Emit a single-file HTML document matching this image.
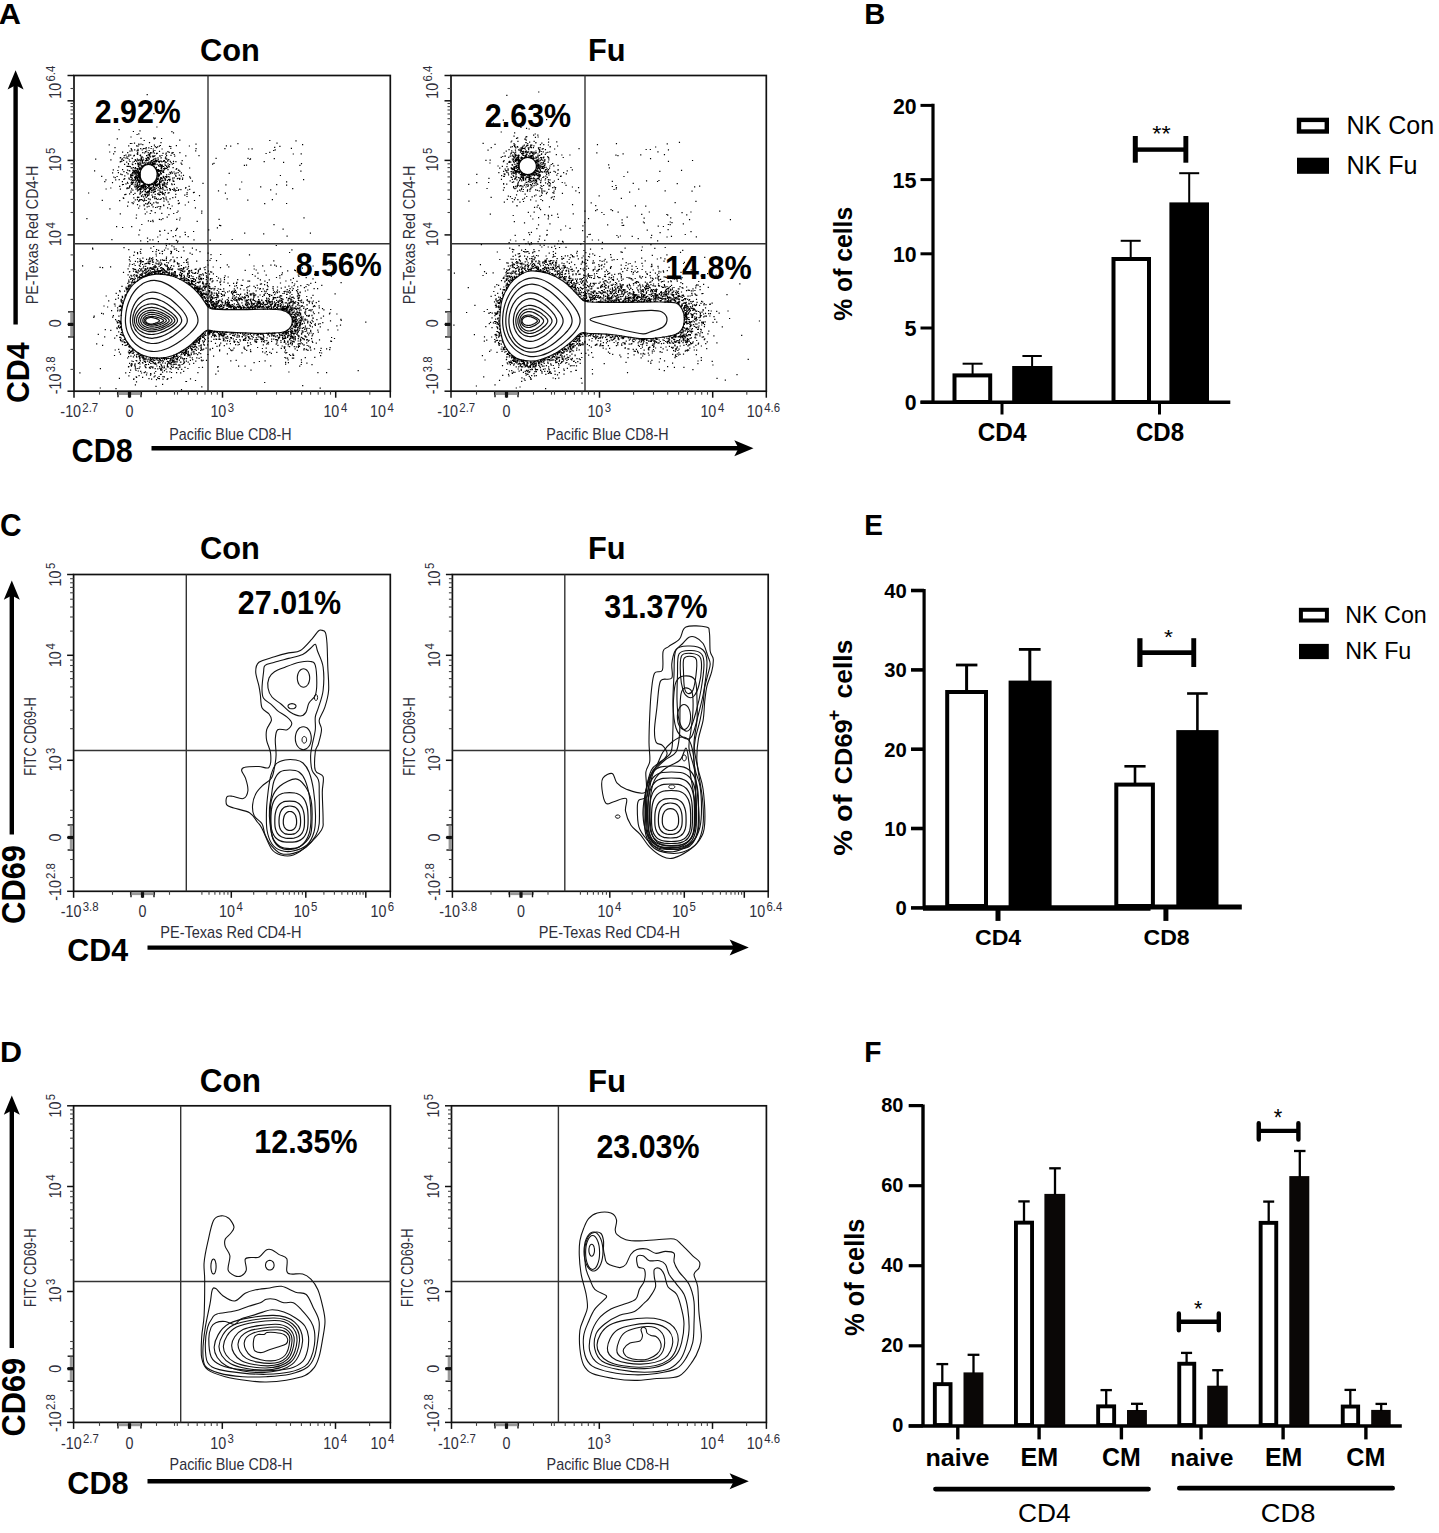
<!DOCTYPE html>
<html><head><meta charset="utf-8"><style>
html,body{margin:0;padding:0;background:#fff;}
svg{display:block;font-family:"Liberation Sans", sans-serif;}
</style></head><body>
<svg width="1439" height="1533" viewBox="0 0 1439 1533">
<rect width="1439" height="1533" fill="#fff"/>
<text x="-1.36" y="23.9" font-size="29.94" font-weight="bold" fill="#000" textLength="22.17" lengthAdjust="spacingAndGlyphs">A</text>
<text x="864.16" y="24" font-size="30.09" font-weight="bold" fill="#000" textLength="20.96" lengthAdjust="spacingAndGlyphs">B</text>
<text x="0.02" y="535.5" font-size="30.51" font-weight="bold" fill="#000" textLength="21.59" lengthAdjust="spacingAndGlyphs">C</text>
<text x="864.23" y="535.4" font-size="29.8" font-weight="bold" fill="#000" textLength="18.67" lengthAdjust="spacingAndGlyphs">E</text>
<text x="0.06" y="1061.7" font-size="29.94" font-weight="bold" fill="#000" textLength="22.02" lengthAdjust="spacingAndGlyphs">D</text>
<text x="864.21" y="1061.7" font-size="29.94" font-weight="bold" fill="#000" textLength="17.22" lengthAdjust="spacingAndGlyphs">F</text>
<text x="200.04" y="60.59" font-size="31.92" font-weight="bold" fill="#000" textLength="59.87" lengthAdjust="spacingAndGlyphs">Con</text>
<text x="587.94" y="60.69" font-size="31.53" font-weight="bold" fill="#000" textLength="37.59" lengthAdjust="spacingAndGlyphs">Fu</text>
<text x="200.04" y="559.09" font-size="31.5" font-weight="bold" fill="#000" textLength="59.87" lengthAdjust="spacingAndGlyphs">Con</text>
<text x="587.94" y="559.29" font-size="31.67" font-weight="bold" fill="#000" textLength="37.59" lengthAdjust="spacingAndGlyphs">Fu</text>
<text x="199.81" y="1091.88" font-size="32.34" font-weight="bold" fill="#000" textLength="61.14" lengthAdjust="spacingAndGlyphs">Con</text>
<text x="587.91" y="1091.69" font-size="31.67" font-weight="bold" fill="#000" textLength="38.15" lengthAdjust="spacingAndGlyphs">Fu</text>
<line x1="15.6" y1="324.5" x2="15.6" y2="84.3" stroke="#000" stroke-width="4.4" stroke-linecap="butt"/>
<path d="M15.6 70.3L23.6 89.5L15.6 85.3L7.6 89.5L15.6 70.3Z" fill="#000"/>
<line x1="151.5" y1="448.2" x2="739.5" y2="448.2" stroke="#000" stroke-width="4.4" stroke-linecap="butt"/>
<path d="M753.5 448.2L734.3 440.2L738.5 448.2L734.3 456.2Z" fill="#000"/>
<line x1="11.8" y1="834.5" x2="11.8" y2="594.5" stroke="#000" stroke-width="4.4" stroke-linecap="butt"/>
<path d="M11.8 580.5L19.8 599.7L11.8 595.5L3.8 599.7L11.8 580.5Z" fill="#000"/>
<line x1="147.5" y1="947.6" x2="734.8" y2="947.6" stroke="#000" stroke-width="4.4" stroke-linecap="butt"/>
<path d="M748.8 947.6L729.6 939.6L733.8 947.6L729.6 955.6Z" fill="#000"/>
<line x1="11.8" y1="1348" x2="11.8" y2="1109.5" stroke="#000" stroke-width="4.4" stroke-linecap="butt"/>
<path d="M11.8 1095.5L19.8 1114.7L11.8 1110.5L3.8 1114.7L11.8 1095.5Z" fill="#000"/>
<line x1="147.5" y1="1481.2" x2="734.8" y2="1481.2" stroke="#000" stroke-width="4.4" stroke-linecap="butt"/>
<path d="M748.8 1481.2L729.6 1473.2L733.8 1481.2L729.6 1489.2Z" fill="#000"/>
<text x="29.19" y="403.04" font-size="31.71" font-weight="bold" fill="#000" textLength="60.71" lengthAdjust="spacingAndGlyphs" transform="rotate(-90 29.19 403.04)">CD4</text>
<text x="25.48" y="923.87" font-size="32.63" font-weight="bold" fill="#000" textLength="78.91" lengthAdjust="spacingAndGlyphs" transform="rotate(-90 25.48 923.87)">CD69</text>
<text x="25.48" y="1436.46" font-size="32.63" font-weight="bold" fill="#000" textLength="78.6" lengthAdjust="spacingAndGlyphs" transform="rotate(-90 25.48 1436.46)">CD69</text>
<text x="71.54" y="461.88" font-size="32.34" font-weight="bold" fill="#000" textLength="61.4" lengthAdjust="spacingAndGlyphs">CD8</text>
<text x="67.35" y="960.89" font-size="32.06" font-weight="bold" fill="#000" textLength="60.81" lengthAdjust="spacingAndGlyphs">CD4</text>
<text x="67.34" y="1494.09" font-size="31.92" font-weight="bold" fill="#000" textLength="61.3" lengthAdjust="spacingAndGlyphs">CD8</text>
<rect x="74" y="75.5" width="316.3" height="315.7" fill="none" stroke="#111" stroke-width="1.7"/>
<line x1="208" y1="75.5" x2="208" y2="391.2" stroke="#333" stroke-width="1.4" stroke-linecap="butt"/>
<line x1="74" y1="243.7" x2="390.3" y2="243.7" stroke="#333" stroke-width="1.4" stroke-linecap="butt"/>
<line x1="129.5" y1="391.2" x2="129.5" y2="397.7" stroke="#111" stroke-width="1.5" stroke-linecap="butt"/>
<line x1="222.5" y1="391.2" x2="222.5" y2="397.7" stroke="#111" stroke-width="1.5" stroke-linecap="butt"/>
<line x1="335.7" y1="391.2" x2="335.7" y2="397.7" stroke="#111" stroke-width="1.5" stroke-linecap="butt"/>
<line x1="74" y1="391.2" x2="74" y2="397.7" stroke="#111" stroke-width="1.5" stroke-linecap="butt"/>
<line x1="390.3" y1="391.2" x2="390.3" y2="397.7" stroke="#111" stroke-width="1.5" stroke-linecap="butt"/>
<line x1="177.5" y1="391.2" x2="177.5" y2="394.7" stroke="#444" stroke-width="1.1" stroke-linecap="butt"/>
<line x1="188.4" y1="391.2" x2="188.4" y2="394.7" stroke="#444" stroke-width="1.1" stroke-linecap="butt"/>
<line x1="197.4" y1="391.2" x2="197.4" y2="394.7" stroke="#444" stroke-width="1.1" stroke-linecap="butt"/>
<line x1="205" y1="391.2" x2="205" y2="394.7" stroke="#444" stroke-width="1.1" stroke-linecap="butt"/>
<line x1="211.5" y1="391.2" x2="211.5" y2="394.7" stroke="#444" stroke-width="1.1" stroke-linecap="butt"/>
<line x1="217.3" y1="391.2" x2="217.3" y2="394.7" stroke="#444" stroke-width="1.1" stroke-linecap="butt"/>
<line x1="256.6" y1="391.2" x2="256.6" y2="394.7" stroke="#444" stroke-width="1.1" stroke-linecap="butt"/>
<line x1="276.5" y1="391.2" x2="276.5" y2="394.7" stroke="#444" stroke-width="1.1" stroke-linecap="butt"/>
<line x1="290.7" y1="391.2" x2="290.7" y2="394.7" stroke="#444" stroke-width="1.1" stroke-linecap="butt"/>
<line x1="301.6" y1="391.2" x2="301.6" y2="394.7" stroke="#444" stroke-width="1.1" stroke-linecap="butt"/>
<line x1="310.6" y1="391.2" x2="310.6" y2="394.7" stroke="#444" stroke-width="1.1" stroke-linecap="butt"/>
<line x1="318.2" y1="391.2" x2="318.2" y2="394.7" stroke="#444" stroke-width="1.1" stroke-linecap="butt"/>
<line x1="324.7" y1="391.2" x2="324.7" y2="394.7" stroke="#444" stroke-width="1.1" stroke-linecap="butt"/>
<line x1="330.5" y1="391.2" x2="330.5" y2="394.7" stroke="#444" stroke-width="1.1" stroke-linecap="butt"/>
<line x1="369.8" y1="391.2" x2="369.8" y2="394.7" stroke="#444" stroke-width="1.1" stroke-linecap="butt"/>
<line x1="117.5" y1="391.2" x2="117.5" y2="394.7" stroke="#444" stroke-width="1.1" stroke-linecap="butt"/>
<line x1="141.5" y1="391.2" x2="141.5" y2="394.7" stroke="#444" stroke-width="1.1" stroke-linecap="butt"/>
<line x1="99.5" y1="391.2" x2="99.5" y2="394.7" stroke="#444" stroke-width="1.1" stroke-linecap="butt"/>
<line x1="156.5" y1="391.2" x2="156.5" y2="394.7" stroke="#444" stroke-width="1.1" stroke-linecap="butt"/>
<line x1="174.5" y1="391.2" x2="174.5" y2="394.7" stroke="#444" stroke-width="1.1" stroke-linecap="butt"/>
<line x1="67.5" y1="100.8" x2="74" y2="100.8" stroke="#111" stroke-width="1.5" stroke-linecap="butt"/>
<line x1="67.5" y1="160.4" x2="74" y2="160.4" stroke="#111" stroke-width="1.5" stroke-linecap="butt"/>
<line x1="67.5" y1="234.9" x2="74" y2="234.9" stroke="#111" stroke-width="1.5" stroke-linecap="butt"/>
<line x1="67.5" y1="324.4" x2="74" y2="324.4" stroke="#111" stroke-width="1.5" stroke-linecap="butt"/>
<line x1="67.5" y1="75.5" x2="74" y2="75.5" stroke="#111" stroke-width="1.5" stroke-linecap="butt"/>
<line x1="67.5" y1="391.2" x2="74" y2="391.2" stroke="#111" stroke-width="1.5" stroke-linecap="butt"/>
<line x1="70.5" y1="142.5" x2="74" y2="142.5" stroke="#444" stroke-width="1.1" stroke-linecap="butt"/>
<line x1="70.5" y1="132" x2="74" y2="132" stroke="#444" stroke-width="1.1" stroke-linecap="butt"/>
<line x1="70.5" y1="124.5" x2="74" y2="124.5" stroke="#444" stroke-width="1.1" stroke-linecap="butt"/>
<line x1="70.5" y1="118.7" x2="74" y2="118.7" stroke="#444" stroke-width="1.1" stroke-linecap="butt"/>
<line x1="70.5" y1="114" x2="74" y2="114" stroke="#444" stroke-width="1.1" stroke-linecap="butt"/>
<line x1="70.5" y1="110" x2="74" y2="110" stroke="#444" stroke-width="1.1" stroke-linecap="butt"/>
<line x1="70.5" y1="106.6" x2="74" y2="106.6" stroke="#444" stroke-width="1.1" stroke-linecap="butt"/>
<line x1="70.5" y1="103.5" x2="74" y2="103.5" stroke="#444" stroke-width="1.1" stroke-linecap="butt"/>
<line x1="70.5" y1="212.5" x2="74" y2="212.5" stroke="#444" stroke-width="1.1" stroke-linecap="butt"/>
<line x1="70.5" y1="199.4" x2="74" y2="199.4" stroke="#444" stroke-width="1.1" stroke-linecap="butt"/>
<line x1="70.5" y1="190" x2="74" y2="190" stroke="#444" stroke-width="1.1" stroke-linecap="butt"/>
<line x1="70.5" y1="182.8" x2="74" y2="182.8" stroke="#444" stroke-width="1.1" stroke-linecap="butt"/>
<line x1="70.5" y1="176.9" x2="74" y2="176.9" stroke="#444" stroke-width="1.1" stroke-linecap="butt"/>
<line x1="70.5" y1="171.9" x2="74" y2="171.9" stroke="#444" stroke-width="1.1" stroke-linecap="butt"/>
<line x1="70.5" y1="167.6" x2="74" y2="167.6" stroke="#444" stroke-width="1.1" stroke-linecap="butt"/>
<line x1="70.5" y1="163.8" x2="74" y2="163.8" stroke="#444" stroke-width="1.1" stroke-linecap="butt"/>
<line x1="70.5" y1="254.9" x2="74" y2="254.9" stroke="#444" stroke-width="1.1" stroke-linecap="butt"/>
<line x1="70.5" y1="269.9" x2="74" y2="269.9" stroke="#444" stroke-width="1.1" stroke-linecap="butt"/>
<line x1="70.5" y1="299.4" x2="74" y2="299.4" stroke="#444" stroke-width="1.1" stroke-linecap="butt"/>
<line x1="70.5" y1="349.4" x2="74" y2="349.4" stroke="#444" stroke-width="1.1" stroke-linecap="butt"/>
<line x1="70.5" y1="369.4" x2="74" y2="369.4" stroke="#444" stroke-width="1.1" stroke-linecap="butt"/>
<line x1="70.5" y1="88.5" x2="74" y2="88.5" stroke="#444" stroke-width="1.1" stroke-linecap="butt"/>
<line x1="118" y1="391.2" x2="118" y2="397.2" stroke="#111" stroke-width="1.4" stroke-linecap="butt"/>
<line x1="141" y1="391.2" x2="141" y2="397.2" stroke="#111" stroke-width="1.4" stroke-linecap="butt"/>
<rect x="118.5" y="392" width="22" height="3" fill="#999" stroke="none" stroke-width="0"/>
<rect x="127.9" y="392" width="3.2" height="5.5" fill="#111" stroke="none" stroke-width="0"/>
<line x1="68" y1="311.9" x2="74" y2="311.9" stroke="#111" stroke-width="1.4" stroke-linecap="butt"/>
<line x1="68" y1="336.9" x2="74" y2="336.9" stroke="#111" stroke-width="1.4" stroke-linecap="butt"/>
<rect x="70.2" y="312.4" width="3" height="24" fill="#999" stroke="none" stroke-width="0"/>
<rect x="68" y="322.8" width="5.5" height="3.2" fill="#111" stroke="none" stroke-width="0"/>
<g transform="translate(61 417.2)" fill="#2e2e3a"><text x="-0.64" y="0" font-size="16.64" textLength="20.69" lengthAdjust="spacingAndGlyphs">-10</text><text x="21.32" y="-5.7" font-size="13.26" textLength="15.85" lengthAdjust="spacingAndGlyphs">2.7</text></g>
<g transform="translate(126.08 417.2)" fill="#2e2e3a"><text x="-0.56" y="0" font-size="16.64" textLength="7.96" lengthAdjust="spacingAndGlyphs">0</text></g>
<g transform="translate(211.46 417.2)" fill="#2e2e3a"><text x="-1.09" y="0" font-size="16.64" textLength="15.92" lengthAdjust="spacingAndGlyphs">10</text><text x="16.24" y="-5.7" font-size="13.26" textLength="6.34" lengthAdjust="spacingAndGlyphs">3</text></g>
<g transform="translate(324.49 417.2)" fill="#2e2e3a"><text x="-1.09" y="0" font-size="16.64" textLength="15.92" lengthAdjust="spacingAndGlyphs">10</text><text x="16.41" y="-5.7" font-size="13.26" textLength="6.34" lengthAdjust="spacingAndGlyphs">4</text></g>
<g transform="translate(371 417.2)" fill="#2e2e3a"><text x="-1.09" y="0" font-size="16.64" textLength="15.92" lengthAdjust="spacingAndGlyphs">10</text><text x="16.41" y="-5.7" font-size="13.26" textLength="6.34" lengthAdjust="spacingAndGlyphs">4</text></g>
<g transform="translate(61.15 97.6) rotate(-90)" fill="#2e2e3a"><text x="-1.09" y="0" font-size="16.64" textLength="15.92" lengthAdjust="spacingAndGlyphs">10</text><text x="16.09" y="-5.7" font-size="13.26" textLength="15.85" lengthAdjust="spacingAndGlyphs">6.4</text></g>
<g transform="translate(61.15 170.24) rotate(-90)" fill="#2e2e3a"><text x="-1.09" y="0" font-size="16.64" textLength="15.92" lengthAdjust="spacingAndGlyphs">10</text><text x="16.21" y="-5.7" font-size="13.26" textLength="6.34" lengthAdjust="spacingAndGlyphs">5</text></g>
<g transform="translate(61.15 244.91) rotate(-90)" fill="#2e2e3a"><text x="-1.09" y="0" font-size="16.64" textLength="15.92" lengthAdjust="spacingAndGlyphs">10</text><text x="16.41" y="-5.7" font-size="13.26" textLength="6.34" lengthAdjust="spacingAndGlyphs">4</text></g>
<g transform="translate(61.15 326.7) rotate(-90)" fill="#2e2e3a"><text x="-0.56" y="0" font-size="16.64" textLength="7.96" lengthAdjust="spacingAndGlyphs">0</text></g>
<g transform="translate(61.15 393.7) rotate(-90)" fill="#2e2e3a"><text x="-0.64" y="0" font-size="16.64" textLength="20.69" lengthAdjust="spacingAndGlyphs">-10</text><text x="21.46" y="-5.7" font-size="13.26" textLength="15.85" lengthAdjust="spacingAndGlyphs">3.8</text></g>
<text x="169.3" y="439.5" font-size="17" fill="#2e2e3a" textLength="122.3" lengthAdjust="spacingAndGlyphs">Pacific Blue CD8-H</text>
<text x="37.6" y="304.2" font-size="17" fill="#2e2e3a" textLength="138.6" lengthAdjust="spacingAndGlyphs" transform="rotate(-90 37.6 304.2)">PE-Texas Red CD4-H</text>
<rect x="451" y="75.5" width="315.3" height="315.7" fill="none" stroke="#111" stroke-width="1.7"/>
<line x1="585" y1="75.5" x2="585" y2="391.2" stroke="#333" stroke-width="1.4" stroke-linecap="butt"/>
<line x1="451" y1="243.7" x2="766.3" y2="243.7" stroke="#333" stroke-width="1.4" stroke-linecap="butt"/>
<line x1="506.5" y1="391.2" x2="506.5" y2="397.7" stroke="#111" stroke-width="1.5" stroke-linecap="butt"/>
<line x1="599.5" y1="391.2" x2="599.5" y2="397.7" stroke="#111" stroke-width="1.5" stroke-linecap="butt"/>
<line x1="712.7" y1="391.2" x2="712.7" y2="397.7" stroke="#111" stroke-width="1.5" stroke-linecap="butt"/>
<line x1="451" y1="391.2" x2="451" y2="397.7" stroke="#111" stroke-width="1.5" stroke-linecap="butt"/>
<line x1="766.3" y1="391.2" x2="766.3" y2="397.7" stroke="#111" stroke-width="1.5" stroke-linecap="butt"/>
<line x1="554.5" y1="391.2" x2="554.5" y2="394.7" stroke="#444" stroke-width="1.1" stroke-linecap="butt"/>
<line x1="565.4" y1="391.2" x2="565.4" y2="394.7" stroke="#444" stroke-width="1.1" stroke-linecap="butt"/>
<line x1="574.4" y1="391.2" x2="574.4" y2="394.7" stroke="#444" stroke-width="1.1" stroke-linecap="butt"/>
<line x1="582" y1="391.2" x2="582" y2="394.7" stroke="#444" stroke-width="1.1" stroke-linecap="butt"/>
<line x1="588.5" y1="391.2" x2="588.5" y2="394.7" stroke="#444" stroke-width="1.1" stroke-linecap="butt"/>
<line x1="594.3" y1="391.2" x2="594.3" y2="394.7" stroke="#444" stroke-width="1.1" stroke-linecap="butt"/>
<line x1="633.6" y1="391.2" x2="633.6" y2="394.7" stroke="#444" stroke-width="1.1" stroke-linecap="butt"/>
<line x1="653.5" y1="391.2" x2="653.5" y2="394.7" stroke="#444" stroke-width="1.1" stroke-linecap="butt"/>
<line x1="667.7" y1="391.2" x2="667.7" y2="394.7" stroke="#444" stroke-width="1.1" stroke-linecap="butt"/>
<line x1="678.6" y1="391.2" x2="678.6" y2="394.7" stroke="#444" stroke-width="1.1" stroke-linecap="butt"/>
<line x1="687.6" y1="391.2" x2="687.6" y2="394.7" stroke="#444" stroke-width="1.1" stroke-linecap="butt"/>
<line x1="695.2" y1="391.2" x2="695.2" y2="394.7" stroke="#444" stroke-width="1.1" stroke-linecap="butt"/>
<line x1="701.7" y1="391.2" x2="701.7" y2="394.7" stroke="#444" stroke-width="1.1" stroke-linecap="butt"/>
<line x1="707.5" y1="391.2" x2="707.5" y2="394.7" stroke="#444" stroke-width="1.1" stroke-linecap="butt"/>
<line x1="746.8" y1="391.2" x2="746.8" y2="394.7" stroke="#444" stroke-width="1.1" stroke-linecap="butt"/>
<line x1="494.5" y1="391.2" x2="494.5" y2="394.7" stroke="#444" stroke-width="1.1" stroke-linecap="butt"/>
<line x1="518.5" y1="391.2" x2="518.5" y2="394.7" stroke="#444" stroke-width="1.1" stroke-linecap="butt"/>
<line x1="476.5" y1="391.2" x2="476.5" y2="394.7" stroke="#444" stroke-width="1.1" stroke-linecap="butt"/>
<line x1="533.5" y1="391.2" x2="533.5" y2="394.7" stroke="#444" stroke-width="1.1" stroke-linecap="butt"/>
<line x1="551.5" y1="391.2" x2="551.5" y2="394.7" stroke="#444" stroke-width="1.1" stroke-linecap="butt"/>
<line x1="444.5" y1="100.8" x2="451" y2="100.8" stroke="#111" stroke-width="1.5" stroke-linecap="butt"/>
<line x1="444.5" y1="160.4" x2="451" y2="160.4" stroke="#111" stroke-width="1.5" stroke-linecap="butt"/>
<line x1="444.5" y1="234.9" x2="451" y2="234.9" stroke="#111" stroke-width="1.5" stroke-linecap="butt"/>
<line x1="444.5" y1="324.4" x2="451" y2="324.4" stroke="#111" stroke-width="1.5" stroke-linecap="butt"/>
<line x1="444.5" y1="75.5" x2="451" y2="75.5" stroke="#111" stroke-width="1.5" stroke-linecap="butt"/>
<line x1="444.5" y1="391.2" x2="451" y2="391.2" stroke="#111" stroke-width="1.5" stroke-linecap="butt"/>
<line x1="447.5" y1="142.5" x2="451" y2="142.5" stroke="#444" stroke-width="1.1" stroke-linecap="butt"/>
<line x1="447.5" y1="132" x2="451" y2="132" stroke="#444" stroke-width="1.1" stroke-linecap="butt"/>
<line x1="447.5" y1="124.5" x2="451" y2="124.5" stroke="#444" stroke-width="1.1" stroke-linecap="butt"/>
<line x1="447.5" y1="118.7" x2="451" y2="118.7" stroke="#444" stroke-width="1.1" stroke-linecap="butt"/>
<line x1="447.5" y1="114" x2="451" y2="114" stroke="#444" stroke-width="1.1" stroke-linecap="butt"/>
<line x1="447.5" y1="110" x2="451" y2="110" stroke="#444" stroke-width="1.1" stroke-linecap="butt"/>
<line x1="447.5" y1="106.6" x2="451" y2="106.6" stroke="#444" stroke-width="1.1" stroke-linecap="butt"/>
<line x1="447.5" y1="103.5" x2="451" y2="103.5" stroke="#444" stroke-width="1.1" stroke-linecap="butt"/>
<line x1="447.5" y1="212.5" x2="451" y2="212.5" stroke="#444" stroke-width="1.1" stroke-linecap="butt"/>
<line x1="447.5" y1="199.4" x2="451" y2="199.4" stroke="#444" stroke-width="1.1" stroke-linecap="butt"/>
<line x1="447.5" y1="190" x2="451" y2="190" stroke="#444" stroke-width="1.1" stroke-linecap="butt"/>
<line x1="447.5" y1="182.8" x2="451" y2="182.8" stroke="#444" stroke-width="1.1" stroke-linecap="butt"/>
<line x1="447.5" y1="176.9" x2="451" y2="176.9" stroke="#444" stroke-width="1.1" stroke-linecap="butt"/>
<line x1="447.5" y1="171.9" x2="451" y2="171.9" stroke="#444" stroke-width="1.1" stroke-linecap="butt"/>
<line x1="447.5" y1="167.6" x2="451" y2="167.6" stroke="#444" stroke-width="1.1" stroke-linecap="butt"/>
<line x1="447.5" y1="163.8" x2="451" y2="163.8" stroke="#444" stroke-width="1.1" stroke-linecap="butt"/>
<line x1="447.5" y1="254.9" x2="451" y2="254.9" stroke="#444" stroke-width="1.1" stroke-linecap="butt"/>
<line x1="447.5" y1="269.9" x2="451" y2="269.9" stroke="#444" stroke-width="1.1" stroke-linecap="butt"/>
<line x1="447.5" y1="299.4" x2="451" y2="299.4" stroke="#444" stroke-width="1.1" stroke-linecap="butt"/>
<line x1="447.5" y1="349.4" x2="451" y2="349.4" stroke="#444" stroke-width="1.1" stroke-linecap="butt"/>
<line x1="447.5" y1="369.4" x2="451" y2="369.4" stroke="#444" stroke-width="1.1" stroke-linecap="butt"/>
<line x1="447.5" y1="88.5" x2="451" y2="88.5" stroke="#444" stroke-width="1.1" stroke-linecap="butt"/>
<line x1="495" y1="391.2" x2="495" y2="397.2" stroke="#111" stroke-width="1.4" stroke-linecap="butt"/>
<line x1="518" y1="391.2" x2="518" y2="397.2" stroke="#111" stroke-width="1.4" stroke-linecap="butt"/>
<rect x="495.5" y="392" width="22" height="3" fill="#999" stroke="none" stroke-width="0"/>
<rect x="504.9" y="392" width="3.2" height="5.5" fill="#111" stroke="none" stroke-width="0"/>
<line x1="445" y1="311.9" x2="451" y2="311.9" stroke="#111" stroke-width="1.4" stroke-linecap="butt"/>
<line x1="445" y1="336.9" x2="451" y2="336.9" stroke="#111" stroke-width="1.4" stroke-linecap="butt"/>
<rect x="447.2" y="312.4" width="3" height="24" fill="#999" stroke="none" stroke-width="0"/>
<rect x="445" y="322.8" width="5.5" height="3.2" fill="#111" stroke="none" stroke-width="0"/>
<g transform="translate(438 417.2)" fill="#2e2e3a"><text x="-0.64" y="0" font-size="16.64" textLength="20.69" lengthAdjust="spacingAndGlyphs">-10</text><text x="21.32" y="-5.7" font-size="13.26" textLength="15.85" lengthAdjust="spacingAndGlyphs">2.7</text></g>
<g transform="translate(503.08 417.2)" fill="#2e2e3a"><text x="-0.56" y="0" font-size="16.64" textLength="7.96" lengthAdjust="spacingAndGlyphs">0</text></g>
<g transform="translate(588.46 417.2)" fill="#2e2e3a"><text x="-1.09" y="0" font-size="16.64" textLength="15.92" lengthAdjust="spacingAndGlyphs">10</text><text x="16.24" y="-5.7" font-size="13.26" textLength="6.34" lengthAdjust="spacingAndGlyphs">3</text></g>
<g transform="translate(701.49 417.2)" fill="#2e2e3a"><text x="-1.09" y="0" font-size="16.64" textLength="15.92" lengthAdjust="spacingAndGlyphs">10</text><text x="16.41" y="-5.7" font-size="13.26" textLength="6.34" lengthAdjust="spacingAndGlyphs">4</text></g>
<g transform="translate(747.8 417.2)" fill="#2e2e3a"><text x="-1.09" y="0" font-size="16.64" textLength="15.92" lengthAdjust="spacingAndGlyphs">10</text><text x="16.41" y="-5.7" font-size="13.26" textLength="15.85" lengthAdjust="spacingAndGlyphs">4.6</text></g>
<g transform="translate(438.15 97.6) rotate(-90)" fill="#2e2e3a"><text x="-1.09" y="0" font-size="16.64" textLength="15.92" lengthAdjust="spacingAndGlyphs">10</text><text x="16.09" y="-5.7" font-size="13.26" textLength="15.85" lengthAdjust="spacingAndGlyphs">6.4</text></g>
<g transform="translate(438.15 170.24) rotate(-90)" fill="#2e2e3a"><text x="-1.09" y="0" font-size="16.64" textLength="15.92" lengthAdjust="spacingAndGlyphs">10</text><text x="16.21" y="-5.7" font-size="13.26" textLength="6.34" lengthAdjust="spacingAndGlyphs">5</text></g>
<g transform="translate(438.15 244.91) rotate(-90)" fill="#2e2e3a"><text x="-1.09" y="0" font-size="16.64" textLength="15.92" lengthAdjust="spacingAndGlyphs">10</text><text x="16.41" y="-5.7" font-size="13.26" textLength="6.34" lengthAdjust="spacingAndGlyphs">4</text></g>
<g transform="translate(438.15 326.7) rotate(-90)" fill="#2e2e3a"><text x="-0.56" y="0" font-size="16.64" textLength="7.96" lengthAdjust="spacingAndGlyphs">0</text></g>
<g transform="translate(438.15 393.7) rotate(-90)" fill="#2e2e3a"><text x="-0.64" y="0" font-size="16.64" textLength="20.69" lengthAdjust="spacingAndGlyphs">-10</text><text x="21.46" y="-5.7" font-size="13.26" textLength="15.85" lengthAdjust="spacingAndGlyphs">3.8</text></g>
<text x="546.3" y="439.5" font-size="17" fill="#2e2e3a" textLength="122.3" lengthAdjust="spacingAndGlyphs">Pacific Blue CD8-H</text>
<text x="414.6" y="304.2" font-size="17" fill="#2e2e3a" textLength="138.6" lengthAdjust="spacingAndGlyphs" transform="rotate(-90 414.6 304.2)">PE-Texas Red CD4-H</text>
<rect x="73.6" y="574.5" width="316.7" height="316.8" fill="none" stroke="#111" stroke-width="1.7"/>
<line x1="186.3" y1="574.5" x2="186.3" y2="891.3" stroke="#333" stroke-width="1.4" stroke-linecap="butt"/>
<line x1="73.6" y1="750.5" x2="390.3" y2="750.5" stroke="#333" stroke-width="1.4" stroke-linecap="butt"/>
<line x1="142.5" y1="891.3" x2="142.5" y2="897.8" stroke="#111" stroke-width="1.5" stroke-linecap="butt"/>
<line x1="231.3" y1="891.3" x2="231.3" y2="897.8" stroke="#111" stroke-width="1.5" stroke-linecap="butt"/>
<line x1="305.8" y1="891.3" x2="305.8" y2="897.8" stroke="#111" stroke-width="1.5" stroke-linecap="butt"/>
<line x1="365.8" y1="891.3" x2="365.8" y2="897.8" stroke="#111" stroke-width="1.5" stroke-linecap="butt"/>
<line x1="73.6" y1="891.3" x2="73.6" y2="897.8" stroke="#111" stroke-width="1.5" stroke-linecap="butt"/>
<line x1="390.3" y1="891.3" x2="390.3" y2="897.8" stroke="#111" stroke-width="1.5" stroke-linecap="butt"/>
<line x1="253.7" y1="891.3" x2="253.7" y2="894.8" stroke="#444" stroke-width="1.1" stroke-linecap="butt"/>
<line x1="266.8" y1="891.3" x2="266.8" y2="894.8" stroke="#444" stroke-width="1.1" stroke-linecap="butt"/>
<line x1="276.2" y1="891.3" x2="276.2" y2="894.8" stroke="#444" stroke-width="1.1" stroke-linecap="butt"/>
<line x1="283.4" y1="891.3" x2="283.4" y2="894.8" stroke="#444" stroke-width="1.1" stroke-linecap="butt"/>
<line x1="289.3" y1="891.3" x2="289.3" y2="894.8" stroke="#444" stroke-width="1.1" stroke-linecap="butt"/>
<line x1="294.3" y1="891.3" x2="294.3" y2="894.8" stroke="#444" stroke-width="1.1" stroke-linecap="butt"/>
<line x1="298.6" y1="891.3" x2="298.6" y2="894.8" stroke="#444" stroke-width="1.1" stroke-linecap="butt"/>
<line x1="302.4" y1="891.3" x2="302.4" y2="894.8" stroke="#444" stroke-width="1.1" stroke-linecap="butt"/>
<line x1="323.9" y1="891.3" x2="323.9" y2="894.8" stroke="#444" stroke-width="1.1" stroke-linecap="butt"/>
<line x1="334.4" y1="891.3" x2="334.4" y2="894.8" stroke="#444" stroke-width="1.1" stroke-linecap="butt"/>
<line x1="341.9" y1="891.3" x2="341.9" y2="894.8" stroke="#444" stroke-width="1.1" stroke-linecap="butt"/>
<line x1="347.7" y1="891.3" x2="347.7" y2="894.8" stroke="#444" stroke-width="1.1" stroke-linecap="butt"/>
<line x1="352.5" y1="891.3" x2="352.5" y2="894.8" stroke="#444" stroke-width="1.1" stroke-linecap="butt"/>
<line x1="356.5" y1="891.3" x2="356.5" y2="894.8" stroke="#444" stroke-width="1.1" stroke-linecap="butt"/>
<line x1="360" y1="891.3" x2="360" y2="894.8" stroke="#444" stroke-width="1.1" stroke-linecap="butt"/>
<line x1="363.1" y1="891.3" x2="363.1" y2="894.8" stroke="#444" stroke-width="1.1" stroke-linecap="butt"/>
<line x1="201.9" y1="891.3" x2="201.9" y2="894.8" stroke="#444" stroke-width="1.1" stroke-linecap="butt"/>
<line x1="209" y1="891.3" x2="209" y2="894.8" stroke="#444" stroke-width="1.1" stroke-linecap="butt"/>
<line x1="214.9" y1="891.3" x2="214.9" y2="894.8" stroke="#444" stroke-width="1.1" stroke-linecap="butt"/>
<line x1="219.8" y1="891.3" x2="219.8" y2="894.8" stroke="#444" stroke-width="1.1" stroke-linecap="butt"/>
<line x1="224.1" y1="891.3" x2="224.1" y2="894.8" stroke="#444" stroke-width="1.1" stroke-linecap="butt"/>
<line x1="227.9" y1="891.3" x2="227.9" y2="894.8" stroke="#444" stroke-width="1.1" stroke-linecap="butt"/>
<line x1="130.5" y1="891.3" x2="130.5" y2="894.8" stroke="#444" stroke-width="1.1" stroke-linecap="butt"/>
<line x1="154.5" y1="891.3" x2="154.5" y2="894.8" stroke="#444" stroke-width="1.1" stroke-linecap="butt"/>
<line x1="112.5" y1="891.3" x2="112.5" y2="894.8" stroke="#444" stroke-width="1.1" stroke-linecap="butt"/>
<line x1="169.5" y1="891.3" x2="169.5" y2="894.8" stroke="#444" stroke-width="1.1" stroke-linecap="butt"/>
<line x1="67.1" y1="655.3" x2="73.6" y2="655.3" stroke="#111" stroke-width="1.5" stroke-linecap="butt"/>
<line x1="67.1" y1="760.3" x2="73.6" y2="760.3" stroke="#111" stroke-width="1.5" stroke-linecap="butt"/>
<line x1="67.1" y1="837.5" x2="73.6" y2="837.5" stroke="#111" stroke-width="1.5" stroke-linecap="butt"/>
<line x1="67.1" y1="574.5" x2="73.6" y2="574.5" stroke="#111" stroke-width="1.5" stroke-linecap="butt"/>
<line x1="67.1" y1="891.3" x2="73.6" y2="891.3" stroke="#111" stroke-width="1.5" stroke-linecap="butt"/>
<line x1="70.1" y1="631.1" x2="73.6" y2="631.1" stroke="#444" stroke-width="1.1" stroke-linecap="butt"/>
<line x1="70.1" y1="617" x2="73.6" y2="617" stroke="#444" stroke-width="1.1" stroke-linecap="butt"/>
<line x1="70.1" y1="607" x2="73.6" y2="607" stroke="#444" stroke-width="1.1" stroke-linecap="butt"/>
<line x1="70.1" y1="599.2" x2="73.6" y2="599.2" stroke="#444" stroke-width="1.1" stroke-linecap="butt"/>
<line x1="70.1" y1="592.8" x2="73.6" y2="592.8" stroke="#444" stroke-width="1.1" stroke-linecap="butt"/>
<line x1="70.1" y1="587.4" x2="73.6" y2="587.4" stroke="#444" stroke-width="1.1" stroke-linecap="butt"/>
<line x1="70.1" y1="582.8" x2="73.6" y2="582.8" stroke="#444" stroke-width="1.1" stroke-linecap="butt"/>
<line x1="70.1" y1="578.7" x2="73.6" y2="578.7" stroke="#444" stroke-width="1.1" stroke-linecap="butt"/>
<line x1="70.1" y1="728.7" x2="73.6" y2="728.7" stroke="#444" stroke-width="1.1" stroke-linecap="butt"/>
<line x1="70.1" y1="710.2" x2="73.6" y2="710.2" stroke="#444" stroke-width="1.1" stroke-linecap="butt"/>
<line x1="70.1" y1="697.1" x2="73.6" y2="697.1" stroke="#444" stroke-width="1.1" stroke-linecap="butt"/>
<line x1="70.1" y1="686.9" x2="73.6" y2="686.9" stroke="#444" stroke-width="1.1" stroke-linecap="butt"/>
<line x1="70.1" y1="678.6" x2="73.6" y2="678.6" stroke="#444" stroke-width="1.1" stroke-linecap="butt"/>
<line x1="70.1" y1="671.6" x2="73.6" y2="671.6" stroke="#444" stroke-width="1.1" stroke-linecap="butt"/>
<line x1="70.1" y1="665.5" x2="73.6" y2="665.5" stroke="#444" stroke-width="1.1" stroke-linecap="butt"/>
<line x1="70.1" y1="660.1" x2="73.6" y2="660.1" stroke="#444" stroke-width="1.1" stroke-linecap="butt"/>
<line x1="70.1" y1="790.3" x2="73.6" y2="790.3" stroke="#444" stroke-width="1.1" stroke-linecap="butt"/>
<line x1="70.1" y1="810.3" x2="73.6" y2="810.3" stroke="#444" stroke-width="1.1" stroke-linecap="butt"/>
<line x1="70.1" y1="817.5" x2="73.6" y2="817.5" stroke="#444" stroke-width="1.1" stroke-linecap="butt"/>
<line x1="70.1" y1="859.5" x2="73.6" y2="859.5" stroke="#444" stroke-width="1.1" stroke-linecap="butt"/>
<line x1="70.1" y1="877.5" x2="73.6" y2="877.5" stroke="#444" stroke-width="1.1" stroke-linecap="butt"/>
<line x1="131" y1="891.3" x2="131" y2="897.3" stroke="#111" stroke-width="1.4" stroke-linecap="butt"/>
<line x1="154" y1="891.3" x2="154" y2="897.3" stroke="#111" stroke-width="1.4" stroke-linecap="butt"/>
<rect x="131.5" y="892.1" width="22" height="3" fill="#999" stroke="none" stroke-width="0"/>
<rect x="140.9" y="892.1" width="3.2" height="5.5" fill="#111" stroke="none" stroke-width="0"/>
<line x1="67.6" y1="825" x2="73.6" y2="825" stroke="#111" stroke-width="1.4" stroke-linecap="butt"/>
<line x1="67.6" y1="850" x2="73.6" y2="850" stroke="#111" stroke-width="1.4" stroke-linecap="butt"/>
<rect x="69.8" y="825.5" width="3" height="24" fill="#999" stroke="none" stroke-width="0"/>
<rect x="67.6" y="835.9" width="5.5" height="3.2" fill="#111" stroke="none" stroke-width="0"/>
<g transform="translate(61.3 916.7)" fill="#2e2e3a"><text x="-0.64" y="0" font-size="16.64" textLength="20.69" lengthAdjust="spacingAndGlyphs">-10</text><text x="21.46" y="-5.7" font-size="13.26" textLength="15.85" lengthAdjust="spacingAndGlyphs">3.8</text></g>
<g transform="translate(139.08 916.7)" fill="#2e2e3a"><text x="-0.56" y="0" font-size="16.64" textLength="7.96" lengthAdjust="spacingAndGlyphs">0</text></g>
<g transform="translate(220.09 916.7)" fill="#2e2e3a"><text x="-1.09" y="0" font-size="16.64" textLength="15.92" lengthAdjust="spacingAndGlyphs">10</text><text x="16.41" y="-5.7" font-size="13.26" textLength="6.34" lengthAdjust="spacingAndGlyphs">4</text></g>
<g transform="translate(294.76 916.7)" fill="#2e2e3a"><text x="-1.09" y="0" font-size="16.64" textLength="15.92" lengthAdjust="spacingAndGlyphs">10</text><text x="16.21" y="-5.7" font-size="13.26" textLength="6.34" lengthAdjust="spacingAndGlyphs">5</text></g>
<g transform="translate(371.7 916.7)" fill="#2e2e3a"><text x="-1.09" y="0" font-size="16.64" textLength="15.92" lengthAdjust="spacingAndGlyphs">10</text><text x="16.09" y="-5.7" font-size="13.26" textLength="6.34" lengthAdjust="spacingAndGlyphs">6</text></g>
<g transform="translate(60.75 585.3) rotate(-90)" fill="#2e2e3a"><text x="-1.09" y="0" font-size="16.64" textLength="15.92" lengthAdjust="spacingAndGlyphs">10</text><text x="16.21" y="-5.7" font-size="13.26" textLength="6.34" lengthAdjust="spacingAndGlyphs">5</text></g>
<g transform="translate(60.75 666.01) rotate(-90)" fill="#2e2e3a"><text x="-1.09" y="0" font-size="16.64" textLength="15.92" lengthAdjust="spacingAndGlyphs">10</text><text x="16.41" y="-5.7" font-size="13.26" textLength="6.34" lengthAdjust="spacingAndGlyphs">4</text></g>
<g transform="translate(60.75 770.14) rotate(-90)" fill="#2e2e3a"><text x="-1.09" y="0" font-size="16.64" textLength="15.92" lengthAdjust="spacingAndGlyphs">10</text><text x="16.24" y="-5.7" font-size="13.26" textLength="6.34" lengthAdjust="spacingAndGlyphs">3</text></g>
<g transform="translate(60.75 841) rotate(-90)" fill="#2e2e3a"><text x="-0.56" y="0" font-size="16.64" textLength="7.96" lengthAdjust="spacingAndGlyphs">0</text></g>
<g transform="translate(60.75 900.2) rotate(-90)" fill="#2e2e3a"><text x="-0.64" y="0" font-size="16.64" textLength="20.69" lengthAdjust="spacingAndGlyphs">-10</text><text x="21.32" y="-5.7" font-size="13.26" textLength="15.85" lengthAdjust="spacingAndGlyphs">2.8</text></g>
<text x="160.3" y="938" font-size="17" fill="#2e2e3a" textLength="141.2" lengthAdjust="spacingAndGlyphs">PE-Texas Red CD4-H</text>
<text x="36.2" y="775.8" font-size="17" fill="#2e2e3a" textLength="78.5" lengthAdjust="spacingAndGlyphs" transform="rotate(-90 36.2 775.8)">FITC CD69-H</text>
<rect x="452.4" y="574.5" width="315.8" height="316.8" fill="none" stroke="#111" stroke-width="1.7"/>
<line x1="564.8" y1="574.5" x2="564.8" y2="891.3" stroke="#333" stroke-width="1.4" stroke-linecap="butt"/>
<line x1="452.4" y1="750.5" x2="768.2" y2="750.5" stroke="#333" stroke-width="1.4" stroke-linecap="butt"/>
<line x1="521" y1="891.3" x2="521" y2="897.8" stroke="#111" stroke-width="1.5" stroke-linecap="butt"/>
<line x1="609.8" y1="891.3" x2="609.8" y2="897.8" stroke="#111" stroke-width="1.5" stroke-linecap="butt"/>
<line x1="684.3" y1="891.3" x2="684.3" y2="897.8" stroke="#111" stroke-width="1.5" stroke-linecap="butt"/>
<line x1="744.3" y1="891.3" x2="744.3" y2="897.8" stroke="#111" stroke-width="1.5" stroke-linecap="butt"/>
<line x1="452.4" y1="891.3" x2="452.4" y2="897.8" stroke="#111" stroke-width="1.5" stroke-linecap="butt"/>
<line x1="768.2" y1="891.3" x2="768.2" y2="897.8" stroke="#111" stroke-width="1.5" stroke-linecap="butt"/>
<line x1="632.2" y1="891.3" x2="632.2" y2="894.8" stroke="#444" stroke-width="1.1" stroke-linecap="butt"/>
<line x1="645.3" y1="891.3" x2="645.3" y2="894.8" stroke="#444" stroke-width="1.1" stroke-linecap="butt"/>
<line x1="654.7" y1="891.3" x2="654.7" y2="894.8" stroke="#444" stroke-width="1.1" stroke-linecap="butt"/>
<line x1="661.9" y1="891.3" x2="661.9" y2="894.8" stroke="#444" stroke-width="1.1" stroke-linecap="butt"/>
<line x1="667.8" y1="891.3" x2="667.8" y2="894.8" stroke="#444" stroke-width="1.1" stroke-linecap="butt"/>
<line x1="672.8" y1="891.3" x2="672.8" y2="894.8" stroke="#444" stroke-width="1.1" stroke-linecap="butt"/>
<line x1="677.1" y1="891.3" x2="677.1" y2="894.8" stroke="#444" stroke-width="1.1" stroke-linecap="butt"/>
<line x1="680.9" y1="891.3" x2="680.9" y2="894.8" stroke="#444" stroke-width="1.1" stroke-linecap="butt"/>
<line x1="702.4" y1="891.3" x2="702.4" y2="894.8" stroke="#444" stroke-width="1.1" stroke-linecap="butt"/>
<line x1="712.9" y1="891.3" x2="712.9" y2="894.8" stroke="#444" stroke-width="1.1" stroke-linecap="butt"/>
<line x1="720.4" y1="891.3" x2="720.4" y2="894.8" stroke="#444" stroke-width="1.1" stroke-linecap="butt"/>
<line x1="726.2" y1="891.3" x2="726.2" y2="894.8" stroke="#444" stroke-width="1.1" stroke-linecap="butt"/>
<line x1="731" y1="891.3" x2="731" y2="894.8" stroke="#444" stroke-width="1.1" stroke-linecap="butt"/>
<line x1="735" y1="891.3" x2="735" y2="894.8" stroke="#444" stroke-width="1.1" stroke-linecap="butt"/>
<line x1="738.5" y1="891.3" x2="738.5" y2="894.8" stroke="#444" stroke-width="1.1" stroke-linecap="butt"/>
<line x1="741.6" y1="891.3" x2="741.6" y2="894.8" stroke="#444" stroke-width="1.1" stroke-linecap="butt"/>
<line x1="580.4" y1="891.3" x2="580.4" y2="894.8" stroke="#444" stroke-width="1.1" stroke-linecap="butt"/>
<line x1="587.5" y1="891.3" x2="587.5" y2="894.8" stroke="#444" stroke-width="1.1" stroke-linecap="butt"/>
<line x1="593.4" y1="891.3" x2="593.4" y2="894.8" stroke="#444" stroke-width="1.1" stroke-linecap="butt"/>
<line x1="598.3" y1="891.3" x2="598.3" y2="894.8" stroke="#444" stroke-width="1.1" stroke-linecap="butt"/>
<line x1="602.6" y1="891.3" x2="602.6" y2="894.8" stroke="#444" stroke-width="1.1" stroke-linecap="butt"/>
<line x1="606.4" y1="891.3" x2="606.4" y2="894.8" stroke="#444" stroke-width="1.1" stroke-linecap="butt"/>
<line x1="509" y1="891.3" x2="509" y2="894.8" stroke="#444" stroke-width="1.1" stroke-linecap="butt"/>
<line x1="533" y1="891.3" x2="533" y2="894.8" stroke="#444" stroke-width="1.1" stroke-linecap="butt"/>
<line x1="491" y1="891.3" x2="491" y2="894.8" stroke="#444" stroke-width="1.1" stroke-linecap="butt"/>
<line x1="548" y1="891.3" x2="548" y2="894.8" stroke="#444" stroke-width="1.1" stroke-linecap="butt"/>
<line x1="445.9" y1="655.3" x2="452.4" y2="655.3" stroke="#111" stroke-width="1.5" stroke-linecap="butt"/>
<line x1="445.9" y1="760.3" x2="452.4" y2="760.3" stroke="#111" stroke-width="1.5" stroke-linecap="butt"/>
<line x1="445.9" y1="837.5" x2="452.4" y2="837.5" stroke="#111" stroke-width="1.5" stroke-linecap="butt"/>
<line x1="445.9" y1="574.5" x2="452.4" y2="574.5" stroke="#111" stroke-width="1.5" stroke-linecap="butt"/>
<line x1="445.9" y1="891.3" x2="452.4" y2="891.3" stroke="#111" stroke-width="1.5" stroke-linecap="butt"/>
<line x1="448.9" y1="631.1" x2="452.4" y2="631.1" stroke="#444" stroke-width="1.1" stroke-linecap="butt"/>
<line x1="448.9" y1="617" x2="452.4" y2="617" stroke="#444" stroke-width="1.1" stroke-linecap="butt"/>
<line x1="448.9" y1="607" x2="452.4" y2="607" stroke="#444" stroke-width="1.1" stroke-linecap="butt"/>
<line x1="448.9" y1="599.2" x2="452.4" y2="599.2" stroke="#444" stroke-width="1.1" stroke-linecap="butt"/>
<line x1="448.9" y1="592.8" x2="452.4" y2="592.8" stroke="#444" stroke-width="1.1" stroke-linecap="butt"/>
<line x1="448.9" y1="587.4" x2="452.4" y2="587.4" stroke="#444" stroke-width="1.1" stroke-linecap="butt"/>
<line x1="448.9" y1="582.8" x2="452.4" y2="582.8" stroke="#444" stroke-width="1.1" stroke-linecap="butt"/>
<line x1="448.9" y1="578.7" x2="452.4" y2="578.7" stroke="#444" stroke-width="1.1" stroke-linecap="butt"/>
<line x1="448.9" y1="728.7" x2="452.4" y2="728.7" stroke="#444" stroke-width="1.1" stroke-linecap="butt"/>
<line x1="448.9" y1="710.2" x2="452.4" y2="710.2" stroke="#444" stroke-width="1.1" stroke-linecap="butt"/>
<line x1="448.9" y1="697.1" x2="452.4" y2="697.1" stroke="#444" stroke-width="1.1" stroke-linecap="butt"/>
<line x1="448.9" y1="686.9" x2="452.4" y2="686.9" stroke="#444" stroke-width="1.1" stroke-linecap="butt"/>
<line x1="448.9" y1="678.6" x2="452.4" y2="678.6" stroke="#444" stroke-width="1.1" stroke-linecap="butt"/>
<line x1="448.9" y1="671.6" x2="452.4" y2="671.6" stroke="#444" stroke-width="1.1" stroke-linecap="butt"/>
<line x1="448.9" y1="665.5" x2="452.4" y2="665.5" stroke="#444" stroke-width="1.1" stroke-linecap="butt"/>
<line x1="448.9" y1="660.1" x2="452.4" y2="660.1" stroke="#444" stroke-width="1.1" stroke-linecap="butt"/>
<line x1="448.9" y1="790.3" x2="452.4" y2="790.3" stroke="#444" stroke-width="1.1" stroke-linecap="butt"/>
<line x1="448.9" y1="810.3" x2="452.4" y2="810.3" stroke="#444" stroke-width="1.1" stroke-linecap="butt"/>
<line x1="448.9" y1="817.5" x2="452.4" y2="817.5" stroke="#444" stroke-width="1.1" stroke-linecap="butt"/>
<line x1="448.9" y1="859.5" x2="452.4" y2="859.5" stroke="#444" stroke-width="1.1" stroke-linecap="butt"/>
<line x1="448.9" y1="877.5" x2="452.4" y2="877.5" stroke="#444" stroke-width="1.1" stroke-linecap="butt"/>
<line x1="509.5" y1="891.3" x2="509.5" y2="897.3" stroke="#111" stroke-width="1.4" stroke-linecap="butt"/>
<line x1="532.5" y1="891.3" x2="532.5" y2="897.3" stroke="#111" stroke-width="1.4" stroke-linecap="butt"/>
<rect x="510" y="892.1" width="22" height="3" fill="#999" stroke="none" stroke-width="0"/>
<rect x="519.4" y="892.1" width="3.2" height="5.5" fill="#111" stroke="none" stroke-width="0"/>
<line x1="446.4" y1="825" x2="452.4" y2="825" stroke="#111" stroke-width="1.4" stroke-linecap="butt"/>
<line x1="446.4" y1="850" x2="452.4" y2="850" stroke="#111" stroke-width="1.4" stroke-linecap="butt"/>
<rect x="448.6" y="825.5" width="3" height="24" fill="#999" stroke="none" stroke-width="0"/>
<rect x="446.4" y="835.9" width="5.5" height="3.2" fill="#111" stroke="none" stroke-width="0"/>
<g transform="translate(439.8 916.7)" fill="#2e2e3a"><text x="-0.64" y="0" font-size="16.64" textLength="20.69" lengthAdjust="spacingAndGlyphs">-10</text><text x="21.46" y="-5.7" font-size="13.26" textLength="15.85" lengthAdjust="spacingAndGlyphs">3.8</text></g>
<g transform="translate(517.58 916.7)" fill="#2e2e3a"><text x="-0.56" y="0" font-size="16.64" textLength="7.96" lengthAdjust="spacingAndGlyphs">0</text></g>
<g transform="translate(598.59 916.7)" fill="#2e2e3a"><text x="-1.09" y="0" font-size="16.64" textLength="15.92" lengthAdjust="spacingAndGlyphs">10</text><text x="16.41" y="-5.7" font-size="13.26" textLength="6.34" lengthAdjust="spacingAndGlyphs">4</text></g>
<g transform="translate(673.26 916.7)" fill="#2e2e3a"><text x="-1.09" y="0" font-size="16.64" textLength="15.92" lengthAdjust="spacingAndGlyphs">10</text><text x="16.21" y="-5.7" font-size="13.26" textLength="6.34" lengthAdjust="spacingAndGlyphs">5</text></g>
<g transform="translate(750.4 916.7)" fill="#2e2e3a"><text x="-1.09" y="0" font-size="16.64" textLength="15.92" lengthAdjust="spacingAndGlyphs">10</text><text x="16.09" y="-5.7" font-size="13.26" textLength="15.85" lengthAdjust="spacingAndGlyphs">6.4</text></g>
<g transform="translate(439.55 585.3) rotate(-90)" fill="#2e2e3a"><text x="-1.09" y="0" font-size="16.64" textLength="15.92" lengthAdjust="spacingAndGlyphs">10</text><text x="16.21" y="-5.7" font-size="13.26" textLength="6.34" lengthAdjust="spacingAndGlyphs">5</text></g>
<g transform="translate(439.55 666.01) rotate(-90)" fill="#2e2e3a"><text x="-1.09" y="0" font-size="16.64" textLength="15.92" lengthAdjust="spacingAndGlyphs">10</text><text x="16.41" y="-5.7" font-size="13.26" textLength="6.34" lengthAdjust="spacingAndGlyphs">4</text></g>
<g transform="translate(439.55 770.14) rotate(-90)" fill="#2e2e3a"><text x="-1.09" y="0" font-size="16.64" textLength="15.92" lengthAdjust="spacingAndGlyphs">10</text><text x="16.24" y="-5.7" font-size="13.26" textLength="6.34" lengthAdjust="spacingAndGlyphs">3</text></g>
<g transform="translate(439.55 841) rotate(-90)" fill="#2e2e3a"><text x="-0.56" y="0" font-size="16.64" textLength="7.96" lengthAdjust="spacingAndGlyphs">0</text></g>
<g transform="translate(439.55 900.2) rotate(-90)" fill="#2e2e3a"><text x="-0.64" y="0" font-size="16.64" textLength="20.69" lengthAdjust="spacingAndGlyphs">-10</text><text x="21.32" y="-5.7" font-size="13.26" textLength="15.85" lengthAdjust="spacingAndGlyphs">2.8</text></g>
<text x="538.8" y="938" font-size="17" fill="#2e2e3a" textLength="141.2" lengthAdjust="spacingAndGlyphs">PE-Texas Red CD4-H</text>
<text x="414.7" y="775.8" font-size="17" fill="#2e2e3a" textLength="78.5" lengthAdjust="spacingAndGlyphs" transform="rotate(-90 414.7 775.8)">FITC CD69-H</text>
<rect x="73.6" y="1105.8" width="316.8" height="316.6" fill="none" stroke="#111" stroke-width="1.7"/>
<line x1="180.7" y1="1105.8" x2="180.7" y2="1422.4" stroke="#333" stroke-width="1.4" stroke-linecap="butt"/>
<line x1="73.6" y1="1281.5" x2="390.4" y2="1281.5" stroke="#333" stroke-width="1.4" stroke-linecap="butt"/>
<line x1="129.5" y1="1422.4" x2="129.5" y2="1428.9" stroke="#111" stroke-width="1.5" stroke-linecap="butt"/>
<line x1="222.3" y1="1422.4" x2="222.3" y2="1428.9" stroke="#111" stroke-width="1.5" stroke-linecap="butt"/>
<line x1="335.5" y1="1422.4" x2="335.5" y2="1428.9" stroke="#111" stroke-width="1.5" stroke-linecap="butt"/>
<line x1="73.6" y1="1422.4" x2="73.6" y2="1428.9" stroke="#111" stroke-width="1.5" stroke-linecap="butt"/>
<line x1="390.4" y1="1422.4" x2="390.4" y2="1428.9" stroke="#111" stroke-width="1.5" stroke-linecap="butt"/>
<line x1="177.3" y1="1422.4" x2="177.3" y2="1425.9" stroke="#444" stroke-width="1.1" stroke-linecap="butt"/>
<line x1="188.2" y1="1422.4" x2="188.2" y2="1425.9" stroke="#444" stroke-width="1.1" stroke-linecap="butt"/>
<line x1="197.2" y1="1422.4" x2="197.2" y2="1425.9" stroke="#444" stroke-width="1.1" stroke-linecap="butt"/>
<line x1="204.8" y1="1422.4" x2="204.8" y2="1425.9" stroke="#444" stroke-width="1.1" stroke-linecap="butt"/>
<line x1="211.3" y1="1422.4" x2="211.3" y2="1425.9" stroke="#444" stroke-width="1.1" stroke-linecap="butt"/>
<line x1="217.1" y1="1422.4" x2="217.1" y2="1425.9" stroke="#444" stroke-width="1.1" stroke-linecap="butt"/>
<line x1="256.4" y1="1422.4" x2="256.4" y2="1425.9" stroke="#444" stroke-width="1.1" stroke-linecap="butt"/>
<line x1="276.3" y1="1422.4" x2="276.3" y2="1425.9" stroke="#444" stroke-width="1.1" stroke-linecap="butt"/>
<line x1="290.5" y1="1422.4" x2="290.5" y2="1425.9" stroke="#444" stroke-width="1.1" stroke-linecap="butt"/>
<line x1="301.4" y1="1422.4" x2="301.4" y2="1425.9" stroke="#444" stroke-width="1.1" stroke-linecap="butt"/>
<line x1="310.4" y1="1422.4" x2="310.4" y2="1425.9" stroke="#444" stroke-width="1.1" stroke-linecap="butt"/>
<line x1="318" y1="1422.4" x2="318" y2="1425.9" stroke="#444" stroke-width="1.1" stroke-linecap="butt"/>
<line x1="324.5" y1="1422.4" x2="324.5" y2="1425.9" stroke="#444" stroke-width="1.1" stroke-linecap="butt"/>
<line x1="330.3" y1="1422.4" x2="330.3" y2="1425.9" stroke="#444" stroke-width="1.1" stroke-linecap="butt"/>
<line x1="369.6" y1="1422.4" x2="369.6" y2="1425.9" stroke="#444" stroke-width="1.1" stroke-linecap="butt"/>
<line x1="117.5" y1="1422.4" x2="117.5" y2="1425.9" stroke="#444" stroke-width="1.1" stroke-linecap="butt"/>
<line x1="141.5" y1="1422.4" x2="141.5" y2="1425.9" stroke="#444" stroke-width="1.1" stroke-linecap="butt"/>
<line x1="99.5" y1="1422.4" x2="99.5" y2="1425.9" stroke="#444" stroke-width="1.1" stroke-linecap="butt"/>
<line x1="156.5" y1="1422.4" x2="156.5" y2="1425.9" stroke="#444" stroke-width="1.1" stroke-linecap="butt"/>
<line x1="174.5" y1="1422.4" x2="174.5" y2="1425.9" stroke="#444" stroke-width="1.1" stroke-linecap="butt"/>
<line x1="67.1" y1="1186.5" x2="73.6" y2="1186.5" stroke="#111" stroke-width="1.5" stroke-linecap="butt"/>
<line x1="67.1" y1="1291.5" x2="73.6" y2="1291.5" stroke="#111" stroke-width="1.5" stroke-linecap="butt"/>
<line x1="67.1" y1="1368.7" x2="73.6" y2="1368.7" stroke="#111" stroke-width="1.5" stroke-linecap="butt"/>
<line x1="67.1" y1="1105.8" x2="73.6" y2="1105.8" stroke="#111" stroke-width="1.5" stroke-linecap="butt"/>
<line x1="67.1" y1="1422.4" x2="73.6" y2="1422.4" stroke="#111" stroke-width="1.5" stroke-linecap="butt"/>
<line x1="70.1" y1="1162.3" x2="73.6" y2="1162.3" stroke="#444" stroke-width="1.1" stroke-linecap="butt"/>
<line x1="70.1" y1="1148.2" x2="73.6" y2="1148.2" stroke="#444" stroke-width="1.1" stroke-linecap="butt"/>
<line x1="70.1" y1="1138.2" x2="73.6" y2="1138.2" stroke="#444" stroke-width="1.1" stroke-linecap="butt"/>
<line x1="70.1" y1="1130.4" x2="73.6" y2="1130.4" stroke="#444" stroke-width="1.1" stroke-linecap="butt"/>
<line x1="70.1" y1="1124" x2="73.6" y2="1124" stroke="#444" stroke-width="1.1" stroke-linecap="butt"/>
<line x1="70.1" y1="1118.6" x2="73.6" y2="1118.6" stroke="#444" stroke-width="1.1" stroke-linecap="butt"/>
<line x1="70.1" y1="1114" x2="73.6" y2="1114" stroke="#444" stroke-width="1.1" stroke-linecap="butt"/>
<line x1="70.1" y1="1109.9" x2="73.6" y2="1109.9" stroke="#444" stroke-width="1.1" stroke-linecap="butt"/>
<line x1="70.1" y1="1259.9" x2="73.6" y2="1259.9" stroke="#444" stroke-width="1.1" stroke-linecap="butt"/>
<line x1="70.1" y1="1241.4" x2="73.6" y2="1241.4" stroke="#444" stroke-width="1.1" stroke-linecap="butt"/>
<line x1="70.1" y1="1228.3" x2="73.6" y2="1228.3" stroke="#444" stroke-width="1.1" stroke-linecap="butt"/>
<line x1="70.1" y1="1218.1" x2="73.6" y2="1218.1" stroke="#444" stroke-width="1.1" stroke-linecap="butt"/>
<line x1="70.1" y1="1209.8" x2="73.6" y2="1209.8" stroke="#444" stroke-width="1.1" stroke-linecap="butt"/>
<line x1="70.1" y1="1202.8" x2="73.6" y2="1202.8" stroke="#444" stroke-width="1.1" stroke-linecap="butt"/>
<line x1="70.1" y1="1196.7" x2="73.6" y2="1196.7" stroke="#444" stroke-width="1.1" stroke-linecap="butt"/>
<line x1="70.1" y1="1191.3" x2="73.6" y2="1191.3" stroke="#444" stroke-width="1.1" stroke-linecap="butt"/>
<line x1="70.1" y1="1321.5" x2="73.6" y2="1321.5" stroke="#444" stroke-width="1.1" stroke-linecap="butt"/>
<line x1="70.1" y1="1341.5" x2="73.6" y2="1341.5" stroke="#444" stroke-width="1.1" stroke-linecap="butt"/>
<line x1="70.1" y1="1348.7" x2="73.6" y2="1348.7" stroke="#444" stroke-width="1.1" stroke-linecap="butt"/>
<line x1="70.1" y1="1390.7" x2="73.6" y2="1390.7" stroke="#444" stroke-width="1.1" stroke-linecap="butt"/>
<line x1="70.1" y1="1408.7" x2="73.6" y2="1408.7" stroke="#444" stroke-width="1.1" stroke-linecap="butt"/>
<line x1="118" y1="1422.4" x2="118" y2="1428.4" stroke="#111" stroke-width="1.4" stroke-linecap="butt"/>
<line x1="141" y1="1422.4" x2="141" y2="1428.4" stroke="#111" stroke-width="1.4" stroke-linecap="butt"/>
<rect x="118.5" y="1423.2" width="22" height="3" fill="#999" stroke="none" stroke-width="0"/>
<rect x="127.9" y="1423.2" width="3.2" height="5.5" fill="#111" stroke="none" stroke-width="0"/>
<line x1="67.6" y1="1356.2" x2="73.6" y2="1356.2" stroke="#111" stroke-width="1.4" stroke-linecap="butt"/>
<line x1="67.6" y1="1381.2" x2="73.6" y2="1381.2" stroke="#111" stroke-width="1.4" stroke-linecap="butt"/>
<rect x="69.8" y="1356.7" width="3" height="24" fill="#999" stroke="none" stroke-width="0"/>
<rect x="67.6" y="1367.1" width="5.5" height="3.2" fill="#111" stroke="none" stroke-width="0"/>
<g transform="translate(61.6 1448.6)" fill="#2e2e3a"><text x="-0.64" y="0" font-size="16.64" textLength="20.69" lengthAdjust="spacingAndGlyphs">-10</text><text x="21.32" y="-5.7" font-size="13.26" textLength="15.85" lengthAdjust="spacingAndGlyphs">2.7</text></g>
<g transform="translate(126.08 1448.6)" fill="#2e2e3a"><text x="-0.56" y="0" font-size="16.64" textLength="7.96" lengthAdjust="spacingAndGlyphs">0</text></g>
<g transform="translate(211.26 1448.6)" fill="#2e2e3a"><text x="-1.09" y="0" font-size="16.64" textLength="15.92" lengthAdjust="spacingAndGlyphs">10</text><text x="16.24" y="-5.7" font-size="13.26" textLength="6.34" lengthAdjust="spacingAndGlyphs">3</text></g>
<g transform="translate(324.29 1448.6)" fill="#2e2e3a"><text x="-1.09" y="0" font-size="16.64" textLength="15.92" lengthAdjust="spacingAndGlyphs">10</text><text x="16.41" y="-5.7" font-size="13.26" textLength="6.34" lengthAdjust="spacingAndGlyphs">4</text></g>
<g transform="translate(371.7 1448.6)" fill="#2e2e3a"><text x="-1.09" y="0" font-size="16.64" textLength="15.92" lengthAdjust="spacingAndGlyphs">10</text><text x="16.41" y="-5.7" font-size="13.26" textLength="6.34" lengthAdjust="spacingAndGlyphs">4</text></g>
<g transform="translate(60.75 1116.5) rotate(-90)" fill="#2e2e3a"><text x="-1.09" y="0" font-size="16.64" textLength="15.92" lengthAdjust="spacingAndGlyphs">10</text><text x="16.21" y="-5.7" font-size="13.26" textLength="6.34" lengthAdjust="spacingAndGlyphs">5</text></g>
<g transform="translate(60.75 1197.21) rotate(-90)" fill="#2e2e3a"><text x="-1.09" y="0" font-size="16.64" textLength="15.92" lengthAdjust="spacingAndGlyphs">10</text><text x="16.41" y="-5.7" font-size="13.26" textLength="6.34" lengthAdjust="spacingAndGlyphs">4</text></g>
<g transform="translate(60.75 1301.34) rotate(-90)" fill="#2e2e3a"><text x="-1.09" y="0" font-size="16.64" textLength="15.92" lengthAdjust="spacingAndGlyphs">10</text><text x="16.24" y="-5.7" font-size="13.26" textLength="6.34" lengthAdjust="spacingAndGlyphs">3</text></g>
<g transform="translate(60.75 1372.2) rotate(-90)" fill="#2e2e3a"><text x="-0.56" y="0" font-size="16.64" textLength="7.96" lengthAdjust="spacingAndGlyphs">0</text></g>
<g transform="translate(60.75 1431.4) rotate(-90)" fill="#2e2e3a"><text x="-0.64" y="0" font-size="16.64" textLength="20.69" lengthAdjust="spacingAndGlyphs">-10</text><text x="21.32" y="-5.7" font-size="13.26" textLength="15.85" lengthAdjust="spacingAndGlyphs">2.8</text></g>
<text x="169.6" y="1470.3" font-size="17" fill="#2e2e3a" textLength="122.7" lengthAdjust="spacingAndGlyphs">Pacific Blue CD8-H</text>
<text x="36.2" y="1307" font-size="17" fill="#2e2e3a" textLength="78.5" lengthAdjust="spacingAndGlyphs" transform="rotate(-90 36.2 1307)">FITC CD69-H</text>
<rect x="451.5" y="1105.8" width="314.9" height="316.6" fill="none" stroke="#111" stroke-width="1.7"/>
<line x1="558.4" y1="1105.8" x2="558.4" y2="1422.4" stroke="#333" stroke-width="1.4" stroke-linecap="butt"/>
<line x1="451.5" y1="1281.5" x2="766.4" y2="1281.5" stroke="#333" stroke-width="1.4" stroke-linecap="butt"/>
<line x1="506.5" y1="1422.4" x2="506.5" y2="1428.9" stroke="#111" stroke-width="1.5" stroke-linecap="butt"/>
<line x1="599.3" y1="1422.4" x2="599.3" y2="1428.9" stroke="#111" stroke-width="1.5" stroke-linecap="butt"/>
<line x1="712.5" y1="1422.4" x2="712.5" y2="1428.9" stroke="#111" stroke-width="1.5" stroke-linecap="butt"/>
<line x1="451.5" y1="1422.4" x2="451.5" y2="1428.9" stroke="#111" stroke-width="1.5" stroke-linecap="butt"/>
<line x1="766.4" y1="1422.4" x2="766.4" y2="1428.9" stroke="#111" stroke-width="1.5" stroke-linecap="butt"/>
<line x1="554.3" y1="1422.4" x2="554.3" y2="1425.9" stroke="#444" stroke-width="1.1" stroke-linecap="butt"/>
<line x1="565.2" y1="1422.4" x2="565.2" y2="1425.9" stroke="#444" stroke-width="1.1" stroke-linecap="butt"/>
<line x1="574.2" y1="1422.4" x2="574.2" y2="1425.9" stroke="#444" stroke-width="1.1" stroke-linecap="butt"/>
<line x1="581.8" y1="1422.4" x2="581.8" y2="1425.9" stroke="#444" stroke-width="1.1" stroke-linecap="butt"/>
<line x1="588.3" y1="1422.4" x2="588.3" y2="1425.9" stroke="#444" stroke-width="1.1" stroke-linecap="butt"/>
<line x1="594.1" y1="1422.4" x2="594.1" y2="1425.9" stroke="#444" stroke-width="1.1" stroke-linecap="butt"/>
<line x1="633.4" y1="1422.4" x2="633.4" y2="1425.9" stroke="#444" stroke-width="1.1" stroke-linecap="butt"/>
<line x1="653.3" y1="1422.4" x2="653.3" y2="1425.9" stroke="#444" stroke-width="1.1" stroke-linecap="butt"/>
<line x1="667.5" y1="1422.4" x2="667.5" y2="1425.9" stroke="#444" stroke-width="1.1" stroke-linecap="butt"/>
<line x1="678.4" y1="1422.4" x2="678.4" y2="1425.9" stroke="#444" stroke-width="1.1" stroke-linecap="butt"/>
<line x1="687.4" y1="1422.4" x2="687.4" y2="1425.9" stroke="#444" stroke-width="1.1" stroke-linecap="butt"/>
<line x1="695" y1="1422.4" x2="695" y2="1425.9" stroke="#444" stroke-width="1.1" stroke-linecap="butt"/>
<line x1="701.5" y1="1422.4" x2="701.5" y2="1425.9" stroke="#444" stroke-width="1.1" stroke-linecap="butt"/>
<line x1="707.3" y1="1422.4" x2="707.3" y2="1425.9" stroke="#444" stroke-width="1.1" stroke-linecap="butt"/>
<line x1="746.6" y1="1422.4" x2="746.6" y2="1425.9" stroke="#444" stroke-width="1.1" stroke-linecap="butt"/>
<line x1="494.5" y1="1422.4" x2="494.5" y2="1425.9" stroke="#444" stroke-width="1.1" stroke-linecap="butt"/>
<line x1="518.5" y1="1422.4" x2="518.5" y2="1425.9" stroke="#444" stroke-width="1.1" stroke-linecap="butt"/>
<line x1="476.5" y1="1422.4" x2="476.5" y2="1425.9" stroke="#444" stroke-width="1.1" stroke-linecap="butt"/>
<line x1="533.5" y1="1422.4" x2="533.5" y2="1425.9" stroke="#444" stroke-width="1.1" stroke-linecap="butt"/>
<line x1="551.5" y1="1422.4" x2="551.5" y2="1425.9" stroke="#444" stroke-width="1.1" stroke-linecap="butt"/>
<line x1="445" y1="1186.5" x2="451.5" y2="1186.5" stroke="#111" stroke-width="1.5" stroke-linecap="butt"/>
<line x1="445" y1="1291.5" x2="451.5" y2="1291.5" stroke="#111" stroke-width="1.5" stroke-linecap="butt"/>
<line x1="445" y1="1368.7" x2="451.5" y2="1368.7" stroke="#111" stroke-width="1.5" stroke-linecap="butt"/>
<line x1="445" y1="1105.8" x2="451.5" y2="1105.8" stroke="#111" stroke-width="1.5" stroke-linecap="butt"/>
<line x1="445" y1="1422.4" x2="451.5" y2="1422.4" stroke="#111" stroke-width="1.5" stroke-linecap="butt"/>
<line x1="448" y1="1162.3" x2="451.5" y2="1162.3" stroke="#444" stroke-width="1.1" stroke-linecap="butt"/>
<line x1="448" y1="1148.2" x2="451.5" y2="1148.2" stroke="#444" stroke-width="1.1" stroke-linecap="butt"/>
<line x1="448" y1="1138.2" x2="451.5" y2="1138.2" stroke="#444" stroke-width="1.1" stroke-linecap="butt"/>
<line x1="448" y1="1130.4" x2="451.5" y2="1130.4" stroke="#444" stroke-width="1.1" stroke-linecap="butt"/>
<line x1="448" y1="1124" x2="451.5" y2="1124" stroke="#444" stroke-width="1.1" stroke-linecap="butt"/>
<line x1="448" y1="1118.6" x2="451.5" y2="1118.6" stroke="#444" stroke-width="1.1" stroke-linecap="butt"/>
<line x1="448" y1="1114" x2="451.5" y2="1114" stroke="#444" stroke-width="1.1" stroke-linecap="butt"/>
<line x1="448" y1="1109.9" x2="451.5" y2="1109.9" stroke="#444" stroke-width="1.1" stroke-linecap="butt"/>
<line x1="448" y1="1259.9" x2="451.5" y2="1259.9" stroke="#444" stroke-width="1.1" stroke-linecap="butt"/>
<line x1="448" y1="1241.4" x2="451.5" y2="1241.4" stroke="#444" stroke-width="1.1" stroke-linecap="butt"/>
<line x1="448" y1="1228.3" x2="451.5" y2="1228.3" stroke="#444" stroke-width="1.1" stroke-linecap="butt"/>
<line x1="448" y1="1218.1" x2="451.5" y2="1218.1" stroke="#444" stroke-width="1.1" stroke-linecap="butt"/>
<line x1="448" y1="1209.8" x2="451.5" y2="1209.8" stroke="#444" stroke-width="1.1" stroke-linecap="butt"/>
<line x1="448" y1="1202.8" x2="451.5" y2="1202.8" stroke="#444" stroke-width="1.1" stroke-linecap="butt"/>
<line x1="448" y1="1196.7" x2="451.5" y2="1196.7" stroke="#444" stroke-width="1.1" stroke-linecap="butt"/>
<line x1="448" y1="1191.3" x2="451.5" y2="1191.3" stroke="#444" stroke-width="1.1" stroke-linecap="butt"/>
<line x1="448" y1="1321.5" x2="451.5" y2="1321.5" stroke="#444" stroke-width="1.1" stroke-linecap="butt"/>
<line x1="448" y1="1341.5" x2="451.5" y2="1341.5" stroke="#444" stroke-width="1.1" stroke-linecap="butt"/>
<line x1="448" y1="1348.7" x2="451.5" y2="1348.7" stroke="#444" stroke-width="1.1" stroke-linecap="butt"/>
<line x1="448" y1="1390.7" x2="451.5" y2="1390.7" stroke="#444" stroke-width="1.1" stroke-linecap="butt"/>
<line x1="448" y1="1408.7" x2="451.5" y2="1408.7" stroke="#444" stroke-width="1.1" stroke-linecap="butt"/>
<line x1="495" y1="1422.4" x2="495" y2="1428.4" stroke="#111" stroke-width="1.4" stroke-linecap="butt"/>
<line x1="518" y1="1422.4" x2="518" y2="1428.4" stroke="#111" stroke-width="1.4" stroke-linecap="butt"/>
<rect x="495.5" y="1423.2" width="22" height="3" fill="#999" stroke="none" stroke-width="0"/>
<rect x="504.9" y="1423.2" width="3.2" height="5.5" fill="#111" stroke="none" stroke-width="0"/>
<line x1="445.5" y1="1356.2" x2="451.5" y2="1356.2" stroke="#111" stroke-width="1.4" stroke-linecap="butt"/>
<line x1="445.5" y1="1381.2" x2="451.5" y2="1381.2" stroke="#111" stroke-width="1.4" stroke-linecap="butt"/>
<rect x="447.7" y="1356.7" width="3" height="24" fill="#999" stroke="none" stroke-width="0"/>
<rect x="445.5" y="1367.1" width="5.5" height="3.2" fill="#111" stroke="none" stroke-width="0"/>
<g transform="translate(438.6 1448.6)" fill="#2e2e3a"><text x="-0.64" y="0" font-size="16.64" textLength="20.69" lengthAdjust="spacingAndGlyphs">-10</text><text x="21.32" y="-5.7" font-size="13.26" textLength="15.85" lengthAdjust="spacingAndGlyphs">2.7</text></g>
<g transform="translate(503.08 1448.6)" fill="#2e2e3a"><text x="-0.56" y="0" font-size="16.64" textLength="7.96" lengthAdjust="spacingAndGlyphs">0</text></g>
<g transform="translate(588.26 1448.6)" fill="#2e2e3a"><text x="-1.09" y="0" font-size="16.64" textLength="15.92" lengthAdjust="spacingAndGlyphs">10</text><text x="16.24" y="-5.7" font-size="13.26" textLength="6.34" lengthAdjust="spacingAndGlyphs">3</text></g>
<g transform="translate(701.29 1448.6)" fill="#2e2e3a"><text x="-1.09" y="0" font-size="16.64" textLength="15.92" lengthAdjust="spacingAndGlyphs">10</text><text x="16.41" y="-5.7" font-size="13.26" textLength="6.34" lengthAdjust="spacingAndGlyphs">4</text></g>
<g transform="translate(747.8 1448.6)" fill="#2e2e3a"><text x="-1.09" y="0" font-size="16.64" textLength="15.92" lengthAdjust="spacingAndGlyphs">10</text><text x="16.41" y="-5.7" font-size="13.26" textLength="15.85" lengthAdjust="spacingAndGlyphs">4.6</text></g>
<g transform="translate(438.65 1116.5) rotate(-90)" fill="#2e2e3a"><text x="-1.09" y="0" font-size="16.64" textLength="15.92" lengthAdjust="spacingAndGlyphs">10</text><text x="16.21" y="-5.7" font-size="13.26" textLength="6.34" lengthAdjust="spacingAndGlyphs">5</text></g>
<g transform="translate(438.65 1197.21) rotate(-90)" fill="#2e2e3a"><text x="-1.09" y="0" font-size="16.64" textLength="15.92" lengthAdjust="spacingAndGlyphs">10</text><text x="16.41" y="-5.7" font-size="13.26" textLength="6.34" lengthAdjust="spacingAndGlyphs">4</text></g>
<g transform="translate(438.65 1301.34) rotate(-90)" fill="#2e2e3a"><text x="-1.09" y="0" font-size="16.64" textLength="15.92" lengthAdjust="spacingAndGlyphs">10</text><text x="16.24" y="-5.7" font-size="13.26" textLength="6.34" lengthAdjust="spacingAndGlyphs">3</text></g>
<g transform="translate(438.65 1372.2) rotate(-90)" fill="#2e2e3a"><text x="-0.56" y="0" font-size="16.64" textLength="7.96" lengthAdjust="spacingAndGlyphs">0</text></g>
<g transform="translate(438.65 1431.4) rotate(-90)" fill="#2e2e3a"><text x="-0.64" y="0" font-size="16.64" textLength="20.69" lengthAdjust="spacingAndGlyphs">-10</text><text x="21.32" y="-5.7" font-size="13.26" textLength="15.85" lengthAdjust="spacingAndGlyphs">2.8</text></g>
<text x="546.6" y="1470.3" font-size="17" fill="#2e2e3a" textLength="122.7" lengthAdjust="spacingAndGlyphs">Pacific Blue CD8-H</text>
<text x="413.2" y="1307" font-size="17" fill="#2e2e3a" textLength="78.5" lengthAdjust="spacingAndGlyphs" transform="rotate(-90 413.2 1307)">FITC CD69-H</text>
<path d="M121 320.4C121.1 315.1 121.8 307.6 123.5 302C125.2 296.4 127.8 291.1 131 287C134.2 282.9 138.8 279.6 143 277.5C147.2 275.4 151.2 274.4 156 274.2C160.8 273.9 166.7 274.4 172 276C177.3 277.6 183.5 281 188 284C192.5 287 196.1 290.8 199 294C201.9 297.2 203.3 300.5 205.5 303C207.7 305.5 206.2 307.7 212 308.8C217.8 309.9 231.2 309.5 240 309.6C248.8 309.7 258.2 309.1 265 309.2C271.8 309.3 276.9 309.2 281 310C285.1 310.8 287.6 312.1 289.5 314C291.4 315.9 292.4 318.9 292.4 321.3C292.4 323.7 291.4 326.6 289.5 328.5C287.6 330.4 286.8 331.7 281 332.5C275.2 333.3 263.8 333.4 255 333.3C246.2 333.2 235 332.6 228 332.2C221 331.8 216.6 331.3 213 331C209.4 330.7 208.8 329.5 206.5 330.5C204.2 331.5 202.1 334.2 199 337C195.9 339.8 192.3 343.9 188 347C183.7 350.1 178 353.6 173 355.5C168 357.4 163.2 358.3 158 358.2C152.8 358.1 146.7 357 142 355C137.3 353 133.2 349.5 130 346C126.8 342.5 124.5 338.3 123 334C121.5 329.7 120.9 325.7 121 320.4Z" fill="none" stroke="#111" stroke-width="1.2" stroke-linejoin="round"/>
<path d="M198 320.6C198 321.7 197.8 322.5 197.5 323.5C197.1 324.5 196.6 325.6 195.9 326.6C195.2 327.7 194.3 328.8 193.3 330C192.2 331.1 191 332.3 189.7 333.6C188.3 334.8 186.8 336.1 185.2 337.4C183.6 338.7 181.9 340.1 180 341.3C178.2 342.6 176.2 343.9 174.2 345C172.2 346.2 170.1 347.3 167.9 348.2C165.7 349.1 163.5 349.9 161.3 350.5C159 351 156.3 351.4 154.4 351.5C152.5 351.6 151.4 351.4 149.9 351.1C148.4 350.9 146.9 350.5 145.5 350C144 349.5 142.6 348.9 141.3 348.1C139.9 347.4 138.6 346.5 137.4 345.6C136.1 344.7 135 343.6 133.9 342.4C132.8 341.3 131.8 340.1 130.9 338.8C130.1 337.5 129.3 336.1 128.6 334.6C127.9 333.2 127.3 331.7 126.8 330.1C126.4 328.6 126 327 125.8 325.4C125.5 323.8 125.4 322.5 125.4 320.6C125.4 318.7 125.5 316.4 125.8 314.3C126 312.2 126.4 310.1 126.8 308.1C127.3 306.1 127.9 304.2 128.6 302.3C129.3 300.4 130.1 298.6 130.9 296.9C131.8 295.2 132.8 293.6 133.9 292.1C135 290.6 136.1 289.2 137.4 288C138.6 286.8 139.9 285.6 141.3 284.7C142.6 283.7 144 282.9 145.5 282.3C146.9 281.6 148.4 281.1 149.9 280.8C151.4 280.5 152.5 280.2 154.4 280.3C156.3 280.4 159 280.9 161.3 281.6C163.5 282.3 165.7 283.4 167.9 284.6C170.1 285.8 172.2 287.3 174.2 288.8C176.2 290.2 178.2 291.9 180 293.6C181.9 295.2 183.6 297 185.2 298.7C186.8 300.3 188.3 302 189.7 303.7C191 305.3 192.2 306.9 193.3 308.4C194.3 309.9 195.2 311.3 195.9 312.7C196.6 314.1 197.1 315.5 197.5 316.8C197.8 318.1 198 319.5 198 320.6Z" fill="none" stroke="#111" stroke-width="1.2" stroke-linejoin="round"/>
<path d="M187.3 320.6C187.3 321.4 187.2 322 186.9 322.8C186.6 323.5 186.2 324.3 185.6 325.1C185.1 325.9 184.4 326.7 183.6 327.5C182.8 328.4 181.8 329.3 180.8 330.2C179.7 331.1 178.5 332.1 177.3 333.1C176 334 174.6 335 173.2 336C171.8 336.9 170.2 337.8 168.6 338.7C167 339.5 165.4 340.4 163.7 341C162 341.7 160.2 342.3 158.5 342.8C156.7 343.2 154.6 343.4 153.1 343.5C151.6 343.6 150.7 343.4 149.5 343.2C148.4 343 147.2 342.7 146.1 342.4C144.9 342 143.8 341.5 142.7 341C141.7 340.5 140.7 339.8 139.7 339.1C138.7 338.4 137.8 337.6 137 336.8C136.1 335.9 135.4 335 134.7 334.1C134 333.1 133.3 332.1 132.8 331C132.2 329.9 131.8 328.8 131.4 327.7C131 326.5 130.8 325.4 130.6 324.2C130.4 323 130.3 321.9 130.3 320.6C130.3 319.3 130.4 317.6 130.6 316.1C130.8 314.7 131 313.2 131.4 311.8C131.8 310.4 132.2 309 132.8 307.7C133.3 306.3 134 305.1 134.7 303.8C135.4 302.6 136.1 301.5 137 300.4C137.8 299.4 138.7 298.4 139.7 297.5C140.7 296.7 141.7 295.9 142.7 295.2C143.8 294.5 144.9 294 146.1 293.5C147.2 293 148.4 292.7 149.5 292.5C150.7 292.2 151.6 292 153.1 292.1C154.6 292.2 156.7 292.5 158.5 293C160.2 293.5 162 294.3 163.7 295.2C165.4 296 167 297 168.6 298.1C170.2 299.1 171.8 300.3 173.2 301.5C174.6 302.7 176 303.9 177.3 305.1C178.5 306.3 179.7 307.5 180.8 308.6C181.8 309.8 182.8 310.9 183.6 312C184.4 313 185.1 314.1 185.6 315C186.2 316 186.6 317 186.9 317.9C187.2 318.8 187.3 319.8 187.3 320.6Z" fill="none" stroke="#111" stroke-width="1.2" stroke-linejoin="round"/>
<path d="M181.7 320.6C181.7 321.2 181.6 321.7 181.3 322.3C181.1 322.9 180.7 323.4 180.3 324.1C179.8 324.7 179.2 325.3 178.5 326C177.8 326.6 177 327.3 176.1 328C175.2 328.8 174.2 329.5 173.1 330.2C172 331 170.8 331.7 169.6 332.5C168.3 333.2 167 333.9 165.6 334.6C164.3 335.2 162.8 335.9 161.4 336.4C159.9 336.9 158.4 337.4 156.9 337.7C155.4 338 153.6 338.2 152.3 338.3C151 338.4 150.2 338.2 149.2 338.1C148.2 337.9 147.2 337.7 146.2 337.4C145.3 337.1 144.3 336.8 143.4 336.4C142.5 336 141.6 335.5 140.8 334.9C140 334.4 139.2 333.8 138.4 333.1C137.7 332.5 137 331.8 136.4 331C135.8 330.3 135.3 329.5 134.8 328.6C134.4 327.8 134 326.9 133.7 326.1C133.3 325.2 133.1 324.3 132.9 323.4C132.8 322.5 132.7 321.6 132.7 320.6C132.7 319.6 132.8 318.3 132.9 317.1C133.1 316 133.3 314.8 133.7 313.7C134 312.6 134.4 311.6 134.8 310.5C135.3 309.5 135.8 308.5 136.4 307.6C137 306.6 137.7 305.7 138.4 304.9C139.2 304.1 140 303.3 140.8 302.6C141.6 302 142.5 301.3 143.4 300.8C144.3 300.3 145.3 299.8 146.2 299.5C147.2 299.1 148.2 298.9 149.2 298.7C150.2 298.5 151 298.3 152.3 298.4C153.6 298.5 155.4 298.7 156.9 299.1C158.4 299.5 159.9 300.1 161.4 300.8C162.8 301.4 164.3 302.2 165.6 303.1C167 303.9 168.3 304.8 169.6 305.7C170.8 306.6 172 307.6 173.1 308.5C174.2 309.4 175.2 310.4 176.1 311.3C177 312.2 177.8 313 178.5 313.9C179.2 314.7 179.8 315.5 180.3 316.3C180.7 317 181.1 317.8 181.3 318.5C181.6 319.2 181.7 320 181.7 320.6Z" fill="none" stroke="#111" stroke-width="1.2" stroke-linejoin="round"/>
<path d="M177.5 320.6C177.5 321.1 177.4 321.5 177.2 321.9C177 322.4 176.7 322.8 176.2 323.3C175.8 323.8 175.3 324.3 174.7 324.8C174.1 325.3 173.4 325.9 172.6 326.4C171.8 327 170.9 327.6 169.9 328.2C169 328.8 168 329.4 166.9 329.9C165.8 330.5 164.6 331.1 163.4 331.6C162.2 332.1 161 332.6 159.7 333C158.4 333.4 157.1 333.8 155.7 334C154.4 334.3 152.8 334.5 151.7 334.5C150.6 334.5 149.9 334.4 149 334.3C148.1 334.2 147.2 334 146.4 333.8C145.5 333.6 144.7 333.3 143.9 333C143.1 332.7 142.3 332.3 141.6 331.8C140.9 331.4 140.2 330.9 139.5 330.4C138.9 329.9 138.3 329.4 137.8 328.8C137.3 328.2 136.8 327.6 136.4 326.9C136 326.3 135.6 325.6 135.3 324.9C135.1 324.2 134.9 323.5 134.7 322.8C134.6 322.1 134.5 321.4 134.5 320.6C134.5 319.8 134.6 318.8 134.7 318C134.9 317.1 135.1 316.3 135.3 315.4C135.6 314.6 136 313.8 136.4 313C136.8 312.2 137.3 311.5 137.8 310.8C138.3 310.1 138.9 309.4 139.5 308.8C140.2 308.2 140.9 307.6 141.6 307.1C142.3 306.6 143.1 306.1 143.9 305.7C144.7 305.3 145.5 305 146.4 304.7C147.2 304.4 148.1 304.2 149 304.1C149.9 304 150.6 303.8 151.7 303.9C152.8 304 154.4 304.1 155.7 304.4C157.1 304.7 158.4 305.2 159.7 305.7C161 306.2 162.2 306.8 163.4 307.4C164.6 308 165.8 308.7 166.9 309.4C168 310.1 169 310.8 169.9 311.5C170.9 312.2 171.8 312.9 172.6 313.6C173.4 314.3 174.1 314.9 174.7 315.5C175.3 316.2 175.8 316.8 176.2 317.3C176.7 317.9 177 318.5 177.2 319C177.4 319.6 177.5 320.1 177.5 320.6Z" fill="none" stroke="#111" stroke-width="1.2" stroke-linejoin="round"/>
<path d="M174.8 320.6C174.8 321 174.7 321.3 174.5 321.7C174.3 322 174 322.4 173.7 322.8C173.3 323.1 172.8 323.5 172.3 324C171.8 324.4 171.1 324.8 170.4 325.3C169.7 325.7 168.9 326.2 168.1 326.6C167.2 327.1 166.3 327.6 165.3 328C164.4 328.5 163.3 329 162.3 329.4C161.2 329.8 160.1 330.2 158.9 330.5C157.8 330.8 156.6 331.1 155.4 331.3C154.2 331.5 152.8 331.7 151.8 331.7C150.8 331.7 150.2 331.7 149.4 331.6C148.6 331.5 147.8 331.3 147.1 331.2C146.3 331 145.6 330.8 144.9 330.5C144.2 330.2 143.5 329.9 142.8 329.6C142.2 329.2 141.6 328.9 141 328.4C140.4 328 139.9 327.6 139.4 327.1C139 326.7 138.5 326.2 138.2 325.6C137.8 325.1 137.5 324.6 137.2 324C137 323.5 136.8 322.9 136.7 322.3C136.6 321.8 136.5 321.2 136.5 320.6C136.5 320 136.6 319.2 136.7 318.5C136.8 317.9 137 317.2 137.2 316.5C137.5 315.9 137.8 315.2 138.2 314.6C138.5 314 139 313.4 139.4 312.8C139.9 312.3 140.4 311.8 141 311.3C141.6 310.8 142.2 310.3 142.8 309.9C143.5 309.5 144.2 309.2 144.9 308.8C145.6 308.5 146.3 308.3 147.1 308C147.8 307.8 148.6 307.7 149.4 307.6C150.2 307.5 150.8 307.4 151.8 307.4C152.8 307.4 154.2 307.6 155.4 307.8C156.6 308.1 157.8 308.4 158.9 308.8C160.1 309.2 161.2 309.7 162.3 310.2C163.3 310.7 164.4 311.2 165.3 311.7C166.3 312.3 167.2 312.9 168.1 313.4C168.9 314 169.7 314.5 170.4 315.1C171.1 315.6 171.8 316.1 172.3 316.6C172.8 317.1 173.3 317.6 173.7 318C174 318.5 174.3 318.9 174.5 319.3C174.7 319.8 174.8 320.2 174.8 320.6Z" fill="none" stroke="#111" stroke-width="1.2" stroke-linejoin="round"/>
<path d="M172 320.6C172 320.9 171.9 321.2 171.8 321.5C171.6 321.8 171.3 322.1 171 322.4C170.7 322.8 170.3 323.1 169.8 323.4C169.3 323.8 168.8 324.2 168.2 324.6C167.6 324.9 166.9 325.3 166.1 325.7C165.4 326.1 164.6 326.5 163.7 326.9C162.9 327.3 162 327.7 161.1 328C160.1 328.4 159.1 328.7 158.2 329C157.2 329.3 156.1 329.5 155.1 329.7C154.1 329.9 152.8 330 152 330C151.1 330 150.6 330 149.9 329.9C149.2 329.8 148.5 329.7 147.8 329.5C147.2 329.4 146.5 329.2 145.9 329C145.3 328.8 144.7 328.5 144.1 328.2C143.5 327.9 143 327.6 142.5 327.2C142 326.9 141.6 326.5 141.2 326.1C140.7 325.7 140.4 325.3 140.1 324.9C139.7 324.4 139.5 324 139.3 323.5C139 323 138.9 322.6 138.8 322.1C138.7 321.6 138.6 321.1 138.6 320.6C138.6 320.1 138.7 319.5 138.8 319C138.9 318.4 139 317.9 139.3 317.4C139.5 316.9 139.7 316.4 140.1 315.9C140.4 315.4 140.7 314.9 141.2 314.5C141.6 314 142 313.6 142.5 313.2C143 312.9 143.5 312.5 144.1 312.2C144.7 311.9 145.3 311.6 145.9 311.3C146.5 311.1 147.2 310.9 147.8 310.7C148.5 310.5 149.2 310.4 149.9 310.3C150.6 310.2 151.1 310.2 152 310.2C152.8 310.2 154.1 310.4 155.1 310.5C156.1 310.7 157.2 311 158.2 311.3C159.1 311.6 160.1 312 161.1 312.4C162 312.8 162.9 313.2 163.7 313.6C164.6 314.1 165.4 314.5 166.1 314.9C166.9 315.4 167.6 315.8 168.2 316.2C168.8 316.6 169.3 317.1 169.8 317.4C170.3 317.8 170.7 318.2 171 318.6C171.3 318.9 171.6 319.3 171.8 319.6C171.9 319.9 172 320.3 172 320.6Z" fill="none" stroke="#111" stroke-width="1.2" stroke-linejoin="round"/>
<path d="M169.2 320.6C169.2 320.9 169.1 321.1 169 321.3C168.8 321.6 168.6 321.8 168.4 322.1C168.1 322.3 167.7 322.6 167.3 322.9C166.9 323.2 166.5 323.5 165.9 323.8C165.4 324.1 164.8 324.4 164.2 324.7C163.6 325.1 162.9 325.4 162.2 325.7C161.4 326 160.7 326.3 159.9 326.6C159.1 326.9 158.2 327.2 157.4 327.4C156.5 327.6 155.7 327.8 154.8 328C153.9 328.1 152.8 328.2 152.1 328.2C151.4 328.2 150.9 328.2 150.3 328.1C149.7 328 149.1 328 148.6 327.8C148 327.7 147.5 327.6 146.9 327.4C146.4 327.2 145.9 327 145.4 326.7C144.9 326.5 144.5 326.3 144 326C143.6 325.7 143.2 325.4 142.9 325.1C142.5 324.7 142.2 324.4 141.9 324.1C141.7 323.7 141.4 323.3 141.3 322.9C141.1 322.6 140.9 322.2 140.8 321.8C140.7 321.4 140.7 321 140.7 320.6C140.7 320.2 140.7 319.7 140.8 319.3C140.9 318.9 141.1 318.4 141.3 318C141.4 317.6 141.7 317.2 141.9 316.8C142.2 316.4 142.5 316.1 142.9 315.7C143.2 315.4 143.6 315 144 314.7C144.5 314.4 144.9 314.1 145.4 313.9C145.9 313.6 146.4 313.4 146.9 313.2C147.5 313 148 312.8 148.6 312.7C149.1 312.6 149.7 312.5 150.3 312.4C150.9 312.3 151.4 312.3 152.1 312.3C152.8 312.3 153.9 312.4 154.8 312.6C155.7 312.7 156.5 312.9 157.4 313.2C158.2 313.4 159.1 313.7 159.9 314C160.7 314.3 161.4 314.7 162.2 315C162.9 315.4 163.6 315.7 164.2 316.1C164.8 316.4 165.4 316.8 165.9 317.1C166.5 317.4 166.9 317.8 167.3 318.1C167.7 318.4 168.1 318.7 168.4 319C168.6 319.3 168.8 319.5 169 319.8C169.1 320.1 169.2 320.3 169.2 320.6Z" fill="none" stroke="#111" stroke-width="1.2" stroke-linejoin="round"/>
<path d="M166.4 320.6C166.4 320.8 166.3 321 166.2 321.1C166.1 321.3 165.9 321.5 165.7 321.7C165.5 321.9 165.2 322.1 164.9 322.3C164.5 322.5 164.1 322.7 163.7 323C163.3 323.2 162.8 323.4 162.3 323.7C161.7 323.9 161.2 324.1 160.6 324.4C160 324.6 159.3 324.8 158.7 325C158 325.2 157.3 325.4 156.6 325.6C155.9 325.8 155.2 325.9 154.5 326C153.7 326.1 152.9 326.2 152.2 326.2C151.6 326.2 151.2 326.2 150.8 326.1C150.3 326.1 149.8 326 149.3 325.9C148.9 325.8 148.4 325.7 148 325.6C147.5 325.5 147.1 325.3 146.7 325.1C146.3 325 145.9 324.8 145.6 324.6C145.2 324.4 144.9 324.1 144.6 323.9C144.3 323.7 144.1 323.4 143.8 323.1C143.6 322.9 143.4 322.6 143.3 322.3C143.1 322.1 143 321.8 142.9 321.5C142.8 321.2 142.8 320.9 142.8 320.6C142.8 320.3 142.8 319.9 142.9 319.6C143 319.3 143.1 319 143.3 318.7C143.4 318.3 143.6 318 143.8 317.7C144.1 317.4 144.3 317.2 144.6 316.9C144.9 316.6 145.2 316.4 145.6 316.1C145.9 315.9 146.3 315.7 146.7 315.5C147.1 315.3 147.5 315.1 148 315C148.4 314.8 148.9 314.7 149.3 314.6C149.8 314.5 150.3 314.4 150.8 314.4C151.2 314.3 151.6 314.3 152.2 314.3C152.9 314.3 153.7 314.4 154.5 314.5C155.2 314.6 155.9 314.8 156.6 315C157.3 315.2 158 315.4 158.7 315.6C159.3 315.9 160 316.1 160.6 316.4C161.2 316.6 161.7 316.9 162.3 317.2C162.8 317.4 163.3 317.7 163.7 318C164.1 318.2 164.5 318.5 164.9 318.7C165.2 318.9 165.5 319.2 165.7 319.4C165.9 319.6 166.1 319.8 166.2 320C166.3 320.2 166.4 320.4 166.4 320.6Z" fill="none" stroke="#111" stroke-width="1.2" stroke-linejoin="round"/>
<path d="M163.6 320.6C163.6 320.7 163.6 320.9 163.5 321C163.4 321.1 163.2 321.3 163 321.4C162.8 321.6 162.6 321.7 162.3 321.9C162.1 322 161.7 322.2 161.4 322.4C161 322.5 160.6 322.7 160.2 322.9C159.8 323.1 159.3 323.2 158.8 323.4C158.3 323.6 157.8 323.8 157.2 323.9C156.7 324.1 156.1 324.2 155.6 324.4C155 324.5 154.4 324.6 153.8 324.7C153.2 324.7 152.5 324.8 152 324.8C151.5 324.8 151.1 324.8 150.7 324.7C150.3 324.7 149.9 324.7 149.6 324.6C149.2 324.5 148.8 324.4 148.4 324.3C148.1 324.2 147.7 324.1 147.4 324C147.1 323.9 146.8 323.7 146.5 323.6C146.2 323.4 145.9 323.2 145.7 323.1C145.4 322.9 145.2 322.7 145 322.5C144.9 322.3 144.7 322.1 144.6 321.9C144.5 321.7 144.4 321.5 144.3 321.3C144.2 321 144.2 320.8 144.2 320.6C144.2 320.4 144.2 320.2 144.3 319.9C144.4 319.7 144.5 319.5 144.6 319.3C144.7 319.1 144.9 318.9 145 318.7C145.2 318.5 145.4 318.3 145.7 318.1C145.9 318 146.2 317.8 146.5 317.6C146.8 317.5 147.1 317.3 147.4 317.2C147.7 317.1 148.1 317 148.4 316.9C148.8 316.8 149.2 316.7 149.6 316.6C149.9 316.5 150.3 316.5 150.7 316.5C151.1 316.4 151.5 316.4 152 316.4C152.5 316.4 153.2 316.5 153.8 316.5C154.4 316.6 155 316.7 155.6 316.8C156.1 317 156.7 317.1 157.2 317.3C157.8 317.4 158.3 317.6 158.8 317.8C159.3 318 159.8 318.1 160.2 318.3C160.6 318.5 161 318.7 161.4 318.8C161.7 319 162.1 319.2 162.3 319.3C162.6 319.5 162.8 319.6 163 319.8C163.2 319.9 163.4 320.1 163.5 320.2C163.6 320.3 163.6 320.5 163.6 320.6Z" fill="none" stroke="#111" stroke-width="1.2" stroke-linejoin="round"/>
<path d="M159.5 320.6C159.5 320.7 159.5 320.8 159.4 320.9C159.3 321 159.2 321.2 159.1 321.3C159 321.4 158.8 321.5 158.6 321.7C158.4 321.8 158.2 321.9 157.9 322.1C157.7 322.2 157.4 322.4 157.1 322.5C156.7 322.7 156.4 322.8 156.1 322.9C155.7 323.1 155.3 323.2 154.9 323.4C154.6 323.5 154.2 323.6 153.7 323.7C153.3 323.8 152.9 323.9 152.5 324C152 324 151.5 324.1 151.2 324.1C150.8 324.1 150.6 324.1 150.3 324.1C150 324 149.7 324 149.4 323.9C149.2 323.9 148.9 323.8 148.6 323.7C148.4 323.6 148.1 323.5 147.9 323.4C147.7 323.3 147.4 323.2 147.2 323.1C147 322.9 146.8 322.8 146.7 322.7C146.5 322.5 146.3 322.4 146.2 322.2C146.1 322 146 321.9 145.9 321.7C145.8 321.5 145.7 321.3 145.7 321.1C145.6 321 145.6 320.8 145.6 320.6C145.6 320.4 145.6 320.3 145.7 320.1C145.7 320 145.8 319.8 145.9 319.6C146 319.5 146.1 319.3 146.2 319.2C146.3 319 146.5 318.9 146.7 318.8C146.8 318.6 147 318.5 147.2 318.4C147.4 318.3 147.7 318.2 147.9 318.1C148.1 318 148.4 317.9 148.6 317.8C148.9 317.8 149.2 317.7 149.4 317.7C149.7 317.6 150 317.6 150.3 317.5C150.6 317.5 150.8 317.5 151.2 317.5C151.5 317.5 152 317.5 152.5 317.6C152.9 317.7 153.3 317.7 153.7 317.8C154.2 317.9 154.6 318 154.9 318.2C155.3 318.3 155.7 318.4 156.1 318.5C156.4 318.6 156.7 318.8 157.1 318.9C157.4 319 157.7 319.2 157.9 319.3C158.2 319.4 158.4 319.5 158.6 319.7C158.8 319.8 159 319.9 159.1 320C159.2 320.1 159.3 320.2 159.4 320.3C159.5 320.4 159.5 320.5 159.5 320.6Z" fill="none" stroke="#111" stroke-width="1.2" stroke-linejoin="round"/>
<path d="M157.2 174.5C157.2 175.6 157.1 176.7 156.8 177.7C156.5 178.7 156.1 179.6 155.6 180.5C155 181.3 154.4 182.1 153.7 182.8C152.9 183.4 152.1 183.9 151.3 184.2C150.4 184.5 149.5 184.7 148.6 184.7C147.7 184.7 146.8 184.5 145.9 184.2C145.1 183.9 144.3 183.4 143.5 182.8C142.8 182.1 142.2 181.3 141.6 180.5C141.1 179.6 140.7 178.7 140.4 177.7C140.1 176.7 140 175.6 140 174.5C140 173.4 140.1 172.3 140.4 171.3C140.7 170.3 141.1 169.4 141.6 168.5C142.2 167.7 142.8 166.9 143.5 166.2C144.3 165.6 145.1 165.1 145.9 164.8C146.8 164.5 147.7 164.3 148.6 164.3C149.5 164.3 150.4 164.5 151.3 164.8C152.1 165.1 152.9 165.6 153.7 166.2C154.4 166.9 155 167.7 155.6 168.5C156.1 169.4 156.5 170.3 156.8 171.3C157.1 172.3 157.2 173.4 157.2 174.5Z" fill="none" stroke="#111" stroke-width="1.3" stroke-linejoin="round"/>
<path d="M218.9 332.1h1.2m-64.7 26.9h1.2m-28.4-78.9h1.2m62.8-7h1.2m2.8 74.5h1.2m-3.8-62.5h1.2m57.4 14.8h1.2m44.5-1.2h1.2m-147.5-30.1h1.2m58.8 25.2h1.2m75.4 13.2h1.2m-2.1-3.2h1.2m-69.3 41.1h1.2m-50 12.1h1.2m99.2-52.9h1.2m19.1 31.4h1.2m-74.9-30.2h1.2m55.3-3.5h1.2m-108.9-39.3h1.2m75.5 78h1.2m-60.2 21.6h1.2m19.3-75h1.2m14.4-8.1h1.2m91.2 42.6h1.2m-87.2-17.5h1.2m67.1 35.9h1.2m-2.6-23.3h1.2m36.4 24.6h1.2m-117.5-33.8h1.2m1.2 24.9h1.2m76.9-30.5h1.2m-177.9 25.6h1.2m109.5 14h1.2m-78.7-72h1.2m96.6 39.6h1.2m18.6-0.6h1.2m-82.1-35.2h1.2m103.3 53.1h1.2m-28.2 25.2h1.2m-9.7-78.5h1.2m21.9 34.6h1.2m-28-13.5h1.2m-52.7 40.5h1.2m101.3-3.2h1.2m-86.5-49.3h1.2m-37.6 68.1h1.2m24.5-53.3h1.2m-11.4-6.5h1.2m102.8 41.7h1.2m-36.2 1.1h1.2m-115.6 29h1.2m-13.2-88.4h1.2m148.7 36.4h1.2m1.3 16.9h1.2m-93.7 21.7h1.2m-43.6-78.1h1.2m24.5 81.6h1.2m-25.5 8.1h1.2m9.7 2h1.2m7-87.8h1.2m21.8 62.1h1.2m-58-73.2h1.2m-2.1 102.2h1.2m31.3-6.1h1.2m98.2-57.2h1.2m-104.3 55.3h1.2m11.5 3.3h1.2m0.9-83.6h1.2m101.6 28.5h1.2m-74.6 3h1.2m12.5 0.4h1.2m64.1 21.5h1.2m-12.2-20.9h1.2m0.7 22h1.2m-162.3-42.2h1.2m131.8 12.3h1.2m-109.7-43.1h1.2m148.8 105.5h1.2m-53.5-61h1.2m-56.2-21.8h1.2m-66.2 94.1h1.2m138.6-73.9h1.2m-29.2-7.9h1.2m25.9 14.2h1.2m-119.6-49.2h1.2m48.5 93.6h1.2m-38.4-83h1.2m68 35.3h1.2m54.5 3.7h1.2m-50 36.4h1.2m-55 7.3h1.2m-57.3-83.4h1.2m134.7 68.1h1.2m22-47.3h1.2m-97 56.4h1.2m6.6-3.9h1.2m-26.6 19.4h1.2m107.2-15.6h1.2m1.1-10.6h1.2m-26.5-35.4h1.2m-130.8-22.9h1.2m121.6 31.5h1.2m-50.4 27.4h1.2m56.1-31.4h1.2m46 18.2h1.2m-88.7-40.2h1.2m62.8 64.6h1.2m-126 31.4h1.2m125-16.2h1.2m13.5-39.6h1.2m-51.1-13.5h1.2m42.5 10.7h1.2m-92.5-22.7h1.2m83.8 8.4h1.2m-76.7 2.3h1.2m93.1 31.8h1.2m-153.2-66.4h1.2m126.4 28h1.2m-61.2 2.7h1.2m64.7-3.4h1.2m5.4 30.1h1.2m3.9-10.5h1.2m-15.1-39.3h1.2m-105 83.5h1.2m114.9-56.1h1.2m-52.9-3h1.2m-34.1 50.7h1.2m75-47h1.2m-121.6-65.1h1.2m136.7 55.7h1.2m-115.4 52.4h1.2m113-12.5h1.2m-186.4 2h1.2m174.6-43.5h1.2m-184.6 57.4h1.2m66 13.9h1.2m64.9-23.6h1.2m-129.8-23.8h1.2m102.3 9.9h1.2m-10.6-27.9h1.2m-13.3 40.9h1.2m-2.6-62.8h1.2m120.1 36h1.2m-141.5-40.3h1.2m100.3 56h1.2m6.3-35.1h1.2m-42.3 46.8h1.2m-23.1-42.8h1.2m-26.2-91.5h1.2m-26.9 37.7h1.2m-20.4 23h1.2m63.5 33.6h1.2m50.1 3.7h1.2m-64.7-4h1.2m83.8 9.3h1.2m-112.4 36.2h1.2m93.9-44.8h1.2m52.1 31.6h1.2m-38.1-28.8h1.2m44.6 16.4h1.2m-87-21.7h1.2m40 26.7h1.2m-125.6 36.5h1.2m-47.7-27.6h1.2m80.7-55.6h1.2m-62.7-11.4h1.2m150.4 39.2h1.2m-51.4-5.4h1.2m-115.6-27.2h1.2m142.3 26.3h1.2m-81.9-17.4h1.2m51.4 12.7h1.2m41.9 42.1h1.2m-197.9-26.2h1.2m129.9-23.2h1.2m52.1 11.5h1.2m-31.5 35.9h1.2m5.8-34.8h1.2m-71.5 61.8h1.2m115.8-49.3h1.2m-130.2 41.2h1.2m86.1-53.5h1.2m26.7 29.9h1.2m-83.3-50.7h1.2m110.6 87.8h1.2m-27.1-63.9h1.2m-114.8 56.3h1.2m81.1-27.4h1.2m26.5-31.4h1.2m-113.8 57.9h1.2m-18.3-93h1.2m64.6 8.4h1.2m72.7 67.7h1.2m-99.5-58.9h1.2m73.6 45.3h1.2m17 21.7h1.2m-48.2-47.3h1.2m50 17.3h1.2m-19 8.9h1.2m-42.7 0.9h1.2m-18.7-67.6h1.2m-4.3 35.8h1.2m55.8 2.4h1.2m-66.2-19.3h1.2m5.3 18.4h1.2m-73.8-43.3h1.2m152.4 52.9h1.2m-12.8 22.8h1.2m0.8-5.2h1.2m-90.7 6.7h1.2m104.9-31.9h1.2m-162.2-48.7h1.2m-39.4 78.6h1.2m141.9-41.4h1.2m65.7-21.1h1.2m-155.9 88.3h1.2m126.9-30.3h1.2m-51.9-25.8h1.2m81.7 20.3h1.2m-160.1-58.8h1.2m52.2 20.7h1.2m96 26.7h1.2m-22.7-23.2h1.2m-74.9 39.8h1.2m68.1 2.3h1.2m-87.8 2.6h1.2m22.7 3.7h1.2m-6.1-44.7h1.2m-14.8-7.6h1.2m82.1 22.9h1.2m-26.4 26.9h1.2m-80.6-70.5h1.2m-17.4 97.3h1.2m110.7-73h1.2m-118.3-21.3h1.2m78.8 26.8h1.2m-47.2-8.7h1.2m43 18.1h1.2m-52.1-31.2h1.2m-40.3-14.5h1.2m54.7 70h1.2m-66-55.7h1.2m109.6 33.9h1.2m-45.5-4.3h1.2m76.3 45.2h1.2m-57.1-64.5h1.2m-34 5.8h1.2m60.9 14.5h1.2m1.6-14.5h1.2m-104.3 69.4h1.2m73.8-53.1h1.2m7.7-8h1.2m-101.2-38.2h1.2m101.4 47.9h1.2m-62.1 44.8h1.2m32.2 12.9h1.2m-0.6-78.4h1.2m-90.8 67.9h1.2m86.2-51.5h1.2m9 31.8h1.2m48-31.2h1.2m-44.9-12.9h1.2m-1.6 45.5h1.2m-48.3 24.5h1.2m-65.1-56.6h1.2m143-15.2h1.2m-85.3-18.4h1.2m119.9 61.2h1.2m-171.9-54.8h1.2m70.8-5.3h1.2m-7.7 76.5h1.2m-76.4-12.2h1.2m190.2-3.1h1.2m-179.6-71.2h1.2m57.1 19.9h1.2m59.9 15.1h1.2m-51.2 34.7h1.2m88.3-21.5h1.2m-147.7 62.8h1.2m61.1-41.6h1.2m46.7 8.6h1.2m-100.3-72.4h1.2m124.3 37.4h1.2m-33.3 37.7h1.2m84.7-18.7h1.2m-38.6 4.4h1.2m-81.5 5.3h1.2m-44-95.2h1.2m32.1 90.6h1.2m1.8-33.8h1.2m-38 64.8h1.2m15.7-81.4h1.2m1.3-0.9h1.2m-0.7 81.5h1.2m-11-9.9h1.2m56.7-44.6h1.2m62.3 1.9h1.2m-168.9 50.1h1.2m67.3-54.3h1.2m99.6 6.1h1.2m-26.8-5.4h1.2m-51-21.7h1.2m-15.2 51.4h1.2m116.1-20.7h1.2m-181.8-47.2h1.2m125.1 43h1.2m11 10.8h1.2m-125 42.5h1.2m16.4-80.3h1.2m-63.4 62.3h1.2m14.9 17.4h1.2m9.8-95.6h1.2m137.8 57.4h1.2m-134.9-59.9h1.2m-41.6 31h1.2m146.5-3.8h1.2m23.1 22.5h1.2m6.4 8.7h1.2m-88.3-20.1h1.2m23.7 4.6h1.2m-5.5 30.3h1.2m27-48.5h1.2m34.6-18.4h1.2m-65.2 35.6h1.2m14.9 36.5h1.2m-140.1-42h1.2m188 13.9h1.2m-12.5-4.4h1.2m-77.8-23.3h1.2m-79.5-10.8h1.2m-4.7 13.1h1.2m110.4 16.1h1.2m-93.3-37.6h1.2m40.3 12.7h1.2m42.3 13.9h1.2m-57.5 64.7h1.2m8.9-99.2h1.2m-49.6 12.9h1.2m28.8 85.7h1.2m-31.7-100h1.2m170.3 70h1.2m-59.8-33.5h1.2m-132.9 30.6h1.2m129.1 12.4h1.2m40.5-5.3h1.2m-88.8 2.5h1.2m50.3-1.5h1.2m-42.2-29.9h1.2m-14.4-14.6h1.2m-38.4-20.6h1.2m68.6 64.7h1.2m-67 33.5h1.2m101.1-59.9h1.2m-79.8-23h1.2m-69.9 21.4h1.2m36.2-52h1.2m98.5 54.1h1.2m-135.6 38.1h1.2m22.5-71.9h1.2m142 13.4h1.2m-18.6 4.9h1.2m-57.3 41.8h1.2m-99.8-5.5h1.2m46.9-55.4h1.2m-26.3 3.3h1.2m99.1 31.1h1.2m51.6 17.9h1.2m-126.9 43.2h1.2m74.2-28h1.2m-38.6-35.8h1.2m68.2 4h1.2m-94.7-40.7h1.2m44.5 38.4h1.2m17.6 31.5h1.2m2-31.2h1.2m-26.2-2h1.2m77.3 31.8h1.2m-134.9-61.1h1.2m52.3 0.6h1.2m58 62.9h1.2m-78-36.2h1.2m-45.7 76.7h1.2m130.5-61.7h1.2m-51-18.7h1.2m-12.1 49.3h1.2m56.5-48.3h1.2m-106-17.1h1.2m-50.6-30.2h1.2m17 19.2h1.2m30.3 77.3h1.2m62.4-47.8h1.2m34.6 31.3h1.2m-147.6-57.8h1.2m34.6 0.7h1.2m64.2 33.2h1.2m41.2 0.2h1.2m3 32.4h1.2m-119.2 20.2h1.2m25.1-111.6h1.2m-75.1 51h1.2m42.7-40.4h1.2m-6.2 2.7h1.2m47.7 35h1.2m77.5 12.9h1.2m-189.7 57.6h1.2m105.6-87.4h1.2m63.1 27.4h1.2m-43.4-4.2h1.2m-100.8 41.4h1.2m85.3-39.1h1.2m-49.8-36.8h1.2m138.4 35.1h1.2m-52.4-3.1h1.2m-135.5 28h1.2m86.1-42.9h1.2m54.3 55h1.2m34.2-18.2h1.2m-7.7-45.5h1.2m0.6 54.9h1.2m-138.7-64.9h1.2m44.9 25.6h1.2m0.6 4.2h1.2m-23.2-29.5h1.2m26.2 33.8h1.2m-10.5-6.8h1.2m91.4 46.2h1.2m2-12.4h1.2m12 2.1h1.2m-172.8 44.1h1.2m156.4-62.5h1.2m-39.3-13.4h1.2m-2.5 4.9h1.2m-118.3 53.4h1.2m77.1-79.8h1.2m69.8 34.3h1.2m-142.5-39.1h1.2m19.7 0h1.2m-11.2 103.1h1.2m133.2-56.3h1.2m-98.8-32h1.2m-54.5-23.7h1.2m-7.6 10.6h1.2m-7.5 77.8h1.2m140.2-47.9h1.2m-16.3 32.7h1.2m39.9-17.8h1.2m-5.6-18.4h1.2m-153.8-49.9h1.2m159.8 50.7h1.2m-180.1-4.7h1.2m47.7 80h1.2m68-88.8h1.2m50.7 54.8h1.2m-41.4-36.5h1.2m13.4 37.1h1.2m-122.5 22.9h1.2m-13.1-88h1.2m88.1 28.7h1.2m11.6-7.7h1.2m63.3 43.8h1.2m-10.5-44.3h1.2m-80.4 5.5h1.2m-17 37h1.2m-35.9-74.4h1.2m8.6 1.3h1.2m123 61.8h1.2m-46.7-21.9h1.2m-73.5-33.4h1.2m93 58.1h1.2m32.5 24.1h1.2m-146.7 3.4h1.2m68.4-58.7h1.2m67.6 19.4h1.2m-8.5 12.6h1.2m-22-31.8h1.2m-23.3 5.4h1.2m-128.5 15.3h1.2m-25.2 20.6h1.2m117.2-57.2h1.2m-11.3-17h1.2m78 72.7h1.2m20.9 7h1.2m-74-56.9h1.2m34.4 40.7h1.2m42.4 9.3h1.2m-181.3-62.1h1.2m139.1 52.7h1.2m-80.5 11.6h1.2m97.1-8.1h1.2m-87.5-33.6h1.2m2.7 1.8h1.2m-28.1-33.4h1.2m-48.4 113.4h1.2m-0.8-113.2h1.2m22.5 87.1h1.2m-4.5-85.4h1.2m146.4 47.8h1.2m-68.8 39.2h1.2m-100.6-3.2h1.2m56.9-14.7h1.2m-74.9-40.8h1.2m98.4 32.7h1.2m-24.4 20.3h1.2m42.6-45.8h1.2m56.4 5h1.2m-76.5-6.2h1.2m35.6-5.4h1.2m-16.8 5.4h1.2m-56.8-22.9h1.2m-40.9 77.7h1.2m62.3-53.7h1.2m89-5.8h1.2m-26.6 3.5h1.2m-88.1 42.2h1.2m0-67.5h1.2m40.6 27.3h1.2m36.4 33h1.2m-150.3-44.9h1.2m53.9-33.1h1.2m-4.8-16.5h1.2m27.9 48h1.2m125.8 52.7h1.2m-132.8-4.8h1.2m14.6-7.5h1.2m-38.3 26.6h1.2m116.3-77.9h1.2m-20.3 9h1.2m-38.1 5.5h1.2m-48.2-14.4h1.2m23.7-7.6h1.2m-45.9-4h1.2m-24.6 91.8h1.2m28.4-95.1h1.2m-18.8-1.1h1.2m136.5 72.9h1.2m-131.6 37.6h1.2m130.4-67.7h1.2m-133.3 50.5h1.2m-75.9-113.3h1.2m132.2 86.4h1.2m-12.7-3.1h1.2m-30.6 22.6h1.2m-35.3 9.5h1.2m-2-90.1h1.2m110 33.4h1.2m58 43.7h1.2m-23.8-19.5h1.2m-14 2.8h1.2m9.2-12.3h1.2m-12.2 20h1.2m4-28.2h1.2m-24.4-15.2h1.2m-127.5-37.1h1.2m150.7 67.2h1.2m-100.5 19h1.2m117.3-23.7h1.2m-67.4 9.9h1.2m45.3-8.2h1.2m-2.1-45.4h1.2m-152.8 76.4h1.2m-7.2-2.7h1.2m168.9-50.9h1.2m-60.8 5.7h1.2m-45.8-19.6h1.2m-61.8 65h1.2m85.6-51.7h1.2m-52.7-35.8h1.2m-41.1 112.7h1.2m4.9-12.1h1.2m126.7-63.4h1.2m-29.5-7.6h1.2m-32.8-30.8h1.2m-14.2 16.7h1.2m-69.2 7.1h1.2m26.6 71.5h1.2m-27.9-85.5h1.2m21.9-2.7h1.2m-7.3 87.7h1.2m25.2-108.2h1.2m157 98h1.2m-53.4-62.6h1.2m-79.3 2.3h1.2m11.4-10.6h1.2m-75.8 75.5h1.2m4.1 3.6h1.2m21.9-86.7h1.2m132.4 24.3h1.2m-106.8-7.3h1.2m22.1 5.9h1.2m-26.1-39.6h1.2m6 27.7h1.2m17.6 89.1h1.2m-19.2-93.2h1.2m85.2 19.7h1.2m-73.7 35h1.2m72.3-27.1h1.2m8 17.9h1.2m-104-38.9h1.2m100 46.8h1.2m0.8 1.9h1.2m-116 17.6h1.2m110.8-26.9h1.2m-93.9-44.9h1.2m-33.6 83.9h1.2m53.2-74.2h1.2m-36.4-22.4h1.2m-28.2 94.4h1.2m-6.2-101.3h1.2m123.6 39.2h1.2m-94.8-24.1h1.2m28.7 34.2h1.2m-18 36.9h1.2m-34.8-70.9h1.2m-17.8 98.7h1.2m142.1-61.2h1.2m-72.8-13.2h1.2m-61.3 68.6h1.2m129.7-58.9h1.2m-70.2-26.7h1.2m52.3 58.1h1.2m-153.4-45.4h1.2m172.4 31.5h1.2m-45-50.1h1.2m54-43h1.2m-112.1 55h1.2m-16.8-16.4h1.2m22.4 32.3h1.2m-2.3-10.3h1.2m-77.4-32.7h1.2m0.8 92h1.2m128.5-52.6h1.2m-20.4 33.5h1.2m-108.5-72.6h1.2m117.3 46h1.2m56 25.6h1.2m-104.1-55h1.2m7.2 54.1h1.2m-44 26.1h1.2m109.5-16.8h1.2m-36.9-32h1.2m45.9-3.1h1.2m21.7-5h1.2m-204.3-2h1.2m34.7 67.6h1.2m28-14.4h1.2m-37.7-79.3h1.2m48.4 70.3h1.2m100.5-35h1.2m-18.4-7.5h1.2m-113.6 68.2h1.2m-3.4-10.9h1.2m-36.8-68.4h1.2m105.1 51.2h1.2m37.7-51h1.2m-80.7 61.2h1.2m91.9-40.5h1.2m-140.8-35.4h1.2m23.6 84.8h1.2m110.7-49.6h1.2m-134.7-42.8h1.2m9.7 90.6h1.2m-46.5-65.1h1.2m156.2 42.9h1.2m-83.3-53.6h1.2m-46.9-9.1h1.2m-4.2-1.8h1.2m99.5 67.8h1.2m4.7-48.5h1.2m-83.3-18.9h1.2m-2.8-0.2h1.2m57.1 61.6h1.2m-17.1-32.8h1.2m35.8 65.4h1.2m0.4-15.7h1.2m52.5-24.5h1.2m-70.1-33h1.2m-33.5 46.8h1.2m50.5-32.4h1.2m-101.6 53.2h1.2m84.8-60.6h1.2m-0.3-12h1.2m-77.2 77.5h1.2m56.4-26.1h1.2m3.1-4.5h1.2m0.7-30.9h1.2m51.1-13.8h1.2m-101.6-13.6h1.2m-57.6 50.2h1.2m35.7 51.2h1.2m57.6-73h1.2m36.4 1.3h1.2m-73.4 48.1h1.2m113.8-20h1.2m-58.7-34.4h1.2m10 6.2h1.2m20.1-1.7h1.2m-74.5-16.1h1.2m66.5 59.8h1.2m-72.2-2h1.2m72.9-66.3h1.2m-26.5 28h1.2m-43.6-29.4h1.2m-10.7 2.9h1.2m40.5 51.6h1.2m0.6 11.7h1.2m8.4-4.2h1.2m58.9-20.2h1.2m-120.8 33h1.2m102.6-43h1.2m-122.4-35.9h1.2m31.7 83h1.2m107.3-56h1.2m2.1-22.5h1.2m-141.2-21.6h1.2m-35.1 111.2h1.2m136.9-32.4h1.2m-65.7-0.7h1.2m25.4 9h1.2m44.4 2.6h1.2m5.6-30.8h1.2m-192.8-48.7h1.2m210.9 34.7h1.2m-9 21.1h1.2m-149.3-51.5h1.2m-19.3 82.5h1.2m11.3-81h1.2m145 51.2h1.2m-59.4 18.1h1.2m64.5-54.9h1.2m-90.8 16.6h1.2m5.2 31.5h1.2m56-26.6h1.2m-70.9 25.9h1.2m-69.5-71.2h1.2m71.6 3.2h1.2m57.1 40.3h1.2m-43.9-40.5h1.2m45.9 30.7h1.2m-116.2 72.1h1.2m56.9-68.4h1.2m71.3 7.6h1.2m17.1 16.3h1.2m-53.8-17.8h1.2m-118.8-30.7h1.2m1-52.1h1.2m183.6 124.4h1.2m-130.5-7.8h1.2m-83.3-35.1h1.2m179.5 16.1h1.2m-147.1 37.9h1.2m125.4-52.6h1.2m19.4 0.8h1.2m12.6 2.7h1.2m-47.4 29.6h1.2m-86.2 26.8h1.2m-39.1-12.2h1.2m150.8-52.8h1.2m-37.3 4.2h1.2m21.9 34.1h1.2m-78.7-65.5h1.2m-94-8.3h1.2m82.9 18.4h1.2m-57.4-15.1h1.2m178.8 54h1.2m-118.5-49.3h1.2m20.5 20.8h1.2m-34-42.4h1.2m42.4 46.4h1.2m-64.1-46h1.2m34.6 50.7h1.2m-76.1-22.2h1.2m125.6 21.9h1.2m34.7-1.4h1.2m13.2-17.4h1.2m-1.4 49.6h1.2m-134.8-60.6h1.2m74.3 25.9h1.2m-80.9 58.6h1.2m105.6-53.8h1.2m-76.4-11.1h1.2m-27.5 70.6h1.2m89.5-63.1h1.2m29.7 26.7h1.2m-162.9 42.4h1.2m99.1-78.2h1.2m-114.9 10.9h1.2m118.6 33.8h1.2m-46.8-49.1h1.2m-3.2 61.7h1.2m-29.8-83.3h1.2m86.1 38.3h1.2m-137.5 24.1h1.2m72.9 24.6h1.2m-48.6 5.2h1.2m5.8-110.2h1.2m160.3 78.7h1.2m14.5 2.9h1.2m-169.6 38.4h1.2m18.2-102.2h1.2m75.1 21.7h1.2m3.8-3.6h1.2m-40.7-3.1h1.2m31.6 23.1h1.2m-57.1-12.4h1.2m-32.9-19h1.2m3.7 91.5h1.2m38.9-105.7h1.2m-60.8 10.5h1.2m66.3 31.7h1.2m34.2 3.3h1.2m-104.9 59.5h1.2m-12.1-6.4h1.2m91.5-52.5h1.2m-52.2-33.9h1.2m23.6 8.9h1.2m-40.2-40.3h1.2m20.5 107.3h1.2m73.4-7.6h1.2m-83.3 50.7h1.2m-53.5-101h1.2m130-8.9h1.2m-123.3-2.4h1.2m145.8 25.4h1.2m-21.9-18.1h1.2m-97.8-35.7h1.2m50.6 60.4h1.2m-75.7 49.5h1.2m35.2-80h1.2m126.4 54.2h1.2m-112.5 7.2h1.2m33.8-49.2h1.2m14.1 43.3h1.2m-42.4-57.4h1.2m-63.1-8.3h1.2m77.9 76.9h1.2m-64.6-81h1.2m91.7 70.2h1.2m-70.7-55.5h1.2m22.8 26.8h1.2m84.6 19.7h1.2m-47.8-32.6h1.2m-99.7 85.5h1.2m161.1-80.9h1.2m-123.8-26.6h1.2m82.4 29.9h1.2m-56.5 3.1h1.2m79.7-1.6h1.2m-88.5 29.4h1.2m60-36.6h1.2m-120.4 66h1.2m26.1 4.6h1.2m-4-108.4h1.2m-32.4 18.1h1.2m135.8 17.8h1.2m-58.7 9.7h1.2m-95.7 44.8h1.2m21.4-85.9h1.2m-25.5 91.6h1.2m89.9-19.8h1.2m-26 46.6h1.2m-0.4-40h1.2m14.3-40.8h1.2m-50.2-27.7h1.2m133.8 17.7h1.2m-147.7-17.1h1.2m144.6 54.8h1.2m-131.1-62.2h1.2m74.4 68.1h1.2m50.3 13.4h1.2m-80.6-12.2h1.2m-16.5 4h1.2m90.8-1.5h1.2m-97.7-63.5h1.2m91.9 37.8h1.2m-137.8-52.8h1.2m125.8 43.9h1.2m5.1 33.5h1.2m-6.5 1.4h1.2m-19.3-53.5h1.2m-107.5-11.5h1.2m107.2 30.7h1.2m-54.1 5.5h1.2m9.7-7.6h1.2m-77.3 61.4h1.2m2-100.3h1.2m25.7 14.9h1.2m30 24.5h1.2m27.4 32.7h1.2m-109 10.5h1.2m170 0.9h1.2m-116.4 7.8h1.2m95.8-47h1.2m-11.1-1h1.2m-3.4 2h1.2m-41.3-7h1.2m-53.9 67.7h1.2m80.9-28.5h1.2m-84.3-64.5h1.2m-54.7 25.8h1.2m128.4 6.5h1.2m27 26.2h1.2m-3.8-67.3h1.2m-142.4 12.4h1.2m36.4 88.9h1.2m44.3-58.1h1.2m-79.5 50.6h1.2m75.4-65h1.2m-6.3 10.2h1.2m-25.2 50.8h1.2m45.2-20.4h1.2m-67.1-67.1h1.2m-50.6 52h1.2m81.4-24h1.2m58 37.3h1.2m-81-54.5h1.2m-19.1 83.5h1.2m-21.6-88.2h1.2m78.6 60.6h1.2m72.6-15h1.2m-125.4-44.9h1.2m90.4 33.9h1.2m12.4-17.6h1.2m23.9 28.2h1.2m3.5-23.3h1.2m-18 42.4h1.2m-50.5-40.9h1.2m7.7-43.1h1.2m-102.2 8.6h1.2m142.1 50.6h1.2m-65.3-22.1h1.2m-85.6 68h1.2m-6.6-79.7h1.2m6.6-13.9h1.2m0.8 8.9h1.2m150.9 37.3h1.2m-172.2 54h1.2m118.1-30.1h1.2m-38.3-5.3h1.2m-56.2 55.2h1.2m47.9-92.1h1.2m-12.6-15h1.2m-73.4 50.4h1.2m88.3-34.5h1.2m-28.9-48h1.2m-44.5 27.9h1.2m-15.1 13.5h1.2m69.8 53.6h1.2m21.1 3.8h1.2m26.8-38.4h1.2m4.8-7.5h1.2m-126.1 66.7h1.2m85.7-58.6h1.2m-3.1 24.5h1.2m2.8-1.1h1.2m45.6-36.5h1.2m29.8 42.9h1.2m-16.3-41.8h1.2m-35.3 7.6h1.2m43.4 25.8h1.2m-28.3-27.2h1.2m15.7-19.4h1.2m-103.8 73h1.2m60-19h1.2m-88 30h1.2m-30.6-63.6h1.2m176.7 16.4h1.2m-50.6 16h1.2m7.4-28.9h1.2m-127.9 44h1.2m30.1-90.6h1.2m-48.9 60.8h1.2m65.4 42.5h1.2m-12.7-5.7h1.2m141.1-52.3h1.2m-19.3 13.3h1.2m-21.7 17.9h1.2m-82.9-96.9h1.2m4.3 100.4h1.2m-71.4-80.7h1.2m72.8 77.7h1.2m32-51.7h1.2m-83.6 91.3h1.2m77.2-70.2h1.2m-28.9 27.3h1.2m-65.3-72.6h1.2m63.5 37.1h1.2m10.7-8h1.2m44.6 11.6h1.2m26.3 53.4h1.2m-92.2-14.1h1.2m94.3-10.8h1.2m-28.9-37.1h1.2m-57.6 8.1h1.2m-33.2-37.8h1.2m-58.3 38.9h1.2m110.2 36.2h1.2m-100.3-64.4h1.2m122.8 62.4h1.2m-110.2 24.9h1.2m-32.5-51.8h1.2m163.9-10.6h1.2m-83-3.5h1.2m90.6 45.2h1.2m-93.6-47.5h1.2m-3.3-21.6h1.2m-46.2 87.9h1.2m59.3-70h1.2m69.9 1.4h1.2m-97.4 63.4h1.2m-69.8-17.4h1.2m142.1-33.8h1.2m-23.6-4.9h1.2m-0.4 54.2h1.2m25.5-58.2h1.2m16.5 37.2h1.2m-95.7-48.9h1.2m-31.9 85.4h1.2m81.6-78.3h1.2m-8 10.1h1.2m17.7 40.9h1.2m62.4 11.6h1.2m-191.9-64.1h1.2m97.8 13.2h1.2m-19.5-10.8h1.2m-12.2-8h1.2m15.6 60.5h1.2m-76.9 15.2h1.2m95.3-50.9h1.2m-56.8 65.1h1.2m48.3-67.5h1.2m-17 31.4h1.2m-31.9 34.7h1.2m99-63.2h1.2m-81.5-15.1h1.2m-3.8 1.5h1.2m108.1 52.6h1.2m-109.5 13.8h1.2m-29.7 6h1.2m42.5-86.3h1.2m74 77.5h1.2m-84.1-84.1h1.2m44.1 21.6h1.2m-113.9-19.5h1.2m146.3 70.5h1.2m-29.9-43.2h1.2m23.2 33.4h1.2m-70.7 37.3h1.2m-8.5-33.1h1.2m-106.3-27.2h1.2m76.8-39.5h1.2m-61.2 58.2h1.2m67.1-51.6h1.2m-48.3-7.9h1.2m113.9 14.9h1.2m-172-69.3h1.2m65.7 50.6h1.2m25.1 9.8h1.2m21.4 58.4h1.2m-69.4-85.3h1.2m112.9 55.7h1.2m14.3-0.4h1.2m-120.1-38.1h1.2m85.9 37.3h1.2m-5.9 29.7h1.2m-50.5 21.1h1.2m-26.8-106h1.2m-1.8 16.4h1.2m136.5 25.2h1.2m-150.3-52.2h1.2m124.7 66.7h1.2m-80.6-38.2h1.2m49.6 33.7h1.2m35.5 32.8h1.2m21.8-15.7h1.2m-192.7-24.2h1.2m46.1-27.1h1.2m-15.8-34h1.2m41.5 118.1h1.2m50.5-47.2h1.2m-30.9-15.5h1.2m74.4 47.7h1.2m-8.8-42.5h1.2m11.9 36.3h1.2m-113.7 29.3h1.2m-16.7-2.1h1.2m0.8-85.7h1.2m141.7 45h1.2m-173.4 32.1h1.2m117.8-53.7h1.2m-45 38.1h1.2m28.9-28.4h1.2m-5.3 31.2h1.2m-50.9 24.5h1.2m-6.2-84.9h1.2m76.1 60.1h1.2m-90.8-67.9h1.2m53.9 22.4h1.2m-27.4-4.4h1.2m-60.7-18.7h1.2m6.4 86.7h1.2m-8.4 1.5h1.2m51.9-4.9h1.2m35.1-56.9h1.2m-59.9-24.5h1.2m74.9 38.4h1.2m4.4 27h1.2m20.7-32.9h1.2m-55.4 2.4h1.2m6.9-11h1.2m-55.6 84.8h1.2m43.3-47h1.2m87.8 7.3h1.2m-22-38.5h1.2m0.2-0.8h1.2m-160.3 6.5h1.2m143.8 0h1.2m-91.8 65.9h1.2m122.4-80.6h1.2m-3.1 43.8h1.2m-41.7-34.5h1.2m1.4-12.8h1.2m25.5-52.5h1.2m1.3 69.3h1.2m-110 49.6h1.2m113.7-39h1.2m-92.6 21h1.2m-20.3 18h1.2m36.3-18.8h1.2m-15.2-45.5h1.2m35.6 14.1h1.2m-54.9-32.5h1.2m-18-0.6h1.2m38.4 36.6h1.2m90.8 7.4h1.2m-40.4-30.4h1.2m-73-5h1.2m-10.2-18h1.2m92.9 4.4h1.2m10.2 78.2h1.2m-23.6-43.2h1.2m23.9 7h1.2m0.6 15.5h1.2m-4.4 17.4h1.2m-141.9-83.7h1.2m-19.2 19.1h1.2m100.4 19.8h1.2m61.5 46.8h1.2m-49.4 8.1h1.2m-6.2-18.5h1.2m55.5 10.6h1.2m-92-71.7h1.2m37.3 35.1h1.2m-4-17.1h1.2m51.3 10.5h1.2m-137.1-28h1.2m19.2 3.9h1.2m3.5-6h1.2m-43.9 1.9h1.2m127.1-7.3h1.2m-107.4-2.2h1.2m153.1 59.7h1.2m-163.9-60.6h1.2m141.1 61.9h1.2m-135.5-56.4h1.2m48.9 38.6h1.2m-74 58.4h1.2m107.4-98.5h1.2m37.4 41.1h1.2m-151-36.2h1.2m52.4 15.9h1.2m-53 72.3h1.2m38.2-108.2h1.2m-70.3 53.3h1.2m39.7-30.6h1.2m125.5 64.1h1.2m-38.9-3.2h1.2m12.7-32.2h1.2m-94.6-37.2h1.2m-39.4 77.3h1.2m48.1 25.3h1.2m19-89.9h1.2m27.3 63.1h1.2m-27.2 4.9h1.2m98.3-9.7h1.2m-139.7-104.7h1.2m100.2 72.7h1.2m-107.5 64.5h1.2m1.5-98h1.2m14 94.2h1.2m99.3-66h1.2m25.1 8.8h1.2m-161.4-39.1h1.2m42.1 82.4h1.2m-48 25.9h1.2m192.7-111.8h1.2m-208.8 79.7h1.2m27-76.1h1.2m-23.5 17.3h1.2m158.2 55.8h1.2m-84.9 0h1.2m-6.5-49.6h1.2m46.7 3.3h1.2m52.2-2.7h1.2m-10.6 44h1.2m-115.6 19.8h1.2m103.1-51.2h1.2m-136.8-28.9h1.2m3-3.8h1.2m37.9 80.6h1.2m-14.9-81.6h1.2m127.1 59.4h1.2m-13.5 12.7h1.2m-92.8 23.8h1.2m82.3-32h1.2m-38.6 13.8h1.2m-130.3 39.3h1.2m75.8-111.9h1.2m56.1 23.6h1.2m-103.9-31.7h1.2m99.2 12.6h1.2m-112.5 79.7h1.2m100.9-54.2h1.2m-58.9 50.3h1.2m0.4-4.3h1.2m-46.1-79.7h1.2m128.1 31.4h1.2m19.6 32.4h1.2m-138.9 20.6h1.2m121.3-8.2h1.2m-110.5-88.8h1.2m-2.4-9h1.2m-17.2 106.6h1.2m145.1-36.4h1.2m-80.4-14.9h1.2m-82.7-23.5h1.2m4.5-2.4h1.2m138.3 62.1h1.2m14.6-25.6h1.2m6.9 7h1.2m-54.9-31.9h1.2m-127.9 42h1.2m180.8 3.8h1.2m-44.3-32h1.2m44.5 5.8h1.2m-47-10.5h1.2m-47.4 4.6h1.2m-20.4-27.6h1.2m-36.4 100h1.2m125-26.4h1.2m-109.6 3.6h1.2m102-55.7h1.2m8-13.8h1.2m-156.3-30.8h1.2m32.5 11h1.2m133.8 57.1h1.2m-123-47.6h1.2m-14.4-7.8h1.2m37.2 18.3h1.2m-25.4-13h1.2m103.3 61.1h1.2m-163.3 7.2h1.2m189.7-35.3h1.2m-23.4 14.7h1.2m-112.4-45.7h1.2m130.6 31.2h1.2m-152.2-46.8h1.2m143.5 40.7h1.2m-56.9 3.6h1.2m51.3 45.7h1.2m-13.6-17.8h1.2m-16.4-86.5h1.2m-31.4 56.6h1.2m-33.9 31.9h1.2m116.1 7.1h1.2m-133.3-58.7h1.2m73.7 10.2h1.2m-18.5 13.7h1.2m-123.1-26.6h1.2m15 95.5h1.2m121-72.1h1.2m-58.6-5.6h1.2m32.5 39.4h1.2m-68.8-71.4h1.2m37.8 41h1.2m-73.8-32.3h1.2m93.3 11.3h1.2m-80.3 75.8h1.2m63.3-56.4h1.2m-95.2-35.7h1.2m77.3 38.3h1.2m68.1-2.6h1.2m-90.8-18.8h1.2m-43.7-17.1h1.2m-30.1 58.4h1.2m66.9 20.8h1.2m-17.3 13.9h1.2m19-12.6h1.2m-1.2 10.2h1.2m60.3-90.7h1.2m52.4 21h1.2m-163 77.6h1.2m64.3-66.9h1.2m49.3 7h1.2m-66.9 39.1h1.2m42.4-7.3h1.2m-45.9 2.7h1.2m101.6-48.9h1.2m-68.7 13.9h1.2m61 21.8h1.2m-18.6-24h1.2m-13.6-1.9h1.2m-115.6-32.8h1.2m46.6 70.3h1.2m21.6-33.5h1.2m53.5-46.3h1.2m22.8 62.9h1.2m-0.1 13.2h1.2m-22.8-1.3h1.2m-116.7-62.1h1.2m120.3 59.2h1.2m-7.8 7h1.2m-88.9-68.1h1.2m63.7 25.6h1.2m-133.2 37.4h1.2m138.9 5.3h1.2m-41.8-6.1h1.2m62.4 4h1.2m-104.6-61.3h1.2m36.8 74.3h1.2m-73.8 8.6h1.2m119.3-16.2h1.2m2.3-9.5h1.2m-122.8 34h1.2m88-1.5h1.2m61.4-48.7h1.2m-112.3 39.7h1.2m39.9-56.8h1.2m73.8-22.7h1.2m-133.1 86.8h1.2m-32-88.2h1.2m151.3 47h1.2m-126.5 36.9h1.2m42.4-53.9h1.2m-20.1-17.4h1.2m76.7 8.5h1.2m-46.4 6h1.2m26 3.3h1.2m-127.9-24.8h1.2m3.6 0.4h1.2m83.7 20.6h1.2m61.8-14.7h1.2m-24 46.4h1.2m-95.2-84.4h1.2m-14.7 110.9h1.2m159.9-40.8h1.2m-155.6-83.3h1.2m114.4 70.1h1.2m28.2 78.6h1.2m-133.9-124.8h1.2m-50.1 79.4h1.2m28.8 33.7h1.2m-17.1-108.5h1.2m48.2 89.8h1.2m64.5-20.8h1.2m35-27.6h1.2m-176.9 23.4h1.2m160.2-28.6h1.2m-24.1 2.7h1.2m-119.9 65.8h1.2m42.5-14.4h1.2m30.3-71.9h1.2m-53.7-12h1.2m128.2 35.8h1.2m-104.7-37.9h1.2m113.1 34h1.2m-8.7 3h1.2m29.7 12.8h1.2m-18.6 2.5h1.2m-160.1-52.3h1.2m28.8-2.5h1.2m8.2-30.5h1.2m83.9 124.1h1.2m-32.7-53.3h1.2m-70.5-36.6h1.2m38.3 73.7h1.2m89.6-74.6h1.2m-127.3-0.2h1.2m31 83.7h1.2m25.3-54h1.2m41.4 2.4h1.2m-119.9 56.8h1.2m110-52h1.2m22.7 0.8h1.2m-114.3-33.5h1.2m118.4 57.1h1.2m-146.2-59.6h1.2m-19.5 75.6h1.2m120.3-48.1h1.2m44.1 19.8h1.2m5.7-2.1h1.2m-146.3-43.1h1.2m76.2 16.7h1.2m-47.6-7h1.2m30.5-28.9h1.2m16.8 45.2h1.2m16.9 35.5h1.2m7.1-26.2h1.2m-145.9 30.6h1.2m138-36h1.2m-96.4 73.3h1.2m20.3 4.6h1.2m-22.2-107.6h1.2m10.8 85.5h1.2m62.3-51.9h1.2m-27.5-9.4h1.2m-44.4-22.5h1.2m142.4 73.3h1.2m-186 23.6h1.2m163.1-36.5h1.2m-175-30h1.2m94.1 2.3h1.2m-84.8 52.7h1.2m51-81.1h1.2m102.7 32.2h1.2m-136.8-42.6h1.2m56.3 26.3h1.2m76.6 9.4h1.2m-133.2-37.6h1.2m44.4 24.4h1.2m71 43.7h1.2m-68.5-35.5h1.2m-16.4 45.9h1.2m21.2-44.2h1.2m-101.2 13.7h1.2m88.2-25.6h1.2m2.7-12.4h1.2m-24-15.1h1.2m-70.4 75.7h1.2m97.3-32h1.2m-64.6-48.3h1.2m97.1 48.8h1.2m43.5-2.5h1.2m-16.2 0.3h1.2m-9.3-1.3h1.2m-110.3-43.1h1.2m110.6 43.9h1.2m-137.1 52.6h1.2m131.1-50.1h1.2m-38.8 0.9h1.2m-31.6-32.8h1.2m98.7 48.1h1.2m-100.5 37.4h1.2m-40 12h1.2m78.3-35.4h1.2m76.9 51.4h1.2m-35.7-79.5h1.2m5.7 29.5h1.2m-109.8-60.6h1.2m-2.6 1.4h1.2m43 29.6h1.2m-109.3 40.9h1.2m39.2 9.5h1.2m49.7-98.6h1.2m-69.7 112.7h1.2m66.8-66.5h1.2m37.4-4.1h1.2m70.2 37.4h1.2m-142.1-88.3h1.2m39.8-26.1h1.2m11 125.2h1.2m-91.3-81.7h1.2m113.3 1.1h1.2m-105.1-9.5h1.2m50.2 88.7h1.2m89.2-41.3h1.2m-167.7-19.6h1.2m100.1 14.9h1.2m-43.1 46.3h1.2m-53.8 5.6h1.2m52.9 0.5h1.2m128.1-25.5h1.2m-130.6-55.1h1.2m30.3 30.7h1.2m-18.3-14.8h1.2m40.8 3.2h1.2m-110.6 73h1.2m116.6-74.1h1.2m52.5 70.2h1.2m-95.1-74.9h1.2m74.1 24.3h1.2m-150.6 44.1h1.2m55.2-7.5h1.2m-76-26.5h1.2m108.7-15.8h1.2m25.5-1.4h1.2m-140.9 17.4h1.2m177.6 8h1.2m-69.7-28.7h1.2m-32.1 55.7h1.2m-43.2-87.1h1.2m-5.1 88.9h1.2m-7.3-95.7h1.2m138.9 93.5h1.2m-93.4-12.6h1.2m112.7-5h1.2m-41.3-6.6h1.2m-17.3-38.7h1.2m-93.3-22.6h1.2m28.8 79.3h1.2m62.6-14.8h1.2m-61.9-55.2h1.2m78.9 52.7h1.2m19.8-21.2h1.2m-179.3-8.8h1.2m127.6 31h1.2m69.8-21.3h1.2m-196 7.3h1.2m99.8 12.9h1.2m13-26h1.2m-46.5-30.6h1.2m73.2 59.4h1.2m-118.9-66.5h1.2m150.6-3.3h1.2m-82.7 30.7h1.2m30.6-10.9h1.2m-75.6-73.2h1.2m68.9 126.7h1.2m-63.2-61.4h1.2m-6.3-28.3h1.2m117.5 72.5h1.2m-2.5-24.6h1.2m0.1 29h1.2m-140.1 30.8h1.2m138.8-48.9h1.2m-103 37.3h1.2m-12.8 12.3h1.2m99.1-49h1.2m14.2-1.1h1.2m-160.9-37.4h1.2m92 29.4h1.2m-5.9-9h1.2m70.2 26.8h1.2m-101.3 34.2h1.2m-66.3-77.1h1.2m23.5 86.9h1.2m-21.2-9.4h1.2m93.2-46.5h1.2m-60.4 48.7h1.2m10.1-75.8h1.2m115 37.1h1.2m-97 18.6h1.2m-37.5-60.4h1.2m159.7 38.1h1.2m-71.1-18h1.2m-101.2-24.5h1.2m131.5 47.9h1.2m12.9-13.6h1.2m-99-18.6h1.2m90.7 23.9h1.2m-9.7 9.6h1.2m-38.8-11.1h1.2m26.3-35.7h1.2m4.3 69.4h1.2m-91-4.4h1.2m43.4-32.6h1.2m-58.8-24.9h1.2m118 59.2h1.2m-94.6-50.9h1.2m-13.7 60.3h1.2m-6.4-67.4h1.2m72.7 56.3h1.2m32.3-9.9h1.2m-146.5 34.9h1.2m147.7-14.3h1.2m-108.1-66.3h1.2m8.8 1.4h1.2m-89.2 22.7h1.2m170.4 1.1h1.2m-138.4-61h1.2m93.3 50.6h1.2m46 11.1h1.2m-6.9-4.5h1.2m-162.6-17.1h1.2m0.2-22.5h1.2m2.6 92.7h1.2m161-43.6h1.2m-166.5 39.2h1.2m128.8-18.3h1.2m29-2.5h1.2m1.5-30.5h1.2m-120.1-52h1.2m130 62.7h1.2m5.2 24.2h1.2m-121.6-65.4h1.2m-36.6 93.5h1.2m7.6-6.3h1.2m126.9-41.1h1.2m-138.2-62.6h1.2m119.7 87.1h1.2m-83.9-67.7h1.2m95.4 64.9h1.2m-100.7-62.6h1.2m-53 2.4h1.2m113.1 15.3h1.2m2.7 13.8h1.2m-26 42.7h1.2m-25.5-120.2h1.2m35.3 40.5h1.2m-110.8-0.7h1.2m154.4 28.4h1.2m-15.4 9.4h1.2m-66.9-18.5h1.2m37.1-2.9h1.2m-82.5 75.6h1.2m107.1-61.2h1.2m-127.6 68h1.2m134.2-59.5h1.2m-49.3 32.9h1.2m-1.1-39.7h1.2m56.5 22.8h1.2m-85.2 16.5h1.2m2.9-9.6h1.2m85.4 1h1.2m6.2-29.9h1.2m-136.8-30h1.2m37.6 75.4h1.2m-2.3-43.6h1.2m88.4 1.5h1.2m-29.4-6.8h1.2m-136.4-37.6h1.2m-11.3 96.2h1.2m14.5-90.1h1.2m162.5 60.4h1.2m-27.2 6.5h1.2m-70.9-41h1.2m-49.9-24.9h1.2m-24.5-3.5h1.2m177.1 23.3h1.2m-30.7 11.5h1.2m11.5 15h1.2m13.5-32.8h1.2m-106.6 19.6h1.2m-74.6-25.5h1.2m54.9 70h1.2m94.3-0.5h1.2m-83.7-58.5h1.2m27.3 16.3h1.2m-29.8-36.8h1.2m92.4 48.9h1.2m-42.7-13.2h1.2m-42.4 36.7h1.2m78.4-21h1.2m-85.5-26.1h1.2m93.5 38.5h1.2m-187.6-21.3h1.2m189 12.7h1.2m-30.2-12.9h1.2m-125 48.9h1.2m130.6-67.6h1.2m-89.9 45.2h1.2m4.5-49.2h1.2m-35.7-11.8h1.2m-93.2 98.1h1.2m126.8-18.4h1.2m84.8-40h1.2m-60.8 27.8h1.2m-47.8-83.5h1.2m57.9 50.6h1.2m-45.4 31.5h1.2m-81.5-44.6h1.2m5.3-46.7h1.2m163.3 68h1.2m-47-17h1.2m-62.7 51.4h1.2m-56.4 13h1.2m176.7-18.8h1.2m-88.8-37.6h1.2m11.7 26.4h1.2m58.9-49.3h1.2m-19.9 22.8h1.2m6.2 30.9h1.2m-32-36.2h1.2m-51.4 83.7h1.2m21.4-109.3h1.2m-5 7.1h1.2m-64.5 75.5h1.2m51-58.8h1.2m-0.2-22.7h1.2m-5.3-2.8h1.2m83 62.3h1.2m-119.2-69.3h1.2m110 69.7h1.2m5.1-50h1.2m-10 59.7h1.2m-153.5-61h1.2m28.9-15.5h1.2m143.4 36.7h1.2m-60.7 39.9h1.2m32.2-51.1h1.2m-78.5-28.4h1.2m-2 70.2h1.2m-89.1-28.5h1.2m78.8-30.1h1.2m-49.5-4.1h1.2m138.4 60.5h1.2m-64.5-27.7h1.2m37.2-30.8h1.2m-115.9 77.7h1.2m146.6-15.4h1.2m-64.8-32h1.2m-18.5 40.4h1.2m2.5-9.7h1.2m65.9-32.6h1.2m-122-35.9h1.2m60.6 31.2h1.2m-20.6-19.2h1.2m-78.1 90h1.2m173.7-55.2h1.2m-135.7-74.1h1.2m-42.1 99.1h1.2m167.3-3.6h1.2m-120.3 20.9h1.2m-0.1 8h1.2m-10.5-8.7h1.2m8.9-130h1.2m-29.6 45h1.2m46.5 67.6h1.2m12.1-9.7h1.2m-22.2-68.1h1.2m72.4 77.5h1.2m-52.8 8.2h1.2m-77.6 29.5h1.2m82-84h1.2m-37 56.3h1.2m102.7-43.1h1.2m-144.1-33.8h1.2m130.5 23.9h1.2m-26.8 4h1.2m-88.9 71.7h1.2m-36.6-78.1h1.2m111.4-16.5h1.2m-45 67.8h1.2m-12.8 10.6h1.2m74.2-23.2h1.2m-100.8-73.9h1.2m11.7 97.8h1.2m68.2-25.5h1.2m42.5-41.8h1.2m-148.7 85.8h1.2m158.9-68.2h1.2m-45.3-1.8h1.2m-155.5 27h1.2m75.5 22.5h1.2m81.3-49h1.2m39.4 36.3h1.2m-1.8-52.2h1.2m-115.8-22.1h1.2m-63.6 84.4h1.2m95.1-47.8h1.2m-68-66.5h1.2m154.2 51.1h1.2m-162.8 66.3h1.2m33.7-91h1.2m113.1 65.5h1.2m1.3-8.8h1.2m10.8 10.2h1.2m-84.8-27h1.2m-67.3 62.6h1.2m45.7-80.5h1.2m-2.2-4.2h1.2m58.7 22.4h1.2m-75.5-33.6h1.2m0.2 74.9h1.2m65.7-44.8h1.2m6.3 2.2h1.2m-164.7 8.1h1.2m149.7-38.8h1.2m-92.7 96h1.2m118.9-62.2h1.2m-72.8-17.6h1.2m78.2 81.3h1.2m-95.5-82.9h1.2m74 63.3h1.2m-59.7-56h1.2m-6.7 39h1.2m-17.5 28.7h1.2m90.3-21.7h1.2m-96.1-64.1h1.2m114 59.1h1.2m-94.6-3.6h1.2m-74.3 31.4h1.2m32.2-2.1h1.2m-22.5 9.9h1.2m90-65.6h1.2m-8.3-0.7h1.2m-66.9 56.4h1.2m102-19.1h1.2m8.6-6.7h1.2m22.1-3.1h1.2m-182.5-10.3h1.2m52.3-48.1h1.2m11.4-15.3h1.2m-34.7 11.2h1.2m91.2 66.8h1.2m-69.1-75.7h1.2m-34.4 109.7h1.2m50.3-99.6h1.2m-48.7-11h1.2m93.5 18.2h1.2m-39.5 6h1.2m-52.8 71.7h1.2m53.9-104.6h1.2m-91.9 69.2h1.2m151.2-27.6h1.2m-0.1-29.6h1.2m-86.7 85.9h1.2m96.2-17.8h1.2m7.9-83.5h1.2m-173.4 87.5h1.2m92.5-35.7h1.2m21.3 7.3h1.2m-87-41.1h1.2m3.3 90.3h1.2m138.5-37h1.2m-173.3 14.2h1.2m50.1 21.2h1.2m33.3-58.5h1.2m82.7 27.3h1.2m-48.6-28.5h1.2m-121.4 45.9h1.2m0.6-55.4h1.2m133.8 47h1.2m-30.6-1.4h1.2m42.1 0.7h1.2m-139 34.9h1.2m113.1-35h1.2m52.6-14.3h1.2m-95.8-19.7h1.2m-63-39.7h1.2m134.2 87h1.2m-80.9-50.2h1.2m17.9 39.5h1.2m-78.6 28.5h1.2m87-56.2h1.2m16.1-1.3h1.2m35.2 37.2h1.2m-149.5-82.9h1.2m179 62.2h1.2m-24.8-33h1.2m10.5 10.7h1.2m-129 60.9h1.2m-25-112.6h1.2m34.6-1.5h1.2m106.7 93h1.2m-180.2-41.7h1.2m111.7 9h1.2m-26-2.9h1.2m11.8 3.3h1.2m-55.4-75.5h1.2m142.9 108h1.2m-94-32.3h1.2m7.8-11.1h1.2m64.1 39.7h1.2m-17.5-30.3h1.2m-55.6 30.7h1.2m-1.5-5.2h1.2m67.6-18.5h1.2m-104.1-33.7h1.2m116.8 62.3h1.2m-9.6-49.2h1.2m-81.4 72.9h1.2m-18.6-18.6h1.2m61.8-114.2h1.2m19.4 74.5h1.2m-92.6-24h1.2m6.5 7h1.2m10.5 16.3h1.2m-1.5-10.5h1.2m33.3 3.1h1.2m83 9.3h1.2m-60.3-5.1h1.2m-141.6 47.3h1.2m51.6-71.2h1.2m13.8 11.3h1.2m-22.4-27.6h1.2m116.7 53h1.2m-39.7-11.8h1.2m-53.7-7.5h1.2m-65.8-31.6h1.2m125.6 34.1h1.2m8.2 8.6h1.2m27.7 18.8h1.2m-157.1-64h1.2m57.3 34.6h1.2m58.3 9.3h1.2m33.1-7.6h1.2m-68.9 41.1h1.2m-15.1-59.2h1.2m-19.4 11h1.2m71.7 11.6h1.2m-120.2 66.9h1.2m114.3-37.8h1.2m-47.9 0.7h1.2m40.2-27.6h1.2m-80.6 51.8h1.2m94.1-83.9h1.2m3.8 58.9h1.2m-25.4-37.1h1.2m14.1 48.9h1.2m-147.7-60.4h1.2m57.4-14.1h1.2m-26.7 88.8h1.2m129.6-23h1.2m-101.8 5.7h1.2m23.7-36.8h1.2m-12.3-34.5h1.2m100.4 38.7h1.2m-21.7 1.8h1.2m-119.4-58.7h1.2m-18.7 19.6h1.2m57.5 25.9h1.2m26.6-3.9h1.2m-84.5-30.6h1.2m40.3 14.2h1.2m5.7 22.5h1.2m57.4-6h1.2m-85.3-18.9h1.2m82 63.9h1.2m54.9-31.7h1.2m-109.4-10.4h1.2m84 19.5h1.2m-109.9-43.7h1.2m126.1 51.4h1.2m-89.3 19.1h1.2m78-57.1h1.2m-123.5 74.1h1.2m-11.3-3.5h1.2m12-78.5h1.2m-1 0.3h1.2m-85.6 66.2h1.2m115-51.9h1.2m79 42.4h1.2m-7.3-22.8h1.2m-124.4-44.2h1.2m10.6 9.3h1.2m99.8 23.9h1.2m-80.5-11.5h1.2m6.5 8.8h1.2m-106.8 30.3h1.2m123.4 10.4h1.2m-63.6-70.3h1.2m7.9 85.5h1.2m2.3-86.5h1.2m131.5 49.4h1.2m-93.8-28.7h1.2m-36.8-9h1.2m84.9 25.6h1.2m35.9 44.1h1.2m-21.6-42.7h1.2m-84.2 33.8h1.2m-63.4 14.7h1.2m163.2-18.9h1.2m-147.2 32.3h1.2m-36.6-74h1.2m174.4 5.7h1.2m28.5 19.9h1.2m-151.1-45.2h1.2m108.4 26.6h1.2m-130.7-28.1h1.2m53.2 34.8h1.2m-72.3 49.8h1.2m158.3-31.1h1.2m-169.6 36.2h1.2m221.9 6.7h1.2m-60.2-72.8h1.2m-98-2.1h1.2m57.1 41.6h1.2m34-12.2h1.2m-51.2 12.5h1.2m-38.9-52h1.2m101.4 64.6h1.2m-44.2-15.3h1.2m-139.2-52.9h1.2m4.4 86.8h1.2m94-34.8h1.2m-57.8 28.9h1.2m54.7-28.7h1.2m-44.6 19.1h1.2m45.1-59.8h1.2m65.8 15.5h1.2m-103.4-18.3h1.2m-66.6 59.6h1.2m-14 1.8h1.2m51.3-106.2h1.2m14.3 101.6h1.2m92.5-38.2h1.2m-163.4 6.9h1.2m86-16.3h1.2m-61.6-24.8h1.2m144.3 57.5h1.2m-171.5-9.1h1.2m166.4-31.3h1.2m1.7 41.6h1.2m-141.4-61h1.2m114.8 81.8h1.2m18.7-60.2h1.2m-19.8 48h1.2m-104.8 16.1h1.2m-27.7 4.9h1.2m140.9-65.4h1.2m-129.6-24.4h1.2m79.3 61.7h1.2m-90.6-63.6h1.2m8.6 91.2h1.2m150.6-26.9h1.2m-25.7-32.4h1.2m-135.4-29.1h1.2m-25.8 35.7h1.2m186.3 30.1h1.2m-175.4-59h1.2m20.5 98.3h1.2m-7.8-118h1.2m84.2 30.8h1.2m35.5 42h1.2m-59.1-27.6h1.2m-51.1 59.2h1.2m88.6-79.7h1.2m-90.6-22h1.2m118.7 45.2h1.2m-45-2.2h1.2m-105.9-35.1h1.2m148.7 71.6h1.2m12-38.2h1.2m-14.7 58.5h1.2m-112.6-104h1.2m48.6 79.2h1.2m4.6-32.1h1.2m-46 45.4h1.2m-45.3-103.2h1.2m81.4 55.9h1.2m-74.2-34.5h1.2m21.3 86.8h1.2m53.2-3.8h1.2m-40.1-71.3h1.2m-35.2 90.6h1.2m113.8-71.1h1.2m-100.8 58.7h1.2m85.6-55.6h1.2m-59.4 34.7h1.2m50.1-0.8h1.2m-111.8 16.1h1.2m158-23.3h1.2m-57.4-35h1.2m25.3 3.8h1.2m32.2 30.2h1.2m-18.4 11.3h1.2m-75.5-70.2h1.2m-16.2 13.7h1.2m100.9 44h1.2m-46.7-20.2h1.2m-86.6 62.5h1.2m131-74.8h1.2m-159.8 63.7h1.2m88.8-17.1h1.2m0.8-45.3h1.2m30.9-27.4h1.2m29.8 30.8h1.2m-117.3 58.4h1.2m-14.1-103.1h1.2m136.2 88h1.2m-103.4-56.3h1.2m-47.8-17.8h1.2m43.8 10.6h1.2m-49.7 78.1h1.2m122.2-56.5h1.2m-45.4 57.6h1.2m55.6-2.6h1.2m-62.8-49h1.2m84.9 0.5h1.2m-93.5-2h1.2m19.7-1h1.2m-85.8-55h1.2m127.9 35.5h1.2m-42.4 10.7h1.2m-100.5-24.9h1.2m47.8 90.4h1.2m118.3-29.8h1.2m-133.1-57.8h1.2m78.6 63.7h1.2m7.3-43.1h1.2m-33.8 3.8h1.2m-14.5 7.7h1.2m-38.4-27.2h1.2m102.7 57.5h1.2m-158.1-67.1h1.2m134.5 28.6h1.2m-127.8 77.6h1.2m149.1-67.6h1.2m-54.8-2.9h1.2m-97.8-30.2h1.2m6.4 90.2h1.2m46.5-80.4h1.2m4 0.7h1.2m106.4-3.7h1.2m-98.6-9.6h1.2m-59.6-8.5h1.2m27.8 10.1h1.2m135.4 80.2h1.2m-190.4 10.5h1.2m164.9-61.3h1.2m-34.6-9.4h1.2m-87.1 74.1h1.2m95.2-36.4h1.2m-111-62.5h1.2m75.8 29h1.2m7.3 39.2h1.2m-104.9-79.4h1.2m21.7 10.1h1.2m15.9 81.2h1.2m124.2 14h1.2m-82.6-14.8h1.2m69.6-30.1h1.2m-57.2-15.8h1.2m-124.7 2.7h1.2m94.1-9.9h1.2m-28 63.6h1.2m-31.2-95.1h1.2m39.7 84.6h1.2m105.5 0.6h1.2m-120.6-70.3h1.2m65.9 14.7h1.2m-90.2 64.1h1.2m1.6-86.8h1.2m-11.6-0.5h1.2m-2.9 0.1h1.2m79.2 63.3h1.2m-84.4-68.2h1.2m141.7 49.1h1.2m10.6-0.7h1.2m-93.5-13.5h1.2m83.7 4.6h1.2m-12.2 25.6h1.2m-89.6-48.3h1.2m37.7 23.8h1.2m-30.1-2.6h1.2m-31.5-31.3h1.2m79 74.9h1.2m-59.4-80.8h1.2m-83.4 18.7h1.2m178.2 73.5h1.2m-49.2-64.9h1.2m-25.7 10.6h1.2m-33.9-36.5h1.2m0.3 4.2h1.2m29.3 3.7h1.2m-22.9 83.3h1.2m-34-2.1h1.2m-36.6 12.8h1.2m79-68.9h1.2m-10.6-10.4h1.2m-24.2 58.1h1.2m83.4 16.1h1.2m12.4-59.2h1.2m-7 31.9h1.2m-105.3-62.9h1.2m113.4 55.6h1.2m-53.5-31.8h1.2m2.2 9.9h1.2m-128.6 7.7h1.2m7.5-9h1.2m23.4-32.1h1.2m190.6 54h1.2m-185.3-63h1.2m44.6 25.2h1.2m100.8 70.2h1.2m-47.7-54.2h1.2m39 19.5h1.2m-84.3-45.9h1.2m-63.2-14.2h1.2m87.7 38.8h1.2m-30.7-14.5h1.2m14.5 45.9h1.2m-26.2-51.9h1.2m-4.4 3.4h1.2m52 4.5h1.2m47.5 33.7h1.2m-51.9-46.5h1.2m40.3 58.5h1.2m-25.2-38.9h1.2m-118.1-37.3h1.2m185.1 30.6h1.2m-133.8 40.1h1.2m-2.4 13.1h1.2m37.8-6.2h1.2m53.5-26h1.2m-89.5-10.4h1.2m-71-33.3h1.2m-8.4 0.5h1.2m131.2 66.8h1.2m10.8-4.6h1.2m-122.3 33.1h1.2m145-40.9h1.2m-65.8 9.8h1.2m75.8 2.8h1.2m-194.4-12h1.2m156.1 12.9h1.2m-9.4-30.5h1.2m-145.7 31h1.2m86.4-39.8h1.2m-94.2 7.6h1.2m185.3 36.9h1.2m-12.2-23.4h1.2m-43.3-15h1.2m42.1 11.8h1.2m3.1-14.4h1.2m-138.7 70.6h1.2m126.5-71.4h1.2m-126 64.8h1.2m85.3-34.3h1.2m-116.6-51.1h1.2m128.8 11h1.2m-38.3 44.6h1.2m-52.6 16.3h1.2m-37-101h1.2m156.4 47.1h1.2m-0.1 46h1.2m-207.9-97.2h1.2m209 69.8h1.2m17.4 34h1.2m-117.7-63.2h1.2m-45.3 74.6h1.2m-31.1-86.1h1.2m106.8 20h1.2m60.9 44.5h1.2m-115.9 38.7h1.2m56.7-42.5h1.2m-85.9 20.5h1.2m58.3-23.2h1.2m44.5-55.1h1.2m-32.8 27.9h1.2m-47.2-33h1.2m23.1 12.8h1.2m61.1 17.5h1.2m13.3 56.3h1.2m-54.8-21h1.2m-105.3 9.6h1.2m102.7-53.1h1.2m-54.4-40.8h1.2m-41.7 5.2h1.2m72.8 40.2h1.2m68.4 45.5h1.2m-79.7-53.4h1.2m-33.7-19.7h1.2m83.6 31.1h1.2m-101.4 56.7h1.2m48.1-61.1h1.2m-5.5 58.5h1.2m-64.7-83.2h1.2m96 27.4h1.2m-30.4-2.8h1.2m-80 44.6h1.2m72.1-58.2h1.2m-50.6-23.7h1.2m37.1 14.1h1.2m42.4 13.6h1.2m-61.2 64.2h1.2m119.6-30.5h1.2m-23.2-28.1h1.2m16.3 31.2h1.2m-176.5-9.4h1.2m67.8-41.8h1.2m39 27.4h1.2m-94 58.8h1.2m119.2-58.8h1.2m17 3.8h1.2m23.3 5.1h1.2m-110.9-79.5h1.2m5.3 116h1.2m-31.1 15.8h1.2m-48-16.4h1.2m31.3-75.1h1.2m-18.4 11.2h1.2m150.4 12.8h1.2m27.4 31.5h1.2m-64.1-25.3h1.2m-64.4 53.5h1.2m126.2-43h1.2m-62.2-20.4h1.2m-5.2 7.6h1.2m-9.4 1.4h1.2m-70.9-34.2h1.2m23.6 84.1h1.2m107.3-25.8h1.2m-122.8-57.4h1.2m-21.5 2.1h1.2m-22-42.8h1.2m157.4 44.8h1.2m-37.3 31.8h1.2m-66.6-18.7h1.2m-6.4 61.5h1.2m62.3-10.1h1.2m-49.4-38h1.2m-29.4-37.5h1.2m-57.3 33.6h1.2m175.8 27.6h1.2m-110.3 53.6h1.2m99.3-76.5h1.2m1.3 14.7h1.2m-126.4 49.8h1.2m51.4-57.3h1.2m82.8 26.4h1.2m-135.1-76.3h1.2m-43.1 87.2h1.2m85.7-7.6h1.2m31.9-30h1.2m-33.9-9.8h1.2m-8 34.7h1.2m-81.6-68.1h1.2m107.9 31.9h1.2m-81.1-56.3h1.2m-0.6 21.9h1.2m-14.1 12.4h1.2m27.4 86h1.2m85.2-24.1h1.2m-54.7 7h1.2m92-59.1h1.2m-95.9 62.5h1.2m91.2-45.2h1.2m-8.7 5.7h1.2m-164.4 34.7h1.2m162.9-32.9h1.2m-34.4-7.4h1.2m-59-10.5h1.2m105.1 52.9h1.2m-71.7-44.4h1.2m-21.6-8h1.2m-75.4 64.2h1.2m-22.6-51.1h1.2m90.6-4.7h1.2m60.8 7.6h1.2m-96 55.7h1.2m109.5-54.9h1.2m-67.2 25.1h1.2m52.3-33.5h1.2m-84.5-14.7h1.2m58.3 75.9h1.2m-20.8-71.6h1.2m-64.5 73.9h1.2m64.5-82.6h1.2m-5.1 13.8h1.2m-79.7-22.2h1.2m-31.7-26.4h1.2m16 26.4h1.2m-18.1 68.7h1.2m146.4-40.7h1.2m1.5-4.5h1.2m-125.5 60.8h1.2m-30.9-17.7h1.2m165.3-31.4h1.2m-126.4-38.9h1.2m-1.2 0.1h1.2m8.2-39.7h1.2m107.2 78.2h1.2m-187.1 8.5h1.2m76.1 45.1h1.2m47.4-12.7h1.2m10.6-16.6h1.2m72.1-20.4h1.2m-185-12.8h1.2m151.6 8.9h1.2m-76.7-38h1.2m42.3 37.2h1.2m2 27.7h1.2m54.6 4.5h1.2m-14.1-31.5h1.2m-130-42.4h1.2m51.8 36.2h1.2m-3.4 30.8h1.2m-15 20.3h1.2m-41.4-90.5h1.2m156.3 49h1.2m-25.3-14h1.2m-86.7-12.2h1.2m-14.7 60.9h1.2m-18.7 13.7h1.2m88.8-26.1h1.2m-1.4 17.4h1.2m28.1-57.4h1.2m-79 8.7h1.2m67.4 5.8h1.2m-164.2-18.4h1.2m8.7 72.8h1.2m171.6-95.3h1.2m-108.4 1.2h1.2m28.1 26.3h1.2m-11.4-2.4h1.2m35 56.6h1.2m1.3-40.4h1.2m-89.7 61.3h1.2m-21.9-104.4h1.2m-15.9 86h1.2m-9.8-30.9h1.2m219.5-1h1.2m-60.8-24.6h1.2m-132-27.8h1.2m124.5 41.3h1.2m-47.1-3.2h1.2m-58.2 54.4h1.2m92.6-77.8h1.2m-68.4 54.2h1.2m1.8-46.5h1.2m30 5.3h1.2m56.5 6.1h1.2m-161.5-19.8h1.2m67-30.3h1.2m-68.6 30.1h1.2m19.7 78.1h1.2m57.6-54.1h1.2m74.6 26.7h1.2m-94 12.2h1.2m-67.9 21.8h1.2m152.7-65.4h1.2m-18.7 51.9h1.2m23.3 1.7h1.2m-102.5 7.4h1.2m12.5-67.6h1.2m-35.3 64h1.2m127.3-11.6h1.2m-51.7-50.9h1.2m-77.6-22.2h1.2m55.5 58.3h1.2m93.8 16.2h1.2m-116.1-44.6h1.2m-58-29.6h1.2m26.2-54.8h1.2m114 108.7h1.2m-42.2-33.8h1.2m-106.1-22h1.2m109.8 62.9h1.2m-45.5-54.2h1.2m9.5 58.2h1.2m-3.1-32.7h1.2m-34.4-26.7h1.2m104.3 54.8h1.2m-142.6-62.4h1.2m139 33.4h1.2m-110.2-25h1.2m78.5 55.1h1.2m-38.4-3h1.2m67.2-2.7h1.2m-88.5-34.7h1.2m84.3 26.1h1.2m-59.5-12h1.2m-65.4 49.7h1.2m90.2-58.8h1.2m-55.5-39.7h1.2m87.8 61.1h1.2m-177.8-10.8h1.2m37.9-47.6h1.2m-57.5 4.4h1.2m164.6 38.4h1.2m28.1-19.2h1.2m-105.1-7.5h1.2m-87.4 27.7h1.2m108.6-3.3h1.2m45 38h1.2m-141.3-69.4h1.2m21.5-3.3h1.2m56 73.9h1.2m11.5-34h1.2m73 0.4h1.2m21.8 8.9h1.2m-22.6-4.2h1.2m-125.7 51.9h1.2m29.2-77.1h1.2m-59.5 73.9h1.2m74.1-54.7h1.2m-91.6 31.5h1.2m166.4-25.2h1.2m-38.6-13.7h1.2m-41.8 5.2h1.2m68.7 27.3h1.2m-122.1 43.5h1.2m-32.7-25.2h1.2m55.2-71.4h1.2m21.6 27.4h1.2m-71.2 63.9h1.2m80.9-68.7h1.2m74.1 12.6h1.2m-100.6-45.2h1.2m38.9 37.6h1.2m66.4 42.1h1.2m-81.1-43.9h1.2m138.1 16.3h1.2m-81.6 10.3h1.2m1.6-25.1h1.2m17.8-22.8h1.2m-87.7 5h1.2m-93.5 62.5h1.2m34.8 15.3h1.2m52.6-66.5h1.2m93.6-5.4h1.2m-161.6 63.5h1.2m132.8-64.5h1.2m-71.9 13h1.2m-63-39.6h1.2m-19.2 7.7h1.2m176.1 25.5h1.2m-122.3 56.9h1.2m62.8-15.6h1.2m-59.2-52.7h1.2m-45.1-17.4h1.2m138 85.9h1.2m-30.1-53.4h1.2m-66.5-29.7h1.2m-24.7 83.4h1.2m-36.1-88.2h1.2m31.8-8.4h1.2m30.2 71.1h1.2m-13.2 10.5h1.2m98.2-9.9h1.2m-48.4 5.1h1.2m-123.3-3h1.2m21.6-63.7h1.2m18.9-0.5h1.2m-17.1-81.9h1.2m153.2 129.8h1.2m-45.3 14.2h1.2m-55.8-60.2h1.2m77 35.5h1.2m-74.6-54.2h1.2m25.1 80.5h1.2m-102 19.7h1.2m68.2-53.3h1.2m88.4 30.2h1.2m-92.2 7h1.2m-3.4-43.3h1.2m-70.7 55.8h1.2m13.7-76.2h1.2m53.9 6.8h1.2m-64-22.7h1.2m56.8 28.5h1.2m89 47.8h1.2m-136 27.3h1.2m136.3-61.6h1.2m-15.3 51.2h1.2m-158.6 26.1h1.2m159.8-82.7h1.2m-111.8 62.8h1.2m-43.5-67.1h1.2m133.8 15.4h1.2m-58.9-18.6h1.2m12 9.5h1.2m-99.1-6h1.2m173.5 28.2h1.2m-94.9 25.4h1.2m12-13.3h1.2m-26.2-55.5h1.2m110 37.8h1.2m-54.9-26.7h1.2m-58.3-4h1.2m-29-19.6h1.2m140.1 38.3h1.2m-109.7 39.8h1.2m126.6-33.5h1.2m-40.5 25.4h1.2m-146.6-55.2h1.2m86 54h1.2m70.2-16h1.2m0.7-21.6h1.2m-130.9-27.4h1.2m117.9 3h1.2m2 38.9h1.2m-103.4 38.6h1.2m102.5-58h1.2m-22 13.7h1.2m-117.6-31h1.2m136.2 68.9h1.2m-127.4-96.3h1.2m56.3 45.8h1.2m25.5 60.1h1.2m48.8-38.1h1.2m-98.6-30.6h1.2m108 20.8h1.2m-173.6 60.4h1.2m-4.7 17.9h1.2m150.6-50.4h1.2m18.5-71.8h1.2m-117.9 94.9h1.2m26.1-53.7h1.2m35.6 7.3h1.2m30.7-1.4h1.2m35.4 3h1.2m-164.3-39.2h1.2m95.5 64h1.2m-45.8 0.7h1.2m48.9-28.5h1.2m-45.5 27.4h1.2m77.3-1.6h1.2m-27 20.7h1.2m-143.3-2.9h1.2m35.3-102.4h1.2m-2.6 22.8h1.2m126.8 71.2h1.2m-93.8-65.3h1.2m3.5 68.5h1.2m104.7-19.1h1.2m-43.6-39.5h1.2m-91.6 72h1.2m83.9-92.7h1.2m-0.5 73.8h1.2m25.6-3.8h1.2m14.7-26.8h1.2m-93.4-13.8h1.2m1 41h1.2m17.4-50.2h1.2m-58.8 73.9h1.2m94-58.6h1.2m-133.2-112.6h1.2m-1.8 167.5h1.2m-20.3-46.2h1.2m38.9-103.6h1.2m9.4 63.2h1.2m109 31.2h1.2m-58.3-6.1h1.2m-91.5-12.4h1.2m60.4 61.7h1.2m55.1-50.2h1.2m-122.2-18.6h1.2m114.8 59.7h1.2m-37.5-4.2h1.2m71-27.8h1.2m-10.4 4.5h1.2m-67.4-6.6h1.2m83.2 27.6h1.2m-140.3 39.5h1.2m115.7-73.3h1.2m-115.7-29.1h1.2m-29.4 26.5h1.2m163 15.6h1.2m-132.8 58.8h1.2m101.7-59.8h1.2m23.7 30.6h1.2m-56.4-97.8h1.2m47.4 93.1h1.2m13.6-13.5h1.2m-26.6-14.6h1.2m-66.4-11.1h1.2m87.4 62h1.2m-40-14.6h1.2m-114.1 15.4h1.2m146.5-16.5h1.2m-153.9-67.2h1.2m-5.7-8h1.2m50.5 98.2h1.2m83.2-28.1h1.2m-133.6 25.9h1.2m62.7-73.8h1.2m50 19.7h1.2m-126.6-11.6h1.2m168.4 32.3h1.2m-16.9 8.8h1.2m-135.5 35.9h1.2m-26.4-66.4h1.2m72.3 36.9h1.2m112.9-20.5h1.2m-145.4-49.6h1.2m86.6 29.6h1.2m-31.4-8.2h1.2m18.9-8.2h1.2m63 24.5h1.2m-131.3-38.1h1.2m90.5 30.4h1.2m15.3 5.8h1.2m-86.9 64.7h1.2m-30.7-14.3h1.2m97.1-68.6h1.2m-97-38.5h1.2m121.9 82h1.2m-38-48h1.2m-29 5.7h1.2m-2 13.5h1.2m-80-40.9h1.2m57.2 30.5h1.2m43.7 9.5h1.2m42 22.6h1.2m-80-31.3h1.2m73.4 37.1h1.2m-39.9 3h1.2m-37.6 11.3h1.2m-55.7-94.8h1.2m120.7 41.7h1.2m-84 42.6h1.2m-25.6-107.4h1.2m84.2 76.1h1.2m51.6 21h1.2m-83.4-19.4h1.2m53.1 24.4h1.2m-43.3-33h1.2m-27.1 36.6h1.2m63.8 6.4h1.2m-83.2 26.9h1.2m-56.7-104h1.2m29.4 93.6h1.2m-74.8-51h1.2m176.4-3.3h1.2m-130-40.5h1.2m109.3 82.6h1.2m-5.5-43.5h1.2m42.6 37.3h1.2m-93.7-98.4h1.2m-51.1 119.7h1.2m-21.9-2.6h1.2m47.2-5.5h1.2m-4.7-72.4h1.2m106.6 58.3h1.2m-0.4-40.6h1.2m-8.4 36.3h1.2m-54.4-35.6h1.2m52.5 5.1h1.2m-0.6 6.4h1.2m-117.2-35.5h1.2m48.5 59h1.2m-13.1-38.9h1.2m83.8 28.4h1.2m-51 24.8h1.2m-6.8-52.6h1.2m-39.4 44.7h1.2m27.8 9.1h1.2m-76.1 15.4h1.2m131.1-53.7h1.2m-78.3-21.7h1.2m16.7 52.2h1.2m58.4-29.6h1.2m-140.9 50.3h1.2m54.9-64.4h1.2m-67-19.7h1.2m23.1 92.7h1.2m68.5-78.2h1.2m61.5 19.4h1.2m-133-38.6h1.2m125 71.6h1.2m-80.3-51.9h1.2m-48.4-18.3h1.2m144.6 67.3h1.2m-59.1 1.7h1.2m-102.4 17.2h1.2m51.3-66.4h1.2m-62.2-32.9h1.2m171.2 5.3h1.2m-56.1 68.9h1.2m15.3-40.2h1.2m0.3 49.5h1.2m-41.2-4.7h1.2m34.3-0.3h1.2m-73.7 4.2h1.2m-34-84.7h1.2m-5 100.1h1.2m88.4-19.7h1.2m-105.1-68.5h1.2m110 66.4h1.2m-23.1 0h1.2m-95.1 20.7h1.2m43.1-76.9h1.2m10.8-11.3h1.2m-13.3 99h1.2m112-47.3h1.2m-27.6-14.7h1.2m-100.7-33.3h1.2m-26.5 1.7h1.2m50 61.2h1.2m116.4-23.2h1.2m-3.6 30.2h1.2m9.1 29.5h1.2m-54.8-84.3h1.2m-79.7 0h1.2m86.9 21.8h1.2m6.8 33.2h1.2m-158.6 18.2h1.2m0.5 4.3h1.2m107.5-68h1.2m-103.7-36.6h1.2m150.9 27.4h1.2m-40.5 8.7h1.2m-14.4 11.1h1.2m-0.4 0.1h1.2m-86.8-41.7h1.2m132.5-14.3h1.2m-101 102.8h1.2m91.4-46.5h1.2m-68.3-4.6h1.2m-4.6-5h1.2m-33.4 57.3h1.2m-50-0.3h1.2m84.2-62.7h1.2m-19-2.5h1.2m-28.2-25.4h1.2m168.4 17h1.2m-133.7 48.9h1.2m-40.9 31.1h1.2m24.6-17.9h1.2m-32.2 13.2h1.2m31.8-96.7h1.2m-42.8 114.7h1.2m-37.4-53.2h1.2m51 46.4h1.2m131.6-30.3h1.2m-25.1-37.4h1.2m-75.9 38.2h1.2m16.1-6.4h1.2m-40.6-64.2h1.2m95.5 9h1.2m-74 3.9h1.2m40 63.7h1.2m-37.4-14.6h1.2m51.4 51.5h1.2m32.4-36h1.2m-68.7-38.6h1.2m18.7-8.4h1.2m27.9-23.9h1.2m-64.6 27.5h1.2m-23.3 49.9h1.2m46.2-53.6h1.2m-58.1-28.2h1.2m69.2 70.4h1.2m-34.7-39.8h1.2m-93.7-15.6h1.2m89.7 53.2h1.2m51.8-52.8h1.2m-6.7 2.7h1.2m-2.2 12.3h1.2m-39.8-18.4h1.2m61.9 48.6h1.2m-70.8-35.3h1.2m-101.7 44h1.2m36.4-90.2h1.2m103.4 54.9h1.2m-134.7-48h1.2m27.9 15.5h1.2m9.7 91h1.2m39.9-32.7h1.2m-71.5-53.3h1.2m74.4 23.7h1.2m58.5 2.3h1.2m-45.4 29.4h1.2m59.2-35.7h1.2m-16.7-19.9h1.2m-42.2 20.6h1.2m-73.9 62.4h1.2m-63.7 27.5h1.2m54.9-132h1.2m149.3 63.9h1.2m-140.4 43.9h1.2m16.8-14h1.2m33.8-6.7h1.2m12.8-42.9h1.2m-119.1 35.5h1.2m77.7-52.1h1.2m78.9 14.3h1.2m-48.9 6.1h1.2m-16 27.8h1.2m-42.9 40.7h1.2m128.2-51.2h1.2m-45.4 18.1h1.2m28.8-47.5h1.2m-15.9 43.2h1.2m-15.2-38.2h1.2m-43.8 38.6h1.2m-69.2-61.2h1.2m37.1-7.2h1.2m103.1 29h1.2m-172.9 2h1.2m188.3 23.3h1.2m-171.9-46.1h1.2m26-2.5h1.2m-36.4 12.1h1.2m53.7 74.3h1.2m52.9-54.4h1.2m29.8 1.5h1.2m-69.8 44.2h1.2m-10-1.8h1.2m105.8-36h1.2m-59.7-14h1.2m44.4 54.5h1.2m-78-22.6h1.2m-10.2-62.3h1.2m58.1 93.2h1.2m-46.3-53.9h1.2m-5.7 25h1.2m-76.1-63.3h1.2m10.2-5.8h1.2m16.7 6h1.2m158.1 46.7h1.2m-122.6-26.3h1.2m50.6 6.1h1.2m-74.5 62.1h1.2m-30.2 21.1h1.2m49.8-81.8h1.2m89 4.4h1.2m-16.1-0.2h1.2m18.2 48.7h1.2m-7.6-16h1.2m-42.5-53.2h1.2m36 71.4h1.2m-158.6-80.5h1.2m132.6 16.8h1.2m19.9 46.5h1.2m-6.3-29.1h1.2m-79.4-26.6h1.2m106.7 36.8h1.2m-63.6-15.6h1.2m49.3 12h1.2m-6.2 20.1h1.2m-7.3 25.3h1.2m-138.1-83.2h1.2m-5.6 1.1h1.2m90.8 7.4h1.2m-29.6 54.7h1.2m41.6 32h1.2m-23.5-63.5h1.2m-73.1 59.3h1.2m157.4-42.2h1.2m-137.5 29.3h1.2m121.8-33h1.2m4.8-4.3h1.2m-50.4-8.7h1.2m37.1-35.1h1.2m-110.5-9.9h1.2m51.9 37.3h1.2m-43.2-23.1h1.2m19 61.7h1.2m6.4 0.4h1.2m27.8-37h1.2m40-20h1.2m-27.2 24.7h1.2m-68.8-20h1.2m87.7-3.4h1.2m-59.2 6.1h1.2m-52.4-10.4h1.2m11.1-5.7h1.2m-64.6 92.2h1.2m166.5-69.3h1.2m-111.7-13.1h1.2m30.5 18.5h1.2m-68.5 59.2h1.2m45.9-22.1h1.2m35-1h1.2m-38.9-57.5h1.2m0.6 13.9h1.2m23.2 7.7h1.2m56.1 6.8h1.2m-32-2.2h1.2m41.8 27.6h1.2m-171.5-42.2h1.2m101.6 14.9h1.2m77 30.7h1.2m15-51.5h1.2m-178.7 76h1.2m147.4-7.1h1.2m-106-86.1h1.2m2.3 2.2h1.2m67.5 36.6h1.2m54.8-4.2h1.2m-173.2 69.9h1.2m57.9-94h1.2m95.9 60.6h1.2m-90.2-2.4h1.2m26.7-1h1.2m-32.5-2.5h1.2m47.6-29.7h1.2m-51.7-18.6h1.2m8.1 21.4h1.2m65.9 31.9h1.2m-96.3 16.1h1.2m20.6-70.6h1.2m30.4 23.8h1.2m-48.3-22.5h1.2m-46.6 73.9h1.2m72.6-67.5h1.2m-68.9-21.7h1.2m129.3 68.7h1.2m9.8-29.2h1.2m-12-3.2h1.2m-7.3-9h1.2m50.8-20.9h1.2m-30.2 29.4h1.2m-4.2 22.8h1.2m-111.9 20.1h1.2m-58.1 15.1h1.2m166-87.3h1.2m-63.2 18.1h1.2m59.3 1.7h1.2m-41 51.4h1.2m-96.4-93.8h1.2m125.9 49.1h1.2m-27.4 32.2h1.2m-109.1 29.1h1.2m137.9-48.9h1.2m-84.7-12h1.2m59.4 32.8h1.2m-99.6-99.3h1.2m-24.5 34.3h1.2m51.6 78.9h1.2m-43.7-76h1.2m94.4 59.7h1.2m34-21.7h1.2m-79.2-31.1h1.2m-57.4-10.8h1.2m123.2 65.5h1.2m-104.4 32.7h1.2m-2.2-14h1.2m88.6-13.6h1.2m-108.6-145.6h1.2m125.1 143.3h1.2m-66.2-33.6h1.2m71 12.8h1.2m-1.4 19h1.2m40.6 2h1.2m-20.9 18.9h1.2m-78.4-24.3h1.2m-92.5 24.8h1.2m62.7-26.6h1.2m61.9-22.1h1.2m-148.4 35.9h1.2m42.6 26.7h1.2m50.8-65.1h1.2m64.2-14.7h1.2m-68.7 8.2h1.2m-22.2 43.1h1.2m66.2-68.1h1.2m20.9 58.4h1.2m-42.1-24.1h1.2m-114.8 43h1.2m82.7-43.7h1.2m-73.7 52.9h1.2m117.2-52.5h1.2m76.1 10.1h1.2m-94.6-15h1.2m-49.6 54h1.2m7.7-26.4h1.2m-91.6-20.9h1.2m73.8-32.5h1.2m12.5 13.5h1.2m19.8-27.2h1.2m66.6 84.1h1.2m-95.9-70.2h1.2m-35.4-7.2h1.2m127.8 68.4h1.2m17.7-51.2h1.2m-66.6 10.8h1.2m79.6 14.3h1.2m-117-9.5h1.2m-3.8-1h1.2m93.1 22.8h1.2m-16.4-19.2h1.2m-42.8 1.1h1.2m19.7 28.2h1.2m-98.6-66.3h1.2m-52.1 45.4h1.2m-1.9 8.6h1.2m23.4-48.1h1.2m98.8 25.1h1.2m-40.9-28.2h1.2m-3.1 26.3h1.2m-14.3-14.5h1.2m-12.1-10.1h1.2m-6-13.1h1.2m-31.3 9.1h1.2m54.7 21.2h1.2m-71-12.1h1.2m160.1 51.4h1.2m-149-54.6h1.2m78.8 57.3h1.2m0.4-24.2h1.2m-20.3-12.4h1.2m-50.9-36.1h1.2m134.9 40.5h1.2m0.9 37.2h1.2m-179.5-10.7h1.2m109.1 4.6h1.2m-87.1-57.2h1.2m20.1 109h1.2m142.7-55.1h1.2m-10.4-16.9h1.2m11.7 35.6h1.2m-69.1-11.3h1.2m24.8-2.8h1.2m-13.4-43h1.2m-13.8 44.4h1.2m-82.9-67.6h1.2m136.2 62.4h1.2m-0.7 36.1h1.2m-30-64.3h1.2m-139.4 47.3h1.2m154.2 10.8h1.2m-105.5-9.4h1.2m-3.3-81.8h1.2m-31.3 5.8h1.2m142.2 28.9h1.2m-7.7-4.8h1.2m10.8 24.7h1.2m3 6.1h1.2m-66.3-23.3h1.2m77.5 26.1h1.2m-70.4-24.6h1.2m-109.3-36.6h1.2m124.7 27.8h1.2m-87.3-28.8h1.2m-2.2 9.2h1.2m60.9 23.6h1.2m-67.9-27.7h1.2m33.8 4.7h1.2m-83.6 3.6h1.2m190.1 22.4h1.2m-120.5-17.9h1.2m-41.2-16.6h1.2m121.7 35.2h1.2m-47.4 2.6h1.2m-25.2 24.8h1.2m37.6-30.8h1.2m-39.6 1.1h1.2m25.3-4h1.2m18.9 2.8h1.2m-83.2-60.8h1.2m-35.9 115.9h1.2m18.6-83.9h1.2m122.1 36.1h1.2m-146-49.8h1.2m26.8 12.4h1.2m-32.7-19.3h1.2m166.7 60.6h1.2m4 8.3h1.2m-93.7-26.4h1.2m-136.8-30.3h1.2m205.3 69.3h1.2m-92.6-48.4h1.2m54.8 22.6h1.2m37.7-11.8h1.2m-152.1-20h1.2m144.8 58.3h1.2m-128.3-64.4h1.2m97.4 31.1h1.2m-108-40.7h1.2m137.5 68.7h1.2m-120.4-56.9h1.2m-42.3 11.3h1.2m74.5 9.7h1.2m101.9-21.1h1.2m-111.8 15.8h1.2m-57.3 73.9h1.2m129.7-24.1h1.2m-63.6-47h1.2m85.7 46.6h1.2m-1.7-3.6h1.2m-70.3-27.9h1.2m36-2.8h1.2m-115.1 57.1h1.2m74.2-20.5h1.2m32.3-2.9h1.2m-45.6-77.4h1.2m-99 71.1h1.2m46.4 26.9h1.2m-14.6-99h1.2m114.7 38.7h1.2m7.4-5.8h1.2m-68.3 39.8h1.2m-48-154.8h1.2m2-18.8h1.2m-1.1 9.5h1.2m28-24.1h1.2m-32.1 39.6h1.2m-25.5 2.2h1.2m-26.3-6.1h1.2m23.3-16.4h1.2m2.6 23.4h1.2m-7.8 12.7h1.2m22.7-32.1h1.2m-6.1-19.9h1.2m24.6 13.1h1.2m3.7 32h1.2m-27.4-10.3h1.2m-1.1-4.1h1.2m-7.6 4.5h1.2m-14.6-25h1.2m-12.7 29.4h1.2m30.7-48.7h1.2m26.3 47.8h1.2m-17-4.9h1.2m-10.3-11.5h1.2m-34.2-21.2h1.2m4.8 36.1h1.2m-2.4-9.9h1.2m-13.8 9.6h1.2m14.7-15.7h1.2m2.2-5.9h1.2m-4.3 6.8h1.2m26.2 14.6h1.2m-19.6 1.4h1.2m-9.1-37h1.2m-4.5 20.5h1.2m22.4-11.2h1.2m31.4 73.5h1.2m-33.8-70.3h1.2m-66.5-2.1h1.2m29-3.9h1.2m6.4 26.9h1.2m2.5-28.3h1.2m-0.7 43.4h1.2m-16.3-45h1.2m70.4 40.2h1.2m-57.8-13.8h1.2m15.5-39.7h1.2m-1.4 17.6h1.2m-21.8 38h1.2m-4.8-33h1.2m0.6-11.8h1.2m-9.3 10.7h1.2m6.8 28.4h1.2m17.9 32.5h1.2m-18.3-53.7h1.2m29.8 15h1.2m-6.6-11.1h1.2m2.5 47.1h1.2m-19-23.7h1.2m6.1-31.3h1.2m0.2 28.9h1.2m44-36.8h1.2m-76.3 23.7h1.2m40.8 6.7h1.2m-19.8 8.1h1.2m28.2-25.7h1.2m-40.2-14.2h1.2m-1.4 43.3h1.2m-8-21.9h1.2m13.4 38.1h1.2m2.4-25.5h1.2m9.5 42.9h1.2m11.3-46.6h1.2m-51.2-9.9h1.2m40.7 26.5h1.2m-10-39.4h1.2m7.4 36.6h1.2m-23-16.9h1.2m34.8-3.2h1.2m-20 16.2h1.2m6.3-17.2h1.2m-13.8-13.6h1.2m-1.5 20.3h1.2m-3.7 4.1h1.2m-17.5-19.5h1.2m1.8-22.4h1.2m20.7 38.2h1.2m-28.9-26.1h1.2m1.9 41.6h1.2m20-46.2h1.2m-19.1 9.8h1.2m-12.6 24.4h1.2m14.3-0.1h1.2m-8.6-28.2h1.2m3.3 39.9h1.2m-3.8-25.6h1.2m3 21.9h1.2m-1.2-13.6h1.2m7.1 6.7h1.2m-11.6 11.6h1.2m9.1-45.8h1.2m-3.7 33.1h1.2m-8.3-13.1h1.2m32.9-2.7h1.2m-0.6-15.8h1.2m-45.9 29.4h1.2m-9.8-24.5h1.2m33.7 27.3h1.2m8.1-19.9h1.2m-29.5 1.6h1.2m12-17.5h1.2m-8.1 44.2h1.2m15.9-19.2h1.2m-17.4 21.2h1.2m3.8-12.9h1.2m14.3-21.9h1.2m-5.1 4.7h1.2m-49.8 13.9h1.2m25.1-38.5h1.2m24.6 50.8h1.2m-35-20.2h1.2m0.9 0.9h1.2m10.6 33.6h1.2m10.6-28.7h1.2m-19.2-6.1h1.2m25.5 5.9h1.2m-8.1-19h1.2m-23.9 17.7h1.2m18.5-40.9h1.2m2.9 81.3h1.2m8.5-52.4h1.2m-20.1 46.5h1.2m11.5-26.4h1.2m-31.9-11.5h1.2m23.7 2.5h1.2m8-25.1h1.2m-5.6 12.9h1.2m3.7 34.1h1.2m-3.4-31.9h1.2m-9.1-6.8h1.2m-15.1 39.1h1.2m-37.9-11.4h1.2m30.7-16.1h1.2m-3-2.2h1.2m7.3 14.2h1.2m-0.1 1.1h1.2m12.8-5.6h1.2m-1.8-9.1h1.2m-17.6-18.7h1.2m5.1-2.1h1.2m18.9 1.8h1.2m-20.1 11.3h1.2m-11.1 27.8h1.2m-15.7 3h1.2m40.3-13.9h1.2m-19.3-21.4h1.2m2.9-7.1h1.2m-5 3.8h1.2m-1.9 35.9h1.2m3.6-53.8h1.2m-9.3 57.1h1.2m-7.9-21.3h1.2m28.3 5.9h1.2m10.1-0.3h1.2m-40.9-48.4h1.2m7.6 26.5h1.2m8.4 12.2h1.2m-19.6 14.2h1.2m23.5 46.6h1.2m-27.2-43.8h1.2m2.5-0.7h1.2m8 4.6h1.2m9.8-3h1.2m-6.2-17.6h1.2m-38.2-12.4h1.2m30.7 27h1.2m-21.4-16.5h1.2m-2.7 8.3h1.2m17.9 8.9h1.2m-12-20.6h1.2m23.7 34.4h1.2m-7.4-19.5h1.2m-21.3 9.6h1.2m15.8 2.5h1.2m-4.2-27h1.2m-10.4-3.7h1.2m5.1 34.3h1.2m-14.4-35h1.2m16.5-0.7h1.2m-2.6 45.7h1.2m-13.1-42.5h1.2m18.8 25.9h1.2m-24.8-7.7h1.2m14.9-24.7h1.2m-21.4 18h1.2m34.4-14.2h1.2m13.4 19.5h1.2m-28.2 3.8h1.2m-7.7-21.2h1.2m-20.6 31.7h1.2m7.4-29h1.2m44.1 10.5h1.2m-47-21.2h1.2m6.4 31.7h1.2m8.3-21.2h1.2m3.6 17h1.2m-6.8 9.5h1.2m18.3-58.3h1.2m-11.1 72.2h1.2m-51.1-28h1.2m37.9 19.6h1.2m24.6-7.1h1.2m-45.9-17.2h1.2m15.1 16.5h1.2m-20.4 3.7h1.2m38.6-45.9h1.2m-31.6 41.2h1.2m-4.4-4.6h1.2m-1.3 2.5h1.2m-0.3-10.1h1.2m35.8 14.9h1.2m-34.9-5h1.2m-2-30.5h1.2m19.7 18.7h1.2m-33.9-27.8h1.2m8.4 14.2h1.2m18.1 25.9h1.2m-40.1-19.2h1.2m27.3-72.2h1.2m-27.7 79.5h1.2m12.8-24.2h1.2m2.4 37.5h1.2m4.4-1h1.2m-7.7-27.4h1.2m34.2 21h1.2m-41.9 22.6h1.2m36.7-30.2h1.2m-7.1 10h1.2m-20.5-20h1.2m3.5 27.5h1.2m-5.2-2.2h1.2m-3.1 0.3h1.2m-42.5 12.3h1.2m37-10.5h1.2m32.7-5.4h1.2m-16-1.6h1.2m-40.6-21h1.2m33.1-0.3h1.2m-0.2 29.9h1.2m0.3 11.6h1.2m13.7-71.4h1.2m-12.6 41.3h1.2m11.1 24.7h1.2m-34.1-7.9h1.2m-5.8-20.7h1.2m-1-1.3h1.2m10.2 44.3h1.2m-17-29.2h1.2m36.1-16.9h1.2m-33.1 10.9h1.2m-10.2 5.5h1.2m18.7 5.2h1.2m8.8-2.5h1.2m26.5 47.3h1.2m-46.9-55.9h1.2m0.1-15.4h1.2m-4.6 7.5h1.2m3.2 20.6h1.2m-4.4-7.7h1.2m15.2-30.9h1.2m6.2 42.8h1.2m-7.6-11.9h1.2m-43.5-27.5h1.2m38.2 3h1.2m4.5 19.5h1.2m-15.3-23.4h1.2m2.6 45.8h1.2m20.8 9.8h1.2m-32.1-39.6h1.2m15.4 13h1.2m-22.7-4.7h1.2m-6.2 9.4h1.2m30.4-9.2h1.2m6.4-17.9h1.2m-9.5 32.6h1.2m-29.9-10.4h1.2m-15.9-5.3h1.2m40.2-10.7h1.2m-1.8 18.9h1.2m6.6-8h1.2m-11.6 8.6h1.2m-28-21.2h1.2m9.6 11.8h1.2m1.9 9.1h1.2m7.1 3.6h1.2m7.5-4.1h1.2m-20.5-7.1h1.2m19.9-6.4h1.2m3-12.8h1.2m-8.6-0.3h1.2m-26 13.2h1.2m6.1-3.2h1.2m-8.8 2.3h1.2m28.1-5.2h1.2m-23.6 23.6h1.2m0.3-19.8h1.2m16.4-7.2h1.2m-3.1-1.1h1.2m-18.8 8.4h1.2m19.5-12.7h1.2m17.1 47.5h1.2m-36.3-18.2h1.2m-12.6-6.2h1.2m21.7-15.3h1.2m-14.9 16.8h1.2m5.2 57.3h1.2m-14.5-53.1h1.2m50.5 2.5h1.2m-35.1 7.6h1.2m-18-7.9h1.2m53.2-19.2h1.2m-58.5 14.6h1.2m4.2-5.2h1.2m12.2-28.9h1.2m29.1 24.4h1.2m-48.8-17.1h1.2m13.9-1.5h1.2m8.2 33.3h1.2m4.9-26.7h1.2m-19.6 0h1.2m8.5 23.6h1.2m-15.9-4h1.2m-29.6-7.7h1.2m50.4 12.4h1.2m-20 4.6h1.2m-1.9-5.8h1.2m-3.5-22.4h1.2m-8.4 21.4h1.2m-3-51.5h1.2m13.9 71.2h1.2m12.4-53.7h1.2m-15.3 54.7h1.2m27-34.4h1.2m-35.1-8.1h1.2m2-0.7h1.2m-9 18.7h1.2m-8.5-35.7h1.2m23.9 41.1h1.2m-18.6-34h1.2m15.6 5.1h1.2m2 47.2h1.2m1.6-28.7h1.2m7 5.1h1.2m-19.1-18h1.2m-12.7 27.5h1.2m29.1 10.1h1.2m-47.5-0.6h1.2m16.9-31.1h1.2m24.9-15.6h1.2m17.9 44.9h1.2m-22.3-42.4h1.2m-16.9-0.5h1.2m-36.5-1.9h1.2m22.6 22.2h1.2m-11.9 14.3h1.2m26.7-19.6h1.2m12.5 20.1h1.2m-32.1 19.4h1.2m-8.5-23.8h1.2m39.1-0.4h1.2m6.7 36.1h1.2m-15.8-51.5h1.2m-9.3 2.2h1.2m16.1-16.2h1.2m-45.4-3.4h1.2m9 17.8h1.2m34.3 6.5h1.2m-15-13.5h1.2m-25 20.3h1.2m18.2-2.5h1.2m-3.5-33h1.2m0.7 37.9h1.2m-15.9-18.7h1.2m-4.5 11.5h1.2m12.8 12.7h1.2m22.4 0.4h1.2m-37.8-35h1.2m-2.8 16.6h1.2m4.5-31.6h1.2m26.6 13h1.2m-3.1 25.9h1.2m-2.4 35.2h1.2m-8.9 5h1.2m-10.9-30.8h1.2m-16.4 29.4h1.2m-26.7-30.2h1.2m27.6-10.7h1.2m60.9 35.8h1.2m-65.8-62.3h1.2m0.9 16.9h1.2m35.1 29.4h1.2m-8.7-27.4h1.2m-9.1 24.8h1.2m-7.9-43.7h1.2m4.8 24.9h1.2m-10.6 23.4h1.2m-23.3-15.6h1.2m27.4 2.3h1.2m-28.8 2.4h1.2m1.6 38.4h1.2m5.4-36.4h1.2m36.5-13.9h1.2m-23.7-16.4h1.2m-14.4 4.1h1.2m-12.5-9.1h1.2m34.6 23.4h1.2m-6.6-32.1h1.2m11.4 6.6h1.2m-38.3 33.7h1.2m1.5-6.9h1.2m12.4 31.1h1.2m-14.9-19.9h1.2m23.4 1.7h1.2m5.9 11.8h1.2m-34.7-33.1h1.2m4.3-5.3h1.2m-2.8 14.7h1.2m-1.2-3.5h1.2m5.1 12h1.2m13.7 3.4h1.2m10.7-14.3h1.2m-29.2 22.1h1.2m-11.1-19.9h1.2m18.6-17.2h1.2m-9.6-15.5h1.2m12.2 27.3h1.2m-24.9-1.4h1.2m23.6-8.9h1.2m11.6-1.3h1.2m-58.1 63.3h1.2m34.1-61.7h1.2m0.3 20.2h1.2m-5.7-0.1h1.2m10.8-19.7h1.2m27.3-19.4h1.2m-29.6 24.7h1.2m0.6 23.6h1.2m-17.7-1.8h1.2m-0.7-32.7h1.2m5.3-10.8h1.2m-4.1 54.3h1.2m7.9-41.9h1.2m10.3-6h1.2m-29 2.6h1.2m-12.7 26.3h1.2m6.3 5.3h1.2m32.7-21.9h1.2m-32.5-10.7h1.2m6.2 36.2h1.2m12.7 0.6h1.2m-15.2-9h1.2m-30 29.1h1.2m10.5-63h1.2m6.2 21.6h1.2m-4.1 13.9h1.2m8-22h1.2m-4.1-19.7h1.2m19.1 40.4h1.2m-29.5-7.3h1.2m1.5 26.8h1.2m17.6-19.1h1.2m16.7 2.8h1.2m-38-4.4h1.2m31.8 5.4h1.2m-36.7-2.6h1.2m30.8-3.4h1.2m10.3 7.2h1.2m-38.6-46.3h1.2m13.2 16.1h1.2m9.5 36.8h1.2m0-7.3h1.2m-25.2-26.6h1.2m-4.1-7.8h1.2m22.1 16.9h1.2m-25.9 4.2h1.2m-15.4-0.7h1.2m-1.4-11.4h1.2m21.5 39.7h1.2m10.7-29.7h1.2m-1.6-0.6h1.2m-6.2 15.4h1.2m13.1 12.6h1.2m-29.6-32.3h1.2m-11.6 9.7h1.2m21.4-16.7h1.2m3-0.6h1.2m23.6 27.7h1.2m-36.9 2.1h1.2m14.9-13h1.2m-33.7-22.5h1.2m-8.1 5h1.2m15.3 5.2h1.2m-4.4 13.2h1.2m4.9 6.8h1.2m-1.4-27.8h1.2m30.8-6h1.2m-33.4 12.3h1.2m3 19.6h1.2m-6.4 9.7h1.2m-2.7-23.4h1.2m45.7 34.2h1.2m-21.4-43.1h1.2m-28.5 24h1.2m16.5-1.4h1.2m0.1-13.7h1.2m-13.3 23.6h1.2m44.6-16.3h1.2m-21.5 12.4h1.2m15.6 3.8h1.2m0.3 7.8h1.2m-21.4-25.5h1.2m-11.9-4h1.2m-16.6-22.6h1.2m-7.8 34.9h1.2m-5.6-7.5h1.2m-6.4-19.2h1.2m-4.6 11.4h1.2m15.3 7.5h1.2m-21.2-47.4h1.2m34.5 68.5h1.2m-4.5-51.7h1.2m9.1 20.6h1.2m22.6 21.1h1.2m-14.5-24h1.2m21 36.3h1.2m-35.9-44.7h1.2m1.3 28.4h1.2m-15.9 11.3h1.2m-24-0.8h1.2m34.9-12.9h1.2m-4.8 2.7h1.2m4.6 13h1.2m8.2-24.4h1.2m-40.9-8.4h1.2m9.8 0.9h1.2m-6.2-31.7h1.2m12.1 57h1.2m14.2-8.6h1.2m-29.9 19.2h1.2m-11.6-38h1.2m-19.9-11.5h1.2m27.5 24.9h1.2m37.3 10.9h1.2m-39.2-18.9h1.2m14.3-23.7h1.2m1.5 19.1h1.2m-25.1 18h1.2m2.6-10.7h1.2m10.1-13.5h1.2m-11.8-5.5h1.2m11.4 9.7h1.2m9.9 6.4h1.2m7 20.1h1.2m-10.3-16.6h1.2m3.7 20.5h1.2m-26.6-19.7h1.2m-0.6 20.1h1.2m20.3-14.8h1.2m-17 22.2h1.2m-6.9-44.5h1.2m29.3 6.7h1.2m17.4 26.6h1.2m-30.3-10.1h1.2m30.6 2h1.2m-58.4-1.6h1.2m37.3 1.5h1.2m0.4 10h1.2m-52.6-19.4h1.2m22.5 19.8h1.2m28.2 21h1.2m-37.4-12.6h1.2m37.4 3.2h1.2m-22.4-27.3h1.2m-19.5-6.8h1.2m-25.9 8.6h1.2m33.8 22h1.2m1.8-36.4h1.2m-23.1 5h1.2m-1.6 11.7h1.2m38.6-6.3h1.2m-15.4-20.2h1.2m2.5 81.6h1.2m-7.2-50.9h1.2m-12.8-23.9h1.2m23.1 27.4h1.2m-4.3 18h1.2m-6.5-40.2h1.2m-7.5 21.7h1.2m-41.5 52.5h1.2m60.8-58.1h1.2m4.8-10.1h1.2m-42.7 8.7h1.2m27-24.6h1.2m-8 15.2h1.2m2.3-9.2h1.2m14.4 8.9h1.2m-20.6-19.1h1.2m-4.1 18.3h1.2m-14.7 12.8h1.2m51.4-31.5h1.2m-38.5 25.1h1.2m-6.2-11.5h1.2m-15.6 36.1h1.2m5.3-5.8h1.2m17.5-25.3h1.2m-7.8-22.7h1.2m7.9 29.9h1.2m-1.3-10.6h1.2m-11.9 17.1h1.2m6.7 10.2h1.2m-28.5 21.6h1.2m11.7-23.3h1.2m-3.8-40.7h1.2m5.1 55.9h1.2m-9.5-58.4h1.2m-11.5 13h1.2m44.2 16.8h1.2m-41-0.7h1.2m-6-17.3h1.2m31.1 7.1h1.2m-11.8 2.4h1.2m-3.3 19.7h1.2m25-26.4h1.2m-47.1 7.5h1.2m20.5-0.1h1.2m-1.2 8.6h1.2m-1.2-52.1h1.2m-13 36.3h1.2m32.1 6.8h1.2m5.2 25.1h1.2m13.5 0.4h1.2m-46.8-81.9h1.2m-2 47.8h1.2m1.1 2.3h1.2m-17 10h1.2m25.8-7.1h1.2m-25.2 24.8h1.2m51.6 16.4h1.2m-17-29.4h1.2m-14.6 8.6h1.2m-31.3-12.6h1.2m21.6 32h1.2m-1.4-31.4h1.2m4.5-14.5h1.2m-29-14.8h1.2m22.8 61.1h1.2m-12.7-19.2h1.2m-23.4 1h1.2m30.3 10.3h1.2m-42.3-60.2h1.2m8.5 18.1h1.2m16.7 37.4h1.2m-12.9 9.4h1.2m15.2-12.9h1.2m-46-9.1h1.2m43.1 20.2h1.2m10.2 5.1h1.2m-12.7-12.7h1.2m1-9.5h1.2m-17.4 8.6h1.2m21.9-9.1h1.2m-6 8.3h1.2m-30.5-34.9h1.2m2.6 0.6h1.2m28.5-11.4h1.2m-0.4 27.6h1.2m0.6 4.8h1.2m-25.4-1.7h1.2m11-22.4h1.2m10 28.7h1.2m-31.5-17.5h1.2m24.6 21.3h1.2m-9.4-28.5h1.2m9.8 25h1.2m-5.7 37.4h1.2m1.6-35.4h1.2m-5.3-2h1.2m22.9 46.3h1.2m-13.9-58.3h1.2m-16.3 20.4h1.2m-4.3-7h1.2m10.3-0.4h1.2m-4 0.5h1.2m-14.7 7.2h1.2m-6-16.5h1.2m23.1 9.9h1.2m-31.7-15.6h1.2m26.7 8.2h1.2m35.2 13.7h1.2m-62.9-49.1h1.2m22.5 18.4h1.2m-16.9 17.2h1.2m9.8 8.5h1.2m-9.3-5.1h1.2m-9.5-27.1h1.2m27.4-2h1.2m15.6-13.2h1.2m-48.7 37.9h1.2m17.4-16.4h1.2m5.1-8.4h1.2m-15.9 13.4h1.2m12.4 35.4h1.2m-10.7-46.4h1.2m20.3 8.1h1.2m-2.7 11h1.2m-10.1-1.7h1.2m-3.7 39.5h1.2m31.4-22.6h1.2m-40.8-29.9h1.2m-8.9 0.8h1.2m-19.3 20.7h1.2m29.1-18.8h1.2m-14.9 12.2h1.2m1.9-18.1h1.2m4.3 0.4h1.2m-9.6 8.7h1.2m-6.2 4.8h1.2m13.6 35.6h1.2m4.1-22.5h1.2m9.3-5h1.2m9.9-17.2h1.2m-31.4 41.9h1.2m-7.9-58.9h1.2m0.8-6.3h1.2m17.5 50.6h1.2m15.3-15.9h1.2m-17.8-7h1.2m-7.1 36.7h1.2m-66.3-9.8h1.2m75.8-13.9h1.2m-30.1-6.7h1.2m6.2 32.4h1.2m9.6-6.2h1.2m-1.2-2h1.2m-15.1-10.6h1.2m-4.1-26h1.2m22 18.5h1.2m-42.2-20.7h1.2m17.7 18.8h1.2m-7.5 13.5h1.2m29.3-19.3h1.2m-22.1 11h1.2m12.7 16.5h1.2m-25.3-34.2h1.2m35.5 28.5h1.2m-16.8-36.6h1.2m2.3 22.9h1.2m-13.9 26.7h1.2m13.8-35.2h1.2m4.9-2h1.2m-28.8-4.5h1.2m-25.6 5.9h1.2m35.1 16.3h1.2m1.2 18.3h1.2m-15.2-44.1h1.2m-20.8 12.3h1.2m36.1-12.7h1.2m6 28.6h1.2m-5.8-27.5h1.2m2.9 5.2h1.2m-3.5 19.9h1.2m-33.8-15.9h1.2m32.5 18.4h1.2m11.2 1.6h1.2m-45.9-12.1h1.2m21.3-17.5h1.2m-18.7 41.4h1.2m11.1-15.5h1.2m16.3-18h1.2m15.2 49.5h1.2m-18.2-37.4h1.2m-42-21.7h1.2m-1 25.7h1.2m33-23.8h1.2m7.5 7.9h1.2m-27.3 8.8h1.2m-9.7-0.2h1.2m-4.4 28.8h1.2m49.1 35.1h1.2m-23.9-51.5h1.2m-0.4-4.4h1.2m-15.2-28.3h1.2m-1.2 6.1h1.2m-4.4 34.2h1.2m-0.3 8.7h1.2m26.8-44.9h1.2m-37.7 14.3h1.2m24.2 6.9h1.2m2.2 12.4h1.2m2.1-18.3h1.2m-5.3-13.9h1.2m-4.9 22.5h1.2m-7.2-42.4h1.2m-7.1 42.3h1.2m27.4 21.1h1.2m-11.1-14.2h1.2m-19.5-3.3h1.2m-50.6-17.7h1.2m44.2 1.6h1.2m5.5-13.9h1.2m-23.2 20.2h1.2m-16.7-33.9h1.2m44.1 44.2h1.2m13.5-22.3h1.2m-64.5 13.2h1.2m47.2-26.8h1.2m-2 33.8h1.2m-53-10.5h1.2m44.3 30.5h1.2m-11.4-19.6h1.2m16 0.4h1.2m2.4-13.9h1.2m-1.7 7.7h1.2m-18.4 0.6h1.2m-4.7-21h1.2m-3.7 13h1.2m13.5-26.2h1.2m-8.6 10.7h1.2m-7.3 14h1.2m17.9 9.9h1.2m-3.9 28.5h1.2m-32.5-21.8h1.2m18.6-9.2h1.2m-15.4 3.8h1.2m18.3-32.2h1.2m13.8 47.9h1.2m-13.7-8.1h1.2m-13.8-12.1h1.2m19.2-21h1.2m31.2 78.4h1.2m-33-69.3h1.2m-20.8 8.4h1.2m31.6-11.2h1.2m-12.1 29.8h1.2m-3.5-14.3h1.2m-22.2-7h1.2m33.1 7.6h1.2m-22.5 40.1h1.2m-16.2-40.6h1.2m-4.8-9.3h1.2m1.8 12.1h1.2m25 0.4h1.2m-18.8-2.2h1.2m1.3 2.6h1.2m-10.6-40.6h1.2m-2.7 18.9h1.2m23.8 8.4h1.2m-32.5-8.3h1.2m30.8 12h1.2m-36.6 23.7h1.2m45.1-20.9h1.2m-9.8-34.3h1.2m-4.9 64.5h1.2m5.3-23.4h1.2m-24.1-24.1h1.2m18.6 1.3h1.2m-34.8 5.4h1.2m19.9-2.6h1.2m3.5 76h1.2m-18.1-50.6h1.2m24-28.1h1.2m34.8 60.2h1.2m-47.2-28.9h1.2m-31.7-30.7h1.2m6.4 4.6h1.2m33 21.1h1.2m9.8-26h1.2m-33.1 25.7h1.2m3.3-38.1h1.2m27.5 24.9h1.2m0.4-28.2h1.2m-19.7 33.4h1.2m-23.6-15.5h1.2m-3.7 6.7h1.2m29.4-3.8h1.2m-23.1 33h1.2m5.3-46.8h1.2m-9.2 8.1h1.2m-26.4-13.1h1.2m35.2 16.3h1.2m7.5 2.1h1.2m-0.9 21.2h1.2m1.4 2.3h1.2m14.1 11h1.2m-34.7-11.3h1.2m-0.3 2.3h1.2m9.7-21.1h1.2m-19.4-10.4h1.2m5.7 27h1.2m-8.4-26.5h1.2m36.5 33.7h1.2m-24.2 26h1.2m-23-29.2h1.2m15.5 50.5h1.2m36.9-85.7h1.2m-54.4 16.8h1.2m26.1-8.4h1.2m-15.3-12.4h1.2m-5.1 40.2h1.2m-15.1-18.2h1.2m25.5 15.2h1.2m-10.5 6.7h1.2m-7.3-36h1.2m-3.6 8.9h1.2m43.8-4.3h1.2m-55.4-11.7h1.2m28.8 32h1.2m-18.5-6h1.2m24.5 20.2h1.2m-6.1-17.8h1.2m-25-8.8h1.2m32 0.5h1.2m-14.7 26.7h1.2m-2.6-31.2h1.2m5.1 1.9h1.2m-52.3-10.3h1.2m42 6.4h1.2m-9 22.3h1.2m-4.8 6.3h1.2m18.1-39.4h1.2m-1.4 57.8h1.2m-5-23.2h1.2m-1.3-5.8h1.2m3.5-4.1h1.2m-0.2-19.4h1.2m-46.9 9.7h1.2m18.9-10.5h1.2m25.7 30.3h1.2m-6.1 18.5h1.2m-17.6-49h1.2m-1.1 30.3h1.2m10.5-8.1h1.2m-18.6-32.6h1.2m21.7 16.8h1.2m-14.4 19h1.2m-7.1 11.3h1.2m-3.8-10.2h1.2m-0.5-10.5h1.2m5.1-17.5h1.2m18.8 0.8h1.2m-34.8 21.4h1.2m-5.5 21.6h1.2m9.8-17.5h1.2m-5.9-12.7h1.2m38.4 6h1.2m-29.2 19.6h1.2m-15.5-17.5h1.2m46.8-27.3h1.2m-50.8 13.9h1.2m27 11.6h1.2m8.4 15h1.2m-12.2-17.2h1.2m-14.9-27.3h1.2m-5.3 34h1.2m11.7-22.2h1.2m-16.2 17.4h1.2m3.3 8.8h1.2m15.1-15.2h1.2m13.3 18h1.2m-41.2-5.5h1.2m15 7h1.2m-2.7 5.5h1.2m5.8-37.7h1.2m-18.3 21.6h1.2m64.7 2.9h1.2m-42-11.4h1.2m-22.8 14.2h1.2m40.8-7.9h1.2m-25.9-8.2h1.2m-15.4-4.6h1.2m-20.6-9.8h1.2m27.5 8.8h1.2m23.9 8.2h1.2m-37.7-12.8h1.2m26.2 44.6h1.2m-1.2-30.1h1.2m11.1 1.7h1.2m-51.8-20.9h1.2m35.3 62.1h1.2m-32.5-35.2h1.2m26.8-4.9h1.2m-27.9 11h1.2m4.6-1.5h1.2m4.6-0.1h1.2m0.5-29.6h1.2m-32 29.5h1.2m25.3 7.6h1.2m-8.1-15.2h1.2m24.9-16.7h1.2m-22.9 39h1.2m-3.8-12.9h1.2m-2.2-18.7h1.2m5.7-9.1h1.2m27.4 75.3h1.2m-37-49.5h1.2m14.6 21.3h1.2m4.4-8.9h1.2m-9.7-1.3h1.2m-12-40.2h1.2m0.2 25.7h1.2m20.3-4.5h1.2m4.3-16.9h1.2m5.9 17.3h1.2m-18.2-33.2h1.2m-1.9 39.8h1.2m-2.7-26h1.2m-39.7 41.3h1.2m26.6-8.3h1.2m17.5-30h1.2m-2.4 24h1.2m-16.5-30.9h1.2m27.1 55.8h1.2m-9.7-64.9h1.2m-4.8 10.6h1.2m-33.2 16h1.2m27.5 12.4h1.2m-3.8 14.2h1.2m-11.5-35.7h1.2m16.7 44.1h1.2m-18.9-54.1h1.2m-5.1 4.9h1.2m-15.1 14.8h1.2m-10.7 54h1.2m25.2-69h1.2m-28.3 0.8h1.2m24.4 4.9h1.2m13 16.6h1.2m-6.9-20.4h1.2m-30.5 12.3h1.2m31.9 18.1h1.2m-5.8 3.6h1.2m-11.5-9.4h1.2m2.4 1.6h1.2m-15.9 11.3h1.2m54.7-21h1.2m-11.6-1.8h1.2m-44.4 3.8h1.2m-27.4 30h1.2m40.7-56h1.2m0.6 10.9h1.2m-9.9 0.8h1.2m15.7 3.3h1.2m-25.9-33.4h1.2m20.7 58.4h1.2m-10.6-7.3h1.2m2.4-24h1.2m17.2 10.2h1.2m-7.5-6.5h1.2m-25.3 15.8h1.2m12.6-19.9h1.2m14.6-12.7h1.2m-19.2 16.1h1.2m4.2 15.3h1.2m-20.2 1.4h1.2m6.5-18.4h1.2m-9.3 6.3h1.2m17.6 24.7h1.2m-21.4-21.7h1.2m9.7-9.4h1.2m-11.6 22.7h1.2m-9.8-25.7h1.2m7.4 3.1h1.2m-8.1-25.9h1.2m-13 42.6h1.2m32.6 9.4h1.2m20.7 0.5h1.2m-14.9-31.7h1.2m-14.9 6.4h1.2m47.4-15.6h1.2m67.4 55.1h1.2m-13.8-54.9h1.2m-32.6 76.9h1.2m22.5-60.3h1.2m24.2-24.9h1.2m-57 22.8h1.2m78.1-9.3h1.2m-3.1-5.6h1.2m-76.5 9.9h1.2m69.3 45.2h1.2m-58.6-30.1h1.2m46.3 11.3h1.2m-51.5-38.9h1.2m48.7 48.2h1.2m23.7-40.2h1.2m1.2 25.8h1.2m-31.1-29.1h1.2m-47.7 48.3h1.2m20.3-49.8h1.2m-12-5.3h1.2m61.8 27.5h1.2m-62.3 17.9h1.2m23.2-27.4h1.2m-15.5-2.2h1.2m-26.2-10.8h1.2m21.7 51.5h1.2m34.6-37.9h1.2m-34.3-3.5h1.2m23.5-9h1.2m-10.3 3.7h1.2m-48.2 65.9h1.2m59.6-73h1.2m-6.4 0.9h1.2m10.7 34.5h1.2m-61.9 3.1h1.2m75.5-40.2h1.2m-11.1 44h1.2m2.1-47.9h1.2m4.3 22.9h1.2m-32.9-11.4h1.2m-24.5 12.8h1.2m-30.3 62.7h1.2m58.4-84.6h1.2m-7.5 46.6h1.2m0.5 9.8h1.2m-61-35.4h1.2m86.1 1.2h1.2m-53.1-7.1h1.2m-30.7 32.5h1.2m84.3 27h1.2m-24.8-42.3h1.2m-20.9 11.4h1.2m21.2 42.3h1.2m2.3-44.1h1.2m-13.8 39.5h1.2m-30.5 8.5h1.2m-4.2-51.1h1.2m31.4-23.4h1.2m-50.1 34.5h1.2m4.1-47h1.2" stroke="#000" stroke-width="1.2" fill="none"/>
<path d="M499.8 320.3C500 314.6 500.3 306.1 502 300C503.7 293.9 507 288.2 510 284C513 279.8 516.5 277.2 520 275C523.5 272.8 526.3 271.2 531 271C535.7 270.8 542.7 271.8 548 273.5C553.3 275.2 558.7 278.1 563 281C567.3 283.9 571.2 288.2 574 291C576.8 293.8 578 295.8 580 297.5C582 299.2 582.7 300.7 586 301.5C589.3 302.3 592.7 302.2 600 302.3C607.3 302.4 620 302.4 630 302.3C640 302.2 652.3 301.9 660 302C667.7 302.1 672.3 301.8 676 303C679.7 304.2 680.6 306.4 682 309C683.4 311.6 684.3 315.2 684.3 318.5C684.3 321.8 684 326.2 682 329C680 331.8 678.5 333.9 672 335.5C665.5 337.1 652.5 338.7 643 338.6C633.5 338.5 623.8 335.9 615 335C606.2 334.1 595.7 333.8 590 333.5C584.3 333.2 584.2 331.6 581 333C577.8 334.4 575.2 338.7 571 342C566.8 345.3 561 350.1 556 353C551 355.9 545.3 358.2 541 359.5C536.7 360.8 534.2 361.2 530 361C525.8 360.8 520 360.2 516 358C512 355.8 508.5 352 506 348C503.5 344 502 338.6 501 334C500 329.4 499.6 326 499.8 320.3Z" fill="none" stroke="#111" stroke-width="1.2" stroke-linejoin="round"/>
<path d="M580.1 321C580.1 322.2 579.9 323.2 579.5 324.4C579.1 325.6 578.6 326.7 577.8 328C577.1 329.2 576.1 330.5 575 331.8C573.9 333.2 572.6 334.6 571.2 336C569.8 337.4 568.2 339 566.5 340.4C564.8 341.9 562.9 343.5 560.9 344.9C559 346.4 556.9 347.9 554.7 349.2C552.6 350.5 550.3 351.8 548 352.9C545.7 353.9 543.3 354.9 540.9 355.5C538.5 356.2 535.6 356.6 533.6 356.7C531.6 356.8 530.3 356.6 528.8 356.3C527.2 356 525.6 355.5 524 355C522.5 354.4 521 353.7 519.5 352.8C518.1 352 516.7 351 515.4 349.9C514.1 348.8 512.8 347.6 511.7 346.2C510.5 344.9 509.5 343.5 508.5 342C507.6 340.5 506.7 338.9 506 337.2C505.2 335.5 504.6 333.8 504.1 332C503.6 330.3 503.2 328.4 503 326.6C502.7 324.7 502.6 323.1 502.6 321C502.6 318.9 502.7 316.5 503 314.3C503.2 312 503.6 309.8 504.1 307.7C504.6 305.5 505.2 303.4 506 301.4C506.7 299.4 507.6 297.5 508.5 295.7C509.5 293.8 510.5 292.1 511.7 290.5C512.8 288.9 514.1 287.5 515.4 286.1C516.7 284.8 518.1 283.6 519.5 282.6C521 281.6 522.5 280.7 524 280C525.6 279.3 527.2 278.8 528.8 278.4C530.3 278.1 531.6 277.8 533.6 277.9C535.6 278 538.5 278.5 540.9 279.3C543.3 280.1 545.7 281.2 548 282.5C550.3 283.8 552.6 285.3 554.7 286.9C556.9 288.5 559 290.3 560.9 292.1C562.9 293.9 564.8 295.7 566.5 297.5C568.2 299.3 569.8 301.1 571.2 302.9C572.6 304.6 573.9 306.3 575 307.9C576.1 309.6 577.1 311.1 577.8 312.6C578.6 314.1 579.1 315.5 579.5 316.9C579.9 318.3 580.1 319.8 580.1 321Z" fill="none" stroke="#111" stroke-width="1.2" stroke-linejoin="round"/>
<path d="M572.1 321C572.1 322.1 571.9 323 571.6 324C571.3 325 570.8 326 570.2 327.1C569.5 328.2 568.7 329.3 567.8 330.5C566.8 331.6 565.7 332.9 564.5 334.1C563.3 335.4 561.9 336.7 560.4 338C559 339.3 557.4 340.6 555.7 341.9C554 343.2 552.2 344.5 550.4 345.7C548.5 346.8 546.6 347.9 544.6 348.9C542.6 349.8 540.6 350.6 538.5 351.2C536.5 351.7 534 352.1 532.3 352.2C530.6 352.3 529.5 352.1 528.2 351.8C526.8 351.6 525.4 351.2 524.1 350.7C522.8 350.2 521.5 349.5 520.3 348.8C519 348.1 517.9 347.2 516.7 346.2C515.6 345.3 514.5 344.2 513.6 343.1C512.6 341.9 511.7 340.7 510.9 339.3C510.1 338 509.3 336.6 508.7 335.2C508.1 333.7 507.5 332.2 507.1 330.6C506.7 329.1 506.3 327.5 506.1 325.9C505.9 324.3 505.8 322.8 505.8 321C505.8 319.2 505.9 317.1 506.1 315.2C506.3 313.3 506.7 311.4 507.1 309.6C507.5 307.8 508.1 306 508.7 304.2C509.3 302.5 510.1 300.9 510.9 299.3C511.7 297.8 512.6 296.3 513.6 294.9C514.5 293.5 515.6 292.3 516.7 291.1C517.9 290 519 289 520.3 288.1C521.5 287.2 522.8 286.5 524.1 285.9C525.4 285.3 526.8 284.9 528.2 284.6C529.5 284.3 530.6 284 532.3 284.1C534 284.2 536.5 284.6 538.5 285.3C540.6 286 542.6 287 544.6 288.1C546.6 289.1 548.5 290.5 550.4 291.8C552.2 293.2 554 294.7 555.7 296.2C557.4 297.8 559 299.4 560.4 300.9C561.9 302.4 563.3 304 564.5 305.5C565.7 307 566.8 308.4 567.8 309.8C568.7 311.2 569.5 312.5 570.2 313.8C570.8 315.1 571.3 316.3 571.6 317.5C571.9 318.7 572.1 319.9 572.1 321Z" fill="none" stroke="#111" stroke-width="1.2" stroke-linejoin="round"/>
<path d="M563.1 321C563.1 321.9 563 322.7 562.7 323.6C562.4 324.5 562 325.4 561.5 326.3C561 327.3 560.3 328.3 559.6 329.3C558.8 330.3 557.9 331.4 556.9 332.5C555.9 333.6 554.8 334.8 553.6 335.9C552.4 337.1 551.1 338.3 549.7 339.4C548.3 340.5 546.9 341.6 545.3 342.7C543.8 343.7 542.2 344.7 540.6 345.5C539 346.3 537.3 347 535.7 347.5C534 348 532 348.3 530.6 348.4C529.2 348.5 528.3 348.3 527.2 348.1C526.1 347.8 525 347.5 523.9 347.1C522.8 346.6 521.7 346.1 520.7 345.4C519.7 344.8 518.8 344 517.8 343.2C516.9 342.3 516 341.4 515.2 340.4C514.5 339.4 513.7 338.3 513 337.1C512.4 335.9 511.8 334.7 511.3 333.4C510.7 332.2 510.3 330.8 510 329.5C509.6 328.1 509.3 326.7 509.2 325.3C509 323.9 508.9 322.4 508.9 321C508.9 319.6 509 318 509.2 316.6C509.3 315.1 509.6 313.7 510 312.3C510.3 310.9 510.7 309.5 511.3 308.2C511.8 306.9 512.4 305.6 513 304.4C513.7 303.2 514.5 302.1 515.2 301.1C516 300 516.9 299.1 517.8 298.2C518.8 297.3 519.7 296.5 520.7 295.9C521.7 295.2 522.8 294.6 523.9 294.2C525 293.7 526.1 293.4 527.2 293.1C528.3 292.9 529.2 292.7 530.6 292.8C532 292.9 534 293.2 535.7 293.7C537.3 294.2 539 295 540.6 295.8C542.2 296.7 543.8 297.7 545.3 298.7C546.9 299.8 548.3 300.9 549.7 302.1C551.1 303.2 552.4 304.5 553.6 305.6C554.8 306.8 555.9 308 556.9 309.1C557.9 310.3 558.8 311.4 559.6 312.5C560.3 313.5 561 314.5 561.5 315.5C562 316.5 562.4 317.4 562.7 318.3C563 319.2 563.1 320.1 563.1 321Z" fill="none" stroke="#111" stroke-width="1.2" stroke-linejoin="round"/>
<path d="M556.8 321C556.8 321.7 556.7 322.3 556.5 322.9C556.3 323.6 555.9 324.3 555.5 325C555.1 325.7 554.6 326.4 554 327.2C553.3 327.9 552.6 328.8 551.8 329.6C551 330.4 550.1 331.3 549.2 332.1C548.2 333 547.2 333.8 546.1 334.7C545 335.5 543.8 336.4 542.6 337.1C541.4 337.9 540.1 338.6 538.8 339.2C537.5 339.8 536.2 340.4 534.8 340.7C533.5 341.1 531.9 341.3 530.8 341.4C529.6 341.5 528.9 341.3 528 341.1C527.2 341 526.3 340.7 525.4 340.4C524.5 340.1 523.7 339.7 522.9 339.2C522.1 338.7 521.3 338.1 520.6 337.5C519.8 336.9 519.1 336.2 518.5 335.4C517.8 334.7 517.2 333.9 516.7 333C516.2 332.1 515.7 331.2 515.3 330.3C514.9 329.3 514.5 328.3 514.2 327.3C514 326.3 513.8 325.2 513.6 324.2C513.5 323.1 513.4 322.1 513.4 321C513.4 319.9 513.5 318.7 513.6 317.5C513.8 316.4 514 315.2 514.2 314.1C514.5 313 514.9 311.9 515.3 310.9C515.7 309.8 516.2 308.8 516.7 307.9C517.2 307 517.8 306.1 518.5 305.2C519.1 304.4 519.8 303.6 520.6 303C521.3 302.3 522.1 301.7 522.9 301.1C523.7 300.6 524.5 300.2 525.4 299.8C526.3 299.4 527.2 299.2 528 299C528.9 298.8 529.6 298.6 530.8 298.7C531.9 298.8 533.5 299 534.8 299.4C536.2 299.8 537.5 300.4 538.8 301.1C540.1 301.7 541.4 302.6 542.6 303.4C543.8 304.2 545 305.1 546.1 306C547.2 307 548.2 307.9 549.2 308.9C550.1 309.8 551 310.7 551.8 311.6C552.6 312.5 553.3 313.4 554 314.2C554.6 315.1 555.1 315.9 555.5 316.7C555.9 317.4 556.3 318.2 556.5 318.9C556.7 319.6 556.8 320.3 556.8 321Z" fill="none" stroke="#111" stroke-width="1.2" stroke-linejoin="round"/>
<path d="M552 321C552 321.5 551.9 322 551.7 322.5C551.6 323 551.3 323.5 550.9 324C550.6 324.6 550.1 325.1 549.6 325.7C549.1 326.3 548.5 326.9 547.9 327.6C547.2 328.2 546.4 328.8 545.6 329.5C544.8 330.1 544 330.8 543 331.5C542.1 332.1 541.1 332.8 540.1 333.3C539.1 333.9 538.1 334.5 537 334.9C535.9 335.4 534.8 335.8 533.7 336.1C532.6 336.4 531.2 336.5 530.3 336.6C529.3 336.7 528.8 336.5 528 336.4C527.3 336.3 526.5 336.1 525.8 335.8C525.1 335.6 524.4 335.3 523.7 334.9C523 334.5 522.4 334.1 521.8 333.6C521.2 333.1 520.6 332.6 520 332C519.5 331.5 519 330.8 518.6 330.2C518.1 329.5 517.7 328.8 517.4 328.1C517 327.4 516.7 326.6 516.5 325.8C516.3 325 516.1 324.2 516 323.4C515.9 322.6 515.8 321.8 515.8 321C515.8 320.2 515.9 319.4 516 318.5C516.1 317.7 516.3 316.9 516.5 316.1C516.7 315.4 517 314.6 517.4 313.9C517.7 313.1 518.1 312.4 518.6 311.8C519 311.1 519.5 310.5 520 309.9C520.6 309.3 521.2 308.8 521.8 308.3C522.4 307.8 523 307.4 523.7 307C524.4 306.6 525.1 306.3 525.8 306.1C526.5 305.8 527.3 305.6 528 305.5C528.8 305.4 529.3 305.2 530.3 305.3C531.2 305.4 532.6 305.5 533.7 305.8C534.8 306.1 535.9 306.5 537 307C538.1 307.4 539.1 308 540.1 308.6C541.1 309.2 542.1 309.8 543 310.5C544 311.1 544.8 311.8 545.6 312.4C546.4 313.1 547.2 313.8 547.9 314.4C548.5 315 549.1 315.7 549.6 316.2C550.1 316.8 550.6 317.4 550.9 317.9C551.3 318.5 551.6 319 551.7 319.5C551.9 320 552 320.5 552 321Z" fill="none" stroke="#111" stroke-width="1.2" stroke-linejoin="round"/>
<path d="M547.8 321C547.8 321.4 547.7 321.8 547.6 322.2C547.4 322.6 547.2 323 546.9 323.4C546.6 323.9 546.3 324.3 545.8 324.8C545.4 325.3 544.9 325.8 544.4 326.3C543.8 326.8 543.2 327.3 542.5 327.8C541.9 328.3 541.2 328.9 540.4 329.4C539.6 329.9 538.8 330.4 538 330.9C537.2 331.3 536.3 331.8 535.4 332.2C534.5 332.5 533.6 332.9 532.7 333.1C531.7 333.3 530.6 333.5 529.9 333.5C529.1 333.5 528.6 333.4 528 333.3C527.4 333.2 526.8 333.1 526.2 332.9C525.6 332.7 525 332.4 524.4 332.1C523.9 331.8 523.3 331.5 522.8 331.1C522.3 330.7 521.8 330.3 521.4 329.8C521 329.4 520.6 328.9 520.2 328.3C519.8 327.8 519.5 327.3 519.2 326.7C518.9 326.1 518.7 325.5 518.5 324.9C518.3 324.2 518.1 323.6 518 323C517.9 322.3 517.9 321.6 517.9 321C517.9 320.4 517.9 319.7 518 319.1C518.1 318.5 518.3 317.8 518.5 317.2C518.7 316.6 518.9 316 519.2 315.5C519.5 314.9 519.8 314.3 520.2 313.8C520.6 313.3 521 312.8 521.4 312.4C521.8 311.9 522.3 311.5 522.8 311.1C523.3 310.8 523.9 310.4 524.4 310.1C525 309.8 525.6 309.6 526.2 309.4C526.8 309.2 527.4 309 528 309C528.6 308.9 529.1 308.8 529.9 308.8C530.6 308.8 531.7 309 532.7 309.2C533.6 309.4 534.5 309.7 535.4 310.1C536.3 310.5 537.2 310.9 538 311.4C538.8 311.8 539.6 312.3 540.4 312.8C541.2 313.3 541.9 313.8 542.5 314.4C543.2 314.9 543.8 315.4 544.4 315.9C544.9 316.4 545.4 316.8 545.8 317.3C546.3 317.8 546.6 318.2 546.9 318.6C547.2 319 547.4 319.4 547.6 319.8C547.7 320.2 547.8 320.6 547.8 321Z" fill="none" stroke="#111" stroke-width="1.2" stroke-linejoin="round"/>
<path d="M543.6 321C543.6 321.3 543.5 321.6 543.4 322C543.3 322.3 543.1 322.6 542.9 322.9C542.7 323.3 542.4 323.7 542 324C541.7 324.4 541.3 324.8 540.9 325.2C540.4 325.6 539.9 326 539.4 326.4C538.9 326.9 538.3 327.3 537.7 327.7C537.1 328.1 536.4 328.5 535.8 328.9C535.1 329.3 534.4 329.6 533.7 329.9C533 330.2 532.2 330.5 531.5 330.7C530.8 330.9 529.9 331 529.3 331C528.6 331 528.3 331 527.8 330.9C527.3 330.8 526.8 330.7 526.3 330.5C525.8 330.3 525.4 330.1 524.9 329.9C524.5 329.7 524 329.4 523.6 329.1C523.2 328.8 522.9 328.4 522.5 328.1C522.1 327.7 521.8 327.3 521.5 326.9C521.2 326.5 521 326 520.7 325.5C520.5 325.1 520.3 324.6 520.2 324.1C520 323.6 519.9 323.1 519.8 322.6C519.7 322 519.7 321.5 519.7 321C519.7 320.5 519.7 320 519.8 319.5C519.9 319 520 318.6 520.2 318.1C520.3 317.6 520.5 317.2 520.7 316.7C521 316.3 521.2 315.9 521.5 315.5C521.8 315.1 522.1 314.7 522.5 314.4C522.9 314 523.2 313.7 523.6 313.4C524 313.1 524.5 312.8 524.9 312.6C525.4 312.4 525.8 312.2 526.3 312.1C526.8 311.9 527.3 311.8 527.8 311.7C528.3 311.6 528.6 311.6 529.3 311.6C529.9 311.6 530.8 311.7 531.5 311.9C532.2 312.1 533 312.3 533.7 312.6C534.4 312.9 535.1 313.2 535.8 313.6C536.4 313.9 537.1 314.3 537.7 314.7C538.3 315.1 538.9 315.5 539.4 315.9C539.9 316.3 540.4 316.7 540.9 317C541.3 317.4 541.7 317.8 542 318.2C542.4 318.5 542.7 318.8 542.9 319.2C543.1 319.5 543.3 319.8 543.4 320.1C543.5 320.4 543.6 320.7 543.6 321Z" fill="none" stroke="#111" stroke-width="1.2" stroke-linejoin="round"/>
<path d="M539.5 321C539.5 321.2 539.5 321.4 539.4 321.6C539.3 321.8 539.1 322 539 322.3C538.8 322.5 538.6 322.7 538.3 323C538 323.2 537.7 323.5 537.4 323.7C537.1 324 536.7 324.3 536.3 324.5C535.9 324.8 535.4 325.1 534.9 325.4C534.5 325.6 534 325.9 533.5 326.1C533 326.4 532.4 326.6 531.9 326.8C531.3 327 530.8 327.2 530.2 327.3C529.6 327.4 528.9 327.5 528.5 327.5C528 327.5 527.7 327.5 527.3 327.4C526.9 327.4 526.6 327.3 526.2 327.2C525.8 327.1 525.5 326.9 525.1 326.8C524.8 326.6 524.4 326.5 524.1 326.3C523.8 326.1 523.5 325.8 523.3 325.6C523 325.4 522.7 325.1 522.5 324.8C522.3 324.5 522.1 324.3 521.9 324C521.7 323.6 521.6 323.3 521.5 323C521.3 322.7 521.3 322.4 521.2 322C521.1 321.7 521.1 321.3 521.1 321C521.1 320.7 521.1 320.4 521.2 320.1C521.3 319.8 521.3 319.4 521.5 319.1C521.6 318.8 521.7 318.6 521.9 318.3C522.1 318 522.3 317.7 522.5 317.5C522.7 317.2 523 317 523.3 316.8C523.5 316.5 523.8 316.3 524.1 316.1C524.4 316 524.8 315.8 525.1 315.7C525.5 315.5 525.8 315.4 526.2 315.3C526.6 315.2 526.9 315.1 527.3 315.1C527.7 315 528 315 528.5 315C528.9 315 529.6 315.1 530.2 315.2C530.8 315.3 531.3 315.5 531.9 315.6C532.4 315.8 533 316 533.5 316.3C534 316.5 534.5 316.7 534.9 317C535.4 317.2 535.9 317.5 536.3 317.7C536.7 318 537.1 318.2 537.4 318.5C537.7 318.7 538 319 538.3 319.2C538.6 319.4 538.8 319.6 539 319.8C539.1 320 539.3 320.2 539.4 320.4C539.5 320.6 539.5 320.8 539.5 321Z" fill="none" stroke="#111" stroke-width="1.2" stroke-linejoin="round"/>
<path d="M537.4 321C537.4 321.1 537.4 321.3 537.3 321.4C537.2 321.6 537.1 321.7 537 321.9C536.8 322 536.6 322.2 536.4 322.4C536.2 322.5 535.9 322.7 535.6 322.9C535.4 323.1 535 323.3 534.7 323.5C534.4 323.6 534 323.8 533.6 324C533.2 324.2 532.8 324.4 532.4 324.6C532 324.7 531.5 324.9 531.1 325C530.6 325.2 530.1 325.3 529.7 325.4C529.2 325.4 528.6 325.5 528.2 325.5C527.8 325.5 527.6 325.5 527.3 325.4C526.9 325.4 526.6 325.4 526.3 325.3C526 325.2 525.7 325.1 525.4 325C525.2 324.9 524.9 324.8 524.6 324.6C524.4 324.5 524.1 324.3 523.9 324.2C523.7 324 523.5 323.8 523.3 323.6C523.1 323.5 522.9 323.3 522.8 323C522.6 322.8 522.5 322.6 522.4 322.4C522.3 322.2 522.2 321.9 522.2 321.7C522.1 321.5 522.1 321.2 522.1 321C522.1 320.8 522.1 320.5 522.2 320.3C522.2 320 522.3 319.8 522.4 319.6C522.5 319.4 522.6 319.1 522.8 318.9C522.9 318.7 523.1 318.5 523.3 318.3C523.5 318.1 523.7 317.9 523.9 317.7C524.1 317.6 524.4 317.4 524.6 317.3C524.9 317.1 525.2 317 525.4 316.9C525.7 316.8 526 316.7 526.3 316.6C526.6 316.6 526.9 316.5 527.3 316.5C527.6 316.4 527.8 316.4 528.2 316.4C528.6 316.4 529.2 316.5 529.7 316.6C530.1 316.6 530.6 316.8 531.1 316.9C531.5 317 532 317.2 532.4 317.4C532.8 317.5 533.2 317.7 533.6 317.9C534 318.1 534.4 318.3 534.7 318.5C535 318.7 535.4 318.9 535.6 319.1C535.9 319.3 536.2 319.4 536.4 319.6C536.6 319.8 536.8 319.9 537 320.1C537.1 320.3 537.2 320.4 537.3 320.6C537.4 320.7 537.4 320.9 537.4 321Z" fill="none" stroke="#111" stroke-width="1.2" stroke-linejoin="round"/>
<path d="M590 319.4C590 317.8 599.2 316.6 605 315.5C610.8 314.4 617.4 313.4 625 312.5C632.6 311.6 644.5 310.5 650.7 310.4C656.9 310.3 659.3 310.6 662 312C664.7 313.4 666.8 316.5 667 319C667.2 321.5 665.8 324.8 663 327C660.2 329.2 653.3 330.9 650 332C646.7 333.1 647.2 334.1 643 333.9C638.8 333.6 631.3 332 625 330.5C618.7 329 610.8 326.9 605 325C599.2 323.1 590 321 590 319.4Z" fill="none" stroke="#111" stroke-width="1.2" stroke-linejoin="round"/>
<path d="M536.4 166C536.4 166.9 536.3 167.8 536 168.7C535.7 169.5 535.3 170.3 534.7 171.1C534.2 171.8 533.5 172.4 532.8 173C532.1 173.5 531.2 173.9 530.4 174.2C529.5 174.5 528.6 174.6 527.7 174.6C526.8 174.6 525.9 174.5 525 174.2C524.2 173.9 523.3 173.5 522.6 173C521.9 172.4 521.2 171.8 520.7 171.1C520.1 170.3 519.7 169.5 519.4 168.7C519.1 167.8 519 166.9 519 166C519 165.1 519.1 164.2 519.4 163.3C519.7 162.5 520.1 161.7 520.7 160.9C521.2 160.2 521.9 159.6 522.6 159C523.3 158.5 524.2 158.1 525 157.8C525.9 157.5 526.8 157.4 527.7 157.4C528.6 157.4 529.5 157.5 530.4 157.8C531.2 158.1 532.1 158.5 532.8 159C533.5 159.6 534.2 160.2 534.7 160.9C535.3 161.7 535.7 162.5 536 163.3C536.3 164.2 536.4 165.1 536.4 166Z" fill="none" stroke="#111" stroke-width="1.3" stroke-linejoin="round"/>
<path d="M509.3 280.2h1.2m79.2 20.6h1.2m62.8 40.8h1.2m-82.3-57.5h1.2m-49.1-18.9h1.2m159.6 47.6h1.2m-144-42h1.2m53.5 25.4h1.2m40.4 43.6h1.2m-78.9 21.8h1.2m-19.5-1.7h1.2m-44.8-48.1h1.2m107.8-15.9h1.2m57.3 0.9h1.2m-67.4-31.1h1.2m-12.7 30.5h1.2m54.4-6.3h1.2m-10.2-6.8h1.2m-3.5 71.7h1.2m-12-16.3h1.2m-86.3-69.2h1.2m39.2 69.6h1.2m-72.4-55.8h1.2m29-13.7h1.2m69.6 76.2h1.2m13.3-7h1.2m57.4-46.6h1.2m-87.2 4.6h1.2m-18.8-13.7h1.2m108.3 28.3h1.2m-117.9-44.3h1.2m-60.7 13.4h1.2m97.9 56.8h1.2m63.2 2.3h1.2m-199.5 46.6h1.2m147.1-93h1.2m-7 4.1h1.2m58.5 57.9h1.2m-38.9-6.5h1.2m52.4-73.6h1.2m-153.8 96.8h1.2m130.5-35.7h1.2m-78-64.8h1.2m41.8 4.8h1.2m0.5 22.5h1.2m-1.7-7.3h1.2m16.1-23.2h1.2m27.1 19h1.2m-84.7 4.6h1.2m-21.8 7.7h1.2m68.4-33.1h1.2m5.2 17.7h1.2m-71.7-9.1h1.2m47.2 74.6h1.2m-9.9-52.4h1.2m-7.7 40.8h1.2m74.7-35.5h1.2m-70.5-8.1h1.2m67-8.4h1.2m-50.7 2.4h1.2m-78.3-7.6h1.2m36.8 16.3h1.2m-32.3 41.8h1.2m106.8-10.6h1.2m-24 15.6h1.2m21.4-19.9h1.2m-38.9-30.9h1.2m-148.3 40.8h1.2m188.8-43.4h1.2m-37.5 53.7h1.2m-100 24.3h1.2m-22.4-5.7h1.2m0.4-97.4h1.2m71.3 74.1h1.2m26.7-42.7h1.2m-80.5 58.5h1.2m82.9-53.6h1.2m-71 54.3h1.2m124.7-10.5h1.2m-99.1-74.4h1.2m42.2 30.7h1.2m7.6-6.6h1.2m37.7 49.5h1.2m-34.7-54.6h1.2m16.3 57.9h1.2m-146.7-78.9h1.2m157.3 38.6h1.2m-48.9 37.8h1.2m36.9-51.3h1.2m-31 46.3h1.2m-83.1-62.1h1.2m128.3 71.8h1.2m-115.4-75.8h1.2m25.9 24.2h1.2m-47.2 54.6h1.2m113.2-60.5h1.2m-174.3 49.3h1.2m204.6-54.5h1.2m-88.6-0.4h1.2m39.3-5h1.2m-24.3 3.9h1.2m-133.2-6.6h1.2m105.6 22.2h1.2m-71.2-29.6h1.2m113.7-5.5h1.2m-144.9 10h1.2m133.6 18.2h1.2m-98.5-34h1.2m81.2 40.5h1.2m-6.3-7.9h1.2m-4.9 54.8h1.2m-54.2-92.3h1.2m-64.3 101.2h1.2m179.2-47.8h1.2m-95-11.7h1.2m-67.3-52.6h1.2m-9.3 136.7h1.2m90.6-102.1h1.2m-60 77.4h1.2m-59-49.9h1.2m76.6-42.2h1.2m22 28.8h1.2m87.1 36.3h1.2m-1.4-12.5h1.2m-134.2 39.1h1.2m97.4-66.5h1.2m-39.4 4.1h1.2m-15.3-27.6h1.2m-100.6 62.7h1.2m86.3 15.4h1.2m27.4-43.7h1.2m-15 0.7h1.2m81 5.8h1.2m-25-27.9h1.2m-58.8 57.5h1.2m75 0h1.2m-165.9-72.2h1.2m156.9 98.6h1.2m-24.6-75.8h1.2m-113.1-19h1.2m32.2 78.7h1.2m44-6.1h1.2m112.5-22.5h1.2m-169.8 35.8h1.2m25.3-20.4h1.2m-76-60.4h1.2m60 9.2h1.2m6.7 74.8h1.2m-86.9-23.2h1.2m120.4-38.6h1.2m6.9 0.6h1.2m49.9 51.7h1.2m-155.5 15.7h1.2m172.5-58.8h1.2m-141.6-37.7h1.2m124.2 69.8h1.2m-53.3 7.2h1.2m41.8-51.5h1.2m-78.7-37.3h1.2m99 82.3h1.2m-123.3 8.9h1.2m2.5 19.2h1.2m50.9-68.4h1.2m47.5-16.2h1.2m-181.1 41.6h1.2m99.9-34.7h1.2m-35.6-22.3h1.2m-2.6 93h1.2m110.1-71.3h1.2m-30.6 0h1.2m-3.3 3.5h1.2m-119.1-34.8h1.2m22.3 107.1h1.2m128.6-12.8h1.2m-37.4-92.3h1.2m-23.4 43.5h1.2m-32.4-7.8h1.2m-34.5-22.6h1.2m34 62.9h1.2m-52.8 28.1h1.2m17.7 12.5h1.2m96.8-88.7h1.2m-1 11.6h1.2m31.8 31.7h1.2m-120.4-53.2h1.2m-56.3 83h1.2m46.4-96.1h1.2m-38.7 100.8h1.2m64.4-78.3h1.2m80.7 52.8h1.2m0.1-38.5h1.2m-7.4 1.3h1.2m-172.3 5.9h1.2m146.4-12.2h1.2m-24.7-21.5h1.2m54.5 68.3h1.2m-177.4-16.2h1.2m122.6-31.1h1.2m-110.4-17.1h1.2m159 90.1h1.2m15.7-52.8h1.2m-46-22.4h1.2m-74.7-7.6h1.2m-73.7 4.5h1.2m19.5 81.4h1.2m143.4-70.8h1.2m-46.6-0.5h1.2m-54.8-16.1h1.2m-48.5-29.5h1.2m184.1 85.3h1.2m-153.3-71.5h1.2m101.5 33.6h1.2m-141.1-45.8h1.2m139 42.5h1.2m27.5 38.7h1.2m-34.8-45.3h1.2m-156 44.8h1.2m0.5-17.2h1.2m19.2 45.4h1.2m25.9-5.7h1.2m131.7-21.5h1.2m-106.3-62.8h1.2m48-21.8h1.2m37.4 5.5h1.2m23.7 79.1h1.2m-158.9 37.4h1.2m122.6-80.2h1.2m-86.7 57.1h1.2m-26 8.6h1.2m117.9-67.1h1.2m-35 8.1h1.2m-100.5-43.9h1.2m165.8 62.3h1.2m-46.4-107.2h1.2m-96.6 148h1.2m-6.3 13.4h1.2m43.3-112.5h1.2m-30.5 113.2h1.2m26.7-98.6h1.2m-70.8-3.1h1.2m87.5 5.7h1.2m16.5 59.7h1.2m-123 16.5h1.2m-12-32.3h1.2m140.1-53.5h1.2m-87.8-1h1.2m-35.3 8.8h1.2m174.2 40.3h1.2m-173.9-42.3h1.2m45.6-3.1h1.2m-43.9 91.4h1.2m-24.6-50.4h1.2m0.6-13.5h1.2m142.3-9.2h1.2m31.7 6h1.2m-35.6 45.8h1.2m-129.5-72.7h1.2m101.8 69.7h1.2m60.1-1.5h1.2m-104.7-69h1.2m117 0.9h1.2m-79.7 66.6h1.2m-3.8-58.4h1.2m81.8 22.4h1.2m-184 65.8h1.2m5.4-98h1.2m170.1 65.8h1.2m-99.1-54.4h1.2m81.8 78h1.2m-150.9 14.5h1.2m104.1-91h1.2m-69.5-16.3h1.2m-45.6 99.8h1.2m50.7-76.8h1.2m111.2 9.7h1.2m-63.9-31.2h1.2m-110.9 97h1.2m188.3-58.8h1.2m-161.6 56.7h1.2m-22.7-114.4h1.2m152.6 97.1h1.2m-96.7 0.8h1.2m93.2-5.9h1.2m-151.4-87.5h1.2m-4.1 20.6h1.2m65.3 24.7h1.2m-54.4-32.8h1.2m153.4 51.2h1.2m-47.8-36.7h1.2m53.6 39.6h1.2m-47.3 31.9h1.2m38.7 1.5h1.2m3.2-61.3h1.2m-4.4 59.3h1.2m-71.9-59.6h1.2m-35.7 6.4h1.2m-69.8-32.4h1.2m54.3-0.4h1.2m127.6 52.9h1.2m-161 45.7h1.2m62.4-60.6h1.2m-51.5-39.4h1.2m-1.1 95.7h1.2m86.9-93.2h1.2m-35.3 32.3h1.2m-70.9-24.3h1.2m39.3 23.3h1.2m-79.5 3.3h1.2m83.3-3.2h1.2m-62 70.4h1.2m-10.5-92.2h1.2m52.9 0.7h1.2m58.9 75.4h1.2m1.6-5.4h1.2m6.4 2.7h1.2m25.8-54.6h1.2m-110.2-18.5h1.2m125.3 61h1.2m-105.9-41.8h1.2m18.3 41.8h1.2m-103.9-30h1.2m158.6-5.1h1.2m-63.1-7.5h1.2m92.8 16.9h1.2m-147 50.9h1.2m1.8 9.4h1.2m19.5-88.2h1.2m101.7 21.4h1.2m-25.3-14.1h1.2m-97.5-19.2h1.2m71.2 16.1h1.2m39.8 13.6h1.2m1.9 1.6h1.2m-168.2 12.5h1.2m20.2 48.7h1.2m151.6-138.6h1.2m-142.9 147.1h1.2m148.2-67.8h1.2m-35.7-4.6h1.2m-26.5-2.6h1.2m31.9-9h1.2m-158 28.8h1.2m36.8-54.8h1.2m114.9 39.4h1.2m-73.9 37.3h1.2m46.2 11.8h1.2m-29.3-3.7h1.2m-91.6 14.9h1.2m89.1-14.5h1.2m-78.6-85.4h1.2m60.9 20.3h1.2m95.9 53.7h1.2m-159.4-72.3h1.2m84.1 35.1h1.2m-42.3 53.4h1.2m-44-83.5h1.2m11.9 100.9h1.2m129.2-71.2h1.2m-167.4 40.3h1.2m199.8-46.5h1.2m-191.3 73h1.2m142.7-16.4h1.2m24.6-6.3h1.2m-155.2 26.5h1.2m149.3-88h1.2m-180.6 48.4h1.2m74.1 23.8h1.2m100.9-14.2h1.2m-163.3-71.3h1.2m137.5 76.2h1.2m-24.9-40.4h1.2m14.7-3.4h1.2m70.6 21.7h1.2m-108.6-28.7h1.2m96.9 22.7h1.2m-71.3-17.6h1.2m-50.8-43.1h1.2m-28.4 111h1.2m119.4-62.6h1.2m-129.7 72.2h1.2m48.5-80.1h1.2m41.5 60.9h1.2m31.4-19h1.2m-70.4 7.9h1.2m-49.4 10h1.2m78.7-62.2h1.2m5.3 9.9h1.2m-12.7-3.2h1.2m-111.7-26h1.2m134.1 6.4h1.2m-132.6-6.8h1.2m-26.6 31.4h1.2m164.6-15.7h1.2m-94.1 0.5h1.2m166.4 48.1h1.2m-167.7 6.2h1.2m35-39.8h1.2m-103.6 59.9h1.2m-4.1-10.1h1.2m-7.6-47.8h1.2m119-1.5h1.2m62.4 37.3h1.2m-80.8-72.6h1.2m-12.7 34.7h1.2m-79.9-52h1.2m9 110.9h1.2m-25.7-19.7h1.2m76.2-48.3h1.2m23.6-2h1.2m-17.6 42.7h1.2m98.2-30.2h1.2m-152.2-46.9h1.2m121.7 82.2h1.2m-162.6 3.8h1.2m120.7-44h1.2m-54.1-18.2h1.2m4.4 71.9h1.2m9.4-17.2h1.2m-21.8 22.8h1.2m55.5-61.5h1.2m-119.5 15.4h1.2m113.8-14.2h1.2m-114.9 36.1h1.2m39.1-68.8h1.2m100.6 32.5h1.2m-130.2-19.6h1.2m92.5 8.1h1.2m41.2 55.8h1.2m-72.5-85.3h1.2m102.4 76.9h1.2m-77.2-41h1.2m58.8-33h1.2m-168.7 81.6h1.2m133-38.8h1.2m-19.6 35.4h1.2m-107-63.6h1.2m49.3 79.8h1.2m61.3-66h1.2m63.3 28.5h1.2m-128.8-41.2h1.2m56.8 10.1h1.2m30.8 14.6h1.2m41.4 25.1h1.2m-152.9-57.3h1.2m145.1 50.6h1.2m-11-38.5h1.2m-53.2 58.1h1.2m-41.6-55h1.2m14.3 54.2h1.2m-20.3-47.8h1.2m7.7-28.3h1.2m80.9 76.6h1.2m-59.7-39.2h1.2m-24-23.8h1.2m-23.6-26.5h1.2m-30.1 114.3h1.2m71.6-63.3h1.2m-26.4-6.9h1.2m-76.5-21.9h1.2m185.6 64.5h1.2m-198.9-30.8h1.2m67.7 65.1h1.2m97.9-75.4h1.2m-12.2 45.6h1.2m-119.9-70.3h1.2m160.2 64.3h1.2m-104.7-33.2h1.2m-59.8-28.7h1.2m-1.1 94.4h1.2m40.4-3.5h1.2m-7.6-79.6h1.2m-72.8 47.3h1.2m95.7-27.3h1.2m60.4-25.3h1.2m-141.3-22.8h1.2m159.7 41.5h1.2m-72.6-23.7h1.2m1.4 66h1.2m51.8-66.9h1.2m-133.3-1.7h1.2m163 36.5h1.2m-188.9-26.4h1.2m70.5 57.3h1.2m2.2-36.7h1.2m62.3-13.3h1.2m-9.9 15.2h1.2m-37.5 33h1.2m21.7-45.1h1.2m-50.9-6.4h1.2m-61.5 77.4h1.2m75.5-63.2h1.2m97.2 43.8h1.2m-69.1-64.8h1.2m46.1 16.2h1.2m-93.3-12.1h1.2m94.2 19.2h1.2m-150.1 61.6h1.2m35.2-9.5h1.2m-92.4-64.1h1.2m103.4 0.2h1.2m79.7 10.1h1.2m19.4 43.1h1.2m-127.5-73.7h1.2m55.3 19.3h1.2m24.1 5.9h1.2m-16 44.1h1.2m-96.5-80.3h1.2m163.7 49.3h1.2m-159.8 59.8h1.2m162.5-34.6h1.2m-206.5 5.9h1.2m138.3-45.9h1.2m-12.9-5.6h1.2m-114.8 22.3h1.2m81-19.9h1.2m26.2 11.2h1.2m-60 73.6h1.2m-38.1-93.6h1.2m151.4-31.4h1.2m-85.7 97.9h1.2m8.2-69.8h1.2m36.8 78h1.2m-49.7-10.1h1.2m36.1-108h1.2m-67.1 122.9h1.2m-7.9-95.1h1.2m87 76.8h1.2m-10.7-50.5h1.2m-21.8 48.3h1.2m-10.7 19.4h1.2m-4.8-17.4h1.2m60.2-48.3h1.2m-126 74.2h1.2m141.8-74.6h1.2m-33.8 9.1h1.2m19-9.7h1.2m-143.4 68.1h1.2m170.4-37h1.2m-3.2 23.7h1.2m-47.5 6.4h1.2m49.2-10.6h1.2m-9.7 0.9h1.2m-119.3-65h1.2m-43.2 86.5h1.2m128.6-64.8h1.2m-126.4-59.1h1.2m86.2 54h1.2m22.7 57.6h1.2m-130.2-63.3h1.2m161.4 12.8h1.2m2.2-5.3h1.2m-105.6-12.6h1.2m-64.2 66.7h1.2m100.4-79.4h1.2m-8.8 21.4h1.2m-47.1-29h1.2m-47.8 97h1.2m-1.1-79.3h1.2m114.4-60.4h1.2m86.5 84.4h1.2m-76.6-6.7h1.2m-5.8 2.5h1.2m6.7-1.5h1.2m44.3 39.9h1.2m-186.7-9.8h1.2m45.5-59.4h1.2m-17.2-2.2h1.2m100.3 30.7h1.2m-27.6-2.6h1.2m84.9 13.4h1.2m-193.1 5h1.2m32.8 62h1.2m42.6-96.4h1.2m77.3 16.5h1.2m-6.4 54.2h1.2m18.3-125.4h1.2m-56.4 59.9h1.2m67.5 20.6h1.2m-44.2-10h1.2m-115.8 83.9h1.2m162.2-29.1h1.2m-156.2 13.9h1.2m80.2-63.7h1.2m44.1 62h1.2m-20.7-22h1.2m-17.6-39.1h1.2m-24.7 44.9h1.2m49.6-68h1.2m54.8 70.8h1.2m-56.1-49.5h1.2m3.4 40.1h1.2m-78.9-50.6h1.2m98.2 48h1.2m5.1-12.3h1.2m-6.6-24.8h1.2m-49.6-11.3h1.2m-98 74h1.2m22.2-90.4h1.2m78.4 67.1h1.2m3-45.5h1.2m-31.6 6.8h1.2m-94.1-38h1.2m104.5 33h1.2m42.2 43h1.2m-67.8-56h1.2m86.9 41.3h1.2m-181.9-50.4h1.2m150.9 21.4h1.2m-60.2 42.8h1.2m-21.5-49.9h1.2m76.4-8.5h1.2m-28.1-0.1h1.2m50.9 48.8h1.2m0.9 23.5h1.2m-178.8-74.9h1.2m82.4 57.9h1.2m-79.3-54.7h1.2m94 22.6h1.2m-44.4-35.8h1.2m78 34.3h1.2m-88.5 52.8h1.2m42.4-12.1h1.2m-10.7-138.4h1.2m81.3 136.6h1.2m-99.8 15.6h1.2m150.7-60.4h1.2m-59.1-7.3h1.2m-70.2 10.3h1.2m4.3-1.5h1.2m96.6 27.2h1.2m-61.1 19.5h1.2m-101.2-74.3h1.2m-13.4-26h1.2m67.5 35.2h1.2m86.4 53.5h1.2m-169.6-62.1h1.2m15.7 95h1.2m-37.8-61.2h1.2m102.5 45.3h1.2m40.4-52.7h1.2m-147.1 10.4h1.2m123-152h1.2m12.7 144.2h1.2m-9.7-10.1h1.2m-43.6-24.7h1.2m-21.6 86.3h1.2m10-12.5h1.2m-2.6 2.4h1.2m19.5-46.7h1.2m59.5 2.1h1.2m-36.1-1.6h1.2m51.5 7.7h1.2m24.1 11.4h1.2m-73.9-20.8h1.2m-110.4 72.3h1.2m170.4-33h1.2m-102.6-40.8h1.2m38.5 58.8h1.2m44.5-53.9h1.2m-94.1-50.8h1.2m109 63.6h1.2m-153-36.5h1.2m50.2 12.1h1.2m13.4-2.8h1.2m-62.7-8.9h1.2m-12.4-4.8h1.2m125.5 31h1.2m-78.6-2h1.2m111.2-31.3h1.2m6.6 47.6h1.2m-193.7 50.8h1.2m182.1-52.7h1.2m-186.7-111h1.2m93.2 94.5h1.2m80.1 46.2h1.2m4.1-20.7h1.2m-19.3-94.7h1.2m-78.5 72.2h1.2m-22.4-13.3h1.2m-44.7-20.7h1.2m162 75.1h1.2m-24.4 0.9h1.2m-143.6-73.2h1.2m168.8 72.4h1.2m16.9-2.2h1.2m-6.5-25.2h1.2m-191-36.6h1.2m72.5 99.8h1.2m61.1-33.4h1.2m-38.6-61.2h1.2m-58.4-2.3h1.2m110.9 60.4h1.2m9.9-1.9h1.2m-122.6-77h1.2m-54.9 22.5h1.2m138.9 7.7h1.2m-32.2-0.7h1.2m-44.6 55.9h1.2m29.5-60.1h1.2m-13.7 54.8h1.2m98.7-23.2h1.2m-56.5-42.8h1.2m-19.5 19.4h1.2m-103.5 75h1.2m151.2-72.7h1.2m-106.2-35.8h1.2m-31 9.9h1.2m151.1 45.7h1.2m-83.1-27.2h1.2m6.1 14.2h1.2m25.3-3.5h1.2m-96.3-35.4h1.2m18.1 9h1.2m-59.4 7h1.2m21.9 96.1h1.2m194-47.4h1.2m-89.6 14.8h1.2m-126.6-68.5h1.2m125.3-2h1.2m-42.2 19.8h1.2m110.8 13.8h1.2m-136.2 67h1.2m-5-103.9h1.2m-26.2 92.6h1.2m124.1-63.7h1.2m-139.8 70.9h1.2m71.1-69.7h1.2m-54.8 61.9h1.2m-3.2 28.8h1.2m51.6-50.2h1.2m-6.1-45.1h1.2m42.8 2.9h1.2m31.6-18.6h1.2m-14.1-2.7h1.2m-140.4-11.9h1.2m-4 96.1h1.2m26-96.1h1.2m-19.3-40.2h1.2m139.3 69.8h1.2m-23.6-26.6h1.2m-22.4 22.2h1.2m41.5-11.4h1.2m-16.5 23.8h1.2m-47-1.7h1.2m-27.5-45.7h1.2m-80.3 58.6h1.2m44.5-46.4h1.2m137.4 64.6h1.2m-79.1-115.5h1.2m-41.4 138.1h1.2m-2.8 0h1.2m84.7-62.1h1.2m23.5 47.3h1.2m16.1-41.8h1.2m-135.5 58.4h1.2m-18-103.7h1.2m39.5 90.1h1.2m24.3-48.2h1.2m9.8 6.6h1.2m-50.5 55.4h1.2m110.3-51.2h1.2m-30.8-5.4h1.2m32.3 7.4h1.2m-62.4-30.8h1.2m-18 8.5h1.2m-69.7-16.1h1.2m39 21.7h1.2m76-9.5h1.2m47.3-2.7h1.2m-183.9-19.6h1.2m121.4 38.4h1.2m28.3-1.1h1.2m-46.7 7.1h1.2m-5-15.5h1.2m-91.2-25h1.2m152.8 68.2h1.2m-6.5-76.6h1.2m-85.2 84.6h1.2m-101.1-22.8h1.2m122 41h1.2m19-69.6h1.2m40.1 21h1.2m8 36h1.2m-112-2.2h1.2m2.7-47.7h1.2m48.7-7.7h1.2m23.3 58.1h1.2m42.1 14.5h1.2m-27.6-58.6h1.2m-177.8 7.8h1.2m195 2.5h1.2m-151.2-36.9h1.2m68.6 30h1.2m-29.7 50.9h1.2m-48.8-90.1h1.2m31.1 81.5h1.2m-9.4-70.7h1.2m72.9 21.2h1.2m-29-21.7h1.2m-19.7 11h1.2m-20.7 67.2h1.2m113.3-39.2h1.2m7.3 12.2h1.2m-182.3 48.6h1.2m91-92.3h1.2m76.9 46.6h1.2m-10-30.3h1.2m-83.8-10.8h1.2m103.4 34.1h1.2m-21.5 34.3h1.2m-109.3-71.4h1.2m58.2-13.2h1.2m-46.7 21.7h1.2m17.2 0.1h1.2m85.2 41.7h1.2m-38.5 21.3h1.2m42.3-49.9h1.2m-191.7 41.8h1.2m140-45.3h1.2m-71.8-45.1h1.2m-27.7-0.6h1.2m12.4 12.5h1.2m-54.3 19.2h1.2m-1.6-13.5h1.2m7.8-38.9h1.2m73.1 21.7h1.2m-91.8 86.9h1.2m27.6 22.7h1.2m15.8-6.9h1.2m5.4 13.7h1.2m-22.1 4.2h1.2m43.5-91.2h1.2m104.4 51.5h1.2m-153.9 25.3h1.2m-32.1-39.1h1.2m204.1-1.1h1.2m-82.3-45.2h1.2m52.9 57.8h1.2m-149.5-84.1h1.2m39.4 105.7h1.2m-13.7-86.5h1.2m133.2 51.9h1.2m-94.2-27.1h1.2m19.7-0.3h1.2m-114.9-17.8h1.2m180.7 64.9h1.2m-144.9 19.8h1.2m143.4-42.1h1.2m-119.4 28.8h1.2m82.7 2.4h1.2m40.8-24.9h1.2m-134.1-51.8h1.2m75.1 7.3h1.2m-109.8 90.5h1.2m136.6-71h1.2m-37.1 42.9h1.2m-49-59.1h1.2m-68.1-7.8h1.2m123.4 76.5h1.2m-4.8-54.9h1.2m-142.4 41.7h1.2m114.1-3h1.2m-19.2-38.8h1.2m-41.3-47.2h1.2m88 25.1h1.2m-48.9-7.5h1.2m18.9 68.6h1.2m30.7-53.6h1.2m-59 11.8h1.2m4-11.3h1.2m-33.4 64.8h1.2m20.8-54.1h1.2m85.8 5h1.2m-103.9-15.9h1.2m-56.1 87.6h1.2m154.2-31.6h1.2m-76.8-48.2h1.2m-24.5-13.3h1.2m-74.1 73.3h1.2m99.8-11.6h1.2m83.8-4.3h1.2m-98.9-36.7h1.2m-3.9-21.2h1.2m-55.8-26.9h1.2m71.4 36h1.2m82.6-25.2h1.2m-115.5-4.8h1.2m-43.1 112.8h1.2m92.7-147.6h1.2m78.1 123.2h1.2m-106.8-11h1.2m-89.1-50.6h1.2m177.5 26.6h1.2m-171.5 77h1.2m65.4-43.2h1.2m-98.3-18.2h1.2m108.1-59.6h1.2m-10.4 20.5h1.2m96.7 20.4h1.2m0.5 23.1h1.2m-186.3 1.1h1.2m55-64.2h1.2m-20.5 1.9h1.2m25.6 9.7h1.2m120.2 36.3h1.2m-103.1 16.9h1.2m-2.7-33.8h1.2m-75.2 55.5h1.2m87.3-60.7h1.2m79.1 40.2h1.2m-118.4-58.6h1.2m-10.8 96.4h1.2m-45.3-99.2h1.2m94.6 20.7h1.2m92.4 41.2h1.2m-13.1 19.7h1.2m-119 9.1h1.2m-13.2-98.4h1.2m80 35.6h1.2m-95.7-29.2h1.2m30.2 88.7h1.2m-58.5-2h1.2m57-14.4h1.2m38.8 10.9h1.2m-18.1-18.5h1.2m-71.6 25.1h1.2m-43.6-85.5h1.2m139.4 26.1h1.2m19.9 52.5h1.2m-122.1-89.9h1.2m32 6.9h1.2m18.6 73.3h1.2m-58.2-71.3h1.2m54.2 15.1h1.2m74.3 73.8h1.2m-120.9-93.8h1.2m38.7 1.4h1.2m8.5-0.9h1.2m127 62.4h1.2m-55.7-39.9h1.2m-155.2 6.1h1.2m165.7 52.8h1.2m31.7-63.4h1.2m-82.4 2.1h1.2m64.6 21.3h1.2m-20.2 31.4h1.2m34.8-16.5h1.2m-132.8 21.7h1.2m115.8-29.2h1.2m-135.2 38h1.2m124.5-2.6h1.2m-59.5-56.2h1.2m-34.4-59.9h1.2m73.3 49.9h1.2m-96.2 75.8h1.2m4.8-15.4h1.2m57.2-53.3h1.2m-151-49.1h1.2m140.1 14.1h1.2m29.8 41.1h1.2m-79.8-11.8h1.2m96.4 66.2h1.2m-95.5-17.9h1.2m99.4-31.8h1.2m-180.6 4.8h1.2m76.2 49.3h1.2m-44.1 3.4h1.2m133.3-62.8h1.2m-174.3 22.2h1.2m2.3-0.6h1.2m7.9-42.8h1.2m179.7 43.8h1.2m-178.6-41.5h1.2m-19 11.1h1.2m133.9 7.8h1.2m-123.7-15.1h1.2m100 10.1h1.2m76.1 36.5h1.2m-13.6-36.4h1.2m39.3 27.9h1.2m-153.5-44.5h1.2m114.7 21.2h1.2m-111.7-28.3h1.2m108.8 71.5h1.2m-180.4-6.8h1.2m16.2-58.3h1.2m17.1-16h1.2m93.9 37.5h1.2m-100.5-27.6h1.2m134.8 13.7h1.2m-69.6 60h1.2m27.8-45.7h1.2m52.8 3.9h1.2m-140.5-39.1h1.2m114.5 31.1h1.2m-132.1-26.8h1.2m-28 50.3h1.2m87.1-21.7h1.2m-27.8 56h1.2m69-52.6h1.2m-64.1 49.3h1.2m7.7-63.8h1.2m-76 15.1h1.2m184.1 16h1.2m-131.8 61.9h1.2m48.6-76.8h1.2m-52.3 52.3h1.2m-45.7-105.9h1.2m161.4 89.5h1.2m-83-38.2h1.2m-59.1-46.7h1.2m130 41.8h1.2m-113.8-29.7h1.2m97.1 34.9h1.2m-3.5 43.4h1.2m48.4-47.8h1.2m-109.1-60.9h1.2m3.2 100.2h1.2m103.8-5.2h1.2m-189.6-56.5h1.2m173.4 46.8h1.2m-73.9-23.3h1.2m-19.2 2.3h1.2m24.9-4.3h1.2m65.3 49.9h1.2m-5-60.8h1.2m5.1 20.3h1.2m-94.4-98.2h1.2m65.1 146.7h1.2m-1.8-59.9h1.2m-30.6-26.4h1.2m-10.5 30.4h1.2m-85.5-26.8h1.2m57.8 18.5h1.2m71.5 9.2h1.2m-50.1-6.6h1.2m-49.5-11.7h1.2m-31.7 87h1.2m65.5-68.5h1.2m73.4 43.2h1.2m-92.4-41.3h1.2m91.8 4h1.2m61.5 55.9h1.2m-199.5-87.1h1.2m38.8 21.5h1.2m105.6-8.9h1.2m-115.9-27h1.2m-9.3-1.1h1.2m95.6 33.8h1.2m-94.6 49.3h1.2m27.3-52.3h1.2m-22-3.7h1.2m35.7 8.5h1.2m-8.4-18h1.2m-89.8 100.8h1.2m152.2-76.1h1.2m-168.8 58.2h1.2m-32.7-92.7h1.2m207.8 45.1h1.2m-168.2-37.1h1.2m37.1 90.7h1.2m-12.3-89.6h1.2m52.4 71.9h1.2m-2.7-76.8h1.2m82.2 69.1h1.2m-87.7-36.3h1.2m9.1-0.8h1.2m-58.5-27.3h1.2m150.3 36h1.2m-86-22.8h1.2m-31-18.4h1.2m-48.7 1.9h1.2m31.6 75.6h1.2m-75.2-86.3h1.2m134.4-53.6h1.2m-89.9 29.3h1.2m-37.3 127.4h1.2m-8.9-67.5h1.2m139.2-4.3h1.2m-45.1-21.4h1.2m11.7 31.1h1.2m-54.7 77.7h1.2m97.7-80.1h1.2m-142.8 61.1h1.2m-4.9 1.1h1.2m102.5-58.8h1.2m-9.1-3.6h1.2m-20.3-11.1h1.2m-78.3 76.7h1.2m27-118.3h1.2m-37.2 23.6h1.2m172.9 20.1h1.2m-63.2 4.5h1.2m-116.3 55.7h1.2m195.6 11.9h1.2m-115.2-61h1.2m71.2-8.1h1.2m7.6-4.8h1.2m37.1 49.7h1.2m-204.2-35.6h1.2m112.4 41.3h1.2m47-45.6h1.2m23.5 45.8h1.2m24 18.7h1.2m-88.5-69.4h1.2m27.2 46.6h1.2m41.9-33.4h1.2m-22.6 31.5h1.2m7-4.9h1.2m-72.2 3.2h1.2m45.3-38h1.2m-47.4 43.2h1.2m16.2-46.2h1.2m47.2 7.8h1.2m-77.7-14.8h1.2m70.8 4.1h1.2m-7.7-20.5h1.2m-111.4-12.1h1.2m42.8 77.3h1.2m-43.3-70.6h1.2m34-2.3h1.2m-46.6 96.8h1.2m-4.3-91.8h1.2m34.9 76.4h1.2m-65.2-76.7h1.2m109.9 31.9h1.2m-101.9-57.5h1.2m-17.3 39.1h1.2m77.6 13.2h1.2m-53.5-26.2h1.2m-65.4 66.6h1.2m37.5-78.4h1.2m60.5 33.4h1.2m31.7-15.4h1.2m80.7 25.4h1.2m-57.5-6.4h1.2m-96.4-51.7h1.2m90.4 55.7h1.2m32.1 39.9h1.2m-34.8-52h1.2m23.2 12.1h1.2m-140.2-19.3h1.2m169.3 36.3h1.2m-31-20.8h1.2m-44.4-3.6h1.2m38.1-23.8h1.2m6.5 27.5h1.2m-151.3 68.4h1.2m39.4-98.3h1.2m-5.7-2.4h1.2m65.3 30.7h1.2m-24.7-15.6h1.2m64 7.6h1.2m0.9 64h1.2m-123.1 18.7h1.2m165.4-49.5h1.2m-187.6-49.5h1.2m53.7 10.3h1.2m84 63.3h1.2m-136.4-71.4h1.2m-18.6 28.7h1.2m131.5 52.6h1.2m-46.3-57.3h1.2m-54.2-32.8h1.2m159.2 66.6h1.2m-144.9-54.2h1.2m-26.6-8.9h1.2m98.5 21.6h1.2m-125.1 3.8h1.2m48.3-15.9h1.2m121.5 61.9h1.2m6.2 0.6h1.2m14 27.1h1.2m-102.4-90.2h1.2m-48.1 98.2h1.2m147.2-27.6h1.2m-13.1-28.8h1.2m-138.9 51.6h1.2m31.9-78.4h1.2m60.4 64.9h1.2m-49.6-58h1.2m-11.6 0.6h1.2m26.7-8.1h1.2m59.5 49.4h1.2m-111.8-60.6h1.2m13.9 10.9h1.2m14-33.8h1.2m40.7 42.2h1.2m-12.1 5.6h1.2m-22.2-22.4h1.2m-44.5-31.7h1.2m110.9 93.6h1.2m-39.4-1.9h1.2m-9.5-91.1h1.2m61.9 62h1.2m-77.1-30.4h1.2m67.6-0.6h1.2m-159.4-7.5h1.2m-10.9-56.1h1.2m170 107.8h1.2m-34.6-33h1.2m-1.3 11.1h1.2m-3.3 46.1h1.2m51.3 12.8h1.2m-179.1 0.1h1.2m39.5-8.9h1.2m-60.6-69.5h1.2m29.4 84.1h1.2m151.7-58.2h1.2m15.7 14h1.2m-104-35.6h1.2m-119.3 25.2h1.2m43.9 64.8h1.2m128.4-96.6h1.2m-119.3 90.4h1.2m81.1-90.9h1.2m-83.7 91h1.2m50-82h1.2m-80.6 68.7h1.2m45.3 0.5h1.2m-36.7 15h1.2m-6.9-11.7h1.2m169.2-15.1h1.2m7.3-28.2h1.2m-11.3 18.2h1.2m-178.7-59.8h1.2m157.2 12.8h1.2m6.7 62.7h1.2m-21.6-50h1.2m-3.7-11h1.2m-90.4-11.3h1.2m-49.6 79.7h1.2m6.9-86.4h1.2m117.7 67.9h1.2m32.4-41.6h1.2m-166.8-22.4h1.2m172.5 61.8h1.2m-174.7-56.1h1.2m22.1-29.9h1.2m-50.8 124.8h1.2m24.7-95.1h1.2m-3 82.3h1.2m74.1-94.9h1.2m-51.5-10h1.2m-35.1 85.6h1.2m78.8-70.4h1.2m115 45.2h1.2m-131-63.6h1.2m14.9 97.5h1.2m-61.4 15.9h1.2m52.8-23.6h1.2m41.7-48.1h1.2m71.3 28.7h1.2m-68.2 11.6h1.2m-121.6-59.5h1.2m74.9 80.4h1.2m-10.5-12.2h1.2m117.7-43h1.2m-137.8-40.3h1.2m-0.1-8.8h1.2m14.3 109.7h1.2m84.4-70.3h1.2m-72.4-37.9h1.2m-69.4 21.1h1.2m65 101.2h1.2m-87.4-43.7h1.2m167.3-62.5h1.2m19.2 52.2h1.2m2.8-17.7h1.2m-89.5-50.1h1.2m32.9 39.3h1.2m-135.3 6.6h1.2m190 11.1h1.2m-95.2 30.7h1.2m-9.9-8h1.2m25.2-49h1.2m-58.6-28.5h1.2m-33.5 108.3h1.2m37.4-6.1h1.2m85.6-73.1h1.2m-67.8 12.6h1.2m90.1 42h1.2m-116.9 30.3h1.2m84.7-111.9h1.2m1.1 79.2h1.2m-27.1-59.6h1.2m61.1 54.7h1.2m-40.7-35.8h1.2m-140.5-23.3h1.2m21.8-6.7h1.2m38.1 76.3h1.2m98.5-51.9h1.2m-0.9 7.8h1.2m-144.8 62.3h1.2m93.2-77.1h1.2m-34 7.3h1.2m-82-4.4h1.2m65.6-7.2h1.2m20.1 14.3h1.2m-62.8 82.7h1.2m93.5-81.8h1.2m26.4 51.9h1.2m-84.4-67h1.2m-72.2 51.5h1.2m189-12.1h1.2m-18.4 20.9h1.2m-90.2-62.1h1.2m-52.3-24h1.2m15.4 16.7h1.2m96.4 20h1.2m-136 64.4h1.2m124.7-56.6h1.2m-53.9 40.6h1.2m46.7-41.6h1.2m-0.8 41.5h1.2m67.8-48.1h1.2m-157.5-33h1.2m46.7 76.1h1.2m98.5-35.4h1.2m-148.6-29.3h1.2m-53.7 50.8h1.2m159.5 21.4h1.2m-85.8-65.7h1.2m2.1 1.9h1.2m114.3 50.9h1.2m-161.7 40.4h1.2m42.8-91.4h1.2m123.7 60.2h1.2m-15.5-43.2h1.2m-65.2-5h1.2m-129.1 20.2h1.2m173.2-20.7h1.2m-43.5 45.8h1.2m-96-71h1.2m123.2 26.4h1.2m-153.8 50.6h1.2m151.7-48h1.2m31.1 23.4h1.2m-34.7-52.3h1.2m-0.2 13.9h1.2m-6.4 2.4h1.2m-53 62.4h1.2m36.7 4h1.2m49.4-10h1.2m1.6-23.3h1.2m-54.9-36.1h1.2m-79.6-5h1.2m79.8 7.4h1.2m-68.5 66.1h1.2m116.7-20.2h1.2m-30.3-38.8h1.2m-105.1 88.5h1.2m-5.6-9.2h1.2m42.3-73.1h1.2m87.3 10.4h1.2m-117.8-38.6h1.2m-74.3 82.5h1.2m71.8-1h1.2m144.6-33h1.2m-53.4 23.1h1.2m5-44.3h1.2m-154.7-17.5h1.2m136.3 24.4h1.2m39.4 8.2h1.2m-54.8-15.1h1.2m52.3 18.5h1.2m-150.9-95.6h1.2m19.1 49.2h1.2m-48.5 95.9h1.2m6-93.7h1.2m34.9 102.1h1.2m-73.7-15.6h1.2m76.2-80.9h1.2m33.9 62.4h1.2m-68.6 25.3h1.2m75.6-72.7h1.2m-44.7 61.9h1.2m49.2-11.8h1.2m-93.2 24.2h1.2m141.8-65h1.2m-41.2-73.5h1.2m30.8 75.8h1.2m-64.4-9.5h1.2m-73.5 75.1h1.2m21.9-119.9h1.2m-43.6 89h1.2m180.3-4h1.2m5.2 19h1.2m-96.3-58.9h1.2m-71.2-24.4h1.2m89 24.4h1.2m-45.8-9.3h1.2m64.3 18.7h1.2m-114.1-45.5h1.2m27.7 101.5h1.2m57.5-61.4h1.2m-24.6-73.7h1.2m14.5 78.7h1.2m66.4-0.6h1.2m33.6 1.5h1.2m-160 64.2h1.2m8.2-0.7h1.2m121.3-15.6h1.2m-107.9-3.9h1.2m-5.7-69.4h1.2m-40.2-5.9h1.2m23.9 93.1h1.2m107.2-21h1.2m-79.7-48.1h1.2m106.4-4.6h1.2m-8.7 44.6h1.2m11 34.9h1.2m-76.3-74.9h1.2m31.3-22.4h1.2m-125.1 93.6h1.2m58.3-29.5h1.2m-29.9 22.4h1.2m128.8-35.4h1.2m-144.9 38.4h1.2m139-53.1h1.2m-116.7-28.2h1.2m-73.8 38.7h1.2m58.9 35.3h1.2m118.8-53.4h1.2m-30.5-0.6h1.2m-118.8-30.9h1.2m66 68.2h1.2m17.4-37.6h1.2m-114.3-19.5h1.2m138.4 11.2h1.2m-87.5 65.2h1.2m2.1 0.2h1.2m55.9-70.3h1.2m-42.7 3.7h1.2m-38.6 84.9h1.2m-5.1-6.3h1.2m6.1-6.2h1.2m63.6-86.8h1.2m51.3 25.2h1.2m-25-8.5h1.2m25.9 48.5h1.2m-135 28.8h1.2m136.3-89.2h1.2m-78.4-14.9h1.2m-21.1 94.1h1.2m-70.5-33h1.2m131.6-29.2h1.2m-104.7 63.5h1.2m202.3-142h1.2m-56.4 80.9h1.2m-89.5-10.4h1.2m-8.9 59.8h1.2m89.7-48.9h1.2m-5.8-2.7h1.2m-112-52.2h1.2m15.2 103.4h1.2m6.8-10.1h1.2m62.6 0.7h1.2m-134.7-63.6h1.2m2.7-4.7h1.2m-1.1 89.2h1.2m165-18.1h1.2m-78.2-49.7h1.2m-71.7-24.8h1.2m54.3 33h1.2m75.2-7h1.2m-156.1-51.8h1.2m172.7 89.5h1.2m-7-39.3h1.2m20.2 35.2h1.2m-152.1-55.8h1.2m12.1-28.6h1.2m-59.1 106h1.2m223.7-38.6h1.2m-87.7-11.1h1.2m-132.2-59.9h1.2m36.9 117.6h1.2m116.8-62.9h1.2m-148-34.2h1.2m20.3 103.8h1.2m141.9-36.5h1.2m-23-40.3h1.2m-64.3 14.4h1.2m67.4-10.9h1.2m22.9 10.8h1.2m-82.9-3.6h1.2m-81 66.7h1.2m105.9-75.2h1.2m57.6 60.4h1.2m-97.8-52.5h1.2m-95.1-7.4h1.2m86.4 5.5h1.2m33.7 5.6h1.2m62 16.1h1.2m-185.2-31.2h1.2m159 55.5h1.2m-76.8 27.8h1.2m-59.2-5.7h1.2m110.6-24.3h1.2m-36.1-54.3h1.2m-18.3 13.5h1.2m-5.3-9.9h1.2m-20.9 77h1.2m-19.1-103.4h1.2m127.3 9.9h1.2m-0.9 33.7h1.2m-72-37.5h1.2m-136.8 36.8h1.2m195.1-23.7h1.2m-30.3-12.1h1.2m-113 92.7h1.2m13.9-89.7h1.2m9-10.1h1.2m-20.4 5.6h1.2m156.9 36.9h1.2m-170.2-55.4h1.2m66.6 20.2h1.2m25.5 16.5h1.2m60.5 50.1h1.2m-105.9 2.1h1.2m31.4-38.4h1.2m-38.5 44.3h1.2m88.5-45h1.2m-28.4-16.3h1.2m-58.7-31.6h1.2m-83.5 133.5h1.2m179.4-49.9h1.2m-7.7-43.4h1.2m13.6 75.8h1.2m-0.9-64.5h1.2m-111.5-15.6h1.2m5.6 49.6h1.2m3.5-35.7h1.2m-75.9 59.9h1.2m0.2 11.9h1.2m88.8-124.4h1.2m-66.9 122.9h1.2m-2.2-103.8h1.2m130.3-12.9h1.2m36.2 84.9h1.2m-163.9 24.9h1.2m37.4-1.2h1.2m14.4-24.8h1.2m23.5-48.5h1.2m38.5 61.5h1.2m-0.9-50.4h1.2m-30.1-22.6h1.2m83.9 32.8h1.2m-30.7 16.6h1.2m-101.9-34.4h1.2m91.7 42.5h1.2m-145.4 25.6h1.2m-31.8-14.6h1.2m154.4-48.8h1.2m-99.3-38.8h1.2m42.3 77.8h1.2m-49.1-93.6h1.2m136.7 51.1h1.2m-87.2 53.6h1.2m-40.1-0.4h1.2m1.6 3h1.2m114.6-47h1.2m-186.6 44h1.2m56.5-91.5h1.2m-26.5 115.1h1.2m50.4-71.4h1.2m-18.7-13.7h1.2m-7.8 64.8h1.2m0.6-2h1.2m-18-76h1.2m100.4 27.6h1.2m-138.1 58.9h1.2m97.8-64.5h1.2m-105-10.7h1.2m25.3 80.8h1.2m84.6-113.6h1.2m-89.3 115.4h1.2m-39.6-65.3h1.2m24.5 64.2h1.2m155-17.2h1.2m-166.5-89.7h1.2m111.5 41.3h1.2m-127.3-7.2h1.2m118.8-6h1.2m16 13h1.2m-80.2 62.4h1.2m89.7-17.4h1.2m-41.9 3.7h1.2m-33.5-1.8h1.2m111.1-43.2h1.2m21.4 9.6h1.2m-33-34h1.2m6.5 56.7h1.2m-21.1-34.3h1.2m-126.6 60.8h1.2m-50.2-148.7h1.2m142.9 125h1.2m44.6 6.9h1.2m-105.3-71.4h1.2m-56.8-10.6h1.2m57.8 30.2h1.2m-9.3-13.4h1.2m5.8 58.2h1.2m-43.3 24h1.2m-8-93.6h1.2m38.8 76.7h1.2m78.4-60.3h1.2m-31.8 16.2h1.2m-64-38.2h1.2m-46.1 9.5h1.2m121.5 21.1h1.2m-75.6-23.6h1.2m67.2 101.8h1.2m71.7-59h1.2m-179.6-44.7h1.2m102.7 23.2h1.2m55.8 8.6h1.2m6 37.7h1.2m-184.6-49.7h1.2m185.6 25.3h1.2m-36.8-19.2h1.2m-42.8-4.8h1.2m56 53.3h1.2m-28.1-54.4h1.2m-109.8-25.4h1.2m24.4 95.7h1.2m130.7-35.2h1.2m-185.9-45h1.2m93.2-4.3h1.2m9.2 21.6h1.2m79.7 17.6h1.2m-17.9-17.5h1.2m5.9 8.7h1.2m-59.3-27.3h1.2m-14 58.3h1.2m-81.7 29.4h1.2m-2.5-3.8h1.2m-11.1 1h1.2m136.9-66.3h1.2m-166 26.4h1.2m28.2 40.4h1.2m-21.3-86.5h1.2m141.7 70.7h1.2m21.9-9.7h1.2m-50.7-52.9h1.2m-48.3 85.5h1.2m-49.1-104.9h1.2m34.5 91.4h1.2m45-74.9h1.2m-58.6-24.7h1.2m32.1 11.9h1.2m-22.5 5.1h1.2m123.2 45.4h1.2m-123.6 38.6h1.2m-9.7-84.5h1.2m69 24.9h1.2m-47.8 84.6h1.2m72.5-41.5h1.2m-10.1-40.2h1.2m-83.9-33.2h1.2m11.3 14.9h1.2m-75.3 82.4h1.2m199.9-81.2h1.2m-101 12.4h1.2m-21.6 1h1.2m102.1 18.8h1.2m-138.1 43h1.2m4.6 2.3h1.2m-59.9-30.4h1.2m134.7-37.4h1.2m56.3 12.6h1.2m-78-12.9h1.2m-55.2 66.3h1.2m39.4-62.6h1.2m-85.7-23.5h1.2m95.7 62.9h1.2m-99.6-72.6h1.2m20.7 101.8h1.2m121.8-94.8h1.2m-83.6 78.9h1.2m55-52.8h1.2m-99-30.1h1.2m24.2 2.2h1.2m8.5 74.4h1.2m-19.6-74.8h1.2m133.3 37.9h1.2m-156.8 55.2h1.2m-28.5-13.1h1.2m126.2-11.5h1.2m-101.4 24.2h1.2m31.4-96.1h1.2m-6.8 88.5h1.2m50-58.8h1.2m-117.9 32.3h1.2m58.5-80.3h1.2m11.3 123h1.2m127-41.9h1.2m-141.5-54.8h1.2m115.5 23.7h1.2m31.6 4h1.2m-58.4 0.1h1.2m-85.6-29.2h1.2m121.6 63.6h1.2m4.9-23.5h1.2m-25.5-26.6h1.2m-156.3 67.2h1.2m206.2-10.2h1.2m-203.6 18.5h1.2m177.2-45.7h1.2m3.5 13.8h1.2m-200.2 7.8h1.2m-5.1 2.3h1.2m81.4-60.4h1.2m107.4 62.2h1.2m-38.5-55.3h1.2m-74.3 1.3h1.2m-70 82.2h1.2m25-5.8h1.2m-20.5-2.2h1.2m177.5-45.2h1.2m-185 58.1h1.2m165.3-28.4h1.2m-90.2-69.8h1.2m32 24.3h1.2m-41.5-9.5h1.2m88.8 45.4h1.2m-45.3 6.4h1.2m-107-71.3h1.2m8.7-28h1.2m-10.1 143.5h1.2m161-83.2h1.2m-75.1-17.2h1.2m-93.2-15.4h1.2m38.1 89.1h1.2m-25.2-116.3h1.2m80.8 95.4h1.2m-84.8-69.9h1.2m141 20.2h1.2m-122.9-29.2h1.2m132.4 74.4h1.2m-107.6 5.6h1.2m-67-68.3h1.2m188.6 50.7h1.2m-161-51.8h1.2m25 76.4h1.2m25.1-73.7h1.2m45 13.4h1.2m-70.5 0.8h1.2m115.8 22.1h1.2m-167.5-38.2h1.2m47.1 76.6h1.2m-22.6-87.3h1.2m136.7 60.4h1.2m-118.9-62.1h1.2m-35 109.4h1.2m-27.2-87.4h1.2m-0.5 0.8h1.2m71.2-20.9h1.2m59 32.7h1.2m-69.9-23.3h1.2m102.9 28.4h1.2m-96.1-10.7h1.2m89.3 62.2h1.2m6.7-9.6h1.2m-93.9-50.4h1.2m-77.3-11.4h1.2m179.1 29h1.2m-23.3-7h1.2m-135.6-45.8h1.2m61.3 27.9h1.2m59.9 68.4h1.2m-73.3-1.8h1.2m53.8-63.6h1.2m-52.6 2.6h1.2m17.3 4.3h1.2m68.7-6.6h1.2m19.6 45.2h1.2m-175.9-73.3h1.2m164.1 72.9h1.2m-46.2-45.9h1.2m-64-10.4h1.2m64.6 22.9h1.2m-129.9 62.7h1.2m-15.6-76.8h1.2m178.6 34.8h1.2m-1.2-11.5h1.2m-44.7-15.8h1.2m26.8 8.6h1.2m-161.8-22.8h1.2m29.9 84.4h1.2m27.5-11.7h1.2m43.2-59.3h1.2m-60.6-15.7h1.2m13.7 77.1h1.2m-57.5 6.1h1.2m61.2-69.6h1.2m-23.4 68.1h1.2m124.2-60.4h1.2m-41.6 4.4h1.2m16.8 41.7h1.2m-170.5-32.9h1.2m195.7 1.5h1.2m-89.5-27.7h1.2m63-50.7h1.2m-83 57.7h1.2m157.5 84.3h1.2m-85.7-96.3h1.2m-84.9-6.5h1.2m53.8 65.5h1.2m-5-53.5h1.2m-74.6-13.3h1.2m37.4 27.9h1.2m21.4 2.9h1.2m60 37.3h1.2m-148.9 21.5h1.2m83.3-71.6h1.2m52.5-2.7h1.2m-25.4-23.9h1.2m31.4 36.1h1.2m-168.2 42.6h1.2m70.7-65.7h1.2m26.5 21.6h1.2m19.1 60.4h1.2m-110.4-76.4h1.2m51.8 67.5h1.2m39.2-63h1.2m-99.4 72.1h1.2m17.2 14.3h1.2m80.4-109.2h1.2m19.5 24.8h1.2m-66.5 74.6h1.2m3.8-99.8h1.2m23.9-21.8h1.2m-47.3 20.1h1.2m137.4 77.9h1.2m-80.5-61.4h1.2m76.1 53.1h1.2m1.7-10.6h1.2m-30-22.9h1.2m-6.2 64.2h1.2m37.9-128.8h1.2m-115.4 116.5h1.2m-52.9-79.3h1.2m160.3 54h1.2m10.3-37.6h1.2m-80.8-11.4h1.2m-100.5-14.2h1.2m-12.8 93.9h1.2m110.1-53.9h1.2m81.2 30.3h1.2m-199.9-37.7h1.2m44.5 81.1h1.2m135.2-65.1h1.2m-124.8 44.3h1.2m72.9-74h1.2m-111.7 86.5h1.2m168.9-51.7h1.2m-17.2 23.3h1.2m-107.9 8.4h1.2m111.9-4.7h1.2m-139.4-81.6h1.2m67.9 40.6h1.2m19.3-17.6h1.2m32.1 16.4h1.2m-82.4-11.2h1.2m63.3-16.9h1.2m23.8 21.3h1.2m-225.5 33.9h1.2m258.9-8.6h1.2m-49.4-16.9h1.2m-139.9 64.6h1.2m69.8-67.2h1.2m78.6 5.7h1.2m-80.4-25.1h1.2m-104.8 64h1.2m181-39.2h1.2m-55.8-30.8h1.2m75.1 51.2h1.2m-45.3-24.1h1.2m-110.3-37.9h1.2m8.9 15.2h1.2m-9.3 83.9h1.2m-17.2 9.2h1.2m139.4-81.1h1.2m-95.3-29.3h1.2m-50.6 6.5h1.2m68.7-0.7h1.2m-48 95.6h1.2m72.3-70.2h1.2m49.5 0.9h1.2m-92.7 7.7h1.2m-70.6 59.1h1.2m4.8 12.5h1.2m62-36.7h1.2m23.5 2.1h1.2m15.8-72.9h1.2m-63.2 89.2h1.2m63.9-67.6h1.2m-66.2 65.3h1.2m109.9 6.5h1.2m-55.5-59.5h1.2m-73 73.3h1.2m-47.2-75.2h1.2m18.5-21.5h1.2m134.6-0.1h1.2m-119.3 97.2h1.2m87.4-30.1h1.2m-110.3-73h1.2m169.8 2.7h1.2m-2 64.6h1.2m-75.4-36.7h1.2m25.3-8.3h1.2m-5.8 53.3h1.2m-74.6-75.4h1.2m48.3 33.5h1.2m3.4-19.8h1.2m35.9 15.6h1.2m-91.4-17.6h1.2m-60.1-3.2h1.2m54.3-0.9h1.2m123.8 54.2h1.2m-38.7-46.9h1.2m-67 2.7h1.2m-16.9 74.5h1.2m-57.2-80.8h1.2m151.4 13.6h1.2m-102.8-22.2h1.2m18.7 63.1h1.2m41.5-67.7h1.2m-40.4 31.7h1.2m-91.6 8.4h1.2m97.3-10.4h1.2m89.2 4.4h1.2m-123.9 50.9h1.2m118.4-62.8h1.2m2 17.9h1.2m-43.6-7.4h1.2m11.3-1.2h1.2m51-23.4h1.2m-55.9 65.8h1.2m-16.6 11.7h1.2m-90.4-135.7h1.2m34.9 71.7h1.2m110.1 0.7h1.2m-0.9 23.6h1.2m-42.2-21.5h1.2m-45.1-32.6h1.2m50.8 35.4h1.2m-173.8 29.6h1.2m169.8-27.5h1.2m50.2 70.2h1.2m-89.8-75h1.2m61.8 28.6h1.2m-166.6 59.3h1.2m159-72.3h1.2m-152.6 57.6h1.2m-22.1-94.8h1.2m-11.8 66.6h1.2m7.7-49.1h1.2m65.4 1.2h1.2m-25.9-17.7h1.2m-10.7-3.6h1.2m-4.5 2.4h1.2m10.5 2.6h1.2m27.8 0.4h1.2m-30.4-3.1h1.2m17.6 82.8h1.2m16.9-50.7h1.2m35.2-13h1.2m-126.7 50.7h1.2m163.1-65.9h1.2m2.9 21.9h1.2m-141.5-42h1.2m63.5 93.8h1.2m23.5-43.6h1.2m34.1-1.7h1.2m-51.1-3.1h1.2m-56.9 62.6h1.2m132.4-19.2h1.2m-10.3-51.8h1.2m-89.5 7.7h1.2m61.3 48.2h1.2m-132.4-70.9h1.2m168.5 8.8h1.2m-7.8 17.5h1.2m-153.7 60.1h1.2m140.8-63.9h1.2m-31.4 2.3h1.2m20.9-7.4h1.2m6.2 57.5h1.2m-63.6-5h1.2m42.3-4.6h1.2m-134.1-65.2h1.2m26 89.3h1.2m145.5-46.8h1.2m20-0.3h1.2m-120.2-30.5h1.2m11.8 7h1.2m-102.1 33.4h1.2m144.8-39.9h1.2m-66.4 73.4h1.2m32.5-99.9h1.2m66.6 73.4h1.2m-106.1-39.5h1.2m123.1 22.1h1.2m-61.5-18.2h1.2m-62.4 39.1h1.2m-83.1-13.9h1.2m181.8 12.4h1.2m-103.1 9h1.2m-32.3 18h1.2m134.7-58.7h1.2m-75.7-4.4h1.2m41.9-43.6h1.2m-41.6 43.4h1.2m53.9 43.7h1.2m-170.7-11h1.2m187.8-40.9h1.2m-40.4-16.3h1.2m-139.8 80.1h1.2m21.3 8.2h1.2m143.7-26h1.2m-69.6-45.5h1.2m29.2 6.2h1.2m-125.7-33.3h1.2m73.6 36.3h1.2m61.9-1.1h1.2m-127.6-31h1.2m32.3-27.2h1.2m48.5 46.9h1.2m51.7 12.8h1.2m35.4 26.3h1.2m-126.7 31.4h1.2m82.2-60.4h1.2m26.6 13.5h1.2m-29.1 26.7h1.2m-144.5-71h1.2m31.5-6.9h1.2m-26.8 8.7h1.2m148.9 28.1h1.2m-125.6-30.2h1.2m42.2-10.4h1.2m-89.9 42.8h1.2m37.8 66h1.2m137.9-67.3h1.2m-174.8-7.9h1.2m74.6 50.8h1.2m10.1-63.2h1.2m67.4 22.8h1.2m-111.3 60.1h1.2m44.4-21.6h1.2m80.5-46.9h1.2m-72.8 7h1.2m-8.6 2.5h1.2m-48.1 58.6h1.2m47.8-15.1h1.2m-70.7 34.4h1.2m-24.3-103h1.2m34.2-7.5h1.2m-15.1 97.3h1.2m26.1-105.5h1.2m147.8 47h1.2m-25.9-1.7h1.2m-40.5-55.7h1.2m-107.8 112.9h1.2m169.6-19.6h1.2m-206.4-36.3h1.2m182-38h1.2m-159.9-17.6h1.2m151.1 95h1.2m-75.1-4.1h1.2m-50.3-67.5h1.2m28.4-4.6h1.2m109.1 38.2h1.2m-55.2-19.6h1.2m-112.3-35.8h1.2m55.4 30.9h1.2m71.9-3.6h1.2m-145.6-13.1h1.2m16-9h1.2m53.4 36.7h1.2m-66.7-20.8h1.2m-12.6 78.8h1.2m100-86h1.2m6.2 32.1h1.2m-24.9-7.4h1.2m65.5 3.7h1.2m-153.6-15.1h1.2m249.7 40.4h1.2m-207.5-46.2h1.2m-11.7-6h1.2m70.2 32.1h1.2m17-64.6h1.2m69.7 74.3h1.2m-13.9-0.3h1.2m-94.8 26.9h1.2m-99.7-4.8h1.2m31.7-62.1h1.2m104.4 24.4h1.2m-80.9 58h1.2m29.1-60.8h1.2m122.6 19.1h1.2m-95.7-10.7h1.2m-119.4 24.3h1.2m156.2-29h1.2m-98.2-18.7h1.2m-15.9 86.4h1.2m24.6-134.9h1.2m39.7 73.2h1.2m-53 49.8h1.2m-57.9-58.1h1.2m2.4-7.2h1.2m177.4 12.6h1.2m-41.8 2.3h1.2m29.2-1.8h1.2m-84.5 0.4h1.2m-53.5-38.8h1.2m68.7 25.2h1.2m28.9 6.2h1.2m-6.7-0.7h1.2m-80.9-35.3h1.2m38.4 14.5h1.2m94.7 50.8h1.2m-176.6-42.2h1.2m14.7-44.6h1.2m179.5 69.5h1.2m-97.1-8.4h1.2m-14.2-10.4h1.2m-83.5 74.2h1.2m15.5-97.9h1.2m109.9 12h1.2m-138 3.6h1.2m91 13.4h1.2m-20.9-9.2h1.2m76.5 77.2h1.2m-89.3-89.3h1.2m-33.7-7.5h1.2m95.2 4.6h1.2m43.8 30.4h1.2m-24.7-56h1.2m-94.4 37.5h1.2m131.3 45.8h1.2m-198.3 8.6h1.2m83.6-57.3h1.2m87.1 62h1.2m-143.4-73.6h1.2m33.7 9.7h1.2m106.3 73.7h1.2m25.2-42h1.2m-198 70.1h1.2m74.9-33.5h1.2m113.8-32.1h1.2m-35.8 30.2h1.2m30.9-49.1h1.2m-88.8 4.5h1.2m81.9 16.5h1.2m-42.3-40.1h1.2m36.5 27.8h1.2m3 29h1.2m-55.2-36.2h1.2m-67.1-36.5h1.2m76.8 42.9h1.2m-85.3 63.5h1.2m124-56.1h1.2m-75.7 30.3h1.2m37.9-47h1.2m-81-3.7h1.2m113.8 29.4h1.2m-103.9-64.7h1.2m48.9 41.9h1.2m9.7 2.3h1.2m9.6-16.5h1.2m-98.7-7h1.2m67.6 6.3h1.2m-81.8-15.4h1.2m-39.3 4.1h1.2m-1.7 4.1h1.2m-17.4 66.7h1.2m98.3-45h1.2m-66.4-48.4h1.2m-32.2 69.3h1.2m191.3 27.2h1.2m-20.5-110.5h1.2m-57.7 67.8h1.2m11.6-4.4h1.2m-4 51.1h1.2m-67-75.4h1.2m-2.7 7.2h1.2m46.5 69.7h1.2m-26.3-52.2h1.2m-25.5-23.7h1.2m54.6 82.4h1.2m-111-54.9h1.2m77.9-25.2h1.2m38 13h1.2m15.9 13.9h1.2m-106.4-28.3h1.2m168.6 40.9h1.2m-112.4-33.4h1.2m-44.2-10.8h1.2m-44.3 76.9h1.2m92.7-53h1.2m-16 42.5h1.2m-94.9 6.4h1.2m209-20.5h1.2m-131-37.5h1.2m-44.8-30.6h1.2m21 108.5h1.2m18.6-92.5h1.2m83.3 73.7h1.2m-81.6-57.1h1.2m-55.2 76.8h1.2m168.6-38.3h1.2m-0.8-12.1h1.2m-142.3-41.3h1.2m98.7 70.2h1.2m20.1-43.4h1.2m15.6 39.3h1.2m-18-45.3h1.2m-11.3 6.3h1.2m-135.8-32.9h1.2m181.5 41.5h1.2m-110.9-21.6h1.2m-78.8-15.1h1.2m127.9 20.1h1.2m-136.5 76.3h1.2m77.9-67h1.2m23.1-7.3h1.2m34.7 56.7h1.2m-78.2-61.6h1.2m85-9h1.2m26 73.9h1.2m-180.6-80.4h1.2m144.6 21.5h1.2m-70.8-65.5h1.2m54.2 126.9h1.2m-59.3-7.7h1.2m-63.7 14h1.2m43.9-9h1.2m-22.6 11.5h1.2m31-20.3h1.2m-88.4-68h1.2m165.8 16.2h1.2m-154.9 17.7h1.2m83.2-8.7h1.2m106.4 26.5h1.2m-59.9-24.5h1.2m18.2 44.8h1.2m17-43.8h1.2m-164.6 61.3h1.2m130.7-21.1h1.2m51.7-46.3h1.2m-35.1 4.2h1.2m24.8 9.5h1.2m-47.1-70.5h1.2m-17 46.2h1.2m20.4 12.2h1.2m1.1-0.5h1.2m34.5-18.9h1.2m-121 80.6h1.2m115.1-80.2h1.2m-87.9 63h1.2m-36.2 17.4h1.2m130.9-55.1h1.2m58.3-28.5h1.2m-219.1 91.4h1.2m25.9-99.6h1.2m-19.7 95h1.2m47.4-69.6h1.2m103.6 25.5h1.2m-6.5 22h1.2m-170.2 29.5h1.2m32.6-11.9h1.2m57.4-59.3h1.2m-29.6 1.5h1.2m136.3-88.1h1.2m-55.4 79.9h1.2m-91 71.6h1.2m44.3-26.5h1.2m26.8-38.2h1.2m-107 71.3h1.2m125.8-82.8h1.2m-65.2 49.3h1.2m20.4 21.8h1.2m38.4 9h1.2m23.9-51.6h1.2m-173.5 48.8h1.2m203.7 16.3h1.2m-124.4-118.7h1.2m-18.9 9.1h1.2m-23.8 1.9h1.2m52.5 10.1h1.2m-94 84.4h1.2m15.2-96.4h1.2m-10.5-11.9h1.2m73.6 5.6h1.2m-75.8 101.6h1.2m136-67.4h1.2m-84.8-21.1h1.2m-18.6-0.7h1.2m5.2 9.9h1.2m31.7-1.3h1.2m-97.6-15.5h1.2m180.2 53.1h1.2m-186.9 29.3h1.2m196.3-19.5h1.2m-81.8-38.4h1.2m-124.2 6.1h1.2m196.4 18.2h1.2m-159-93.7h1.2m7.9 146.5h1.2m62.4-104.7h1.2m4 79.1h1.2m46.8-7.9h1.2m1.1-60.4h1.2m15.6-13.9h1.2m-168.1-2h1.2m91 17.9h1.2m-75.1 92.2h1.2m111.7-85.3h1.2m-142.6-7.5h1.2m37.5-7.5h1.2m133.7 83h1.2m-90.7-105.1h1.2m40.3 20.1h1.2m-77.6-20.7h1.2m-18.9 112.3h1.2m82-61.7h1.2m-48.7 62.3h1.2m111.5-39.9h1.2m-0.8 7.4h1.2m13.3-53.1h1.2m-198.9 72h1.2m174.1-7.3h1.2m-41.3-39.7h1.2m-68.9 44.4h1.2m104.3-50.8h1.2m-94.1 49.5h1.2m66.3-4.7h1.2m-12.7-42.5h1.2m46.9 39h1.2m-64.7-36.7h1.2m60.8 3.2h1.2m-39.1 58.8h1.2m-105.3-89.1h1.2m-32.6-6.7h1.2m159.7 29.2h1.2m-44.7-8.6h1.2m-111.6-13.2h1.2m126.9 13.7h1.2m-134.2 86h1.2m24.1-102.9h1.2m-26.5 88.1h1.2m63.6-78.4h1.2m58.9 22h1.2m-64.8 40.9h1.2m29.9-44.5h1.2m-42-27.3h1.2m1.1-1.4h1.2m-38.5 95.7h1.2m94.7-79.2h1.2m-79.6 71.4h1.2m68.1-59.7h1.2m2.3 48.4h1.2m-133.7-21.9h1.2m85.7-34.3h1.2m119.4 21.8h1.2m-35-12.3h1.2m-137.3 62.5h1.2m108.8-64.3h1.2m60.4 46.1h1.2m-176.5-74.9h1.2m19.7 92.6h1.2m-37.8-76.1h1.2m55.7-5h1.2m-73.4 33.5h1.2m182.6 22.1h1.2m-103.2 6.1h1.2m-68.4 8h1.2m-9.3-43.4h1.2m38.4-38.6h1.2m200.3 16.5h1.2m-37.6 38.2h1.2m-129.5 33.6h1.2m37.9-17h1.2m-29.9-38h1.2m76.7-74.2h1.2m6.9 58.9h1.2m-178.3 36.1h1.2m175.2-40.6h1.2m18.8 62.9h1.2m-5.4-34.6h1.2m-83.6 54.4h1.2m87.2-32.2h1.2m-39.7 19.7h1.2m34.3-6.1h1.2m-199.7-48.7h1.2m115.9 39.1h1.2m-77.7-69.6h1.2m46.3 71.5h1.2m-11.2-51.1h1.2m72.2 53h1.2m-130.7-68.3h1.2m173.1 67.7h1.2m-189.1-23.2h1.2m26.6 50h1.2m-16.4-2.4h1.2m186.6-29.2h1.2m-0.4-4.4h1.2m-201.6-20.6h1.2m173.1 27h1.2m-125.7-74.2h1.2m133.3 45.3h1.2m-95.3 27.3h1.2m1.6-35.5h1.2m117.6 4.4h1.2m-24.5 14.4h1.2m-95.5-39.3h1.2m15.8 20.5h1.2m41.5-12.7h1.2m-201-12.8h1.2m138.2 25.7h1.2m40.4 41.1h1.2m-57.6-46.7h1.2m17.4-16.7h1.2m-84.6 87.2h1.2m188.3-47h1.2m-169.8-51.3h1.2m-18 1.2h1.2m174.4 80.3h1.2m-43.9-52.7h1.2m-29.1 7.9h1.2m-89.9-38.1h1.2m3.1 100.8h1.2m66.1-84.1h1.2m-11.1 18.8h1.2m-25.6 54.5h1.2m94.6-139h1.2m-126.9 158.1h1.2m41.3-38.8h1.2m-59.1-75h1.2m147.5 38.4h1.2m-127.3-44.6h1.2m34.7 89.8h1.2m105.5-21h1.2m2.7 5.1h1.2m-153 32.1h1.2m-11.8 7.1h1.2m159.8-44.5h1.2m-5.6 6.2h1.2m-181.7 27.5h1.2m153.9 5.3h1.2m-9.2-21.3h1.2m-49.8-40.1h1.2m20.4-9.8h1.2m-73.6 72.6h1.2m92.6-77.5h1.2m31.9 39.4h1.2m-70.9-30.5h1.2m-88.4-32.6h1.2m165.9 44.2h1.2m1.6 29.6h1.2m-73.8 9h1.2m-109.8-102.8h1.2m65.8 95.5h1.2m37.2-47.8h1.2m-111.5 67.2h1.2m68.3-74.1h1.2m80.2 11.9h1.2m-165 9.2h1.2m46.6-40.6h1.2m101.3 90.8h1.2m42.9-46.5h1.2m-209.1-34.9h1.2m207.4 70.2h1.2m-195.9-23.9h1.2m81.6-53.8h1.2m-47.6-6.1h1.2m4.5 11.8h1.2m124.7 19.4h1.2m-14 57.8h1.2m-119.2 22.7h1.2m-15.2-3.1h1.2m12.2-109.4h1.2m81.9 81.6h1.2m24.3-42.9h1.2m6.5 44.3h1.2m-2.1-40.5h1.2m-138.7-33.4h1.2m45.3 11.5h1.2m104.7 24h1.2m-49.1 34.6h1.2m-15.9-38.5h1.2m-55.4-29.6h1.2m-27.4 93.2h1.2m37.3-131.7h1.2m7.7 50.7h1.2m120.7 41h1.2m2.4-3.2h1.2m-5 25.3h1.2m-67.2 0.3h1.2m-16-89.4h1.2m-41 104.6h1.2m-50.4 2.3h1.2m-25.9-59.8h1.2m67.9-24.9h1.2m-27.5 89.6h1.2m-1.7-104.6h1.2m-6.6 102.7h1.2m-26.5-12.4h1.2m145-9.3h1.2m-16.3-45.5h1.2m-62.3-26.6h1.2m19.4 27.8h1.2m84.5 8.8h1.2m-35.2-25.4h1.2m-66 53h1.2m56.4-42.8h1.2m54.2 33.9h1.2m-55.8-26h1.2m-123.1-26.7h1.2m167.5 30.2h1.2m-115.6 37.6h1.2m13-6.3h1.2m56.6-49h1.2m-12.2-14.2h1.2m14.8 24.7h1.2m-75.7-11.8h1.2m-18.3 64.5h1.2m91.4-100.7h1.2m-25 48.9h1.2m-60.2-28.1h1.2m-77.4 30.8h1.2m189 17.4h1.2m-122.1-38.5h1.2m-51.2-6.1h1.2m107.6 17.4h1.2m-78.7-22.3h1.2m144.2 25.6h1.2m-69.4-2.9h1.2m3.5-26.5h1.2m-31.1 5.6h1.2m0.4 68.8h1.2m60.1-46.9h1.2m26.4 9.1h1.2m-38.7 40.8h1.2m-140.6-76.1h1.2m-28.2 94.7h1.2m48.3 15.8h1.2m52.9-20.6h1.2m89-51.6h1.2m-143.6-36.2h1.2m165.3 26.1h1.2m-206.2 25.7h1.2m82.1 15.4h1.2m78.2-42.2h1.2m-39.9 45.6h1.2m51.6 7.2h1.2m9.6-30.7h1.2m-21-23.9h1.2m-43.3-65.3h1.2m-99.8 155.1h1.2m-5.7-15h1.2m134.6-26.5h1.2m-154.3-42.9h1.2m94.2-0.5h1.2m-80.5-25.9h1.2m148.2 71.9h1.2m-119.3-77.9h1.2m112.4 76.9h1.2m-37-40.4h1.2m-37.9-6h1.2m90-6h1.2m-116-6.2h1.2m23.6 54h1.2m122.9 42.4h1.2m-136.4-44.5h1.2m19.4-91.4h1.2m87.2 82.9h1.2m-82.3 28h1.2m5.2-17.2h1.2m-70.4 22.8h1.2m97.2-76.7h1.2m29.2 19.5h1.2m-154.1 59.3h1.2m16.3 6.7h1.2m17.3-9.9h1.2m82.6-1.8h1.2m-12.9-67.7h1.2m-48.1-46.8h1.2m56.5 52.7h1.2m-43 43.5h1.2m-26.4 3.2h1.2m62.6-58.6h1.2m-91.1-16.9h1.2m-5.7-3.6h1.2m17.2-20.4h1.2m-97.1 71.1h1.2m218.4 0.4h1.2m-198.5 0.4h1.2m173.5-26h1.2m-108.7-22.1h1.2m4.6 91.6h1.2m61.6-88.4h1.2m-34.6 29.5h1.2m19.6-37.8h1.2m4-0.6h1.2m-16.6 5.3h1.2m83.9 76.1h1.2m-172.4 20.1h1.2m104.3-91.9h1.2m2.6 30.7h1.2m42.3-0.8h1.2m-171.6 3.3h1.2m191.5 19.4h1.2m-49.3-22h1.2m-53.7 0.5h1.2m-6.4 35.3h1.2m102.1-0.8h1.2m-192.1-22.8h1.2m94.4-28.6h1.2m30.6 53.4h1.2m-104-65.8h1.2m15.1-1.5h1.2m45.5 24.9h1.2m73 75.1h1.2m-104-106.5h1.2m83.5 27.5h1.2m-98.4 69.1h1.2m127.2-11.4h1.2m9-11.9h1.2m-98.8-36.2h1.2m31.2 43.2h1.2m-98.6-79.8h1.2m41.9-21.3h1.2m58.8 100.6h1.2m43.1-1.4h1.2m-27.4-63.2h1.2m0.7 11.5h1.2m51 46.4h1.2m-115-52.6h1.2m36.8 6.8h1.2m26.2-2.2h1.2m-108.8-48.8h1.2m73 41.2h1.2m78.6 29.2h1.2m-181 47.6h1.2m114-57.3h1.2m51.9 0.4h1.2m-19.3 43.1h1.2m-13.2-79.1h1.2m-140.3-12.4h1.2m118.1 46.7h1.2m49-3.2h1.2m-66.7-12.1h1.2m22.3 56.7h1.2m-56.9-72h1.2m101.6 74.1h1.2m-45.4-40.3h1.2m-80.8-24.1h1.2m42.3 23.5h1.2m-29.4 44.5h1.2m31.9-70.5h1.2m-53.7-4.2h1.2m89.6 4.6h1.2m-21.4 2.5h1.2m-50.1 0.7h1.2m-50.2 85.3h1.2m43.4-82.7h1.2m77.9 14.2h1.2m-162.1-8.7h1.2m181.8 9.2h1.2m-15-34.9h1.2m18 69.7h1.2m-59.1-32.9h1.2m29.4-3.8h1.2m37.8-0.3h1.2m-121.3-9.1h1.2m-16.8-17.6h1.2m-21.5 3.8h1.2m121.2 27.4h1.2m-50.8-1.9h1.2m24-8.7h1.2m-131.3-25h1.2m125.4 9.6h1.2m-87-1.5h1.2m125.7 64.4h1.2m-103.8 30.3h1.2m-39.1 8h1.2m159.7-83.1h1.2m-77.6 0.1h1.2m-94.5-28.7h1.2m-0.1-9.9h1.2m42.5 91.4h1.2m-54.8 19.5h1.2m71.1-87.3h1.2m-34.4-22.2h1.2m118.3 104.3h1.2m-92-95.4h1.2m-68.4 98.6h1.2m117.1-66.2h1.2m22-9.2h1.2m-56.3-3.7h1.2m84.7 52.8h1.2m-31.6-48.4h1.2m-5.8 12.8h1.2m-29.3 42.2h1.2m-55.2-69.9h1.2m68.2 70.1h1.2m3.5-44h1.2m-56.6 3.1h1.2m-33.1 64.7h1.2m55.5-65.2h1.2m-56.6 55.3h1.2m-40.1-86h1.2m72 6.7h1.2m52.2 8.4h1.2m-78.5 61.7h1.2m-59.1-82.2h1.2m159.2 12.9h1.2m-109.9 79.2h1.2m50-67.3h1.2m61.7 4.7h1.2m-10.3 49.5h1.2m-78.7-45.2h1.2m103.1 57h1.2m-150.8-86.6h1.2m59.6 33.7h1.2m-32.8-18.3h1.2m80.7 12.4h1.2m-48.2-3.7h1.2m54.6 2.9h1.2m-21.5 47.7h1.2m-99.3-95.8h1.2m99.2 51.5h1.2m-103.8-26h1.2m-50.9 40.7h1.2m192.8 18.7h1.2m-195.4-33.1h1.2m112.9-9.7h1.2m57.8 50.1h1.2m-58.9-61.5h1.2m-91.2 89.1h1.2m12.8-99.8h1.2m-20.7-7.7h1.2m150.4 83.8h1.2m-20.5 6.1h1.2m3.7-56.2h1.2m-100-23.7h1.2m20.3 14.6h1.2m17 13.7h1.2m-88.4 59.3h1.2m13.8-88.6h1.2m52.9 5.2h1.2m9.1 14.1h1.2m53.9 51.8h1.2m-85.8 17.5h1.2m97.9-57.4h1.2m-52.2-27.9h1.2m9.8 19.9h1.2m-120.7 30.7h1.2m157.8-49h1.2m-135.4 91h1.2m125.2-75.9h1.2m-15.4-4.8h1.2m13.1 12.8h1.2m-108.1 65.6h1.2m76.1-19.3h1.2m-4.1-52.8h1.2m71.2 17.1h1.2m-103.7-43h1.2m118.7 52.3h1.2m-64.2-20.2h1.2m-79-16.4h1.2m-64.3 56h1.2m117.3-34.1h1.2m-83.9-35.1h1.2m127.2 29.4h1.2m-120.7 78.5h1.2m138-71.5h1.2m-11.2 34.5h1.2m-68.7-1.3h1.2m-46.8 19.6h1.2m20.5-59.9h1.2m23.9 3.3h1.2m-97.8 56.9h1.2m173.6-32.1h1.2m12.2-7.8h1.2m-25.8 32.8h1.2m-0.6-7.8h1.2m-73.7-48.7h1.2m-128.2-118h1.2m34.6 105.6h1.2m110.8 63.8h1.2m10.7-46.1h1.2m-140.4-45.6h1.2m81.1 83.7h1.2m28.1-52.7h1.2m32.6 61.2h1.2m-68.1 26.1h1.2m-65.4-93.9h1.2m96.4 0.9h1.2m-48.1 82.1h1.2m-57.3-73.9h1.2m30.8-29.7h1.2m-34.3 25.3h1.2m48.8 93.3h1.2m117.1-78.3h1.2m-68.2 43.6h1.2m-35.8 9.1h1.2m-64.9-85.6h1.2m72.3 71.3h1.2m-3.4 4h1.2m-85.2-33h1.2m83 34.5h1.2m28.6-49.1h1.2m-112.1 30.2h1.2m16.6-47.1h1.2m125.4 22.9h1.2m-74.5 47.4h1.2m-72.3-1.7h1.2m28.4 24.4h1.2m124.4-21.1h1.2m-22.7-44.5h1.2m-23.8-28.2h1.2m64.2 71.8h1.2m-130.3-80.4h1.2m125 25h1.2m-94.1 51.5h1.2m-61.3 30.1h1.2m38.9-9.9h1.2m-61.2-15.8h1.2m132.4-50.3h1.2m-16.3 49.7h1.2m51.3-1.7h1.2m18.8-7.7h1.2m-28.4 4.4h1.2m-106.6 14.8h1.2m106.5-54.7h1.2m-37.9-4.5h1.2m47.8 7.4h1.2m-176.8 48.5h1.2m204-9.5h1.2m-75.5-41.2h1.2m-48.2 33.4h1.2m2.5-79.9h1.2m-28.9 13.9h1.2m34.3 29.2h1.2m85.8 17.9h1.2m-105.6 28.7h1.2m38.4-7.4h1.2m35.1-36.5h1.2m-6.2 1.3h1.2m-151.7 7.2h1.2m214.5-33.4h1.2m-82.8 24.6h1.2m-123.5-37.4h1.2m8.5 2h1.2m63.1 15.5h1.2m45.6-5.7h1.2m-123.9-8.3h1.2m87-25.8h1.2m56.9 102.1h1.2m-23.4-47.7h1.2m-89.9-29.7h1.2m137.9 49.7h1.2m-37-15.6h1.2m-49.5-12.5h1.2m94.6 18.1h1.2m-81.8-2.7h1.2m81.6-20.2h1.2m-67.5 20.5h1.2m-53.2-11.6h1.2m96.9 6.2h1.2m2.9-1.2h1.2m-130.8 64.5h1.2m-6.1-2.9h1.2m142-27h1.2m-6.4-12.7h1.2m-7.7 22.3h1.2m-111.3 7.4h1.2m83.8-53.2h1.2m13.7 52.5h1.2m-29.5 11.5h1.2m27.3-18h1.2m-60.7-46.1h1.2m60.2 53.7h1.2m-78.6-10.8h1.2m-78 25.6h1.2m130-63.6h1.2m40.1 12.7h1.2m-59.5-39.7h1.2m-50.2 10.2h1.2m42 17.4h1.2m40.1-4.2h1.2m-81.7 3.4h1.2m4.9-35.2h1.2m-4.7 72.3h1.2m-68.1-64.5h1.2m167.1 54.1h1.2m-3.1 14.2h1.2m-200.7-26.1h1.2m191.5 19.1h1.2m-42.1 12.2h1.2m45.9 1.3h1.2m-172.3-82.4h1.2m58.4 27.6h1.2m56.4 9.7h1.2m83.8 12.5h1.2m-76.7 25.8h1.2m-73.4 5.3h1.2m-57 17.9h1.2m129.7-21.7h1.2m14.8-59h1.2m-56.8 11.7h1.2m77.1 20.8h1.2m-22.1 56.6h1.2m-17.9-69.7h1.2m-119.1 70.8h1.2m-35.7-48.4h1.2m-12.1 17.9h1.2m193.6 1.9h1.2m19.7-22.7h1.2m-29-25.5h1.2m-115.8-20.3h1.2m70 23.7h1.2m-138.8-150.6h1.2m134.3 150.8h1.2m-37.6 37.4h1.2m64.9-46.7h1.2m25.7 37.6h1.2m-59.3-24.8h1.2m66.7 18.9h1.2m-111.7-90.2h1.2m-12.8 23.9h1.2m11.7 79.1h1.2m95.2-0.7h1.2m-112-56.3h1.2m112.6 18.4h1.2m25.9 18.6h1.2m-117.7-50.7h1.2m49.7 36.6h1.2m-60.7-6h1.2m83.9-4.3h1.2m-138.2-22.9h1.2m-22.9 104.2h1.2m8.4-98h1.2m146.5-5.2h1.2m-68.9 34.8h1.2m-52.6-40.2h1.2m74.9 100.3h1.2m-158.3-161.2h1.2m85.2 64.7h1.2m-37.1 97.4h1.2m61.6-100.5h1.2m-39.3-17.4h1.2m-45.9 64.1h1.2m164.8-32.2h1.2m-30.7 21.8h1.2m28.4-4.5h1.2m-122 76.8h1.2m49.1-73.1h1.2m-0.6-87.6h1.2m81.5 131.7h1.2m-96.8-6h1.2m46.2-72.8h1.2m3.3 36.1h1.2m21-1.8h1.2m30-1.7h1.2m-3.2 9.1h1.2m-1 2.5h1.2m-63.5-13.6h1.2m-92.1 71.1h1.2m104.4-68.6h1.2m-140.8 27h1.2m179-34.6h1.2m-185.5 26.7h1.2m90.7-15.2h1.2m85-21.6h1.2m-31.8 68.3h1.2m-25.2-46.7h1.2m33.3 39.9h1.2m21.3-41.8h1.2m-5.9 37.2h1.2m-114-69.3h1.2m-5.6 0.8h1.2m3.9 6.4h1.2m104.3 25h1.2m-15.2 2.9h1.2m33.8 11.4h1.2m-133-44.3h1.2m-11.3-0.1h1.2m-18.5 96.6h1.2m-5.4-91.8h1.2m2-6.9h1.2m-16.7 104.5h1.2m68.1-82.2h1.2m33 2.2h1.2m102.6 31.1h1.2m-209 53.7h1.2m-13-75.2h1.2m177.6-6.4h1.2m-178.5-8.8h1.2m109.7 55.4h1.2m-97.7-81.5h1.2m143.9 38.6h1.2m16.8-0.6h1.2m-9.5 3.5h1.2m-28 41.4h1.2m-85.6 20.1h1.2m-27-91.9h1.2m20.5 87.2h1.2m51.4-65.8h1.2m-5.3 10.3h1.2m1.4-0.1h1.2m64.7 40.3h1.2m-178.7-24.4h1.2m189.5-67.5h1.2m1.9 48.2h1.2m-40.4-6.8h1.2m-40.3 49.5h1.2m-40 16.4h1.2m98.4-75.8h1.2m-17.2 71.1h1.2m37.2-51.4h1.2m-15.9 34.2h1.2m-84.2-34.8h1.2m-47.7-31.8h1.2m94.6-22.2h1.2m33.1 50.7h1.2m-162.7-26.4h1.2m14.1 96.1h1.2m98.6-28.2h1.2m73-12.5h1.2m-37.3-29.3h1.2m-82.3-15.2h1.2m103.9 32.3h1.2m-200.4-41.7h1.2m197.4 35.7h1.2m-159-58.9h1.2m25 24.1h1.2m-28.8-9.1h1.2m37.6 17.8h1.2m45.6 54.9h1.2m-46.6 10.4h1.2m-55.1-73h1.2m183.5 39.3h1.2m-113.7-14.2h1.2m-64-33.6h1.2m83.1 22.6h1.2m-114.2 91.6h1.2m172.2-81.9h1.2m-55.2 41.1h1.2m-50.1-53.3h1.2m117.5 26.5h1.2m-21 25.5h1.2m-9.2 9.1h1.2m-33.8-9.7h1.2m-47.1-48.6h1.2m-57.9 84.2h1.2m48.6-82.3h1.2m-19.6 62.1h1.2m107.7-6.1h1.2m-98.1-69.9h1.2m-48.2-13.9h1.2m155.7 86h1.2m-65-56.5h1.2m-105-16h1.2m175.1 22.7h1.2m-172.1-25.2h1.2m15.4-10.6h1.2m157.4 65.4h1.2m-127.7 29.9h1.2m104.9-21.4h1.2m-23.5-39h1.2m-81.2-35.1h1.2m-14.5 94.9h1.2m76.6-61.3h1.2m38-4.9h1.2m-88.8 0.2h1.2m90.8-0.1h1.2m-87.3 54.9h1.2m8-49.5h1.2m-17.4-14.4h1.2m-85.1 17h1.2m185.9 32.3h1.2m-79.7-30.2h1.2m-36.2 63.3h1.2m14.5-88.2h1.2m90.9 51.9h1.2m-146.2-100.6h1.2m-31.5 42.8h1.2m53.9 81h1.2m-67.4-38.4h1.2m40.9 55.6h1.2m147.1-34.8h1.2m-101.3-75.2h1.2m95.7 77.7h1.2m-15.2-49.1h1.2m-111.2 79.1h1.2m42.8-82.8h1.2m77.8 21.7h1.2m-40-6.6h1.2m60.5 24.9h1.2m-173.8 45.1h1.2m77.4-78h1.2m-37.5 69.5h1.2m114.6-34.7h1.2m-51.5-42.1h1.2m-67.5 59.5h1.2m117.5-48.9h1.2m-5.4 19.4h1.2m-8.2 21.7h1.2m-95.8-55.3h1.2m81.5 55.5h1.2m-77.2-37.6h1.2m11.4 1.8h1.2m-21.9 40.9h1.2m21.2-59.2h1.2m-111.7 2.4h1.2m65.7 84.4h1.2m6.6-9.3h1.2m103.4-22.8h1.2m17.9-26.7h1.2m-12.6-2.5h1.2m-96.8-21.4h1.2m-18.5-7.9h1.2m16.4-59.8h1.2m50.7 80.8h1.2m-94.1-35h1.2m108.6-5.4h1.2m-112.1 106.7h1.2m90.9-26.7h1.2m-48.1 13.7h1.2m84.5 1.3h1.2m26.2-96.6h1.2m-24.1 47.5h1.2m10-14.1h1.2m-111.7 52h1.2m9.2-56.7h1.2m-37.5 73.4h1.2m-2.9-245.3h1.2m146.1 222.9h1.2m4.5-3.2h1.2m-57.7-37.6h1.2m49.2 25.8h1.2m-118.1-111h1.2m106.5 132.1h1.2m-115.7-7.3h1.2m103.5-3.8h1.2m-171.7-82.7h1.2m3.7 16h1.2m48.5 80.3h1.2m22.4-47.5h1.2m-62.9-65.5h1.2m173.2 89.5h1.2m-98.2 12.2h1.2m-7.5-73.7h1.2m-45.6 13.7h1.2m-49.9 13.4h1.2m175.2 43.1h1.2m-79.3-71.6h1.2m-24.4 33.3h1.2m-46.5 77h1.2m89.9-101.2h1.2m-125.7 21.1h1.2m99.7-28.7h1.2m45.5 102.7h1.2m-148.2-14.3h1.2m145.9-104.6h1.2m-100.9 120.5h1.2m93.3-87.7h1.2m-115.1-15.8h1.2m-43.4 89.8h1.2m153.3-1.2h1.2m37.7-7.6h1.2m-129.2-86.1h1.2m65.7 45.7h1.2m-0.4-1h1.2m6.8 0h1.2m-9.6-9.8h1.2m20.2 49h1.2m-141.1-53.4h1.2m145.4 13.9h1.2m-36.9 37.5h1.2m-50.4 10.5h1.2m13.8-55.9h1.2m89.5 5.1h1.2m-177.2-2.7h1.2m62.3 57.2h1.2m82.6-13.8h1.2m-109-87.1h1.2m106.6 33.3h1.2m-119-15.5h1.2m173.1 48.2h1.2m-138-45.4h1.2m5.1-1.4h1.2m-46 90.5h1.2m135.2-63.5h1.2m-73.4 3.8h1.2m110.8 34.2h1.2m-131.8 8.8h1.2m133.7-41h1.2m-183.6-32h1.2m109.5 17.9h1.2m3.3 9.1h1.2m-107.2 80.2h1.2m30.6-25.5h1.2m36.9-53.5h1.2m-79-153.8h1.2m-5.9 17.4h1.2m-4 14.8h1.2m8.3 15.8h1.2m-11.7-61.3h1.2m-7.1 24.6h1.2m3.5-1.1h1.2m47.6 26.2h1.2m-38-25.3h1.2m13.9 25.4h1.2m-27.7-46.5h1.2m14.8 11.3h1.2m-9.7 38.6h1.2m22.9-16.5h1.2m-14.4-15.9h1.2m-12.5 19.4h1.2m-4.3-17.2h1.2m20.8 40.5h1.2m-4.6-35.8h1.2m1 15.7h1.2m-26.5 10.9h1.2m20.5-53.1h1.2m-3.6 85h1.2m29.2-61.5h1.2m-24 12.8h1.2m-27-2.3h1.2m-26.9 10.4h1.2m20.9-10.4h1.2m60.3 36.6h1.2m-61-2.7h1.2m16.9-13.2h1.2m4-28.4h1.2m-1.3 2.5h1.2m-7.3 17h1.2m8.1-11.2h1.2m-5.4 3.7h1.2m-9.9-32.2h1.2m21 41.1h1.2m-30.7-12h1.2m6.8-14.5h1.2m-9.4 11.4h1.2m14.1 8.5h1.2m-1.5-21.8h1.2m-0.6 21.4h1.2m-5.9-32h1.2m0.6 5.4h1.2m1.5-6.2h1.2m-21 80.3h1.2m14.9-37.2h1.2m29.5-8.4h1.2m-47.4-11.8h1.2m5.3-7.1h1.2m1.1 17.9h1.2m-6.9-17.8h1.2m17.9 49.8h1.2m-31.6-36.2h1.2m-1 1.5h1.2m31.4 35.8h1.2m-1.5-17.3h1.2m-24-29.9h1.2m53.3 6.5h1.2m-45.4-30.8h1.2m10.9 41.6h1.2m-17.9-30.1h1.2m5 64.1h1.2m8.9-44.9h1.2m-16.7 24.1h1.2m21.1-27.6h1.2m-42.8 19.8h1.2m15.1 18.5h1.2m-1.3-41h1.2m24.8 15h1.2m-30.1-5.9h1.2m60.4 17.3h1.2m-44.5-34.4h1.2m1.3 12.1h1.2m4.4 1.4h1.2m-11.1-19h1.2m-5.2 29.5h1.2m11.3 9.3h1.2m-9.5-51.4h1.2m-0.9 19.1h1.2m-21.3 17.5h1.2m-9.6-15.7h1.2m13.8 22.5h1.2m15.9-18h1.2m-2.2 0.3h1.2m16.7 20.2h1.2m-34.9 10h1.2m-5-25.8h1.2m2.8-37.9h1.2m3.8 28.4h1.2m2.1 19.2h1.2m-12 7.1h1.2m10.3 7.4h1.2m-1-32.9h1.2m-41.4 6.5h1.2m40.2-6.2h1.2m-3.6 22.9h1.2m10.8 0.8h1.2m-1.9-5.7h1.2m-6.3 5.4h1.2m12.7 5.2h1.2m-18.5-3.5h1.2m-17.5-4.9h1.2m14.1-31.9h1.2m-43.9 5h1.2m39.9-21.1h1.2m-15 68.9h1.2m5.9-46.1h1.2m11.7 9.9h1.2m-0.6-10.7h1.2m-16.7 1.1h1.2m3 5.3h1.2m0-14.9h1.2m-20.3 41.6h1.2m24.6 2.9h1.2m4.3-33h1.2m-26.9 28.3h1.2m6.9 3.3h1.2m-0.3-35.3h1.2m14.3 12h1.2m-4.7 10.8h1.2m-15.5 0.2h1.2m15.7-10.9h1.2m-34.8 4h1.2m38.4 5.5h1.2m-52.3-45.8h1.2m45.8 9h1.2m8.1 95.3h1.2m-20.1-44.7h1.2m-10.9-35.9h1.2m3.9 27h1.2m10.6-4.2h1.2m-5.5-14.5h1.2m6.9 19h1.2m-17.7 1.2h1.2m-5-10.7h1.2m43.5 5.1h1.2m-56.5 0.5h1.2m8.4-31.9h1.2m10.6 34.7h1.2m-11.8-4.7h1.2m24-3.9h1.2m1.3 4.3h1.2m-11.8-19.1h1.2m9.7 39.7h1.2m-45-72.1h1.2m35.8 67.7h1.2m-10.1-32.4h1.2m2.2 28.2h1.2m12.7-10.5h1.2m-45-17.1h1.2m33.6-5.2h1.2m2.8 17.7h1.2m-33.2-17.8h1.2m-0.4 14.3h1.2m17.9 13.3h1.2m-2.7-3.2h1.2m6.8 0.2h1.2m-4.8 31.9h1.2m22.5 10h1.2m-38.1-27.8h1.2m5.1-36.9h1.2m-4.3 45.5h1.2m13.6-45.9h1.2m-51.9 30.3h1.2m54.8-10.8h1.2m-19.7-20.9h1.2m5.8 6h1.2m-3.7 43h1.2m16.4 19.1h1.2m-34.5-74h1.2m-0.5 27h1.2m1.3 11.1h1.2m18.2-7.3h1.2m0.5 3.9h1.2m-12.2-27.7h1.2m-21.3 18.2h1.2m33.7-1.7h1.2m-25.9-6.8h1.2m-7.3 8.1h1.2m3.2 7.2h1.2m-2.1 9.5h1.2m22.9-36.3h1.2m-13.2 36.4h1.2m19.9-11.5h1.2m-10.5-2.7h1.2m-13.7 4.9h1.2m13.5-14.7h1.2m-5 11.4h1.2m-20.5-10.9h1.2m35.7 24.5h1.2m-18.7-9.3h1.2m13 18.8h1.2m8.9-3.7h1.2m-42.6-41.6h1.2m-10.6 17h1.2m18.3 16.3h1.2m21.6 8.2h1.2m-35.1-21.5h1.2m8.4 3.7h1.2m15.3-5.7h1.2m-25.7 18.7h1.2m-31.7 9h1.2m35.5-52.1h1.2m6 27.7h1.2m-6.9 5.7h1.2m10.5 7h1.2m-14.3-1.4h1.2m-8.2-24.3h1.2m32.1 36.7h1.2m-26.4-18.5h1.2m39.7-23.2h1.2m-42.8 21.9h1.2m-25.5-23.9h1.2m27 22.2h1.2m-11.1-16h1.2m25.3-1h1.2m-16.9 14.8h1.2m-39.3-28.6h1.2m49 26.4h1.2m-42.3 3.1h1.2m15.3-13.3h1.2m16.7 4h1.2m8.5-2.4h1.2m-5.6 1.7h1.2m-30.9-18.6h1.2m-1.4 11.8h1.2m-1.3 30.9h1.2m4-28.6h1.2m9.6-2.2h1.2m9.1 10.1h1.2m-8.4-9.3h1.2m15.3 48.8h1.2m-29.6-58.9h1.2m12.1 30.7h1.2m-6.9-28.9h1.2m-3.7 6.7h1.2m19.3 17.9h1.2m12.7 2h1.2m-33.9 1.2h1.2m21 8.3h1.2m-35.8-30.2h1.2m6.2 43.8h1.2m24.1-27.2h1.2m-32.4 7.6h1.2m34.8 12.9h1.2m-42.6-18.8h1.2m8.4-16h1.2m3.2-18.9h1.2m-1.7 17h1.2m-5.2-6h1.2m14.2 20.5h1.2m3.8 8.5h1.2m-29-17.3h1.2m17.4-9.5h1.2m-64.7 32.2h1.2m45.7-32.2h1.2m8.7 26.6h1.2m26.9 20.6h1.2m-30.3-23.9h1.2m19 15.6h1.2m-3.7 2h1.2m-20.2-14.3h1.2m-8.5-6h1.2m44.7-17.8h1.2m-27.6-17.7h1.2m-25.1 30.5h1.2m-9.3-6.2h1.2m26.3 16.7h1.2m-9.2-0.8h1.2m8.7-21.9h1.2m-16.1 3.8h1.2m16.6 15.5h1.2m6.8 2h1.2m-19.1-39.7h1.2m-1.7 37.3h1.2m8.8-3.9h1.2m-2.8 8.1h1.2m-8.4-50.4h1.2m-5.3 18.9h1.2m13 13h1.2m-20.6 3.2h1.2m-1.9 31.5h1.2m23.7-40.4h1.2m-27.8 25h1.2m23.9-7.3h1.2m-28.1-11.5h1.2m35.9-13.9h1.2m-4.7-27.1h1.2m-26.1 66.1h1.2m31.1 5.3h1.2m-18.1-23h1.2m-12.9-11.9h1.2m10.2 9.7h1.2m35.2 47.9h1.2m-37.9-33.1h1.2m-8.7 0.5h1.2m3.4-3.3h1.2m12.3 56.7h1.2m-24.6-56.4h1.2m-5-29.2h1.2m28.7 2.9h1.2m-15.1 27.3h1.2m-24.1-6h1.2m11.7-17.3h1.2m5.2 25.1h1.2m-18.9-34.6h1.2m2.2 25.7h1.2m0.4-10.1h1.2m0.7 11.3h1.2m0.9-17.8h1.2m14.5-5.8h1.2m-14.7 5.7h1.2m21.3 24.1h1.2m-31.4-24h1.2m20.9 20.2h1.2m-12.7-18.6h1.2m-2.5 34h1.2m-2.5-8.8h1.2m-5.8-5h1.2m-10.9 0.2h1.2m19.6 6.2h1.2m5.1-24.8h1.2m14.5-9.9h1.2m-40.9 39.7h1.2m19.9 6.3h1.2m13-48.3h1.2m-25.4 31.1h1.2m-14.9-31.2h1.2m18.9 27.3h1.2m-15.1 3.8h1.2m15.5-5.7h1.2m-29.2-8.1h1.2m23 10.7h1.2m6.1-25.6h1.2m-13.1 28.1h1.2m14.3-9.5h1.2m-3.9 0.6h1.2m2.3-19.5h1.2m-16.1 3.3h1.2m12.2 7.3h1.2m-1.1 30.9h1.2m-10.3-34.9h1.2m-11.1-3.7h1.2m11.7 1.5h1.2m-6.5 27h1.2m-23-5.2h1.2m9.2-14.3h1.2m4.2 14.4h1.2m-11.9-15.7h1.2m10.2-7.5h1.2m11.4 26.9h1.2m-13.9-4.3h1.2m4.4-18.6h1.2m-9.1-2.1h1.2m9.8 26.7h1.2m-30.1-5.7h1.2m61.3-3.8h1.2m-63.6 3.2h1.2m45.3 23.7h1.2m-32.2-23.2h1.2m15.2-1.3h1.2m-6.2-28.1h1.2m0.5 13.5h1.2m19.7 28.3h1.2m-11.3-21.3h1.2m-9.2 13.5h1.2m-15.6-30h1.2m-7.7 17.5h1.2m11 23.1h1.2m10-18.4h1.2m-37.2-14.9h1.2m27.1-4.2h1.2m13.8 20.5h1.2m-24.2-24.3h1.2m4-0.7h1.2m-28.2 9.5h1.2m35.1 4.5h1.2m-12.2-7.6h1.2m-4.5 19.8h1.2m24.2-0.7h1.2m-18.3-16.8h1.2m-13 14.5h1.2m-7.3 10.8h1.2m36.9 33.6h1.2m-39.1-46.4h1.2m8.1 6h1.2m-13.3-33h1.2m7.2 30.5h1.2m16.9-6.4h1.2m-21.4 19.6h1.2m17.5 15.3h1.2m-17.7-20.4h1.2m15.1-19.5h1.2m-27.4 0.2h1.2m36.7 22.6h1.2m-17.3 48.4h1.2m-6.7-57.7h1.2m11.7-7.9h1.2m-13.9 10.3h1.2m-2.1-21.5h1.2m-0.5-2.8h1.2m7.4 43.2h1.2m-21.3 3.7h1.2m26.5-35h1.2m-29.2 8.8h1.2m20.4-16.4h1.2m35.5 30h1.2m-55.9-31.2h1.2m20.7 10.1h1.2m-6.8-7.8h1.2m-9.1-2.7h1.2m9.4 11.9h1.2m-32.8 1.8h1.2m32.3-8.3h1.2m-19.6 18.5h1.2m20.1-20.4h1.2m-55.7 29.6h1.2m29.6 11.1h1.2m-0.8-34.8h1.2m-5.9 2.4h1.2m1.5 3.6h1.2m-1.6-23h1.2m1.3 24.1h1.2m29 1.6h1.2m-26.9 2.8h1.2m-3-4h1.2m-9.5-17.3h1.2m9 31.9h1.2m-7.7-28h1.2m31.4 27.1h1.2m-32.5-38.9h1.2m-8.4 6.9h1.2m21.3 2.2h1.2m-1.4 17.4h1.2m22.7-31.8h1.2m-20.2 42.5h1.2m-3-41.8h1.2m11.4 27.1h1.2m-12.6 0.2h1.2m-44.9-46.7h1.2m19.4 35h1.2m-0.3 20.6h1.2m17.8-32.8h1.2m2.1 22.8h1.2m2.8-17.2h1.2m-25.9 20.7h1.2m24.8-5.5h1.2m-2.8 0h1.2m-23.8-8.6h1.2m-10.5-8.5h1.2m32.6 27.9h1.2m-7.4-3.3h1.2m2.7 35.4h1.2m-21.9-47.6h1.2m-5.2-7h1.2m9.6-8.8h1.2m-9 11.1h1.2m3.6 19.9h1.2m13.5-9h1.2m1.4 3.4h1.2m-25.1-0.8h1.2m-3-0.1h1.2m-0.7-16.4h1.2m-1.8-7.4h1.2m11.6 28.5h1.2m4.9 6.5h1.2m0.7-23.6h1.2m-30.2 8.4h1.2m7.3-5.4h1.2m23.8 1.8h1.2m-3.7-3.7h1.2m-24.8 11h1.2m12.1 6.7h1.2m-29.1-8.9h1.2m9.8-21h1.2m5 10.4h1.2m3.3 17.1h1.2m20.9-11.8h1.2m-36.7 6h1.2m14.4 11.5h1.2m-13.5-27.5h1.2m5.9 12.7h1.2m20.2 70.6h1.2m-14.3-39.7h1.2m-24.3-12.3h1.2m41.2-16.9h1.2m-24.9-9.7h1.2m12.1 32.3h1.2m21.2-24.5h1.2m-13.7 17.4h1.2m-8.5-4.4h1.2m0-3.6h1.2m-33.8-79.5h1.2m23.2 90.2h1.2m-12.9 4.6h1.2m-16.4 12.1h1.2m18-0.7h1.2m-11.4-32.3h1.2m30.2-8.3h1.2m-20.7-11.8h1.2m-22.7 27.3h1.2m25.7-19.4h1.2m47.2-8.3h1.2m-64.1 25.1h1.2m30.3-3h1.2m3.9 16.9h1.2m-32.7-11.7h1.2m19.5-9.2h1.2m-16.4 15.6h1.2m22.4-10h1.2m14.5 13h1.2m-40.2-10.7h1.2m20.6-14.8h1.2m-13.3 6.1h1.2m1.9 10.3h1.2m-28.6-54.9h1.2m37.6 43.1h1.2m-26.3-8.7h1.2m-23.1 31.8h1.2m12.9-32.6h1.2m3.3-0.2h1.2m15.2 0.7h1.2m9.2 27.2h1.2m-42.5 13.4h1.2m24.6-37.8h1.2m1.3 20.7h1.2m-33.5-2.5h1.2m8.9-7.2h1.2m28.5-7.8h1.2m-24.1-3h1.2m5.3 18.8h1.2m-11.1-18.5h1.2m12.4 16.1h1.2m-15.8-8.5h1.2m-27.9-6.2h1.2m52.4-15.5h1.2m-29.7 28.2h1.2m-6.2-16.7h1.2m17-8.2h1.2m-6.3 41.5h1.2m33.8-19.6h1.2m-14.7-10.2h1.2m-35.3 2.4h1.2m28.8 3.1h1.2m37.4 27.4h1.2m-27.4-10.3h1.2m-38.8-21.9h1.2m-4.6 11.4h1.2m5.1-4.3h1.2m-2 2h1.2m-6.7-13.5h1.2m10.3 23.1h1.2m5.7 36.9h1.2m-15.6-28h1.2m27.4-22.6h1.2m-12.4 9.4h1.2m30.8 51.2h1.2m-65.3-46.7h1.2m46.2 10.1h1.2m-36.9-14.1h1.2m30.8 4.7h1.2m-5.3-20.2h1.2m-4.2 45.5h1.2m-1.1-48.2h1.2m-5.3-5.1h1.2m-13.3 21.2h1.2m2.1-26h1.2m-28.4 18.8h1.2m44.3-8.2h1.2m-43.1 17.8h1.2m42.5-21.2h1.2m0.6 14.4h1.2m-17.6-22.4h1.2m-0.6 9.7h1.2m9 39.2h1.2m5.6-37.7h1.2m-63.6 2.7h1.2m32.8-9.9h1.2m9.7 26.3h1.2m-12.2 9.4h1.2m32.8-20.3h1.2m-18.7 4.7h1.2m4.3 18.2h1.2m-39-28.1h1.2m33.6 1.3h1.2m-21.5 6.9h1.2m7.1 8h1.2m1.8-2.2h1.2m5.9 8.9h1.2m4.7-23.2h1.2m13.5-14.3h1.2m-35.6 9.4h1.2m17.4 36.5h1.2m-23.9-28h1.2m55.6 27h1.2m-59.3-6.8h1.2m4.6-28.6h1.2m10.6 25.2h1.2m-13.4-5.3h1.2m0.5-36.2h1.2m-7.4 17.3h1.2m7.9-12.9h1.2m4 14.2h1.2m-14.1 21h1.2m31.5 3.7h1.2m-20.2-10.2h1.2m31.4 1.6h1.2m-55.4-9.1h1.2m1.1 4.4h1.2m22.3-7.4h1.2m-22.6-23.4h1.2m5.4 13.8h1.2m-13.2 24.9h1.2m17.8 1.2h1.2m-17.2-15.6h1.2m2-16h1.2m3.6 28h1.2m8.4 10.4h1.2m25.4-5.8h1.2m-31.1-4.1h1.2m-14.4-18.4h1.2m-1.8 0.3h1.2m-10.1 13.6h1.2m32.1-6.3h1.2m-4.5 17.9h1.2m-12.7 3.1h1.2m30.9-30.7h1.2m0.3 18.8h1.2m-22.3-1.9h1.2m-27.8 9.3h1.2m37.2-41.7h1.2m-18.2 19.1h1.2m-8.4-13.1h1.2m-3.7 34.7h1.2m14.3 10.5h1.2m-8.1-9.4h1.2m-13.2 1h1.2m11.8-7.9h1.2m-0.5-22h1.2m2.2 28.5h1.2m11-24h1.2m-5.8 34.4h1.2m-18.4-4h1.2m-10.2 18.6h1.2m13.9-26.9h1.2m9.2-6.5h1.2m4.2-19.9h1.2m-22.6 32.6h1.2m-18.9-22.8h1.2m-3.7-11h1.2m13.4 7.1h1.2m-2 19.6h1.2m26-0.5h1.2m-4.8-20h1.2m-0.1 57.3h1.2m6.7-51h1.2m-13.7-3h1.2m-2.5 4.8h1.2m-0.9 8.8h1.2m0.3-16.5h1.2m-11.9 33.5h1.2m12.6-24.5h1.2m-28.1-3.7h1.2m-1.7-2.9h1.2m23.3 21.9h1.2m4.4 11.7h1.2m-23.8-45.4h1.2m5 5h1.2m-5.1-10.6h1.2m-13.7 33.6h1.2m21-33.4h1.2m3.1 26.2h1.2m-23.8-9.3h1.2m20 12.3h1.2m-23.7-16.4h1.2m1.1 3.2h1.2m52.6 10.9h1.2m-35.3-8.8h1.2m-20.4-5.7h1.2m-6.2-11.6h1.2m-3.5-2.7h1.2m31.8 99.4h1.2m-10.3-78h1.2m-33.2 9h1.2m45.1 52.4h1.2m-26-48.5h1.2m-14.2-10.6h1.2m5.4 2.3h1.2m-1.8 18.4h1.2m2.4-4.5h1.2m9.3-22.4h1.2m-32.2-26.5h1.2m24.4 19.9h1.2m9.8 4h1.2m-2.3 1.5h1.2m-9.6 24.2h1.2m4.5 4h1.2m-17.2-14.6h1.2m-1.2 0.7h1.2m17.5-10.9h1.2m-1.8 24.4h1.2m-8.7-33.3h1.2m-14-3.9h1.2m28.6 30.6h1.2m3.1-12.6h1.2m-41.7-3.6h1.2m43.4 8.9h1.2m-72.1-28h1.2m37.6 31.8h1.2m2.6 4.9h1.2m-12.4-26.8h1.2m32.8-11.1h1.2m-32.7 63.8h1.2m4.5-28.1h1.2m-7.3-18.2h1.2m25.4-7.7h1.2m-1.9 48.8h1.2m-11.6-3.9h1.2m2.7-23.1h1.2m6.6-16.6h1.2m-13.4-5.1h1.2m-0.9 29.1h1.2m-20.5-12.2h1.2m13.1-23.6h1.2m-5.2 33.2h1.2m31.3 9.1h1.2m-32.9-34.3h1.2m-48.2 29.3h1.2m46.5-34.1h1.2m-2.3 29.4h1.2m12.1 4h1.2m-39-9.3h1.2m49.9 7.3h1.2m-25-22.9h1.2m2.4-3.2h1.2m10.9 14.7h1.2m-30.6 10.9h1.2m28.5-15.6h1.2m-1 4.1h1.2m13.3 7.3h1.2m-41.5 2h1.2m30.8 39.7h1.2m-31.1-45.4h1.2m28.6-26.5h1.2m-46.2 45.1h1.2m10.3-29.4h1.2m-5.1 10.9h1.2m14.5-14.4h1.2m0.8-8.5h1.2m-6.6 2.7h1.2m-5.1 8.8h1.2m-5.3 10.8h1.2m-1.8-4.1h1.2m10.1-11.7h1.2m-13.6 14.1h1.2m30.6-19.6h1.2m-24.3 24.5h1.2m-7.6 0.6h1.2m-1.1-1h1.2m-2.6-20.8h1.2m-5.4 43.6h1.2m6-58.8h1.2m-0.9 22.9h1.2m-4.3-5.9h1.2m24.9 44.7h1.2m-11-12.3h1.2m-19.4-18.6h1.2m34.7 14.1h1.2m-33.9-14.3h1.2m-4.2-16.1h1.2m27.5 5.2h1.2m21.8 25.5h1.2m-50.6-32.9h1.2m7.4 7.7h1.2m10.7-5.2h1.2m1-15.6h1.2m-25.7 49.7h1.2m0.7-27.6h1.2m12.1-3.5h1.2m-8.9 20.7h1.2m1.3-2.7h1.2m16.8-19.8h1.2m-25.5 13.9h1.2m-0.2-5.7h1.2m38.3 8h1.2m-21.3-6h1.2m-7.9-12.3h1.2m-2.2 30.8h1.2m6.6-18.8h1.2m11.4 20.1h1.2m-34.2-11.6h1.2m-2.5-6.3h1.2m24.5-22.8h1.2m-25.5 48h1.2m36.6-2h1.2m-22.1-13.4h1.2m19.8-3.5h1.2m-45.3-19h1.2m45 60.9h1.2m-38.2-64.1h1.2m-18.2 11.7h1.2m33.7-13.9h1.2m-1.6 23.1h1.2m-25.6 2h1.2m19-18.5h1.2m2.3 16.9h1.2m5.6 0.7h1.2m-11.2 40.1h1.2m-3.2-59.4h1.2m10.1 9.9h1.2m-28.3 4.3h1.2m-5.4 31.6h1.2m5.1-33h1.2m1.9-11.9h1.2m20.8 31.9h1.2m-4.7-37.9h1.2m8.3 20.5h1.2m-10.3-23.4h1.2m-5.1 30.1h1.2m0.1-10.4h1.2m3.2-15.2h1.2m-26.1 37.5h1.2m7-35h1.2m-14.4 7.5h1.2m25.2-67.2h1.2m-14.9 92h1.2m19.9-31.1h1.2m-7.9 16.1h1.2m-0.9-13.6h1.2m103.2 62.7h1.2m-29.5-32.6h1.2m-19.6-40.9h1.2m69.8 16.7h1.2m9.8-19h1.2m-30.3 7.2h1.2m8.3 21.8h1.2m-52.4-6.4h1.2m41.2 72.8h1.2m-42.9-69.9h1.2m35.2 38.4h1.2m-19.3-34.1h1.2m67.1 29.3h1.2m-49.9 28.7h1.2m-36.1-43.6h1.2m4.8 50.7h1.2m31-78.6h1.2m31.6 65.3h1.2m-57.4-6.7h1.2m61.2 2.4h1.2m-74.3-32h1.2m73.3 24.4h1.2m-21.9 10h1.2m21.1-61.5h1.2m0.9 26.4h1.2m-88.2 38h1.2m58.4-81h1.2m-52-0.2h1.2m39.9 37.8h1.2m-40.6 30.7h1.2m21.4-57.4h1.2m-8.7 28.6h1.2m-37.3 26.3h1.2m60.6-29.2h1.2m4.3-25.9h1.2m21.1 60.3h1.2m-19.5-65h1.2m-58.6 59.8h1.2m46 16.5h1.2m-17.7-11.8h1.2m-21.6-16.1h1.2m-20.7 14.2h1.2m-6.2-59.7h1.2m79.2 30.8h1.2m-54.5-7.1h1.2m-4.7 59.5h1.2m53.5-33.3h1.2m-9.3 34.3h1.2m-52.3-81.8h1.2m54.3 81.2h1.2m-7.5-45.5h1.2m-22.9 31.1h1.2m7 13.3h1.2m39.2-44.1h1.2m-37.6-44.2h1.2m42.8 39.1h1.2m-42.9-34.2h1.2m-13-2.4h1.2m-29.4 6.2h1.2m27.4 25.1h1.2m34.3 31.9h1.2m-93 21.7h1.2m22.6-44.9h1.2m81.1 47.3h1.2m-58.8-47.6h1.2m45.3 45.3h1.2m-56.8-42.4h1.2m39.9 25.7h1.2m-5.1-3.3h1.2m-55.5-3.9h1.2m-14.6-14.8h1.2m15.9-6.8h1.2m26.9 33.8h1.2m36-52.5h1.2m-70.4 11h1.2" stroke="#000" stroke-width="1.2" fill="none"/>
<path d="M321.5 630.2C322.7 630.5 324.5 630.3 325.4 632.5C326.3 634.7 326.6 637.8 327 643.5C327.4 649.2 327.5 659.2 327.8 667C328.1 674.8 329.1 683.7 328.6 690.5C328.1 697.3 326.3 702.7 324.7 707.7C323.1 712.7 319.7 716.6 319.2 720.3C318.7 724 321.6 725.8 321.5 729.7C321.4 733.6 319.4 740.1 318.4 743.8C317.4 747.4 315.8 747.2 315.3 751.6C314.8 756 314 766.2 315.3 770.4C316.6 774.6 321.9 773.1 323.1 776.7C324.3 780.4 322.3 785 322.3 792.3C322.3 799.6 323.2 814.2 323.1 820.5C323 826.8 324.1 825.8 321.5 830C318.9 834.2 312.1 841.4 307.4 845.6C302.7 849.8 297.7 853.4 293.3 855C288.9 856.6 284.5 856 280.8 855C277.1 854 274.5 853.1 271.4 848.7C268.3 844.3 264.4 832.9 262 828.4C259.6 823.9 259.4 824.6 257.3 822C255.2 819.4 253.4 815 249.5 812.7C245.6 810.4 237.6 809.3 233.8 808C230 806.7 228 806.7 226.8 804.9C225.6 803.1 225.9 798.5 226.8 797C227.7 795.5 229.5 795.9 232.2 796.2C234.9 796.5 240.6 799.5 243.2 798.6C245.8 797.7 247.5 794.2 247.9 790.8C248.3 787.4 246.6 781.6 245.5 778.2C244.4 774.8 241.7 772.2 241.6 770.4C241.5 768.6 241.9 767.9 244.8 767.3C247.7 766.6 254.9 766.5 258.9 766.5C262.9 766.5 267.1 769.5 269 767.3C270.9 765.1 271 757.7 270.6 753.2C270.2 748.8 267.4 744.5 266.7 740.6C266 736.7 265.9 733.1 266.7 729.7C267.5 726.3 271 722.9 271.4 720.3C271.8 717.7 270.6 716.1 269 714C267.4 711.9 263.4 710.8 262 707.7C260.6 704.6 260.9 698.9 260.4 695.2C259.9 691.6 259.7 689.7 258.9 685.8C258.1 681.9 255.7 675.6 255.7 671.7C255.7 667.8 255.8 664.8 258.9 662.3C262 659.8 269.6 658.4 274.5 656.8C279.4 655.2 284.3 653.9 288.6 652.9C292.9 651.9 296.5 652.9 300.4 650.5C304.3 648.1 309.1 642 312.1 638.8C315.1 635.5 316.8 632.4 318.4 631C320 629.6 320.3 630 321.5 630.2Z" fill="none" stroke="#111" stroke-width="1.1" stroke-linejoin="round"/>
<path d="M315.3 644.3C316.5 644.8 316.3 647.5 317.6 651.3C318.9 655.1 322.2 660.5 323.1 667C324 673.5 323.9 683.7 323.1 690.5C322.3 697.3 319.7 703.3 318.4 707.7C317.1 712.1 315.8 713.4 315.3 717.1C314.8 720.8 315.8 725 315.3 729.7C314.8 734.4 312.9 740.9 312.1 745.3C311.3 749.7 310.6 752.1 310.6 756.3C310.6 760.5 310.8 766.5 312.1 770.4C313.4 774.3 317.2 776.1 318.4 779.8C319.6 783.4 319.1 785 319.2 792.3C319.3 799.6 319.8 816.4 319.2 823.7C318.6 831 317.5 832.3 315.3 836.2C313.1 840.1 309.6 844.3 305.9 847.2C302.2 850.1 297.5 852.4 293.3 853.4C289.1 854.4 284.5 854.7 280.8 853.4C277.1 852.1 274 848.7 271.4 845.6C268.8 842.5 266.7 838.2 265.1 834.6C263.5 831 263.8 826.8 262 823.7C260.2 820.6 255.8 818.9 254.2 815.8C252.6 812.7 252.3 808.5 252.6 804.9C252.8 801.2 254.1 797 255.7 793.9C257.3 790.8 259.4 788.7 262 786.1C264.6 783.5 269.3 781.3 271.4 778.2C273.5 775.1 273.7 771.2 274.5 767.3C275.3 763.4 276 759.4 276.1 754.7C276.2 750 275 743.3 275.3 739.1C275.6 734.9 275.7 731.3 277.7 729.7C279.7 728.1 284.8 730.8 287.1 729.7C289.5 728.7 291.8 725.5 291.8 723.4C291.8 721.3 289.5 719.2 287.1 717.1C284.8 715 280.3 713 277.7 710.9C275.1 708.8 273.8 706.7 271.4 704.6C269 702.5 265.2 700.9 263.6 698.3C262 695.7 262 693.3 262 688.9C262 684.5 263.1 675.6 263.6 671.7C264.1 667.8 263.3 667 265.1 665.4C266.9 663.8 270.6 663.5 274.5 662.3C278.4 661.1 283.9 659.7 288.6 658.4C293.3 657.1 299 656.2 302.7 654.5C306.4 652.8 308.5 649.9 310.6 648.2C312.7 646.5 314.1 643.8 315.3 644.3Z" fill="none" stroke="#111" stroke-width="1.1" stroke-linejoin="round"/>
<path d="M274.5 671.7C277.2 669.9 281.3 668.6 285.5 667C289.7 665.4 295.4 663.2 299.6 662.3C303.8 661.4 308 661 310.6 661.5C313.2 662 314.3 661.9 315.3 665.4C316.3 668.9 316.8 677.7 316.8 682.7C316.8 687.7 316.6 691.8 315.3 695.2C314 698.6 310.6 700.1 309 703C307.4 705.9 307.4 710.2 305.9 712.4C304.4 714.6 302.6 716.1 300 716C297.4 715.9 293.2 714 290 712C286.8 710 284 706.5 281 704C278 701.5 274.2 699.7 272 697C269.8 694.3 268.5 691.2 268 688C267.5 684.8 267.9 680.7 269 678C270.1 675.3 271.8 673.5 274.5 671.7Z" fill="none" stroke="#111" stroke-width="1.1" stroke-linejoin="round"/>
<path d="M309.7 678C309.7 679.2 309.5 680.4 309.2 681.5C308.9 682.6 308.4 683.7 307.9 684.5C307.3 685.3 306.6 686.1 305.9 686.5C305.1 686.9 304.3 687.2 303.5 687.2C302.7 687.2 301.9 686.9 301.1 686.5C300.4 686.1 299.7 685.3 299.1 684.5C298.6 683.7 298.1 682.6 297.8 681.5C297.5 680.4 297.3 679.2 297.3 678C297.3 676.8 297.5 675.6 297.8 674.5C298.1 673.4 298.6 672.3 299.1 671.5C299.7 670.7 300.4 669.9 301.1 669.5C301.9 669.1 302.7 668.8 303.5 668.8C304.3 668.8 305.1 669.1 305.9 669.5C306.6 669.9 307.3 670.7 307.9 671.5C308.4 672.3 308.9 673.4 309.2 674.5C309.5 675.6 309.7 676.8 309.7 678Z" fill="none" stroke="#111" stroke-width="1.1" stroke-linejoin="round"/>
<path d="M296 706.2C296 706.6 295.8 707.1 295.5 707.5C295.1 707.9 294.6 708.2 294 708.5C293.4 708.7 292.7 708.8 292 708.8C291.3 708.8 290.6 708.7 290 708.5C289.4 708.2 288.9 707.9 288.5 707.5C288.2 707.1 288 706.6 288 706.2C288 705.8 288.2 705.3 288.5 704.9C288.9 704.5 289.4 704.2 290 703.9C290.6 703.7 291.3 703.6 292 703.6C292.7 703.6 293.4 703.7 294 703.9C294.6 704.2 295.1 704.5 295.5 704.9C295.8 705.3 296 705.8 296 706.2Z" fill="none" stroke="#111" stroke-width="1.1" stroke-linejoin="round"/>
<path d="M317.6 697.5C317.6 698.1 317.5 698.8 317.3 699.3C317.1 699.7 316.8 700.2 316.5 700.4C316.2 700.5 315.8 700.5 315.5 700.4C315.2 700.2 314.9 699.7 314.7 699.3C314.5 698.8 314.4 698.1 314.4 697.5C314.4 696.9 314.5 696.2 314.7 695.7C314.9 695.3 315.2 694.8 315.5 694.6C315.8 694.5 316.2 694.5 316.5 694.6C316.8 694.8 317.1 695.3 317.3 695.7C317.5 696.2 317.6 696.9 317.6 697.5Z" fill="none" stroke="#111" stroke-width="1" stroke-linejoin="round"/>
<path d="M311.3 738.2C311.3 739.7 311.1 741.2 310.7 742.6C310.3 744 309.7 745.3 309 746.3C308.2 747.4 307.3 748.3 306.4 748.8C305.4 749.4 304.3 749.7 303.3 749.7C302.3 749.7 301.2 749.4 300.2 748.8C299.3 748.3 298.4 747.4 297.6 746.3C296.9 745.3 296.3 744 295.9 742.6C295.5 741.2 295.3 739.7 295.3 738.2C295.3 736.7 295.5 735.2 295.9 733.8C296.3 732.4 296.9 731.1 297.6 730.1C298.4 729 299.3 728.1 300.2 727.6C301.2 727 302.3 726.7 303.3 726.7C304.3 726.7 305.4 727 306.4 727.6C307.3 728.1 308.2 729 309 730.1C309.7 731.1 310.3 732.4 310.7 733.8C311.1 735.2 311.3 736.7 311.3 738.2Z" fill="none" stroke="#111" stroke-width="1.1" stroke-linejoin="round"/>
<path d="M306.6 739.8C306.6 740.5 306.4 741.3 306.2 741.8C305.9 742.3 305.4 742.8 305 743C304.6 743.2 304 743.2 303.6 743C303.2 742.8 302.7 742.3 302.4 741.8C302.2 741.3 302 740.5 302 739.8C302 739.1 302.2 738.3 302.4 737.8C302.7 737.3 303.2 736.8 303.6 736.6C304 736.4 304.6 736.4 305 736.6C305.4 736.8 305.9 737.3 306.2 737.8C306.4 738.3 306.6 739.1 306.6 739.8Z" fill="none" stroke="#111" stroke-width="1" stroke-linejoin="round"/>
<path d="M268.3 790C269.1 784.2 269.7 779.3 271 775C272.3 770.7 273.7 766.5 276 764C278.3 761.5 281.7 760.7 285 760C288.3 759.3 293 759.5 296 760C299 760.5 300.8 761 303 763C305.2 765 307.2 767.5 309 772C310.8 776.5 312.4 782.8 313.5 790C314.6 797.2 315.4 808 315.5 815C315.6 822 315.4 827 314 832C312.6 837 310.5 841.8 307 845C303.5 848.2 297.3 850.1 293 851C288.7 851.9 284.5 851.7 281 850.5C277.5 849.3 274.3 847.4 272 844C269.7 840.6 267.9 835.7 267 830C266.1 824.3 266.3 816.7 266.5 810C266.7 803.3 267.6 795.8 268.3 790Z" fill="none" stroke="#111" stroke-width="1.1" stroke-linejoin="round"/>
<path d="M271.5 795C272.2 790.5 272.6 784.8 274 781C275.4 777.2 277.3 773.8 280 772C282.7 770.2 286.8 770 290 770C293.2 770 296.5 770.3 299 772C301.5 773.7 303.2 775.8 305 780C306.8 784.2 308.5 790.7 309.5 797C310.5 803.3 311.1 811.8 311 818C310.9 824.2 310.5 829.5 309 834C307.5 838.5 305 842.4 302 845C299 847.6 294.7 849.1 291 849.5C287.3 849.9 283 849.2 280 847.5C277 845.8 274.7 842.9 273 839C271.3 835.1 270.6 829.2 270 824C269.4 818.8 269.2 812.8 269.5 808C269.8 803.2 270.8 799.5 271.5 795Z" fill="none" stroke="#111" stroke-width="1.1" stroke-linejoin="round"/>
<path d="M308.1 819.9C308.1 822.3 308 824.7 307.8 826.5C307.7 828.4 307.4 829.5 307 830.8C306.7 832.1 306.2 833.3 305.7 834.3C305.2 835.4 304.6 836.3 303.9 837.1C303.2 838 302.4 838.7 301.5 839.3C300.7 840 299.7 840.5 298.6 840.9C297.5 841.4 296.6 841.7 295 841.9C293.5 842.1 291.3 842.2 289.5 842.2C287.7 842.2 285.5 842.1 284 841.9C282.4 841.7 281.5 841.4 280.4 840.9C279.3 840.5 278.3 840 277.5 839.3C276.6 838.7 275.8 838 275.1 837.1C274.4 836.3 273.8 835.4 273.3 834.3C272.8 833.3 272.3 832.1 272 830.8C271.6 829.5 271.3 828.4 271.2 826.5C271 824.7 270.9 822.3 270.9 819.9C270.9 817.4 271 814 271.2 811.7C271.3 809.5 271.6 808.1 272 806.5C272.3 804.9 272.8 803.5 273.3 802.2C273.8 800.9 274.4 799.8 275.1 798.8C275.8 797.8 276.6 796.9 277.5 796.1C278.3 795.3 279.3 794.7 280.4 794.2C281.5 793.6 282.4 793.2 284 793C285.5 792.7 287.7 792.6 289.5 792.6C291.3 792.6 293.5 792.7 295 793C296.6 793.2 297.5 793.6 298.6 794.2C299.7 794.7 300.7 795.3 301.5 796.1C302.4 796.9 303.2 797.8 303.9 798.8C304.6 799.8 305.2 800.9 305.7 802.2C306.2 803.5 306.7 804.9 307 806.5C307.4 808.1 307.7 809.5 307.8 811.7C308 814 308.1 817.4 308.1 819.9Z" fill="none" stroke="#111" stroke-width="1.2" stroke-linejoin="round"/>
<path d="M304.5 821.6C304.5 823.3 304.4 825 304.3 826.3C304.1 827.7 303.9 828.6 303.6 829.6C303.3 830.5 303 831.4 302.5 832.2C302.1 833 301.6 833.7 301 834.4C300.5 835 299.8 835.6 299.1 836.1C298.4 836.6 297.6 837 296.7 837.3C295.9 837.6 295.1 837.9 293.9 838.1C292.7 838.2 291.1 838.3 289.7 838.3C288.2 838.3 286.6 838.2 285.4 838.1C284.2 837.9 283.4 837.6 282.6 837.3C281.7 837 280.9 836.6 280.2 836.1C279.5 835.6 278.8 835 278.3 834.4C277.7 833.7 277.2 833 276.8 832.2C276.3 831.4 276 830.5 275.7 829.6C275.4 828.6 275.2 827.7 275 826.3C274.9 825 274.8 823.3 274.8 821.6C274.8 819.8 274.9 817.4 275 815.7C275.2 814.1 275.4 813 275.7 811.8C276 810.6 276.3 809.5 276.8 808.5C277.2 807.6 277.7 806.7 278.3 805.9C278.8 805.1 279.5 804.4 280.2 803.8C280.9 803.2 281.7 802.7 282.6 802.3C283.4 801.9 284.2 801.6 285.4 801.4C286.6 801.2 288.2 801.1 289.6 801.1C291.1 801.1 292.7 801.2 293.9 801.4C295.1 801.6 295.9 801.9 296.7 802.3C297.6 802.7 298.4 803.2 299.1 803.8C299.8 804.4 300.5 805.1 301 805.9C301.6 806.7 302.1 807.6 302.5 808.5C303 809.5 303.3 810.6 303.6 811.8C303.9 813 304.1 814.1 304.3 815.7C304.4 817.4 304.5 819.8 304.5 821.6Z" fill="none" stroke="#111" stroke-width="1.2" stroke-linejoin="round"/>
<path d="M300.6 821.6C300.6 822.8 300.5 823.9 300.4 824.9C300.3 825.9 300.1 826.6 299.9 827.4C299.7 828.1 299.4 828.8 299.1 829.5C298.7 830.1 298.3 830.7 297.9 831.2C297.5 831.7 297 832.2 296.4 832.6C295.9 833 295.3 833.3 294.7 833.6C294 833.9 293.4 834.1 292.6 834.2C291.8 834.3 290.7 834.4 289.8 834.4C288.9 834.4 287.8 834.3 287 834.2C286.2 834.1 285.6 833.9 284.9 833.6C284.3 833.3 283.7 833 283.2 832.6C282.6 832.2 282.1 831.7 281.7 831.2C281.3 830.7 280.9 830.1 280.5 829.5C280.2 828.8 279.9 828.1 279.7 827.4C279.5 826.6 279.3 825.9 279.2 824.9C279.1 823.9 279 822.8 279 821.6C279 820.4 279.1 818.8 279.2 817.6C279.3 816.4 279.5 815.5 279.7 814.6C279.9 813.7 280.2 812.8 280.5 812C280.9 811.3 281.3 810.6 281.7 809.9C282.1 809.3 282.6 808.7 283.2 808.2C283.7 807.7 284.3 807.3 284.9 807C285.6 806.7 286.2 806.4 287 806.3C287.8 806.1 288.9 806 289.8 806C290.7 806 291.8 806.1 292.6 806.3C293.4 806.4 294 806.7 294.7 807C295.3 807.3 295.9 807.7 296.4 808.2C297 808.7 297.5 809.3 297.9 809.9C298.3 810.6 298.7 811.3 299.1 812C299.4 812.8 299.7 813.7 299.9 814.6C300.1 815.5 300.3 816.4 300.4 817.6C300.5 818.8 300.6 820.4 300.6 821.6Z" fill="none" stroke="#111" stroke-width="1.2" stroke-linejoin="round"/>
<path d="M296.6 822C296.6 822.7 296.6 823.3 296.5 823.9C296.4 824.5 296.3 825 296.1 825.5C296 826 295.8 826.5 295.6 827C295.4 827.4 295.1 827.8 294.8 828.2C294.5 828.6 294.2 828.9 293.8 829.2C293.5 829.5 293.1 829.7 292.7 829.9C292.3 830.1 291.9 830.3 291.5 830.4C291 830.4 290.5 830.5 290 830.5C289.4 830.5 288.9 830.4 288.4 830.4C288 830.3 287.6 830.1 287.2 829.9C286.8 829.7 286.4 829.5 286.1 829.2C285.7 828.9 285.4 828.6 285.1 828.2C284.8 827.8 284.5 827.4 284.3 827C284.1 826.5 283.9 826 283.8 825.5C283.6 825 283.5 824.5 283.4 823.9C283.3 823.3 283.3 822.7 283.3 822C283.3 821.2 283.3 820.3 283.4 819.6C283.5 818.9 283.6 818.2 283.8 817.6C283.9 817 284.1 816.4 284.3 815.8C284.5 815.3 284.8 814.8 285.1 814.3C285.4 813.9 285.7 813.5 286.1 813.1C286.4 812.8 286.8 812.5 287.2 812.2C287.6 812 288 811.8 288.4 811.7C288.9 811.6 289.4 811.5 289.9 811.5C290.5 811.5 291 811.6 291.5 811.7C291.9 811.8 292.3 812 292.7 812.2C293.1 812.5 293.5 812.8 293.8 813.1C294.2 813.5 294.5 813.9 294.8 814.3C295.1 814.8 295.4 815.3 295.6 815.8C295.8 816.4 296 817 296.1 817.6C296.3 818.2 296.4 818.9 296.5 819.6C296.6 820.3 296.6 821.2 296.6 822Z" fill="none" stroke="#111" stroke-width="1.2" stroke-linejoin="round"/>
<path d="M270.2 815C270.1 808.5 270.4 802.8 272 798C273.6 793.2 276.1 789.2 280 786C283.9 782.8 291.5 778.9 295.7 778.9C299.9 778.9 302.4 782.5 305 786C307.6 789.5 309.8 794.3 311 800C312.2 805.7 312.2 814 312 820C311.8 826 312 831.6 310 836C308 840.4 303.3 844.4 300 846.5C296.7 848.6 293.3 848.5 290 848.5C286.7 848.5 282.9 848.4 280 846.5C277.1 844.6 274.1 842.2 272.5 837C270.9 831.8 270.3 821.5 270.2 815Z" fill="none" stroke="#111" stroke-width="1.2" stroke-linejoin="round"/>
<path d="M685.9 627C690.3 625 702.3 626.1 706.2 627C710.1 627.9 708.7 628.5 709.4 632.5C710.1 636.5 709.6 646.8 710.2 651.3C710.9 655.8 713 655.8 713.3 659.2C713.5 662.6 712.8 667.3 711.7 671.7C710.7 676.1 708.2 680.8 707 685.8C705.8 690.8 705.4 695.8 704.7 701.5C704.1 707.2 704.2 714 703.1 720.3C702 726.5 699.5 732.7 698.4 739C697.3 745.3 696.8 752.7 696.8 757.9C696.8 763.1 697.3 765.2 698.4 770.4C699.5 775.6 702 780.3 703.1 789.2C704.2 798.1 705.2 815.4 704.7 823.7C704.2 832.1 702.6 834.9 700 839.3C697.4 843.7 693.5 847.2 689 850.3C684.5 853.4 677.7 857 673.3 858.1C668.9 859.2 666.3 858.4 662.4 856.6C658.5 854.8 653.5 850.9 649.8 847.2C646.1 843.5 643.5 838.3 640.4 834.6C637.3 830.9 633.5 829.1 631 825.2C628.5 821.3 626.3 815.5 625.5 811.1C624.7 806.7 628.2 800.2 626.3 798.6C624.3 797 617.2 800.9 613.8 801.7C610.4 802.5 608 805.4 606 803.3C604 801.2 602.5 793.4 602 789.2C601.5 785 601.1 780.8 602.8 778.2C604.5 775.6 609.9 772.7 612.2 773.5C614.6 774.3 614.5 780.3 616.9 782.9C619.2 785.5 621.6 787.6 626.3 789.2C631 790.8 641.8 795.2 645.1 792.3C648.4 789.4 645.1 777.2 645.9 772C646.7 766.8 649.3 766 649.8 761C650.3 756 649 750 649 742.2C649 734.4 649.4 722.6 649.8 714C650.2 705.4 650.6 697.3 651.4 690.5C652.2 683.7 652.7 676.7 654.5 673.3C656.3 669.9 661 673.8 662.4 670.1C663.8 666.4 662.1 655.2 663.1 651.3C664.1 647.4 665.9 648.7 668.6 646.6C671.4 644.5 676.7 642.1 679.6 638.8C682.5 635.5 681.5 629 685.9 627Z" fill="none" stroke="#111" stroke-width="1.1" stroke-linejoin="round"/>
<path d="M695.3 637.2C697.6 638.2 701 640.4 703.1 643.5C705.2 646.6 706.6 652.6 707.8 656C709 659.4 710.2 660.8 710.2 663.9C710.2 667 708.7 670.9 707.8 674.8C706.9 678.7 705.5 682.7 704.7 687.4C703.9 692.1 703.9 697.5 703.1 703C702.3 708.5 701.3 714.3 700 720.3C698.7 726.3 696.3 733 695.3 739C694.2 745 693.7 751.1 693.7 756.3C693.7 761.5 694.2 765.4 695.3 770.4C696.3 775.4 699 779.8 700 786.1C701 792.4 701.5 801.2 701.5 808C701.5 814.8 701.3 821.3 700 826.8C698.7 832.3 696.6 837.2 693.7 840.9C690.8 844.5 686.6 846.9 682.7 848.7C678.8 850.5 674.4 851.9 670.2 851.9C666 851.9 661.6 850.8 657.7 848.7C653.8 846.6 649.8 842.9 646.7 839.3C643.6 835.6 640.5 832 638.9 826.8C637.3 821.6 637.3 812.4 637.3 808C637.3 803.6 637.3 802 638.9 800.2C640.5 798.4 645 799.6 646.7 797C648.4 794.4 648 788.9 649 784.5C650 780.1 650.5 774.6 653 770.4C655.5 766.2 661.5 762.3 663.9 759.4C666.2 756.5 667.4 755.6 667.1 753.2C666.9 750.9 664.2 747.1 662.4 745.3C660.6 743.5 657.4 744.8 656.1 742.2C654.8 739.6 654.4 735.5 654.5 729.7C654.6 724 656.1 715 656.9 707.7C657.7 700.4 658.3 690.5 659.2 685.8C660.1 681.1 660.3 680.8 662.4 679.5C664.5 678.2 670.2 680.6 671.8 678C673.4 675.4 671.3 668.4 671.8 663.9C672.3 659.4 673.1 654.7 674.9 651.3C676.7 647.9 680.4 645.9 682.7 643.5C685.1 641.1 686.9 638.2 689 637.2C691.1 636.2 692.9 636.2 695.3 637.2Z" fill="none" stroke="#111" stroke-width="1.1" stroke-linejoin="round"/>
<path d="M676 650C678.7 645.2 685.5 646 690 646C694.5 646 700.2 647.3 703 650C705.8 652.7 706.8 655.3 707 662C707.2 668.7 705.3 681.7 704 690C702.7 698.3 701 704.3 699 712C697 719.7 694.5 731.7 692 736C689.5 740.3 686.7 739.3 684 738C681.3 736.7 677.8 733.5 676 728C674.2 722.5 673.3 713.8 673 705C672.7 696.2 673.5 684.2 674 675C674.5 665.8 673.3 654.8 676 650Z" fill="none" stroke="#111" stroke-width="1.1" stroke-linejoin="round"/>
<path d="M679 654C681.2 649.9 687.2 650.5 691 650.5C694.8 650.5 699.3 651.6 701.5 654C703.7 656.4 704.1 659 704 665C703.9 671 702.3 682.2 701 690C699.7 697.8 697.8 705.5 696 712C694.2 718.5 692 726 690 729C688 732 685.8 731.5 684 730C682.2 728.5 680.2 725 679 720C677.8 715 677.2 707.5 677 700C676.8 692.5 677.2 682.7 677.5 675C677.8 667.3 676.8 658.1 679 654Z" fill="none" stroke="#111" stroke-width="1.1" stroke-linejoin="round"/>
<path d="M681.5 656C683.4 652.4 688.9 653.3 692 653.5C695.1 653.7 698.4 654.6 700 657C701.6 659.4 701.7 663.3 701.5 668C701.3 672.7 700.2 680.3 699 685C697.8 689.7 695.8 694 694 696C692.2 698 689.8 698 688 697C686.2 696 684.2 693.7 683 690C681.8 686.3 680.8 680.7 680.5 675C680.2 669.3 679.6 659.6 681.5 656Z" fill="none" stroke="#111" stroke-width="1.1" stroke-linejoin="round"/>
<path d="M684 658.5C685.4 655.9 689.9 656.2 692 656.5C694.1 656.8 695.8 656.9 696.5 660C697.2 663.1 696.6 670 696 675C695.4 680 694.3 686.9 693 690C691.7 693.1 689.4 693.8 688 693.5C686.6 693.2 685.2 691.6 684.5 688C683.8 684.4 683.6 676.9 683.5 672C683.4 667.1 682.6 661.1 684 658.5Z" fill="none" stroke="#111" stroke-width="1.1" stroke-linejoin="round"/>
<path d="M690.6 717C690.6 718.6 690.4 720.3 690.1 721.8C689.8 723.3 689.3 724.7 688.7 725.8C688.1 727 687.3 727.9 686.5 728.5C685.7 729.2 684.8 729.5 684 729.5C683.2 729.5 682.3 729.2 681.5 728.5C680.7 727.9 679.9 727 679.3 725.8C678.7 724.7 678.2 723.3 677.9 721.8C677.6 720.3 677.4 718.6 677.4 717C677.4 715.4 677.6 713.7 677.9 712.2C678.2 710.7 678.7 709.3 679.3 708.2C679.9 707 680.7 706.1 681.5 705.5C682.3 704.8 683.2 704.5 684 704.5C684.8 704.5 685.7 704.8 686.5 705.5C687.3 706.1 688.1 707 688.7 708.2C689.3 709.3 689.8 710.7 690.1 712.2C690.4 713.7 690.6 715.4 690.6 717Z" fill="none" stroke="#111" stroke-width="1.1" stroke-linejoin="round"/>
<path d="M657 765C659.2 760.7 660.5 755.8 663 752C665.5 748.2 668.8 744.5 672 742C675.2 739.5 679 737 682 737C685 737 688 738.2 690 742C692 745.8 693.1 752 694 760C694.9 768 695.3 780.8 695.5 790C695.7 799.2 695.7 807.5 695.3 815C694.9 822.5 694.9 830 693 835C691.1 840 687.8 842.8 684 845C680.2 847.2 674.5 848.5 670 848.5C665.5 848.5 660.8 847.4 657 845C653.2 842.6 649.3 839 647 834C644.7 829 643.3 821.5 643 815C642.7 808.5 643.8 801.2 645 795C646.2 788.8 648 783 650 778C652 773 654.8 769.3 657 765Z" fill="none" stroke="#111" stroke-width="1.1" stroke-linejoin="round"/>
<path d="M684 676C687.2 675.7 692.8 676 695 680C697.2 684 696.7 693.3 697 700C697.3 706.7 697.5 712.5 697 720C696.5 727.5 693.8 736.7 694 745C694.2 753.3 696.6 760.8 698 770C699.4 779.2 701.8 790.8 702.6 800C703.4 809.2 703.9 817.8 703 825C702.1 832.2 700.3 838.5 697 843C693.7 847.5 687.8 850.3 683 852C678.2 853.7 672.8 853.7 668 853C663.2 852.3 657.7 851 654 848C650.3 845 647.6 841.3 645.9 835C644.2 828.7 644 817.5 644 810C644 802.5 644.8 796.7 646 790C647.2 783.3 649.1 774.7 651.4 770C653.7 765.3 656.7 765 660 762C663.3 759 668.9 757.3 671 752C673.1 746.7 672.5 738.7 672.9 730C673.3 721.3 673 708 673.5 700C674 692 674.2 686 676 682C677.8 678 680.8 676.3 684 676Z" fill="none" stroke="#111" stroke-width="1.1" stroke-linejoin="round"/>
<path d="M685 688C686.8 687.7 690.7 688.3 692 692C693.3 695.7 693.2 703.7 693 710C692.8 716.3 691.7 723.7 691 730C690.3 736.3 688.4 741.3 689 748C689.6 754.7 693 761.3 694.5 770C696 778.7 697.2 790.8 698 800C698.8 809.2 699.7 818.3 699 825C698.3 831.7 696.8 836.2 694 840C691.2 843.8 686.3 846.5 682 848C677.7 849.5 672.3 849.5 668 849C663.7 848.5 659.2 847.7 656 845C652.8 842.3 650.4 838.8 649 833C647.6 827.2 647.4 817.2 647.5 810C647.6 802.8 648.5 796.3 649.5 790C650.5 783.7 651.1 777 653.7 772C656.3 767 661.3 763.3 665 760C668.7 756.7 673.6 756.2 676 752C678.4 747.8 678.8 742 679.5 735C680.2 728 679.8 716.8 680 710C680.2 703.2 680.2 697.7 681 694C681.8 690.3 683.2 688.3 685 688Z" fill="none" stroke="#111" stroke-width="1.1" stroke-linejoin="round"/>
<path d="M680 760C683.3 756.7 684.6 748 686 748C687.4 748 687.9 755.5 688.6 760C689.4 764.5 689.5 768.3 690.5 775C691.5 781.7 693.7 791.7 694.5 800C695.3 808.3 696.1 818.7 695.5 825C694.9 831.3 693.4 834.7 691 838C688.6 841.3 684.8 843.7 681 845C677.2 846.3 672 846.5 668 846C664 845.5 659.8 844.3 657 842C654.2 839.7 652.7 837.3 651.5 832C650.3 826.7 650 817 650 810C650 803 650.5 795.3 651.5 790C652.5 784.7 653.3 781.7 655.7 778C658.1 774.3 662 771 666 768C670 765 676.7 763.3 680 760Z" fill="none" stroke="#111" stroke-width="1.1" stroke-linejoin="round"/>
<path d="M674.8 786.8C674.8 787.2 674.6 787.7 674.2 788C673.9 788.3 673.3 788.6 672.7 788.7C672.2 788.8 671.4 788.8 670.9 788.7C670.3 788.6 669.7 788.3 669.4 788C669 787.7 668.8 787.2 668.8 786.8C668.8 786.4 669 785.9 669.4 785.6C669.7 785.3 670.3 785 670.9 784.9C671.4 784.8 672.2 784.8 672.7 784.9C673.3 785 673.9 785.3 674.2 785.6C674.6 785.9 674.8 786.4 674.8 786.8Z" fill="none" stroke="#111" stroke-width="1" stroke-linejoin="round"/>
<path d="M686.3 757.9C686.3 758.5 686.1 759.2 685.9 759.7C685.7 760.1 685.3 760.6 684.9 760.8C684.5 760.9 684.1 760.9 683.7 760.8C683.3 760.6 682.9 760.1 682.7 759.7C682.5 759.2 682.3 758.5 682.3 757.9C682.3 757.3 682.5 756.6 682.7 756.1C682.9 755.7 683.3 755.2 683.7 755C684.1 754.9 684.5 754.9 684.9 755C685.3 755.2 685.7 755.7 685.9 756.1C686.1 756.6 686.3 757.3 686.3 757.9Z" fill="none" stroke="#111" stroke-width="1" stroke-linejoin="round"/>
<path d="M620 816.6C620 816.9 619.8 817.3 619.6 817.6C619.3 817.9 618.8 818.1 618.4 818.2C618 818.3 617.4 818.3 617 818.2C616.6 818.1 616.1 817.9 615.8 817.6C615.6 817.3 615.4 816.9 615.4 816.6C615.4 816.3 615.6 815.9 615.8 815.6C616.1 815.3 616.6 815.1 617 815C617.4 814.9 618 814.9 618.4 815C618.8 815.1 619.3 815.3 619.6 815.6C619.8 815.9 620 816.3 620 816.6Z" fill="none" stroke="#111" stroke-width="1" stroke-linejoin="round"/>
<path d="M698.5 811.9C698.5 816.9 698.4 822 698.2 825.5C698 828.9 697.6 830.5 697.2 832.5C696.8 834.6 696.3 836.3 695.6 837.9C695 839.6 694.2 840.9 693.3 842.2C692.5 843.4 691.5 844.5 690.4 845.4C689.2 846.3 688 847.1 686.5 847.7C685.1 848.3 684 848.7 681.5 849C679.1 849.3 675.2 849.5 672 849.5C668.8 849.5 664.9 849.3 662.5 849C660 848.7 658.9 848.3 657.5 847.7C656 847.1 654.8 846.3 653.6 845.4C652.5 844.5 651.5 843.4 650.7 842.2C649.8 840.9 649 839.6 648.4 837.9C647.7 836.3 647.2 834.6 646.8 832.5C646.4 830.5 646 828.9 645.8 825.5C645.6 822 645.5 816.9 645.5 811.9C645.5 806.9 645.6 799.6 645.8 795.4C646 791.2 646.4 789.3 646.8 786.7C647.2 784.2 647.7 782.1 648.4 780.1C649 778.2 649.8 776.5 650.7 774.9C651.5 773.4 652.5 772.1 653.6 771C654.8 769.9 656 769 657.5 768.2C658.9 767.5 660 766.9 662.5 766.6C664.9 766.2 668.8 766 672 766C675.2 766 679.1 766.2 681.5 766.6C684 766.9 685.1 767.5 686.5 768.2C688 769 689.2 769.9 690.4 771C691.5 772.1 692.5 773.4 693.3 774.9C694.2 776.5 695 778.2 695.6 780.1C696.3 782.1 696.8 784.2 697.2 786.7C697.6 789.3 698 791.2 698.2 795.4C698.4 799.6 698.5 806.9 698.5 811.9Z" fill="none" stroke="#111" stroke-width="1.2" stroke-linejoin="round"/>
<path d="M696.5 813.5C696.5 818.1 696.4 822.7 696.2 825.8C696 828.9 695.7 830.3 695.3 832.2C694.9 834 694.4 835.6 693.8 837.1C693.2 838.5 692.5 839.8 691.6 840.9C690.8 842 689.9 843 688.8 843.8C687.7 844.6 686.6 845.3 685.2 845.9C683.8 846.4 682.8 846.8 680.5 847.1C678.2 847.4 674.5 847.5 671.5 847.5C668.5 847.5 664.8 847.4 662.5 847.1C660.2 846.8 659.2 846.4 657.8 845.9C656.4 845.3 655.3 844.6 654.2 843.8C653.1 843 652.2 842 651.4 840.9C650.5 839.8 649.8 838.5 649.2 837.1C648.6 835.6 648.1 834 647.7 832.2C647.3 830.3 647 828.9 646.8 825.8C646.6 822.7 646.5 818.1 646.5 813.5C646.5 809 646.6 802.4 646.8 798.6C647 794.8 647.3 793 647.7 790.7C648.1 788.4 648.6 786.5 649.2 784.8C649.8 783 650.5 781.5 651.4 780.1C652.2 778.7 653.1 777.5 654.2 776.5C655.3 775.5 656.4 774.7 657.8 774C659.2 773.3 660.2 772.8 662.5 772.5C664.8 772.2 668.5 772 671.5 772C674.5 772 678.2 772.2 680.5 772.5C682.8 772.8 683.8 773.3 685.2 774C686.6 774.7 687.7 775.5 688.8 776.5C689.9 777.5 690.8 778.7 691.6 780.1C692.5 781.5 693.2 783 693.8 784.8C694.4 786.5 694.9 788.4 695.3 790.7C695.7 793 696 794.8 696.2 798.6C696.4 802.4 696.5 809 696.5 813.5Z" fill="none" stroke="#111" stroke-width="1.2" stroke-linejoin="round"/>
<path d="M694.5 815.1C694.5 819.2 694.4 823.3 694.2 826.1C694 828.8 693.8 830.1 693.4 831.8C693 833.5 692.5 834.9 692 836.2C691.4 837.5 690.7 838.6 690 839.6C689.2 840.6 688.3 841.4 687.4 842.2C686.4 842.9 685.3 843.5 684 844C682.7 844.5 681.7 844.9 679.6 845.1C677.5 845.4 674 845.5 671.3 845.5C668.5 845.5 665 845.4 662.9 845.1C660.8 844.9 659.8 844.5 658.5 844C657.2 843.5 656.1 842.9 655.1 842.2C654.2 841.4 653.3 840.6 652.5 839.6C651.8 838.6 651.1 837.5 650.5 836.2C650 834.9 649.5 833.5 649.1 831.8C648.7 830.1 648.5 828.8 648.3 826.1C648.1 823.3 648 819.2 648 815.1C648 811.1 648.1 805.2 648.3 801.8C648.5 798.4 648.7 796.8 649.1 794.8C649.5 792.7 650 791 650.5 789.4C651.1 787.8 651.8 786.5 652.5 785.2C653.3 784 654.2 783 655.1 782C656.1 781.1 657.2 780.4 658.5 779.8C659.8 779.2 660.8 778.7 662.9 778.4C665 778.1 668.5 778 671.2 778C674 778 677.5 778.1 679.6 778.4C681.7 778.7 682.7 779.2 684 779.8C685.3 780.4 686.4 781.1 687.4 782C688.3 783 689.2 784 690 785.2C690.7 786.5 691.4 787.8 692 789.4C692.5 791 693 792.7 693.4 794.8C693.8 796.8 694 798.4 694.2 801.8C694.4 805.2 694.5 811.1 694.5 815.1Z" fill="none" stroke="#111" stroke-width="1.2" stroke-linejoin="round"/>
<path d="M692.5 816.7C692.5 820.1 692.4 823.4 692.2 825.7C692 828.1 691.8 829.3 691.4 830.8C691 832.4 690.6 833.6 690 834.8C689.5 836 688.8 837 688.1 838C687.3 838.9 686.5 839.7 685.5 840.4C684.6 841.1 683.5 841.7 682.3 842.1C681.1 842.6 680.1 842.9 678.2 843.2C676.3 843.4 673.4 843.5 671 843.5C668.6 843.5 665.7 843.4 663.8 843.2C661.9 842.9 660.9 842.6 659.7 842.1C658.5 841.7 657.4 841.1 656.5 840.4C655.5 839.7 654.7 838.9 653.9 838C653.2 837 652.5 836 652 834.8C651.4 833.6 651 832.4 650.6 830.8C650.2 829.3 650 828.1 649.8 825.7C649.6 823.4 649.5 820.1 649.5 816.7C649.5 813.4 649.6 808.6 649.8 805.7C650 802.8 650.2 801.3 650.6 799.5C651 797.6 651.4 796.1 652 794.6C652.5 793.2 653.2 791.9 653.9 790.8C654.7 789.6 655.5 788.6 656.5 787.8C657.4 786.9 658.5 786.2 659.7 785.7C660.9 785.1 661.9 784.7 663.8 784.4C665.7 784.1 668.6 784 671 784C673.4 784 676.3 784.1 678.2 784.4C680.1 784.7 681.1 785.1 682.3 785.7C683.5 786.2 684.6 786.9 685.5 787.8C686.5 788.6 687.3 789.6 688.1 790.8C688.8 791.9 689.5 793.2 690 794.6C690.6 796.1 691 797.6 691.4 799.5C691.8 801.3 692 802.8 692.2 805.7C692.4 808.6 692.5 813.4 692.5 816.7Z" fill="none" stroke="#111" stroke-width="1.2" stroke-linejoin="round"/>
<path d="M690.7 818.5C690.7 821.3 690.6 824 690.4 826C690.3 828 690 829.1 689.7 830.4C689.3 831.7 688.9 832.8 688.4 833.9C687.8 834.9 687.2 835.8 686.5 836.6C685.8 837.4 685.1 838.1 684.2 838.8C683.3 839.4 682.3 839.9 681.2 840.3C680.1 840.7 679.1 841 677.4 841.2C675.8 841.4 673.2 841.5 671.1 841.5C669 841.5 666.4 841.4 664.8 841.2C663.1 841 662.1 840.7 661 840.3C659.9 839.9 658.9 839.4 658 838.8C657.1 838.1 656.4 837.4 655.7 836.6C655 835.8 654.4 834.9 653.8 833.9C653.3 832.8 652.9 831.7 652.5 830.4C652.2 829.1 651.9 828 651.8 826C651.6 824 651.5 821.3 651.5 818.6C651.5 815.8 651.6 811.9 651.8 809.5C651.9 807.1 652.2 805.7 652.5 804.1C652.9 802.5 653.3 801.1 653.8 799.8C654.4 798.6 655 797.5 655.7 796.5C656.4 795.5 657.1 794.6 658 793.9C658.9 793.1 659.9 792.5 661 792C662.1 791.5 663.1 791.1 664.8 790.9C666.4 790.6 669 790.5 671.1 790.5C673.2 790.5 675.8 790.6 677.4 790.9C679.1 791.1 680.1 791.5 681.2 792C682.3 792.5 683.3 793.1 684.2 793.9C685.1 794.6 685.8 795.5 686.5 796.5C687.2 797.5 687.8 798.6 688.4 799.8C688.9 801.1 689.3 802.5 689.7 804.1C690 805.7 690.3 807.1 690.4 809.5C690.6 811.9 690.7 815.8 690.7 818.5Z" fill="none" stroke="#111" stroke-width="1.2" stroke-linejoin="round"/>
<path d="M686.1 820.2C686.1 822.2 686 824.1 685.9 825.5C685.7 827 685.5 827.9 685.2 829C684.9 830 684.5 830.9 684.1 831.7C683.7 832.6 683.1 833.3 682.6 834C682 834.6 681.3 835.2 680.6 835.7C679.8 836.2 679 836.7 678.1 837C677.2 837.3 676.4 837.6 675.1 837.7C673.8 837.9 672 838 670.5 838C668.9 838 667.1 837.9 665.8 837.7C664.5 837.6 663.7 837.3 662.8 837C661.9 836.7 661.1 836.2 660.3 835.7C659.6 835.2 658.9 834.6 658.3 834C657.8 833.3 657.2 832.6 656.8 831.7C656.4 830.9 656 830 655.7 829C655.4 827.9 655.2 827 655 825.5C654.9 824.1 654.8 822.2 654.8 820.2C654.8 818.3 654.9 815.5 655 813.8C655.2 812 655.4 810.8 655.7 809.6C656 808.3 656.4 807.2 656.8 806.2C657.2 805.1 657.8 804.2 658.3 803.4C658.9 802.6 659.6 801.9 660.3 801.3C661.1 800.7 661.9 800.1 662.8 799.7C663.7 799.3 664.5 799 665.8 798.8C667.1 798.6 668.9 798.5 670.4 798.5C672 798.5 673.8 798.6 675.1 798.8C676.4 799 677.2 799.3 678.1 799.7C679 800.1 679.8 800.7 680.6 801.3C681.3 801.9 682 802.6 682.6 803.4C683.1 804.2 683.7 805.1 684.1 806.2C684.5 807.2 684.9 808.3 685.2 809.6C685.5 810.8 685.7 812 685.9 813.8C686 815.5 686.1 818.3 686.1 820.2Z" fill="none" stroke="#111" stroke-width="1.2" stroke-linejoin="round"/>
<path d="M682.2 820.3C682.2 821.7 682.1 823 682 824.1C681.9 825.2 681.7 826 681.5 826.8C681.2 827.7 680.9 828.4 680.6 829.1C680.2 829.8 679.8 830.4 679.3 831C678.8 831.5 678.3 832 677.7 832.5C677.2 832.9 676.5 833.2 675.8 833.5C675.1 833.8 674.4 834 673.5 834.2C672.6 834.3 671.4 834.4 670.3 834.4C669.2 834.4 668 834.3 667.1 834.2C666.2 834 665.5 833.8 664.8 833.5C664.1 833.2 663.4 832.9 662.9 832.5C662.3 832 661.8 831.5 661.3 831C660.8 830.4 660.4 829.8 660 829.1C659.7 828.4 659.4 827.7 659.1 826.8C658.9 826 658.7 825.2 658.6 824.1C658.5 823 658.4 821.7 658.4 820.3C658.4 818.9 658.5 816.9 658.6 815.6C658.7 814.3 658.9 813.3 659.1 812.3C659.4 811.2 659.7 810.3 660 809.5C660.4 808.6 660.8 807.9 661.3 807.2C661.8 806.5 662.3 805.9 662.9 805.4C663.4 804.9 664.1 804.4 664.8 804.1C665.5 803.7 666.2 803.4 667.1 803.3C668 803.1 669.2 803 670.3 803C671.4 803 672.6 803.1 673.5 803.3C674.4 803.4 675.1 803.7 675.8 804.1C676.5 804.4 677.2 804.9 677.7 805.4C678.3 805.9 678.8 806.5 679.3 807.2C679.8 807.9 680.2 808.6 680.6 809.5C680.9 810.3 681.2 811.2 681.5 812.3C681.7 813.3 681.9 814.3 682 815.6C682.1 816.9 682.2 818.9 682.2 820.3Z" fill="none" stroke="#111" stroke-width="1.2" stroke-linejoin="round"/>
<path d="M678.6 820.6C678.6 821.5 678.6 822.3 678.5 823C678.4 823.7 678.2 824.3 678.1 824.9C677.9 825.5 677.7 826.1 677.4 826.6C677.1 827.1 676.8 827.5 676.5 827.9C676.1 828.3 675.8 828.7 675.3 829C674.9 829.4 674.5 829.6 674 829.8C673.5 830.1 673 830.2 672.4 830.3C671.8 830.4 671.1 830.5 670.5 830.5C669.8 830.5 669.1 830.4 668.5 830.3C667.9 830.2 667.4 830.1 666.9 829.8C666.4 829.6 666 829.4 665.6 829C665.1 828.7 664.8 828.3 664.4 827.9C664.1 827.5 663.8 827.1 663.5 826.6C663.2 826.1 663 825.5 662.8 824.9C662.7 824.3 662.5 823.7 662.4 823C662.3 822.3 662.3 821.5 662.3 820.6C662.3 819.8 662.3 818.6 662.4 817.7C662.5 816.9 662.7 816.1 662.8 815.4C663 814.7 663.2 814 663.5 813.4C663.8 812.8 664.1 812.2 664.4 811.7C664.8 811.2 665.1 810.8 665.6 810.4C666 810 666.4 809.7 666.9 809.4C667.4 809.1 667.9 808.9 668.5 808.8C669.1 808.7 669.8 808.6 670.4 808.6C671.1 808.6 671.8 808.7 672.4 808.8C673 808.9 673.5 809.1 674 809.4C674.5 809.7 674.9 810 675.3 810.4C675.8 810.8 676.1 811.2 676.5 811.7C676.8 812.2 677.1 812.8 677.4 813.4C677.7 814 677.9 814.7 678.1 815.4C678.2 816.1 678.4 816.9 678.5 817.7C678.6 818.6 678.6 819.8 678.6 820.6Z" fill="none" stroke="#111" stroke-width="1.2" stroke-linejoin="round"/>
<path d="M221.1 1215.9C223.6 1215.5 226.5 1216.4 228.7 1218.2C230.8 1220 233.7 1224.5 234 1227C234.3 1229.5 232 1231.5 230.5 1233.5C229 1235.5 226.1 1237.1 225.2 1239.3C224.3 1241.5 224.4 1243.7 225.2 1246.4C226 1249.2 229.4 1251.9 229.9 1255.8C230.4 1259.7 227.3 1266.6 228.1 1269.9C228.9 1273.2 232.3 1274.7 234.6 1275.7C236.8 1276.7 239.6 1276.7 241.6 1275.7C243.6 1274.7 245.7 1272.6 246.3 1269.9C246.9 1267.2 244.4 1261.4 245.2 1259.3C246 1257.2 248.7 1257.9 251 1257.5C253.3 1257.1 256.6 1258.3 259.2 1257C261.8 1255.7 264.1 1251.1 266.3 1249.9C268.5 1248.7 270.1 1249.1 272.2 1249.9C274.3 1250.7 276.8 1253.1 279.2 1254.6C281.6 1256.1 285.5 1256 286.8 1258.7C288.1 1261.4 286.1 1268.5 286.8 1271C287.5 1273.5 288.2 1273.5 290.9 1274C293.5 1274.5 299.4 1273.1 302.7 1274C306 1274.9 308.4 1276.6 310.9 1279.2C313.4 1281.8 315.9 1285.3 317.9 1289.8C319.8 1294.3 321.4 1300.9 322.6 1306.2C323.8 1311.5 325 1316 325 1321.5C325 1327 323.6 1333.2 322.6 1339.1C321.6 1345 320.5 1352 319.1 1356.7C317.7 1361.4 316.8 1364.2 314.4 1367.3C312 1370.4 309.7 1373.3 305 1375.5C300.3 1377.7 292.6 1379.1 286.2 1380.2C279.8 1381.3 272.6 1381.9 266.3 1382C260.1 1382.1 255.5 1381.7 248.7 1380.8C241.8 1379.9 232 1378.6 225.2 1376.7C218.3 1374.8 211.5 1372.7 207.6 1369.6C203.7 1366.5 202.7 1363.4 201.7 1357.9C200.7 1352.4 201.3 1343.8 201.7 1336.8C202.1 1329.8 203.6 1325 204.1 1315.6C204.6 1306.2 204.7 1289.2 204.7 1280.4C204.7 1271.6 203.6 1269 204.1 1262.8C204.6 1256.5 206 1249.9 207.6 1242.9C209.2 1235.9 211.2 1225.1 213.5 1220.6C215.8 1216.1 218.6 1216.3 221.1 1215.9Z" fill="none" stroke="#111" stroke-width="1.1" stroke-linejoin="round"/>
<path d="M216.1 1266.5C216.1 1267.6 216 1268.8 215.8 1269.8C215.7 1270.7 215.4 1271.7 215.1 1272.4C214.8 1273 214.4 1273.6 214.1 1273.8C213.7 1274.1 213.3 1274.1 212.9 1273.8C212.6 1273.6 212.2 1273 211.9 1272.4C211.6 1271.7 211.3 1270.7 211.2 1269.8C211 1268.8 210.9 1267.6 210.9 1266.5C210.9 1265.4 211 1264.2 211.2 1263.2C211.3 1262.3 211.6 1261.3 211.9 1260.6C212.2 1260 212.6 1259.4 212.9 1259.2C213.3 1258.9 213.7 1258.9 214.1 1259.2C214.4 1259.4 214.8 1260 215.1 1260.6C215.4 1261.3 215.7 1262.3 215.8 1263.2C216 1264.2 216.1 1265.4 216.1 1266.5Z" fill="none" stroke="#111" stroke-width="1.1" stroke-linejoin="round"/>
<path d="M274.1 1265.2C274.1 1265.9 273.9 1266.7 273.7 1267.3C273.4 1267.9 273 1268.5 272.5 1269C272 1269.4 271.4 1269.7 270.8 1269.9C270.2 1270 269.4 1270 268.8 1269.9C268.2 1269.7 267.6 1269.4 267.1 1269C266.6 1268.5 266.2 1267.9 265.9 1267.3C265.7 1266.7 265.5 1265.9 265.5 1265.2C265.5 1264.5 265.7 1263.7 265.9 1263.1C266.2 1262.5 266.6 1261.9 267.1 1261.4C267.6 1261 268.2 1260.7 268.8 1260.5C269.4 1260.4 270.2 1260.4 270.8 1260.5C271.4 1260.7 272 1261 272.5 1261.4C273 1261.9 273.4 1262.5 273.7 1263.1C273.9 1263.7 274.1 1264.5 274.1 1265.2Z" fill="none" stroke="#111" stroke-width="1.1" stroke-linejoin="round"/>
<path d="M212.3 1289.8C213.3 1287.2 214 1287.6 215.8 1288.6C217.6 1289.6 219.8 1293.6 222.9 1295.7C226 1297.8 230.9 1301.4 234.6 1301C238.3 1300.6 241.7 1295.2 245.2 1293.3C248.7 1291.4 251.6 1290.7 255.7 1289.8C259.8 1288.9 265.5 1288.6 269.8 1288C274.1 1287.4 277.2 1285.6 281.5 1286.3C285.8 1287 291.5 1290.8 295.6 1292.2C299.7 1293.6 303.3 1292 306.2 1294.5C309.1 1297 311 1302.9 313.2 1307.4C315.4 1311.9 318.3 1316.2 319.1 1321.5C319.9 1326.8 318.7 1333.2 317.9 1339.1C317.1 1345 316.1 1352 314.4 1356.7C312.6 1361.4 311.5 1364.4 307.4 1367.3C303.3 1370.2 296.6 1372.7 289.8 1374.3C283 1375.9 274.1 1376.3 266.3 1376.7C258.5 1377.1 250.6 1377.3 242.8 1376.7C235 1376.1 225.6 1374.9 219.3 1373.1C213.1 1371.3 208 1369.8 205.3 1366.1C202.6 1362.4 202.9 1357.2 202.9 1350.8C202.9 1344.3 204.1 1335.2 205.3 1327.4C206.5 1319.6 208.8 1310.2 210 1303.9C211.2 1297.6 211.3 1292.3 212.3 1289.8Z" fill="none" stroke="#111" stroke-width="1.1" stroke-linejoin="round"/>
<path d="M217 1313.9C220.7 1312.7 229.3 1312.3 234.6 1311C239.9 1309.7 244.4 1307.6 248.7 1306.2C253 1304.8 257.5 1303.9 260.4 1302.7C263.3 1301.5 263.9 1299.8 266.3 1299.2C268.7 1298.6 271.6 1298.6 274.5 1299.2C277.4 1299.8 280.8 1302.1 283.9 1302.7C287 1303.3 290.4 1301.5 293.3 1302.7C296.2 1303.9 298.6 1306.7 301.5 1309.8C304.4 1312.9 308.8 1318 310.9 1321.5C313 1325 313.8 1327 314.4 1330.9C315 1334.8 315 1340.5 314.4 1345C313.8 1349.5 312.5 1354.4 310.9 1357.9C309.3 1361.4 308.5 1363.8 305 1366.1C301.5 1368.4 296.2 1370.6 289.8 1372C283.4 1373.4 274.1 1374.1 266.3 1374.3C258.5 1374.5 250.6 1373.9 242.8 1373.1C235 1372.3 225.2 1371.3 219.3 1369.6C213.4 1367.8 209.9 1366.7 207.6 1362.6C205.3 1358.5 205.3 1350.9 205.3 1345C205.3 1339.1 206.4 1331.9 207.6 1327.4C208.8 1322.9 210.7 1320.2 212.3 1318C213.9 1315.8 213.3 1315.1 217 1313.9Z" fill="none" stroke="#111" stroke-width="1.1" stroke-linejoin="round"/>
<path d="M215.8 1322.7C218.2 1321.7 222.1 1321.2 225.2 1321.5C228.3 1321.8 232 1324.8 234.6 1324.4C237.2 1324 237.6 1320.7 240.5 1319.2C243.4 1317.7 248.5 1316.8 252.2 1315.6C255.9 1314.4 259.5 1313.1 262.8 1312.1C266.1 1311.1 268.7 1309.8 272.2 1309.8C275.7 1309.8 280 1310.7 283.9 1312.1C287.8 1313.5 292.1 1315.7 295.6 1318C299.1 1320.3 302.9 1323.1 305 1326.2C307.1 1329.3 308.1 1332.7 308.5 1336.8C308.9 1340.9 308.4 1346.7 307.4 1350.8C306.4 1354.9 305.6 1358.5 302.7 1361.4C299.8 1364.4 295.9 1366.9 289.8 1368.5C283.7 1370.1 274.5 1370.6 266.3 1370.8C258.1 1371 248.1 1370.6 240.5 1369.6C232.9 1368.6 225.4 1367.1 220.5 1364.9C215.6 1362.8 213 1361 211.1 1356.7C209.2 1352.4 208.8 1344 208.8 1339.1C208.8 1334.2 209.9 1330.1 211.1 1327.4C212.3 1324.7 213.5 1323.7 215.8 1322.7Z" fill="none" stroke="#111" stroke-width="1.1" stroke-linejoin="round"/>
<path d="M214.2 1347C214.6 1339.9 219.6 1328.9 229.2 1323.6C238.9 1318.3 261.1 1315.7 272 1315.4C282.9 1315.1 289.5 1317.8 294.6 1322.1C299.7 1326.3 303 1333.9 302.6 1341C302.2 1348.1 298.8 1359.1 292 1364.4C285.3 1369.7 272.9 1372.3 262 1372.6C251.1 1372.9 234.6 1370.2 226.6 1365.9C218.7 1361.7 213.8 1354.1 214.2 1347Z" fill="none" stroke="#111" stroke-width="1.1" stroke-linejoin="round"/>
<path d="M219 1346C219.4 1339.6 224 1329.9 233 1325.3C242 1320.6 263.1 1318.2 273 1318C282.9 1317.8 288.2 1320.1 292.6 1324C297 1327.8 299.9 1334.6 299.5 1341C299.1 1347.4 296.2 1357.7 290.3 1362.5C284.4 1367.4 273.9 1369.9 264 1370.1C254.1 1370.3 238.2 1367.9 230.7 1363.8C223.2 1359.8 218.6 1352.4 219 1346Z" fill="none" stroke="#111" stroke-width="1.1" stroke-linejoin="round"/>
<path d="M223.4 1346C223.7 1340.1 228.1 1331.4 236.6 1327.1C245 1322.9 264.9 1320.7 274 1320.5C283.1 1320.3 287.2 1322.4 291 1325.8C294.9 1329.2 297.3 1335.1 297 1341C296.7 1346.9 294.1 1356.5 288.9 1361C283.8 1365.5 275.1 1367.8 266 1368C256.9 1368.2 241.6 1365.9 234.5 1362.3C227.4 1358.6 223.1 1351.9 223.4 1346Z" fill="none" stroke="#111" stroke-width="1.1" stroke-linejoin="round"/>
<path d="M231.7 1345C232 1339.9 235.7 1333.1 243 1329.6C250.2 1326.1 267.3 1324.4 275 1324.2C282.7 1324 286 1325.8 289.2 1328.6C292.4 1331.4 294.5 1335.9 294.2 1341C293.9 1346.1 291.8 1355.3 287.4 1359.4C283 1363.6 275.7 1365.7 268 1365.9C260.3 1366.1 247.2 1363.9 241.1 1360.5C235.1 1357 231.4 1350.1 231.7 1345Z" fill="none" stroke="#111" stroke-width="1.1" stroke-linejoin="round"/>
<path d="M238 1344C238.3 1339.5 241.5 1334.3 247.9 1331.4C254.2 1328.6 269.3 1327.1 276 1327C282.7 1326.9 285.2 1328.3 287.8 1330.6C290.5 1333 292.3 1336.5 292 1341C291.7 1345.5 289.9 1353.8 286.3 1357.6C282.6 1361.3 276.7 1363.3 270 1363.4C263.3 1363.5 251.7 1361.6 246.3 1358.4C241 1355.1 237.7 1348.5 238 1344Z" fill="none" stroke="#111" stroke-width="1.1" stroke-linejoin="round"/>
<path d="M244.2 1343C244.5 1339.2 247.3 1335.4 252.7 1333.2C258.2 1331 271.4 1329.9 277 1329.8C282.6 1329.7 284.3 1330.8 286.5 1332.5C288.6 1334.2 290.1 1336.2 289.8 1340C289.5 1343.8 288 1352 284.9 1355.5C281.8 1358.9 276.6 1360.8 271 1360.9C265.4 1361 255.6 1359.2 251.2 1356.2C246.7 1353.3 243.9 1346.8 244.2 1343Z" fill="none" stroke="#111" stroke-width="1.1" stroke-linejoin="round"/>
<path d="M253.4 1342C253.6 1340.3 253.7 1338.2 254.5 1337C255.3 1335.8 256.4 1334.9 258 1334.5C259.6 1334.1 262.5 1334.8 264 1334.5C265.5 1334.2 265.2 1332.8 267 1332.5C268.8 1332.2 272.2 1332.2 275 1332.5C277.8 1332.8 281.9 1333.4 284 1334.5C286.1 1335.6 287.3 1337.4 287.6 1339C287.9 1340.6 287.6 1342.7 286 1344C284.4 1345.3 280.7 1346.1 278 1347C275.3 1347.9 272.7 1348.6 270 1349.5C267.3 1350.4 264.5 1352.2 262 1352.5C259.5 1352.8 256.4 1351.9 255 1351C253.6 1350.1 253.8 1348.5 253.5 1347C253.2 1345.5 253.2 1343.7 253.4 1342Z" fill="none" stroke="#111" stroke-width="1.1" stroke-linejoin="round"/>
<path d="M597.3 1213C601 1212.1 607.7 1211.9 610.9 1213C614.1 1214.1 615.8 1217 616.5 1219.8C617.2 1222.6 615.1 1227.3 615.2 1229.8C615.3 1232.3 615.3 1233 617.1 1234.7C618.9 1236.4 622.1 1238.7 625.8 1239.7C629.5 1240.7 634.2 1240.9 639.4 1240.9C644.6 1240.9 651 1240 656.8 1239.7C662.6 1239.4 670 1238.2 674.1 1239C678.2 1239.8 678.5 1241.8 681.6 1244.6C684.7 1247.4 689.7 1252.9 692.7 1255.8C695.7 1258.7 698.5 1259.9 699.5 1262C700.5 1264.1 699.8 1266.1 698.9 1268.2C698 1270.3 694.2 1271.3 694 1274.4C693.8 1277.5 696.9 1280.6 697.7 1286.8C698.5 1293 698.3 1303.3 698.9 1311.6C699.5 1319.9 701.4 1330.2 701.4 1336.4C701.4 1342.6 700.3 1344.7 698.9 1348.8C697.5 1352.9 696 1356.7 692.7 1361.2C689.4 1365.7 685.1 1373.1 679.1 1376C673.1 1378.9 664.2 1377.8 656.8 1378.5C649.4 1379.2 641.7 1380.4 634.5 1380.4C627.3 1380.4 620.4 1379.7 613.4 1378.5C606.4 1377.3 597.3 1375.8 592.3 1373.5C587.3 1371.2 585.7 1369 583.6 1364.9C581.5 1360.8 580.5 1354.6 579.9 1348.8C579.3 1343 579.3 1335.2 579.9 1330.2C580.5 1325.2 582.4 1322.7 583.6 1319C584.9 1315.3 587 1311.9 587.4 1307.8C587.8 1303.7 587.1 1299.8 586.1 1294.2C585.1 1288.6 582.3 1280.8 581.2 1274.4C580.1 1268 579.5 1261.4 579.3 1255.8C579.1 1250.2 579.2 1245.5 579.9 1240.9C580.6 1236.4 582.1 1232.2 583.6 1228.5C585.1 1224.8 586.3 1221.2 588.6 1218.6C590.9 1216 593.6 1213.9 597.3 1213Z" fill="none" stroke="#111" stroke-width="1.1" stroke-linejoin="round"/>
<path d="M594.5 1250.2C594.5 1251.2 594.4 1252.3 594.1 1253.2C593.9 1254.1 593.5 1254.9 593.1 1255.4C592.7 1255.9 592.2 1256.2 591.7 1256.2C591.2 1256.2 590.7 1255.9 590.3 1255.4C589.9 1254.9 589.5 1254.1 589.3 1253.2C589 1252.3 588.9 1251.2 588.9 1250.2C588.9 1249.2 589 1248.1 589.3 1247.2C589.5 1246.3 589.9 1245.5 590.3 1245C590.7 1244.5 591.2 1244.2 591.7 1244.2C592.2 1244.2 592.7 1244.5 593.1 1245C593.5 1245.5 593.9 1246.3 594.1 1247.2C594.4 1248.1 594.5 1249.2 594.5 1250.2Z" fill="none" stroke="#111" stroke-width="1.1" stroke-linejoin="round"/>
<path d="M599.6 1252.5C599.6 1254.7 599.4 1257 599.1 1259C598.7 1261 598.2 1263 597.5 1264.5C596.9 1266.1 596.1 1267.4 595.3 1268.2C594.5 1269 593.5 1269.5 592.6 1269.5C591.7 1269.5 590.7 1269 589.9 1268.2C589.1 1267.4 588.3 1266.1 587.7 1264.5C587 1263 586.5 1261 586.1 1259C585.8 1257 585.6 1254.7 585.6 1252.5C585.6 1250.3 585.8 1248 586.1 1246C586.5 1244 587 1242 587.7 1240.5C588.3 1238.9 589.1 1237.6 589.9 1236.8C590.7 1236 591.7 1235.5 592.6 1235.5C593.5 1235.5 594.5 1236 595.3 1236.8C596.1 1237.6 596.9 1238.9 597.5 1240.5C598.2 1242 598.7 1244 599.1 1246C599.4 1248 599.6 1250.3 599.6 1252.5Z" fill="none" stroke="#111" stroke-width="1.1" stroke-linejoin="round"/>
<path d="M603 1251.5C603 1253.7 602.8 1256.1 602.4 1258.2C602.1 1260.3 601.5 1262.3 600.8 1264C600.1 1265.7 599.2 1267.3 598.2 1268.4C597.3 1269.5 596.2 1270.3 595.1 1270.7C594.1 1271.1 592.9 1271.1 591.9 1270.7C590.8 1270.3 589.7 1269.5 588.8 1268.4C587.8 1267.3 586.9 1265.7 586.2 1264C585.5 1262.3 584.9 1260.3 584.6 1258.2C584.2 1256.1 584 1253.7 584 1251.5C584 1249.3 584.2 1246.9 584.6 1244.8C584.9 1242.7 585.5 1240.7 586.2 1239C586.9 1237.3 587.8 1235.7 588.8 1234.6C589.7 1233.5 590.8 1232.7 591.9 1232.3C592.9 1231.9 594.1 1231.9 595.1 1232.3C596.2 1232.7 597.3 1233.5 598.2 1234.6C599.2 1235.7 600.1 1237.3 600.8 1239C601.5 1240.7 602.1 1242.7 602.4 1244.8C602.8 1246.9 603 1249.3 603 1251.5Z" fill="none" stroke="#111" stroke-width="1.1" stroke-linejoin="round"/>
<path d="M604.7 1255.8C605.3 1258.1 604.7 1261.2 607.2 1263.2C609.7 1265.2 616.5 1267.4 619.6 1267.6C622.7 1267.8 623.9 1266.7 625.8 1264.5C627.6 1262.3 628.9 1257 630.7 1254.5C632.6 1252 634.2 1250.5 636.9 1249.6C639.6 1248.7 643.8 1248.4 646.9 1249C650 1249.6 652.4 1252.9 655.5 1253.3C658.6 1253.7 662.4 1251.4 665.5 1251.4C668.6 1251.4 672.7 1251.5 674.1 1253.3C675.5 1255.1 673.3 1258.9 674.1 1262C674.9 1265.1 676.6 1268.2 679.1 1271.9C681.6 1275.6 686.5 1279.3 689 1284.3C691.5 1289.2 693.2 1295 694 1301.6C694.8 1308.2 694.2 1317.2 694 1324C693.8 1330.8 694 1337 692.7 1342.6C691.5 1348.2 689.2 1353.1 686.5 1357.4C683.8 1361.7 681.6 1365.9 676.6 1368.6C671.6 1371.3 663.8 1372.5 656.8 1373.5C649.8 1374.5 642.1 1375 634.5 1374.8C626.9 1374.6 617.9 1373.8 610.9 1372.3C603.9 1370.8 596.6 1369 592.3 1366.1C588 1363.2 586.3 1360 584.9 1355C583.5 1350 583 1342 583.6 1336.4C584.2 1330.8 586.7 1326 588.6 1321.5C590.5 1317 592.1 1312.8 594.8 1309.1C597.5 1305.4 602.8 1301.5 604.7 1299.2C606.6 1296.9 607.6 1297.1 606 1295.4C604.4 1293.8 597.5 1292 594.8 1289.3C592.1 1286.6 591.2 1282.6 589.8 1279.3C588.3 1276 586.9 1272.7 586.1 1269.4C585.3 1266.1 585.1 1263.2 584.9 1259.5C584.7 1255.8 584.3 1251 584.9 1247.1C585.5 1243.2 587 1238.5 588.6 1236C590.2 1233.5 592.7 1232.6 594.8 1232.2C596.9 1231.8 599.5 1232 601 1233.5C602.5 1235 603.1 1238.2 603.5 1240.9C603.9 1243.6 603.3 1247.1 603.5 1249.6C603.7 1252.1 604.1 1253.5 604.7 1255.8Z" fill="none" stroke="#111" stroke-width="1.1" stroke-linejoin="round"/>
<path d="M636.9 1257C637.7 1255.2 641 1255.2 643.1 1255.8C645.2 1256.4 646.6 1259.9 649.3 1260.7C652 1261.5 656.6 1260.1 659.3 1260.7C662 1261.3 663.9 1262.2 665.5 1264.5C667.1 1266.8 667.4 1271.1 669.2 1274.4C671.1 1277.7 674.1 1281 676.6 1284.3C679.1 1287.6 682.1 1290.1 684 1294.2C685.9 1298.3 687 1303.1 687.8 1309.1C688.6 1315.1 689.4 1323.6 689 1330.2C688.6 1336.8 686.9 1343.6 685.3 1348.8C683.6 1354 682.2 1357.7 679.1 1361.2C676 1364.7 672.5 1368 666.7 1369.8C660.9 1371.6 652.2 1372.3 644.4 1372.3C636.5 1372.3 627.2 1371.2 619.6 1369.8C612 1368.3 603.5 1366.7 598.5 1363.6C593.5 1360.5 591 1356.2 589.8 1351.2C588.6 1346.2 589.6 1339.3 591.1 1333.9C592.6 1328.5 595.2 1323.1 598.5 1319C601.8 1314.9 606.6 1311.6 610.9 1309.1C615.2 1306.6 620.4 1305.8 624.5 1304.1C628.6 1302.4 633.2 1301.7 635.7 1299.2C638.2 1296.7 638 1292.4 639.4 1289.3C640.8 1286.2 643.6 1283.9 644.4 1280.6C645.2 1277.3 645.4 1271.7 644.4 1269.4C643.4 1267.1 639.5 1269 638.2 1266.9C637 1264.8 636.1 1258.8 636.9 1257Z" fill="none" stroke="#111" stroke-width="1.1" stroke-linejoin="round"/>
<path d="M654.3 1269.4C655.1 1268 657.6 1267.4 659.3 1268.2C660.9 1269 662.8 1271.3 664.2 1274.4C665.6 1277.5 665.8 1283.5 667.9 1286.8C670 1290.1 674.3 1290.5 676.6 1294.2C678.9 1297.9 680.4 1304.1 681.6 1309.1C682.8 1314.1 684 1318.4 684 1324C684 1329.6 683 1337.2 681.6 1342.6C680.2 1348 678.5 1352.5 675.4 1356.2C672.3 1359.9 668.2 1362.8 663 1364.9C657.8 1367 651.2 1368.2 644.4 1368.6C637.6 1369 629.1 1368.5 622.1 1367.3C615.1 1366.1 606.8 1364.3 602.2 1361.2C597.7 1358.1 595.8 1353.3 594.8 1348.8C593.8 1344.2 594.4 1338 596 1333.9C597.6 1329.8 600.8 1327.1 604.7 1324C608.6 1320.9 614.6 1317.4 619.6 1315.3C624.6 1313.2 630.4 1313.7 634.5 1311.6C638.6 1309.5 641.9 1305.2 644.4 1302.9C646.9 1300.6 647.4 1300.6 649.3 1297.9C651.1 1295.2 654.7 1290.3 655.5 1286.8C656.3 1283.3 654.5 1279.8 654.3 1276.9C654.1 1274 653.5 1270.9 654.3 1269.4Z" fill="none" stroke="#111" stroke-width="1.1" stroke-linejoin="round"/>
<path d="M597 1345C597.3 1338.9 601.6 1329.5 609.7 1325C617.9 1320.5 636 1318.2 646 1318C656 1317.8 664.5 1320.1 669.9 1323.7C675.3 1327.4 678.6 1333.9 678.3 1340C678 1346.1 674.7 1355.6 668.3 1360.1C662 1364.7 650 1367 640 1367.2C630 1367.4 615.3 1365.1 608.2 1361.4C601 1357.7 596.7 1351.1 597 1345Z" fill="none" stroke="#111" stroke-width="1.1" stroke-linejoin="round"/>
<path d="M607.4 1348C607.7 1343 611.1 1333.9 617.7 1329.8C624.3 1325.7 638.9 1323.7 647 1323.4C655.1 1323.1 661.8 1325.1 666.1 1328.2C670.4 1331.3 673.1 1337 672.8 1342C672.5 1347 669.8 1354.7 664.5 1358.4C659.2 1362 649.1 1363.8 641 1364.1C632.9 1364.4 621.7 1362.6 616.1 1359.9C610.5 1357.2 607.1 1353 607.4 1348Z" fill="none" stroke="#111" stroke-width="1.1" stroke-linejoin="round"/>
<path d="M616.8 1350C617 1345.7 619.6 1336.5 624.7 1332.6C629.7 1328.7 641.1 1326.8 647 1326.5C652.9 1326.2 657.1 1328 660.1 1330.8C663 1333.5 664.9 1338.7 664.7 1343C664.5 1347.3 662.6 1353.5 658.8 1356.6C655 1359.7 647.9 1361.1 642 1361.4C636.1 1361.7 627.6 1360.3 623.4 1358.4C619.2 1356.5 616.6 1354.3 616.8 1350Z" fill="none" stroke="#111" stroke-width="1.1" stroke-linejoin="round"/>
<path d="M623.6 1349C624.6 1347.2 627.3 1344.3 630 1343C632.7 1341.7 637.9 1342.2 640 1341C642.1 1339.8 642.3 1337.9 642.5 1336C642.7 1334.1 640.8 1331 641 1329.5C641.2 1328 642.7 1327.3 643.5 1327.2C644.3 1327.1 645.4 1328 646 1329C646.6 1330 646.2 1331.9 647 1333C647.8 1334.1 649.5 1334.9 651 1335.5C652.5 1336.1 654.5 1335.6 656 1336.5C657.5 1337.4 659.1 1339.2 660 1341C660.9 1342.8 661.6 1344.8 661.1 1347C660.6 1349.2 659.2 1352 657 1354C654.8 1356 651.2 1358 648 1359C644.8 1360 641.3 1360 638 1359.8C634.7 1359.5 630.3 1358.5 628 1357.5C625.7 1356.5 624.7 1354.9 624 1353.5C623.3 1352.1 622.6 1350.8 623.6 1349Z" fill="none" stroke="#111" stroke-width="1.1" stroke-linejoin="round"/>
<text x="94.85" y="123.47" font-size="33.33" font-weight="bold" fill="#000" textLength="85.95" lengthAdjust="spacingAndGlyphs">2.92%</text>
<text x="295.64" y="276.47" font-size="33.9" font-weight="bold" fill="#000" textLength="86.17" lengthAdjust="spacingAndGlyphs">8.56%</text>
<text x="484.85" y="127.13" font-size="32.7" font-weight="bold" fill="#000" textLength="86.26" lengthAdjust="spacingAndGlyphs">2.63%</text>
<text x="665.07" y="279.48" font-size="32.49" font-weight="bold" fill="#000" textLength="86.73" lengthAdjust="spacingAndGlyphs">14.8%</text>
<text x="237.74" y="614.28" font-size="32.98" font-weight="bold" fill="#000" textLength="103.46" lengthAdjust="spacingAndGlyphs">27.01%</text>
<text x="604.3" y="618.37" font-size="33.48" font-weight="bold" fill="#000" textLength="103.2" lengthAdjust="spacingAndGlyphs">31.37%</text>
<text x="254.33" y="1153.38" font-size="32.91" font-weight="bold" fill="#000" textLength="103.17" lengthAdjust="spacingAndGlyphs">12.35%</text>
<text x="596.45" y="1157.53" font-size="32.84" font-weight="bold" fill="#000" textLength="103.11" lengthAdjust="spacingAndGlyphs">23.03%</text>
<line x1="933" y1="103.8" x2="933" y2="403.5" stroke="#000" stroke-width="3.2" stroke-linecap="butt"/>
<line x1="920.5" y1="402.2" x2="1230.3" y2="402.2" stroke="#000" stroke-width="3.4" stroke-linecap="butt"/>
<line x1="920.5" y1="402.2" x2="933" y2="402.2" stroke="#000" stroke-width="3" stroke-linecap="butt"/>
<text x="904.86" y="410.44" font-size="21.89" font-weight="bold" fill="#000" textLength="11.81" lengthAdjust="spacingAndGlyphs">0</text>
<line x1="920.5" y1="328" x2="933" y2="328" stroke="#000" stroke-width="3" stroke-linecap="butt"/>
<text x="904.42" y="336.23" font-size="22.21" font-weight="bold" fill="#000" textLength="11.98" lengthAdjust="spacingAndGlyphs">5</text>
<line x1="920.5" y1="253.8" x2="933" y2="253.8" stroke="#000" stroke-width="3" stroke-linecap="butt"/>
<text x="893.05" y="262.04" font-size="21.89" font-weight="bold" fill="#000" textLength="23.62" lengthAdjust="spacingAndGlyphs">10</text>
<line x1="920.5" y1="179.6" x2="933" y2="179.6" stroke="#000" stroke-width="3" stroke-linecap="butt"/>
<text x="892.43" y="187.83" font-size="22.21" font-weight="bold" fill="#000" textLength="23.97" lengthAdjust="spacingAndGlyphs">15</text>
<line x1="920.5" y1="105.4" x2="933" y2="105.4" stroke="#000" stroke-width="3" stroke-linecap="butt"/>
<text x="893.05" y="113.64" font-size="21.89" font-weight="bold" fill="#000" textLength="23.62" lengthAdjust="spacingAndGlyphs">20</text>
<rect x="954.5" y="375.4" width="35.7" height="26.6" fill="#fff" stroke="#000" stroke-width="4"/>
<rect x="1012.2" y="366" width="40.2" height="36" fill="#000" stroke="none" stroke-width="0"/>
<rect x="1113.5" y="259" width="35.5" height="143" fill="#fff" stroke="#000" stroke-width="4"/>
<rect x="1169.4" y="202.4" width="39.6" height="199.6" fill="#000" stroke="none" stroke-width="0"/>
<line x1="972.6" y1="375" x2="972.6" y2="363.7" stroke="#000" stroke-width="2" stroke-linecap="butt"/>
<line x1="962.6" y1="363.7" x2="982.6" y2="363.7" stroke="#000" stroke-width="2" stroke-linecap="butt"/>
<line x1="1032.1" y1="366.5" x2="1032.1" y2="356" stroke="#000" stroke-width="2" stroke-linecap="butt"/>
<line x1="1022.4" y1="356" x2="1041.8" y2="356" stroke="#000" stroke-width="2" stroke-linecap="butt"/>
<line x1="1130.7" y1="258" x2="1130.7" y2="240.8" stroke="#000" stroke-width="2" stroke-linecap="butt"/>
<line x1="1120.7" y1="240.8" x2="1140.7" y2="240.8" stroke="#000" stroke-width="2" stroke-linecap="butt"/>
<line x1="1189.2" y1="203" x2="1189.2" y2="173.2" stroke="#000" stroke-width="2" stroke-linecap="butt"/>
<line x1="1179.2" y1="173.2" x2="1199.2" y2="173.2" stroke="#000" stroke-width="2" stroke-linecap="butt"/>
<line x1="1002" y1="402" x2="1002" y2="414.5" stroke="#000" stroke-width="3" stroke-linecap="butt"/>
<line x1="1159.5" y1="402" x2="1159.5" y2="414.5" stroke="#000" stroke-width="3" stroke-linecap="butt"/>
<text x="977.8" y="441.16" font-size="24.86" font-weight="bold" fill="#000" textLength="48.63" lengthAdjust="spacingAndGlyphs">CD4</text>
<text x="1136.01" y="441.16" font-size="24.86" font-weight="bold" fill="#000" textLength="48.13" lengthAdjust="spacingAndGlyphs">CD8</text>
<rect x="1132.8" y="136" width="5" height="26.7" fill="#000" stroke="none" stroke-width="0"/>
<rect x="1183.4" y="136" width="4.9" height="26.7" fill="#000" stroke="none" stroke-width="0"/>
<rect x="1135" y="147.4" width="51" height="4.4" fill="#000" stroke="none" stroke-width="0"/>
<text x="1152.22" y="141.4" font-size="21.36" font-weight="normal" fill="#000" textLength="18.35" lengthAdjust="spacingAndGlyphs">**</text>
<text x="852.45" y="320.72" font-size="25.19" font-weight="bold" fill="#000" textLength="113.93" lengthAdjust="spacingAndGlyphs" transform="rotate(-90 852.45 320.72)">% of cells</text>
<rect x="1299" y="119.9" width="27.8" height="11.6" fill="#fff" stroke="#000" stroke-width="4.4"/>
<rect x="1297" y="157.7" width="32" height="16.1" fill="#000" stroke="none" stroke-width="0"/>
<text x="1346.45" y="133.75" font-size="25.14" font-weight="normal" fill="#000" textLength="87.68" lengthAdjust="spacingAndGlyphs">NK Con</text>
<text x="1346.44" y="174.05" font-size="26.08" font-weight="normal" fill="#000" textLength="71.13" lengthAdjust="spacingAndGlyphs">NK Fu</text>
<line x1="924.1" y1="589" x2="924.1" y2="908" stroke="#000" stroke-width="3.2" stroke-linecap="butt"/>
<path d="M923 908H1150.5" stroke="#000" stroke-width="5.6"/>
<path d="M1150 907H1241.8" stroke="#000" stroke-width="5.2"/>
<line x1="911" y1="907.9" x2="924" y2="907.9" stroke="#000" stroke-width="3.6" stroke-linecap="butt"/>
<text x="895.55" y="915.3" font-size="20.9" font-weight="bold" fill="#000" textLength="11.28" lengthAdjust="spacingAndGlyphs">0</text>
<line x1="911" y1="828.5" x2="924" y2="828.5" stroke="#000" stroke-width="3.6" stroke-linecap="butt"/>
<text x="884.28" y="835.95" font-size="20.9" font-weight="bold" fill="#000" textLength="22.55" lengthAdjust="spacingAndGlyphs">10</text>
<line x1="911" y1="749.2" x2="924" y2="749.2" stroke="#000" stroke-width="3.6" stroke-linecap="butt"/>
<text x="884.28" y="756.6" font-size="20.9" font-weight="bold" fill="#000" textLength="22.55" lengthAdjust="spacingAndGlyphs">20</text>
<line x1="911" y1="669.9" x2="924" y2="669.9" stroke="#000" stroke-width="3.6" stroke-linecap="butt"/>
<text x="884.32" y="677.22" font-size="20.86" font-weight="bold" fill="#000" textLength="22.51" lengthAdjust="spacingAndGlyphs">30</text>
<line x1="911" y1="590.5" x2="924" y2="590.5" stroke="#000" stroke-width="3.6" stroke-linecap="butt"/>
<text x="884.28" y="597.9" font-size="20.9" font-weight="bold" fill="#000" textLength="22.55" lengthAdjust="spacingAndGlyphs">40</text>
<rect x="947.2" y="692" width="38.8" height="214" fill="#fff" stroke="#000" stroke-width="4"/>
<rect x="1008.6" y="680.6" width="43" height="225.4" fill="#000" stroke="none" stroke-width="0"/>
<rect x="1116.3" y="784.6" width="36.6" height="121.4" fill="#fff" stroke="#000" stroke-width="4"/>
<rect x="1176.3" y="730.1" width="42.2" height="175.9" fill="#000" stroke="none" stroke-width="0"/>
<line x1="966.6" y1="691" x2="966.6" y2="665" stroke="#000" stroke-width="3" stroke-linecap="butt"/>
<line x1="955.9" y1="665" x2="977.4" y2="665" stroke="#000" stroke-width="2.8" stroke-linecap="butt"/>
<line x1="1029.8" y1="681" x2="1029.8" y2="649.4" stroke="#000" stroke-width="3" stroke-linecap="butt"/>
<line x1="1018.9" y1="649.4" x2="1040.6" y2="649.4" stroke="#000" stroke-width="2.8" stroke-linecap="butt"/>
<line x1="1135" y1="783" x2="1135" y2="766.3" stroke="#000" stroke-width="2.6" stroke-linecap="butt"/>
<line x1="1124.4" y1="766.3" x2="1145.6" y2="766.3" stroke="#000" stroke-width="2.6" stroke-linecap="butt"/>
<line x1="1197.4" y1="731" x2="1197.4" y2="693.5" stroke="#000" stroke-width="2.6" stroke-linecap="butt"/>
<line x1="1187.1" y1="693.5" x2="1207.7" y2="693.5" stroke="#000" stroke-width="2.6" stroke-linecap="butt"/>
<line x1="998" y1="908" x2="998" y2="920.9" stroke="#000" stroke-width="5" stroke-linecap="butt"/>
<line x1="1165.9" y1="908" x2="1165.9" y2="920.9" stroke="#000" stroke-width="5" stroke-linecap="butt"/>
<text x="974.95" y="945.48" font-size="22.32" font-weight="bold" fill="#000" textLength="46.27" lengthAdjust="spacingAndGlyphs">CD4</text>
<text x="1143.55" y="945.48" font-size="22.32" font-weight="bold" fill="#000" textLength="46.16" lengthAdjust="spacingAndGlyphs">CD8</text>
<rect x="1137.3" y="638.2" width="5.2" height="28.8" fill="#000" stroke="none" stroke-width="0"/>
<rect x="1191.3" y="638.2" width="4.9" height="28.8" fill="#000" stroke="none" stroke-width="0"/>
<rect x="1140" y="650.3" width="54" height="4.7" fill="#000" stroke="none" stroke-width="0"/>
<text x="1163.93" y="643.72" font-size="19.94" font-weight="normal" fill="#000" textLength="8.93" lengthAdjust="spacingAndGlyphs">*</text>
<text x="852.26" y="855.82" font-size="25.06" font-weight="bold" fill="#000" textLength="61.16" lengthAdjust="spacingAndGlyphs" transform="rotate(-90 852.26 855.82)">% of</text>
<text x="852.26" y="784.14" font-size="24.43" font-weight="bold" fill="#000" textLength="64.68" lengthAdjust="spacingAndGlyphs" transform="rotate(-90 852.26 784.14)">CD69</text>
<text x="840.12" y="720.37" font-size="18.12" font-weight="bold" fill="#000" textLength="10.71" lengthAdjust="spacingAndGlyphs" transform="rotate(-90 840.12 720.37)">+</text>
<text x="852.26" y="698.43" font-size="25.06" font-weight="bold" fill="#000" textLength="58.82" lengthAdjust="spacingAndGlyphs" transform="rotate(-90 852.26 698.43)">cells</text>
<rect x="1300.9" y="609.8" width="26" height="10.7" fill="#fff" stroke="#000" stroke-width="4"/>
<rect x="1299" y="643.9" width="29.8" height="15.2" fill="#000" stroke="none" stroke-width="0"/>
<text x="1345.29" y="622.67" font-size="23.3" font-weight="normal" fill="#000" textLength="81.52" lengthAdjust="spacingAndGlyphs">NK Con</text>
<text x="1345.29" y="659.36" font-size="24.08" font-weight="normal" fill="#000" textLength="66.06" lengthAdjust="spacingAndGlyphs">NK Fu</text>
<line x1="923" y1="1104.5" x2="923" y2="1427" stroke="#000" stroke-width="3.4" stroke-linecap="butt"/>
<line x1="908.7" y1="1425.9" x2="1401.8" y2="1425.9" stroke="#000" stroke-width="3.5" stroke-linecap="butt"/>
<line x1="908.7" y1="1425.9" x2="923" y2="1425.9" stroke="#000" stroke-width="3.2" stroke-linecap="butt"/>
<text x="892.3" y="1432.2" font-size="20.62" font-weight="bold" fill="#000" textLength="11.12" lengthAdjust="spacingAndGlyphs">0</text>
<line x1="908.7" y1="1345.8" x2="923" y2="1345.8" stroke="#000" stroke-width="3.2" stroke-linecap="butt"/>
<text x="881.17" y="1352.12" font-size="20.62" font-weight="bold" fill="#000" textLength="22.25" lengthAdjust="spacingAndGlyphs">20</text>
<line x1="908.7" y1="1265.7" x2="923" y2="1265.7" stroke="#000" stroke-width="3.2" stroke-linecap="butt"/>
<text x="881.17" y="1272.04" font-size="20.62" font-weight="bold" fill="#000" textLength="22.25" lengthAdjust="spacingAndGlyphs">40</text>
<line x1="908.7" y1="1185.7" x2="923" y2="1185.7" stroke="#000" stroke-width="3.2" stroke-linecap="butt"/>
<text x="881.17" y="1191.96" font-size="20.62" font-weight="bold" fill="#000" textLength="22.25" lengthAdjust="spacingAndGlyphs">60</text>
<line x1="908.7" y1="1105.6" x2="923" y2="1105.6" stroke="#000" stroke-width="3.2" stroke-linecap="butt"/>
<text x="881.17" y="1111.88" font-size="20.62" font-weight="bold" fill="#000" textLength="22.25" lengthAdjust="spacingAndGlyphs">80</text>
<rect x="934.85" y="1384.15" width="15.7" height="40.85" fill="#fff" stroke="#000" stroke-width="3.9"/>
<line x1="942.3" y1="1383.2" x2="942.3" y2="1364.1" stroke="#000" stroke-width="2.3" stroke-linecap="butt"/>
<line x1="936.4" y1="1364.1" x2="948.2" y2="1364.1" stroke="#000" stroke-width="2.3" stroke-linecap="butt"/>
<rect x="963.5" y="1372.4" width="19.9" height="53.1" fill="#0a0706" stroke="none" stroke-width="0"/>
<line x1="973.5" y1="1373.4" x2="973.5" y2="1354.8" stroke="#000" stroke-width="2.3" stroke-linecap="butt"/>
<line x1="967.6" y1="1354.8" x2="979.4" y2="1354.8" stroke="#000" stroke-width="2.3" stroke-linecap="butt"/>
<rect x="1015.95" y="1222.65" width="16.1" height="202.35" fill="#fff" stroke="#000" stroke-width="3.9"/>
<line x1="1024" y1="1221.7" x2="1024" y2="1201.4" stroke="#000" stroke-width="2.3" stroke-linecap="butt"/>
<line x1="1018.3" y1="1201.4" x2="1029.7" y2="1201.4" stroke="#000" stroke-width="2.3" stroke-linecap="butt"/>
<rect x="1044.4" y="1193.9" width="20.8" height="231.6" fill="#0a0706" stroke="none" stroke-width="0"/>
<line x1="1055" y1="1194.9" x2="1055" y2="1168.3" stroke="#000" stroke-width="2.3" stroke-linecap="butt"/>
<line x1="1049.2" y1="1168.3" x2="1060.8" y2="1168.3" stroke="#000" stroke-width="2.3" stroke-linecap="butt"/>
<rect x="1098.15" y="1406.35" width="16" height="18.65" fill="#fff" stroke="#000" stroke-width="3.9"/>
<line x1="1106.2" y1="1405.4" x2="1106.2" y2="1390.1" stroke="#000" stroke-width="2.3" stroke-linecap="butt"/>
<line x1="1100.5" y1="1390.1" x2="1111.9" y2="1390.1" stroke="#000" stroke-width="2.3" stroke-linecap="butt"/>
<rect x="1127" y="1410" width="19.9" height="15.5" fill="#0a0706" stroke="none" stroke-width="0"/>
<line x1="1137" y1="1411" x2="1137" y2="1403.8" stroke="#000" stroke-width="2.3" stroke-linecap="butt"/>
<line x1="1131" y1="1403.8" x2="1143" y2="1403.8" stroke="#000" stroke-width="2.3" stroke-linecap="butt"/>
<rect x="1179.25" y="1363.75" width="15" height="61.25" fill="#fff" stroke="#000" stroke-width="3.9"/>
<line x1="1186.6" y1="1362.8" x2="1186.6" y2="1352.9" stroke="#000" stroke-width="2.3" stroke-linecap="butt"/>
<line x1="1181" y1="1352.9" x2="1192.1" y2="1352.9" stroke="#000" stroke-width="2.3" stroke-linecap="butt"/>
<rect x="1207.2" y="1385.7" width="20.5" height="39.8" fill="#0a0706" stroke="none" stroke-width="0"/>
<line x1="1217.7" y1="1386.7" x2="1217.7" y2="1370.2" stroke="#000" stroke-width="2.3" stroke-linecap="butt"/>
<line x1="1212.2" y1="1370.2" x2="1223.2" y2="1370.2" stroke="#000" stroke-width="2.3" stroke-linecap="butt"/>
<rect x="1260.65" y="1222.85" width="15.6" height="202.15" fill="#fff" stroke="#000" stroke-width="3.9"/>
<line x1="1268.7" y1="1221.9" x2="1268.7" y2="1201.6" stroke="#000" stroke-width="2.3" stroke-linecap="butt"/>
<line x1="1263.2" y1="1201.6" x2="1274.2" y2="1201.6" stroke="#000" stroke-width="2.3" stroke-linecap="butt"/>
<rect x="1289.3" y="1176.1" width="20" height="249.4" fill="#0a0706" stroke="none" stroke-width="0"/>
<line x1="1299.8" y1="1177.1" x2="1299.8" y2="1151" stroke="#000" stroke-width="2.3" stroke-linecap="butt"/>
<line x1="1294" y1="1151" x2="1305.5" y2="1151" stroke="#000" stroke-width="2.3" stroke-linecap="butt"/>
<rect x="1342.75" y="1406.55" width="15.4" height="18.45" fill="#fff" stroke="#000" stroke-width="3.9"/>
<line x1="1350.3" y1="1405.6" x2="1350.3" y2="1389.9" stroke="#000" stroke-width="2.3" stroke-linecap="butt"/>
<line x1="1344.5" y1="1389.9" x2="1356" y2="1389.9" stroke="#000" stroke-width="2.3" stroke-linecap="butt"/>
<rect x="1371.2" y="1409.9" width="19.5" height="15.6" fill="#0a0706" stroke="none" stroke-width="0"/>
<line x1="1381.2" y1="1410.9" x2="1381.2" y2="1403.9" stroke="#000" stroke-width="2.3" stroke-linecap="butt"/>
<line x1="1375.5" y1="1403.9" x2="1387" y2="1403.9" stroke="#000" stroke-width="2.3" stroke-linecap="butt"/>
<line x1="957.8" y1="1426" x2="957.8" y2="1439.4" stroke="#000" stroke-width="3.4" stroke-linecap="butt"/>
<line x1="1039.1" y1="1426" x2="1039.1" y2="1439.4" stroke="#000" stroke-width="3.4" stroke-linecap="butt"/>
<line x1="1121.4" y1="1426" x2="1121.4" y2="1439.4" stroke="#000" stroke-width="3.4" stroke-linecap="butt"/>
<line x1="1201" y1="1426" x2="1201" y2="1439.4" stroke="#000" stroke-width="3.4" stroke-linecap="butt"/>
<line x1="1283.1" y1="1426" x2="1283.1" y2="1439.4" stroke="#000" stroke-width="3.4" stroke-linecap="butt"/>
<line x1="1365.9" y1="1426" x2="1365.9" y2="1439.4" stroke="#000" stroke-width="3.4" stroke-linecap="butt"/>
<path d="M1178.85 1313.5V1330.2M1218.8 1313.5V1330.2M1178.85 1321.8H1218.8" stroke="#000" stroke-width="4.4" stroke-linecap="round" fill="none"/>
<path d="M1258.75 1123.3V1139.5M1298.4 1123.3V1139.5M1258.75 1130.9H1298.4" stroke="#000" stroke-width="4.4" stroke-linecap="round" fill="none"/>
<text x="1194.05" y="1315.89" font-size="21.93" font-weight="normal" fill="#000" textLength="8.38" lengthAdjust="spacingAndGlyphs">*</text>
<text x="1273.85" y="1126.07" font-size="23.36" font-weight="normal" fill="#000" textLength="8.49" lengthAdjust="spacingAndGlyphs">*</text>
<text x="863.63" y="1335.93" font-size="27.37" font-weight="bold" fill="#000" textLength="117.38" lengthAdjust="spacingAndGlyphs" transform="rotate(-90 863.63 1335.93)">% of cells</text>
<text x="925.55" y="1466.17" font-size="23.29" font-weight="bold" fill="#000" textLength="64.01" lengthAdjust="spacingAndGlyphs">naive</text>
<text x="1020.62" y="1466.4" font-size="24.86" font-weight="bold" fill="#000" textLength="37.66" lengthAdjust="spacingAndGlyphs">EM</text>
<text x="1101.98" y="1466.35" font-size="25.14" font-weight="bold" fill="#000" textLength="38.68" lengthAdjust="spacingAndGlyphs">CM</text>
<text x="1170.37" y="1466.17" font-size="23.29" font-weight="bold" fill="#000" textLength="63.07" lengthAdjust="spacingAndGlyphs">naive</text>
<text x="1264.93" y="1466.4" font-size="24.86" font-weight="bold" fill="#000" textLength="37.44" lengthAdjust="spacingAndGlyphs">EM</text>
<text x="1346.27" y="1466.35" font-size="25.14" font-weight="bold" fill="#000" textLength="39.11" lengthAdjust="spacingAndGlyphs">CM</text>
<path d="M935.5 1489.1H1148.5M1179.4 1488.2H1392.6" stroke="#000" stroke-width="4.8" stroke-linecap="round"/>
<text x="1018.06" y="1522.05" font-size="25.99" font-weight="normal" fill="#000" textLength="52.61" lengthAdjust="spacingAndGlyphs">CD4</text>
<text x="1260.81" y="1522.05" font-size="25.99" font-weight="normal" fill="#000" textLength="54.68" lengthAdjust="spacingAndGlyphs">CD8</text>
</svg></body></html>
